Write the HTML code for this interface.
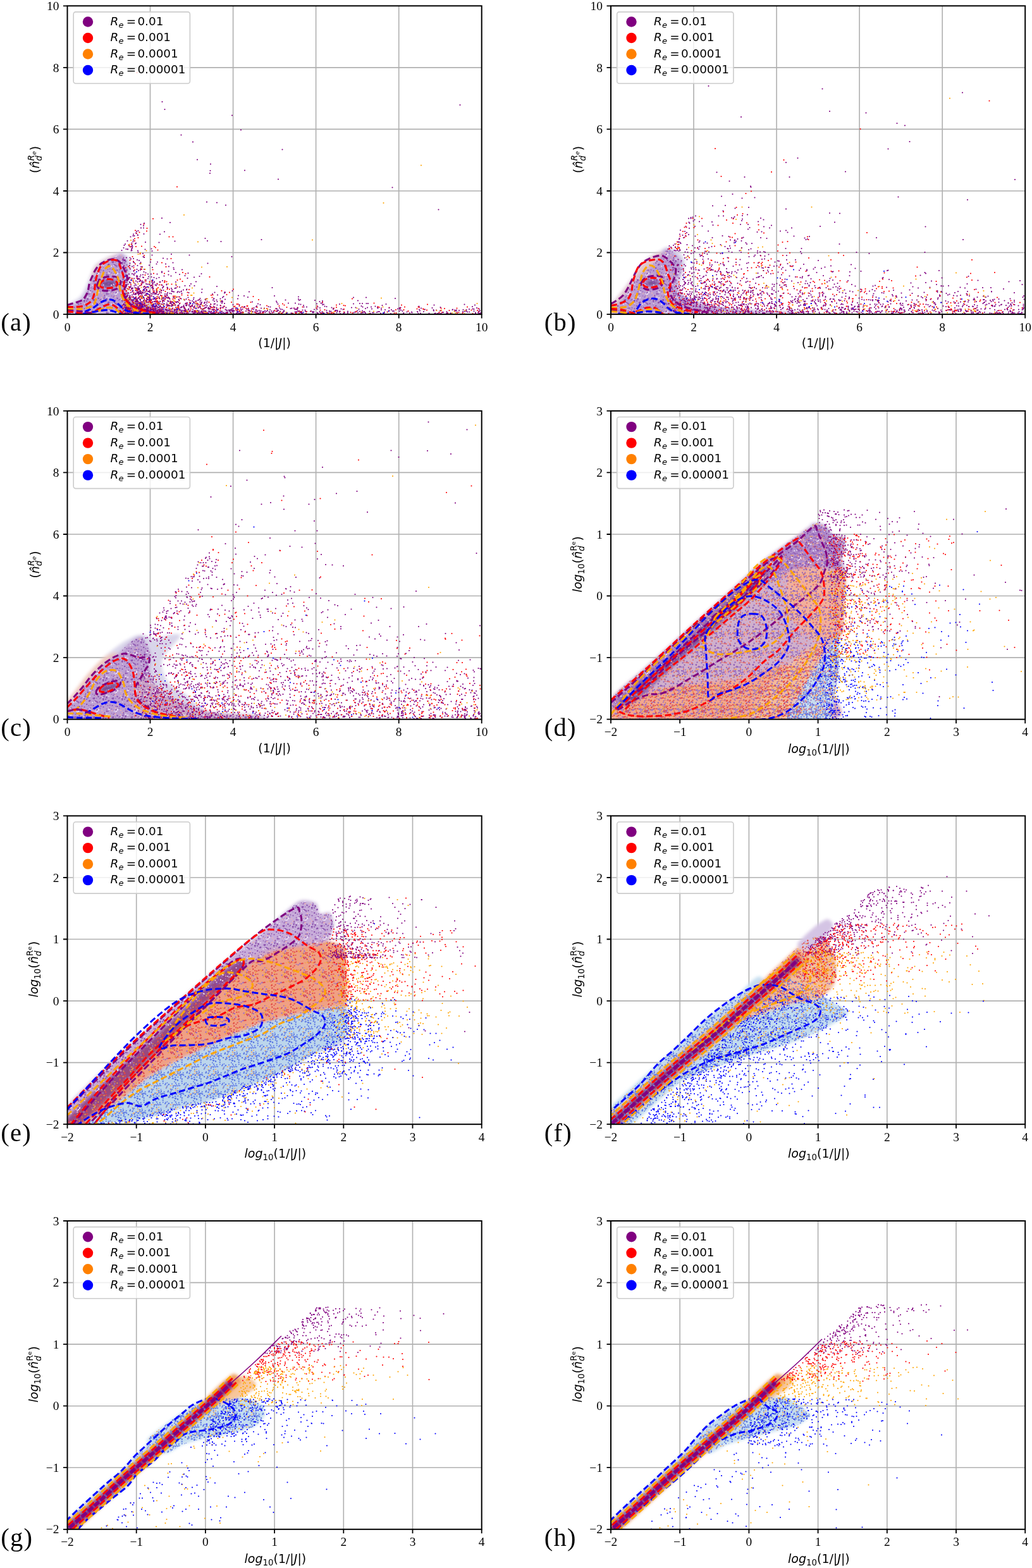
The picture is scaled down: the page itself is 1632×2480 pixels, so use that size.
<!DOCTYPE html><html><head><meta charset="utf-8"><style>html,body{margin:0;padding:0;background:#fff;}svg{display:block;}</style></head><body><svg width="1632" height="2480" viewBox="0 0 1632 2480"><defs><pattern id="tp" width="30" height="30" patternUnits="userSpaceOnUse"><circle cx="13.6" cy="16.8" r="1.1" fill="#eab4b4"/><circle cx="15.2" cy="17.6" r="1.1" fill="#8a50ac"/><circle cx="18.9" cy="23.8" r="1.0" fill="#8a50ac"/><circle cx="2.7" cy="24.3" r="0.9" fill="#9c6cbc"/><circle cx="-0.5" cy="-1.1" r="1.1" fill="#9c6cbc"/><circle cx="-0.5" cy="28.9" r="1.1" fill="#9c6cbc"/><circle cx="29.5" cy="-1.1" r="1.1" fill="#9c6cbc"/><circle cx="29.5" cy="28.9" r="1.1" fill="#9c6cbc"/><circle cx="4.7" cy="0.5" r="0.9" fill="#9c6cbc"/><circle cx="4.7" cy="30.5" r="0.9" fill="#9c6cbc"/><circle cx="5.7" cy="7.3" r="1.1" fill="#8a50ac"/><circle cx="13.2" cy="25.3" r="1.1" fill="#9c6cbc"/><circle cx="15" cy="19.9" r="1.0" fill="#9c6cbc"/><circle cx="-0.1" cy="-0.1" r="1.1" fill="#e6d8f0"/><circle cx="-0.1" cy="29.9" r="1.1" fill="#e6d8f0"/><circle cx="29.9" cy="-0.1" r="1.1" fill="#e6d8f0"/><circle cx="29.9" cy="29.9" r="1.1" fill="#e6d8f0"/><circle cx="9.5" cy="6.9" r="0.9" fill="#8a50ac"/><circle cx="23" cy="12" r="1.0" fill="#e6d8f0"/><circle cx="-1.3" cy="25.4" r="1.0" fill="#8a50ac"/><circle cx="28.7" cy="25.4" r="1.0" fill="#8a50ac"/><circle cx="27.3" cy="14.1" r="1.0" fill="#eab4b4"/><circle cx="2.2" cy="18.9" r="1.0" fill="#e6d8f0"/><circle cx="2.6" cy="10" r="1.2" fill="#eab4b4"/><circle cx="3.5" cy="7.4" r="0.9" fill="#8a50ac"/><circle cx="23.9" cy="5.3" r="1.1" fill="#9c6cbc"/><circle cx="5.7" cy="22" r="1.1" fill="#8a50ac"/><circle cx="3.5" cy="12.6" r="1.0" fill="#8a50ac"/><circle cx="-0.9" cy="24.1" r="1.2" fill="#8a50ac"/><circle cx="29.1" cy="24.1" r="1.2" fill="#8a50ac"/><circle cx="6.3" cy="11.8" r="1.1" fill="#e6d8f0"/><circle cx="3" cy="-0.3" r="1.0" fill="#8a50ac"/><circle cx="3" cy="29.7" r="1.0" fill="#8a50ac"/><circle cx="23.2" cy="9.9" r="0.9" fill="#8a50ac"/><circle cx="2.7" cy="17.5" r="1.1" fill="#8a50ac"/><circle cx="11.2" cy="13.6" r="1.1" fill="#eab4b4"/><circle cx="17.2" cy="26" r="1.0" fill="#8a50ac"/><circle cx="27.3" cy="24.5" r="1.0" fill="#8a50ac"/><circle cx="22.2" cy="-1.8" r="1.2" fill="#8a50ac"/><circle cx="22.2" cy="28.2" r="1.2" fill="#8a50ac"/><circle cx="26.5" cy="18.1" r="0.9" fill="#9c6cbc"/><circle cx="1.2" cy="-1.1" r="1.1" fill="#8a50ac"/><circle cx="1.2" cy="28.9" r="1.1" fill="#8a50ac"/><circle cx="31.2" cy="-1.1" r="1.1" fill="#8a50ac"/><circle cx="31.2" cy="28.9" r="1.1" fill="#8a50ac"/><circle cx="7.7" cy="24.7" r="1.0" fill="#9c6cbc"/><circle cx="5.3" cy="21.6" r="1.0" fill="#8a50ac"/><circle cx="16.8" cy="25.6" r="1.0" fill="#9c6cbc"/><circle cx="27.5" cy="6.1" r="1.0" fill="#8a50ac"/><circle cx="13.4" cy="1.8" r="1.0" fill="#8a50ac"/><circle cx="13.4" cy="31.8" r="1.0" fill="#8a50ac"/><circle cx="17.2" cy="3.9" r="1.2" fill="#8a50ac"/><circle cx="-0.6" cy="19.7" r="1.1" fill="#9c6cbc"/><circle cx="29.4" cy="19.7" r="1.1" fill="#9c6cbc"/><circle cx="4.2" cy="1.1" r="1.2" fill="#8a50ac"/><circle cx="4.2" cy="31.1" r="1.2" fill="#8a50ac"/><circle cx="21" cy="-1.1" r="1.1" fill="#8a50ac"/><circle cx="21" cy="28.9" r="1.1" fill="#8a50ac"/><circle cx="14.5" cy="21.9" r="1.2" fill="#8a50ac"/><circle cx="2.3" cy="16.4" r="1.2" fill="#e6d8f0"/><circle cx="22.1" cy="21.1" r="1.2" fill="#e6d8f0"/><circle cx="10.6" cy="20.6" r="1.2" fill="#eab4b4"/><circle cx="12.5" cy="23.7" r="1.1" fill="#e6d8f0"/><circle cx="18.7" cy="11.5" r="1.1" fill="#9c6cbc"/><circle cx="2.4" cy="19.2" r="1.2" fill="#eab4b4"/><circle cx="21.8" cy="11.7" r="1.1" fill="#e6d8f0"/><circle cx="13.2" cy="25.2" r="1.2" fill="#8a50ac"/><circle cx="0.9" cy="18" r="1.0" fill="#9c6cbc"/><circle cx="30.9" cy="18" r="1.0" fill="#9c6cbc"/><circle cx="21" cy="14.9" r="1.2" fill="#9c6cbc"/><circle cx="7.7" cy="0.3" r="1.1" fill="#8a50ac"/><circle cx="7.7" cy="30.3" r="1.1" fill="#8a50ac"/><circle cx="6.1" cy="5.1" r="1.1" fill="#eab4b4"/><circle cx="13.3" cy="26.8" r="1.1" fill="#8a50ac"/><circle cx="6" cy="12.9" r="1.2" fill="#e6d8f0"/><circle cx="26.4" cy="11.5" r="1.0" fill="#9c6cbc"/><circle cx="4.1" cy="14.9" r="1.2" fill="#e6d8f0"/><circle cx="21.3" cy="-1.5" r="1.0" fill="#8a50ac"/><circle cx="21.3" cy="28.5" r="1.0" fill="#8a50ac"/><circle cx="13.5" cy="8.3" r="1.0" fill="#8a50ac"/><circle cx="18.8" cy="14.8" r="1.2" fill="#8a50ac"/><circle cx="-0.5" cy="13.6" r="0.9" fill="#8a50ac"/><circle cx="29.5" cy="13.6" r="0.9" fill="#8a50ac"/><circle cx="26.2" cy="1.2" r="1.1" fill="#e6d8f0"/><circle cx="26.2" cy="31.2" r="1.1" fill="#e6d8f0"/><circle cx="9.3" cy="23.7" r="0.9" fill="#8a50ac"/><circle cx="13.6" cy="0.7" r="1.0" fill="#e6d8f0"/><circle cx="13.6" cy="30.7" r="1.0" fill="#e6d8f0"/><circle cx="4.2" cy="1.4" r="1.1" fill="#9c6cbc"/><circle cx="4.2" cy="31.4" r="1.1" fill="#9c6cbc"/><circle cx="18.9" cy="19.7" r="1.2" fill="#e6d8f0"/><circle cx="20.5" cy="6" r="1.0" fill="#9c6cbc"/><circle cx="0.3" cy="14.2" r="1.0" fill="#e6d8f0"/><circle cx="30.3" cy="14.2" r="1.0" fill="#e6d8f0"/><circle cx="8.2" cy="10.4" r="1.1" fill="#9c6cbc"/><circle cx="18.4" cy="22.7" r="1.2" fill="#8a50ac"/></pattern><pattern id="tm" width="30" height="30" patternUnits="userSpaceOnUse"><circle cx="14.2" cy="19.7" r="0.9" fill="#a078c8"/><circle cx="0.3" cy="11.2" r="1.2" fill="#9466b8"/><circle cx="30.3" cy="11.2" r="1.2" fill="#9466b8"/><circle cx="20.7" cy="18" r="1.1" fill="#e07070"/><circle cx="4.4" cy="13.2" r="1.2" fill="#9466b8"/><circle cx="1.8" cy="24.6" r="1.1" fill="#9466b8"/><circle cx="31.8" cy="24.6" r="1.1" fill="#9466b8"/><circle cx="10.1" cy="12.1" r="0.9" fill="#f0a0a0"/><circle cx="1.8" cy="27.5" r="0.9" fill="#e07070"/><circle cx="31.8" cy="27.5" r="0.9" fill="#e07070"/><circle cx="-0.4" cy="-1.6" r="1.0" fill="#9466b8"/><circle cx="-0.4" cy="28.4" r="1.0" fill="#9466b8"/><circle cx="29.6" cy="-1.6" r="1.0" fill="#9466b8"/><circle cx="29.6" cy="28.4" r="1.0" fill="#9466b8"/><circle cx="4.1" cy="9.4" r="1.0" fill="#a078c8"/><circle cx="20.9" cy="1.5" r="1.2" fill="#9466b8"/><circle cx="20.9" cy="31.5" r="1.2" fill="#9466b8"/><circle cx="12" cy="12.6" r="1.1" fill="#a078c8"/><circle cx="11.5" cy="0.9" r="1.2" fill="#a078c8"/><circle cx="11.5" cy="30.9" r="1.2" fill="#a078c8"/><circle cx="-0.7" cy="19.9" r="1.0" fill="#e07070"/><circle cx="29.3" cy="19.9" r="1.0" fill="#e07070"/><circle cx="20.7" cy="20.2" r="1.0" fill="#9466b8"/><circle cx="10.9" cy="15.3" r="1.1" fill="#f0a0a0"/><circle cx="0.8" cy="24.7" r="1.1" fill="#e07070"/><circle cx="30.8" cy="24.7" r="1.1" fill="#e07070"/><circle cx="6.7" cy="12.8" r="1.2" fill="#e07070"/><circle cx="3.1" cy="16.5" r="1.1" fill="#9466b8"/><circle cx="1.1" cy="8.3" r="1.1" fill="#e07070"/><circle cx="31.1" cy="8.3" r="1.1" fill="#e07070"/><circle cx="1.6" cy="13.8" r="1.0" fill="#9466b8"/><circle cx="31.6" cy="13.8" r="1.0" fill="#9466b8"/><circle cx="14.3" cy="-1.2" r="1.2" fill="#e07070"/><circle cx="14.3" cy="28.8" r="1.2" fill="#e07070"/><circle cx="5" cy="27.7" r="1.0" fill="#e07070"/><circle cx="22.5" cy="27.4" r="1.0" fill="#9466b8"/><circle cx="23.1" cy="10.3" r="0.9" fill="#9466b8"/><circle cx="1.2" cy="18.6" r="1.2" fill="#f0a860"/><circle cx="31.2" cy="18.6" r="1.2" fill="#f0a860"/><circle cx="15.1" cy="0.7" r="1.2" fill="#9466b8"/><circle cx="15.1" cy="30.7" r="1.2" fill="#9466b8"/><circle cx="25" cy="19.2" r="1.1" fill="#9466b8"/><circle cx="14.3" cy="18.8" r="1.2" fill="#9466b8"/><circle cx="26.8" cy="4.9" r="1.2" fill="#9466b8"/><circle cx="8.3" cy="-1.7" r="1.1" fill="#e07070"/><circle cx="8.3" cy="28.3" r="1.1" fill="#e07070"/><circle cx="21.1" cy="6.4" r="1.0" fill="#9466b8"/><circle cx="20.5" cy="20.8" r="1.2" fill="#9466b8"/><circle cx="12.6" cy="7.2" r="1.2" fill="#e07070"/><circle cx="16.8" cy="18.7" r="1.2" fill="#f0a860"/><circle cx="22.8" cy="12.5" r="1.2" fill="#a078c8"/><circle cx="23.7" cy="17.4" r="1.0" fill="#e07070"/><circle cx="22.1" cy="16.9" r="1.1" fill="#9466b8"/><circle cx="27.1" cy="23.9" r="1.2" fill="#f0a0a0"/><circle cx="16" cy="23.7" r="0.9" fill="#e07070"/><circle cx="10.6" cy="9.4" r="1.1" fill="#f0a860"/><circle cx="16.2" cy="18.7" r="1.1" fill="#9466b8"/><circle cx="21" cy="11.8" r="1.0" fill="#9466b8"/><circle cx="9.7" cy="20.6" r="0.9" fill="#9466b8"/><circle cx="9.4" cy="20.9" r="1.1" fill="#f0a0a0"/><circle cx="-2" cy="11" r="1.1" fill="#9466b8"/><circle cx="28" cy="11" r="1.1" fill="#9466b8"/><circle cx="13.3" cy="5.4" r="1.0" fill="#a078c8"/><circle cx="7.2" cy="9.8" r="0.9" fill="#f0a860"/><circle cx="10.8" cy="8.4" r="1.1" fill="#9466b8"/><circle cx="6.6" cy="27.6" r="1.1" fill="#e07070"/><circle cx="4.9" cy="13.9" r="1.2" fill="#a078c8"/><circle cx="7.5" cy="13.8" r="1.2" fill="#f0a0a0"/><circle cx="6.8" cy="16.1" r="1.0" fill="#f0a0a0"/><circle cx="20.2" cy="19.9" r="1.1" fill="#f0a860"/><circle cx="20.4" cy="10.5" r="1.0" fill="#a078c8"/><circle cx="15" cy="10.8" r="0.9" fill="#9466b8"/><circle cx="6.8" cy="16.3" r="0.9" fill="#9466b8"/><circle cx="24.1" cy="8.6" r="1.1" fill="#f0a860"/><circle cx="11.7" cy="26.2" r="1.0" fill="#f0a0a0"/><circle cx="3.8" cy="19.2" r="1.1" fill="#f0a0a0"/><circle cx="23.5" cy="12.4" r="1.0" fill="#a078c8"/><circle cx="12.2" cy="11.4" r="1.0" fill="#e07070"/><circle cx="24.2" cy="5.1" r="1.0" fill="#9466b8"/><circle cx="-0.9" cy="15.7" r="1.2" fill="#9466b8"/><circle cx="29.1" cy="15.7" r="1.2" fill="#9466b8"/><circle cx="26.2" cy="24.6" r="1.2" fill="#e07070"/><circle cx="9.2" cy="4.1" r="1.2" fill="#f0a0a0"/><circle cx="6.3" cy="26.4" r="1.0" fill="#9466b8"/><circle cx="0.4" cy="5.1" r="1.2" fill="#9466b8"/><circle cx="30.4" cy="5.1" r="1.2" fill="#9466b8"/><circle cx="8.9" cy="5.7" r="1.0" fill="#9466b8"/><circle cx="25.9" cy="18.2" r="1.1" fill="#9466b8"/><circle cx="16.1" cy="13.5" r="1.1" fill="#e07070"/><circle cx="24" cy="15.2" r="1.1" fill="#a078c8"/><circle cx="19" cy="11.7" r="1.1" fill="#e07070"/><circle cx="21.5" cy="8.4" r="1.1" fill="#f0a860"/><circle cx="25.7" cy="20.7" r="1.1" fill="#f0a860"/><circle cx="12.8" cy="12.2" r="1.2" fill="#a078c8"/><circle cx="25.2" cy="3.9" r="0.9" fill="#9466b8"/><circle cx="2.5" cy="1.7" r="1.0" fill="#9466b8"/><circle cx="2.5" cy="31.7" r="1.0" fill="#9466b8"/><circle cx="3.4" cy="20.6" r="1.2" fill="#a078c8"/></pattern><pattern id="tr" width="30" height="30" patternUnits="userSpaceOnUse"><circle cx="7.8" cy="20.6" r="1.2" fill="#f0a040"/><circle cx="5.6" cy="6.9" r="1.0" fill="#e04848"/><circle cx="22" cy="3.9" r="1.0" fill="#f0a040"/><circle cx="8.8" cy="12.9" r="1.1" fill="#a070c0"/><circle cx="0.4" cy="8.3" r="1.2" fill="#e04848"/><circle cx="30.4" cy="8.3" r="1.2" fill="#e04848"/><circle cx="24.3" cy="24.2" r="1.2" fill="#a070c0"/><circle cx="-1.5" cy="23.8" r="1.2" fill="#e04848"/><circle cx="28.5" cy="23.8" r="1.2" fill="#e04848"/><circle cx="14.6" cy="22.7" r="1.1" fill="#f0a040"/><circle cx="10.9" cy="12.9" r="0.9" fill="#e04848"/><circle cx="24.6" cy="23.9" r="1.1" fill="#a070c0"/><circle cx="16.6" cy="22.5" r="1.1" fill="#e04848"/><circle cx="13.3" cy="5.3" r="1.1" fill="#e04848"/><circle cx="7.6" cy="13.8" r="1.0" fill="#f0a040"/><circle cx="3.9" cy="14.7" r="1.0" fill="#e04848"/><circle cx="5.8" cy="11" r="1.1" fill="#e04848"/><circle cx="-1.4" cy="11.7" r="1.2" fill="#f0a040"/><circle cx="28.6" cy="11.7" r="1.2" fill="#f0a040"/><circle cx="1.3" cy="4.3" r="1.2" fill="#a070c0"/><circle cx="31.3" cy="4.3" r="1.2" fill="#a070c0"/><circle cx="19.2" cy="4.8" r="1.2" fill="#e04848"/><circle cx="26.6" cy="24.1" r="1.2" fill="#e04848"/><circle cx="11.2" cy="21.5" r="1.2" fill="#e04848"/><circle cx="18.1" cy="21.7" r="1.1" fill="#e04848"/><circle cx="17.4" cy="17.7" r="1.2" fill="#e04848"/><circle cx="10.2" cy="8.9" r="1.1" fill="#e04848"/><circle cx="3.4" cy="6.8" r="1.1" fill="#e04848"/><circle cx="16.7" cy="16.3" r="1.1" fill="#e04848"/><circle cx="10.3" cy="2.8" r="1.2" fill="#e04848"/><circle cx="3.6" cy="9" r="1.1" fill="#e04848"/><circle cx="2.3" cy="14.1" r="1.2" fill="#e04848"/><circle cx="0.2" cy="10" r="1.2" fill="#f0a040"/><circle cx="30.2" cy="10" r="1.2" fill="#f0a040"/><circle cx="15.5" cy="14.2" r="1.0" fill="#f0a040"/><circle cx="1" cy="15" r="1.2" fill="#a070c0"/><circle cx="31" cy="15" r="1.2" fill="#a070c0"/><circle cx="7.7" cy="20.5" r="1.0" fill="#a070c0"/><circle cx="17.6" cy="10.7" r="1.0" fill="#e04848"/><circle cx="6.1" cy="10.5" r="1.0" fill="#e04848"/><circle cx="2.6" cy="22.7" r="0.9" fill="#f0a040"/><circle cx="23.2" cy="5.7" r="1.1" fill="#f0a040"/><circle cx="10" cy="8.7" r="0.9" fill="#e04848"/><circle cx="25.9" cy="3.4" r="1.0" fill="#a070c0"/><circle cx="9.1" cy="11.7" r="0.9" fill="#e04848"/><circle cx="10.8" cy="13.3" r="1.2" fill="#a070c0"/><circle cx="1.3" cy="16.1" r="1.2" fill="#e04848"/><circle cx="31.3" cy="16.1" r="1.2" fill="#e04848"/><circle cx="9.7" cy="26.8" r="0.9" fill="#f0a040"/><circle cx="0.1" cy="7.4" r="1.0" fill="#a070c0"/><circle cx="30.1" cy="7.4" r="1.0" fill="#a070c0"/><circle cx="14.4" cy="11.1" r="1.2" fill="#e04848"/><circle cx="6.4" cy="21.6" r="1.2" fill="#f0a040"/><circle cx="15.6" cy="27.6" r="1.1" fill="#e04848"/><circle cx="18.6" cy="25.2" r="0.9" fill="#a070c0"/><circle cx="4.1" cy="16" r="1.1" fill="#a070c0"/><circle cx="9" cy="-1.1" r="0.9" fill="#e04848"/><circle cx="9" cy="28.9" r="0.9" fill="#e04848"/><circle cx="1.6" cy="0.9" r="0.9" fill="#f0a040"/><circle cx="1.6" cy="30.9" r="0.9" fill="#f0a040"/><circle cx="31.6" cy="0.9" r="0.9" fill="#f0a040"/><circle cx="31.6" cy="30.9" r="0.9" fill="#f0a040"/><circle cx="21.5" cy="26" r="1.2" fill="#a070c0"/><circle cx="12.7" cy="18.7" r="1.2" fill="#a070c0"/><circle cx="8.7" cy="22.9" r="1.0" fill="#e04848"/><circle cx="-0.1" cy="14.1" r="1.2" fill="#e04848"/><circle cx="29.9" cy="14.1" r="1.2" fill="#e04848"/><circle cx="13.5" cy="0.1" r="1.0" fill="#e04848"/><circle cx="13.5" cy="30.1" r="1.0" fill="#e04848"/><circle cx="10" cy="-1.9" r="1.2" fill="#e04848"/><circle cx="10" cy="28.1" r="1.2" fill="#e04848"/><circle cx="25.6" cy="12.5" r="1.2" fill="#a070c0"/><circle cx="14.5" cy="7.8" r="1.2" fill="#f0a040"/><circle cx="16.1" cy="5.8" r="1.1" fill="#e04848"/><circle cx="5.7" cy="17.2" r="1.2" fill="#e04848"/><circle cx="5.4" cy="3.1" r="1.0" fill="#f0a040"/><circle cx="26.6" cy="14.9" r="1.2" fill="#f0a040"/><circle cx="6.4" cy="22.4" r="1.0" fill="#f0a040"/><circle cx="-1.2" cy="0.7" r="1.0" fill="#a070c0"/><circle cx="-1.2" cy="30.7" r="1.0" fill="#a070c0"/><circle cx="28.8" cy="0.7" r="1.0" fill="#a070c0"/><circle cx="28.8" cy="30.7" r="1.0" fill="#a070c0"/><circle cx="25.2" cy="4.6" r="1.1" fill="#e04848"/><circle cx="27.8" cy="7.7" r="1.1" fill="#f0a040"/></pattern><pattern id="tb" width="30" height="30" patternUnits="userSpaceOnUse"><circle cx="3.2" cy="21.1" r="1.2" fill="#6f88e8"/><circle cx="8.1" cy="7.7" r="1.1" fill="#6f88e8"/><circle cx="9.1" cy="20.5" r="1.2" fill="#5c78e2"/><circle cx="3.6" cy="6.7" r="1.0" fill="#f0b070"/><circle cx="7.8" cy="24.1" r="1.0" fill="#6f88e8"/><circle cx="16.5" cy="19.9" r="1.1" fill="#5c78e2"/><circle cx="3.7" cy="10.1" r="1.0" fill="#5c78e2"/><circle cx="-0.7" cy="12.1" r="1.1" fill="#f0b070"/><circle cx="29.3" cy="12.1" r="1.1" fill="#f0b070"/><circle cx="18.2" cy="26.2" r="0.9" fill="#6f88e8"/><circle cx="17.7" cy="19" r="0.9" fill="#5c78e2"/><circle cx="26.2" cy="15.4" r="1.1" fill="#5c78e2"/><circle cx="6.5" cy="23.9" r="0.9" fill="#5c78e2"/><circle cx="24.5" cy="2.7" r="0.9" fill="#5c78e2"/><circle cx="22.2" cy="3.4" r="0.9" fill="#5c78e2"/><circle cx="14.4" cy="20.6" r="1.1" fill="#5c78e2"/><circle cx="14.5" cy="13.1" r="0.9" fill="#6f88e8"/><circle cx="14.2" cy="7.1" r="1.2" fill="#6f88e8"/><circle cx="2" cy="4.3" r="1.1" fill="#6f88e8"/><circle cx="32" cy="4.3" r="1.1" fill="#6f88e8"/><circle cx="0.6" cy="21.1" r="1.0" fill="#f0b070"/><circle cx="30.6" cy="21.1" r="1.0" fill="#f0b070"/><circle cx="10.4" cy="17.1" r="1.0" fill="#f0b070"/><circle cx="9.1" cy="5.7" r="1.1" fill="#6f88e8"/><circle cx="7.7" cy="11.6" r="1.0" fill="#5c78e2"/><circle cx="-0.5" cy="17.6" r="1.2" fill="#5c78e2"/><circle cx="29.5" cy="17.6" r="1.2" fill="#5c78e2"/><circle cx="10.7" cy="7.5" r="1.0" fill="#5c78e2"/><circle cx="6" cy="6.9" r="1.0" fill="#6f88e8"/><circle cx="7.5" cy="18.1" r="1.0" fill="#f0b070"/><circle cx="22.8" cy="11.1" r="1.1" fill="#6f88e8"/><circle cx="-1.7" cy="22.7" r="1.2" fill="#5c78e2"/><circle cx="28.3" cy="22.7" r="1.2" fill="#5c78e2"/><circle cx="11" cy="11.5" r="1.1" fill="#f0b070"/><circle cx="23.2" cy="9.4" r="1.1" fill="#f0b070"/><circle cx="7.4" cy="-2" r="1.0" fill="#5c78e2"/><circle cx="7.4" cy="28" r="1.0" fill="#5c78e2"/><circle cx="7.9" cy="3.1" r="1.1" fill="#5c78e2"/><circle cx="4.2" cy="7.8" r="1.1" fill="#5c78e2"/><circle cx="11.4" cy="23.6" r="1.0" fill="#5c78e2"/><circle cx="12.8" cy="3.9" r="1.0" fill="#5c78e2"/><circle cx="21.8" cy="4.4" r="1.0" fill="#6f88e8"/><circle cx="19.4" cy="19.7" r="1.2" fill="#5c78e2"/><circle cx="19.7" cy="16.7" r="1.0" fill="#5c78e2"/><circle cx="8" cy="14.1" r="1.2" fill="#f0b070"/><circle cx="1.9" cy="20.4" r="1.1" fill="#f0b070"/><circle cx="31.9" cy="20.4" r="1.1" fill="#f0b070"/><circle cx="2.9" cy="26" r="1.2" fill="#5c78e2"/><circle cx="26.2" cy="24.9" r="0.9" fill="#f0b070"/><circle cx="23.8" cy="9.2" r="1.0" fill="#5c78e2"/><circle cx="17.7" cy="0.1" r="1.2" fill="#5c78e2"/><circle cx="17.7" cy="30.1" r="1.2" fill="#5c78e2"/><circle cx="14.9" cy="15.8" r="1.2" fill="#5c78e2"/><circle cx="7.4" cy="20.4" r="0.9" fill="#6f88e8"/><circle cx="-0.1" cy="7.1" r="1.2" fill="#f0b070"/><circle cx="29.9" cy="7.1" r="1.2" fill="#f0b070"/><circle cx="27" cy="25.7" r="1.1" fill="#5c78e2"/><circle cx="10.4" cy="-1.9" r="0.9" fill="#5c78e2"/><circle cx="10.4" cy="28.1" r="0.9" fill="#5c78e2"/><circle cx="-1.3" cy="24.2" r="1.2" fill="#6f88e8"/><circle cx="28.7" cy="24.2" r="1.2" fill="#6f88e8"/><circle cx="15.7" cy="25.1" r="1.2" fill="#5c78e2"/><circle cx="2.1" cy="13.1" r="1.2" fill="#6f88e8"/><circle cx="12.7" cy="20.4" r="1.0" fill="#f0b070"/><circle cx="6" cy="0.9" r="1.1" fill="#6f88e8"/><circle cx="6" cy="30.9" r="1.1" fill="#6f88e8"/><circle cx="11.6" cy="15.6" r="1.0" fill="#5c78e2"/><circle cx="7.1" cy="7.7" r="1.0" fill="#6f88e8"/><circle cx="2.7" cy="26" r="0.9" fill="#6f88e8"/><circle cx="20.3" cy="20.6" r="1.2" fill="#6f88e8"/><circle cx="12.7" cy="6.7" r="1.1" fill="#6f88e8"/><circle cx="21.1" cy="5.5" r="1.1" fill="#5c78e2"/><circle cx="11.5" cy="18.1" r="1.2" fill="#5c78e2"/><circle cx="10.5" cy="14.9" r="1.0" fill="#6f88e8"/><circle cx="5.3" cy="19.1" r="1.2" fill="#5c78e2"/><circle cx="8.2" cy="27.1" r="1.0" fill="#5c78e2"/><circle cx="15.6" cy="20.5" r="1.1" fill="#5c78e2"/><circle cx="11.1" cy="-1.2" r="1.2" fill="#5c78e2"/><circle cx="11.1" cy="28.8" r="1.2" fill="#5c78e2"/><circle cx="0.7" cy="15.2" r="0.9" fill="#5c78e2"/><circle cx="30.7" cy="15.2" r="0.9" fill="#5c78e2"/><circle cx="17.7" cy="27.1" r="1.0" fill="#5c78e2"/><circle cx="14.3" cy="18.2" r="1.0" fill="#5c78e2"/><circle cx="25.6" cy="16.7" r="1.2" fill="#5c78e2"/><circle cx="0" cy="13" r="1.0" fill="#5c78e2"/><circle cx="30" cy="13" r="1.0" fill="#5c78e2"/><circle cx="26.9" cy="5.2" r="1.2" fill="#5c78e2"/><circle cx="3.4" cy="25.5" r="1.0" fill="#5c78e2"/><circle cx="17.8" cy="3.4" r="1.1" fill="#6f88e8"/><circle cx="23.1" cy="22.9" r="1.2" fill="#5c78e2"/><circle cx="24.6" cy="7.3" r="1.0" fill="#6f88e8"/><circle cx="16.2" cy="22.6" r="1.1" fill="#5c78e2"/><circle cx="3.9" cy="25.9" r="1.2" fill="#6f88e8"/><circle cx="2.4" cy="22.4" r="1.1" fill="#5c78e2"/><circle cx="6.9" cy="27" r="1.1" fill="#5c78e2"/></pattern><filter id="soft" x="-5%" y="-5%" width="110%" height="110%"><feGaussianBlur stdDeviation="2.5"/></filter></defs><path d="M237.5 9.3V497.1M368.6 9.3V497.1M499.6 9.3V497.1M630.7 9.3V497.1M106.5 399.5H761.7M106.5 302H761.7M106.5 204.4H761.7M106.5 106.9H761.7" stroke="#b0b0b0" stroke-width="1.6" fill="none"/><clipPath id="clip-a"><rect x="106.5" y="9.3" width="655.2" height="487.8"/></clipPath><g clip-path="url(#clip-a)"><g filter="url(#soft)"><path d="M106 481.8C106.4 480 106.7 482.1 109.1 480.7C111.5 479.3 123.3 473 126.5 469.6C129.7 466.1 133.9 456.9 136.7 451.2C139.4 445.5 146.3 425.5 149.9 420.5C153.4 415.5 163.5 410.4 167.3 408.3C171.1 406.1 179.7 403 182.6 402.1C185.5 401.3 190 400.2 192.2 400.6C194.4 401.1 200.2 404.2 201.8 406C203.3 407.7 204.9 413.1 205.6 415.6C206.3 418 207.5 424.1 207.5 427C207.5 430 206.2 437.8 205.6 440.5C205.1 443.1 203.2 447.8 202.7 450C202.3 452.3 201.2 457.2 201.8 459.6C202.3 462.1 205.3 468.7 207.5 471.1C209.8 473.6 217.1 478.8 220.9 480.7C224.7 482.6 234.5 486.1 240.1 487.4C245.7 488.7 262.1 491.3 268.8 492.2C275.5 493.1 294.2 494.6 297.6 495.1C300.9 495.5 319.9 496.2 297.6 496.4C275.2 496.6 128.3 498.1 106 496.4C83.7 494.7 105.6 483.7 106 481.8Z" fill="#d9d5ea"/><path d="M143.4 440.5C144 437.6 147.1 425.3 149.9 421.7C152.7 418.1 163.5 411.6 167.3 409.4C171.1 407.3 180.3 403.8 182.6 403.1C185 402.4 188.7 402.5 187.4 403.7C186.1 404.8 174.6 411 171.3 413.1C168 415.2 161.7 419.1 159.1 421.7C156.5 424.3 150.6 432.2 148.9 435.1C147.2 438 145 445.6 144.3 446.2C143.7 446.8 142.7 443.3 143.4 440.5Z" fill="#e2c6cc"/><path d="M106 485.5C107.6 483.6 116.5 481.9 119.4 480.3C122.3 478.7 128.3 475.4 130.9 472.1C133.5 468.8 139.7 456.3 141.8 452C143.9 447.6 146.9 438.3 148.9 434.7C150.9 431.1 156.5 423.9 159.1 421.3C161.7 418.7 168.2 414.8 171.3 412.7C174.4 410.6 183.3 404.9 185.7 403.5C188.1 402.1 191 400.5 192.2 400.6C193.4 400.7 195.1 402.8 196 404.1C196.9 405.4 199.2 409.5 199.9 411.7C200.5 414 201.7 420.3 201.8 423.2C201.9 426.1 201.3 433.7 200.8 436.6C200.4 439.5 198.3 445.4 198 448.1C197.6 450.8 197.1 457 198 459.6C198.8 462.2 202.9 468 205.6 470.2C208.3 472.3 216.9 476.3 220.9 477.8C225 479.4 234.5 482.3 240.1 483.6C245.7 484.8 262.1 487.8 268.8 488.7C275.5 489.7 285.9 491.2 297.6 491.8C309.2 492.4 360.2 493.6 368.5 494.1C376.7 494.6 399.1 496.1 368.5 496.4C337.8 496.7 136.6 497.7 106 496.4C75.4 495.1 104.4 487.4 106 485.5Z" fill="#bb9dd3"/><path d="M158.7 449.7C159 448.6 162.8 445.1 164.4 444.3C166.1 443.5 170.9 442.7 173 442.8C175.2 442.8 181.2 443.9 182.6 444.7C184 445.4 185.3 448.1 184.9 449.1C184.6 450.1 181.6 452.8 179.8 453.5C177.9 454.1 171.3 454.7 169.2 454.6C167.1 454.6 162.8 453.7 161.6 453.1C160.3 452.5 158.3 450.7 158.7 449.7Z" fill="#6a3c84" fill-opacity="0.85"/></g><path d="M106 485.5C107.6 483.6 116.5 481.9 119.4 480.3C122.3 478.7 128.3 475.4 130.9 472.1C133.5 468.8 139.7 456.3 141.8 452C143.9 447.6 146.9 438.3 148.9 434.7C150.9 431.1 156.5 423.9 159.1 421.3C161.7 418.7 168.2 414.8 171.3 412.7C174.4 410.6 183.3 404.9 185.7 403.5C188.1 402.1 191 400.5 192.2 400.6C193.4 400.7 195.1 402.8 196 404.1C196.9 405.4 199.2 409.5 199.9 411.7C200.5 414 201.7 420.3 201.8 423.2C201.9 426.1 201.3 433.7 200.8 436.6C200.4 439.5 198.3 445.4 198 448.1C197.6 450.8 197.1 457 198 459.6C198.8 462.2 202.9 468 205.6 470.2C208.3 472.3 216.9 476.3 220.9 477.8C225 479.4 234.5 482.3 240.1 483.6C245.7 484.8 262.1 487.8 268.8 488.7C275.5 489.7 285.9 491.2 297.6 491.8C309.2 492.4 360.2 493.6 368.5 494.1C376.7 494.6 399.1 496.1 368.5 496.4C337.8 496.7 136.6 497.7 106 496.4C75.4 495.1 104.4 487.4 106 485.5Z" fill="url(#tp)"/><path d="M216.5 115h0m63.5 180.5h0m-52.5 59h0m14.5-8.5h0m-38.5 41.5h0m2.5 3h0m2-4h0m5-9h0m0 3.5h0m1-16.5h0m1 25.5h0m1-21h0m2.5 7h0m2-8.5h0m3.5 22h0m8-24h0m0.5-4.5h0m11.5 29h0m2 1.5h0m3.5 4h0m18-21h0m6 0h0m-78.5 65h0m1-2.5h0m3-13.5h0m0.5 6.5h0m3.5-8.5h0m2-1.5h0m0 3.5h0m0.5-12h0m0 28h0m4-33.5h0m1.5 7.5h0m0.5 10h0m1.5 3.5h0m1-9.5h0m7.5-16h0m2.5 24.5h0m4-19h0m0-3h0m1.5 31h0m9-24.5h0m3 16h0m1.5 6h0m13-17h0m4 17h0m2.5-10.5h0m8-13h0m18.5 22h0m4.5 2h0m38 5h0m-135 37h0m0.5-19.5h0m0-11.5h0m1 14.5h0m1.5 19h0m0.5-17.5h0m0 0.5h0m0.5 15.5h0m0-2h0m0.5-5h0m0-29h0m0.5 16.5h0m1-14.5h0m0.5 21.5h0m0 12h0m1-22h0m0.5 2h0m0 22.5h0m1.5-6h0m0.5-13h0m0.5-9h0m1.5 19.5h0m0-29h0m0.5 0h0m0.5 37h0m1-33h0m0.5 34.5h0m0.5-0.5h0m0-16h0m3 15h0m0-21.5h0m0.5 9h0m0 6h0m0-12h0m1.5-19h0m0 18.5h0m0.5 15.5h0m0.5-14.5h0m0.5 4.5h0m1.5 0h0m0.5 14.5h0m0.5-22h0m0 12.5h0m1-26.5h0m0.5 25.5h0m1-17h0m0 13h0m0.5 5.5h0m0-21h0m0.5 15h0m0.5 8.5h0m0 7.5h0m0.5-2h0m0-30.5h0m1 12.5h0m2 12h0m0.5-18.5h0m0.5 0h0m0.5-10h0m0.5 33.5h0m0.5-31h0m1 15h0m0 7h0m0.5 4.5h0m1 1h0m1 5h0m0.5-23h0m0.5 16.5h0m0.5 5.5h0m0.5-2h0m0.5-29.5h0m1 31.5h0m0 2h0m0.5-3h0m0.5 2.5h0m1 0.5h0m0-3.5h0m0-7.5h0m0 11.5h0m0-28.5h0m0 22.5h0m0.5-29h0m0.5-1h0m1 9h0m0 6h0m1 3h0m0 8h0m1.5 7.5h0m0-15.5h0m0.5 15.5h0m2-3h0m1-15h0m0 18.5h0m0-20.5h0m0 5.5h0m0.5 10h0m0.5 6.5h0m0-3h0m0-7h0m0-20.5h0m0 24h0m0.5 3.5h0m0.5 2h0m0.5-23h0m1.5 24.5h0m0-0.5h0m0.5-6.5h0m0-22h0m0.5 13h0m2 4h0m0.5-7.5h0m0-9.5h0m1 17.5h0m1 8h0m3-29.5h0m0.5 27.5h0m0-30h0m0 2h0m0 22.5h0m1-7.5h0m0.5 7.5h0m1.5-23h0m1 12h0m0.5-1.5h0m1 15.5h0m0.5-1h0m1.5-13h0m0.5 22h0m1.5-3h0m1.5-27h0m0 28h0m2-4.5h0m0.5-4.5h0m2 0h0m0.5 4h0m0.5 5h0m3.5-34.5h0m0 10.5h0m1 16h0m2 6h0m1 4h0m0.5-7.5h0m0-30.5h0m2.5 25h0m1-21.5h0m6.5 13h0m1.5 4.5h0m0.5 4.5h0m1.5 7h0m0.5-16h0m1 20.5h0m9.5-1h0m2 2h0m3.5-5.5h0m15.5 4h0m3.5-11h0m1.5 3.5h0m1-4h0m14-6.5h0m8 6h0m4.5-3.5h0m3 15.5h0m3-20.5h0m27.5 20.5h0m4-9h0m8.5 5h0m101 4h0m47-5.5h0m34.5 7h0m-398 16.5h0m0-12.5h0m1 4h0m0.5 4h0m1.5-5.5h0m0 6h0m0 3.5h0m3.5-10.5h0m0.5 5.5h0m0.5 4h0m0-9h0m0.5-4h0m0.5 5.5h0m0 2h0m0.5-5h0m0 4.5h0m1-3h0m0 4h0m1.5 1.5h0m0-2.5h0m0.5 4.5h0m0-8.5h0m0.5 9.5h0m0-4.5h0m0 4h0m0-6h0m0.5-7h0m2 12.5h0m1-5.5h0m0 4h0m0.5 3h0m0.5-0.5h0m0.5 1h0m0.5-4h0m1 1h0m0.5-8h0m0 10.5h0m0.5-3h0m0.5-4h0m0 2.5h0m0.5 0h0m0-5h0m1 3.5h0m0.5-7h0m0 5h0m0.5-4h0m0 13.5h0m0-14.5h0m0.5 11h0m0-10.5h0m0.5 3.5h0m0-3.5h0m1 11.5h0m0 1h0m0 0h0m0-1.5h0m0.5-3h0m1.5-6.5h0m0-1.5h0m0 2.5h0m0.5-3h0m0 7h0m0-4.5h0m1 11h0m0.5-8h0m0-6h0m0.5 4h0m0 7h0m1 4h0m0-1.5h0m0.5-6h0m0 1h0m0-3h0m0.5-0.5h0m1 4.5h0m0-9h0m0 13.5h0m0-6h0m1-8h0m2 3h0m0-2h0m0.5 10.5h0m1-3.5h0m0.5 1.5h0m0-0.5h0m0.5 1.5h0m0-9h0m0 10.5h0m0.5-7h0m0.5 2h0m1.5 4h0m1 0h0m0.5 2.5h0m1.5-5h0m1-2h0m0 8h0m2 0.5h0m1.5-13.5h0m0.5 6.5h0m0-1.5h0m0-6.5h0m0.5 8h0m3 2.5h0m0 3.5h0m0-14.5h0m1 7h0m2.5 3h0m0.5 1.5h0m0.5-11h0m0.5-0.5h0m0.5 13.5h0m0 0h0m1.5-5.5h0m1-4.5h0m0.5 8h0m0.5-1h0m0 2h0m1-12h0m0.5 6.5h0m0 7.5h0m0.5 0.5h0m0.5-5.5h0m0 3.5h0m1 1h0m1-8h0m0 6h0m1 3h0m3-9h0m0.5-1h0m2-3.5h0m2.5 5.5h0m0.5-4h0m1 6h0m1.5 5h0m0.5-2.5h0m0.5-9.5h0m0 13h0m0.5-13.5h0m0.5 5.5h0m1 8h0m1-15.5h0m1 0h0m1.5 2.5h0m0 7h0m3-3.5h0m0 9.5h0m2-7.5h0m0-1.5h0m0-2h0m2 10h0m0 0.5h0m3.5 0.5h0m4-9h0m2 3.5h0m0.5 2.5h0m1 0h0m0-10h0m0 13h0m0-15h0m0.5 13h0m1 0h0m3.5-2.5h0m0.5-6h0m1 0.5h0m0 3h0m0-3.5h0m2-2.5h0m3 4.5h0m0.5 6h0m0-1h0m0-0.5h0m2 0h0m0.5-4h0m2.5-7h0m1 5.5h0m1-4.5h0m2 14.5h0m1-8h0m3.5-4h0m0.5 9.5h0m2-6h0m4.5 7.5h0m1 0.5h0m1.5-7.5h0m2.5 0.5h0m0.5-7h0m1 4.5h0m1 9.5h0m1-9h0m0.5 4h0m0.5 5.5h0m1.5-6.5h0m0 3.5h0m0.5-7h0m1 9h0m0.5-4h0m1.5 3h0m0.5-0.5h0m2-4.5h0m0.5 5.5h0m2.5-3h0m0.5-3h0m0.5-5h0m3.5 3.5h0m2.5-2.5h0m3 10h0m1 1h0m11-10.5h0m1.5-0.5h0m1.5 5.5h0m0-3h0m1.5-6h0m0.5 9.5h0m1.5-9.5h0m0 8h0m2-5h0m0 8.5h0m0-1h0m4-6h0m0 9h0m0.5-1h0m0.5-8h0m1.5 8.5h0m1-7.5h0m3 1h0m1.5-3.5h0m1 0h0m1 7.5h0m0-4h0m5 4h0m1.5-4h0m4 6.5h0m0.5 0h0m1.5-4h0m0 5h0m1.5-9h0m1 9.5h0m5 0.5h0m3-1h0m1-0.5h0m5.5-6.5h0m0-4.5h0m5 12h0m4-1h0m3-3.5h0m2.5 1h0m0-4h0m4 7h0m1-11h0m3.5 11.5h0m1 0h0m1-15h0m2.5 2h0m3 13.5h0m1-10h0m9.5 9.5h0m2-8h0m2.5 7.5h0m1 1h0m2-9.5h0m2 6h0m2.5 1.5h0m0.5-1h0m1.5 0h0m1.5-7.5h0m5.5 10.5h0m1-3h0m6-0.5h0m9.5-5.5h0m1-3h0m5 6.5h0m1.5 5h0m3.5-1h0m2-4.5h0m5 5h0m5.5 0h0m1.5-0.5h0m2 1h0m0.5-8h0m2 5h0m2-10h0m0 3.5h0m5.5 6.5h0m6-9.5h0m0.5 6h0m0 4.5h0m2-10h0m8.5 10.5h0m3 1h0m5.5-1.5h0m0.5-1h0m9 1.5h0m3.5-1h0m21.5-8h0m2 1h0m13 7.5h0m3-2h0m0-5h0m8 8.5h0m2.5-5h0m0.5 5h0m6.5-7.5h0m2-5h0m3.5 7.5h0m1.5-4.5h0m5.5 6.5h0m14-3.5h0m2-3h0m1.5 0.5h0m6 2.5h0m1.5 1h0m4.5 1h0m1-9h0m18.5 12.5h0m3-6.5h0m0 3.5h0m1.5 3h0m4-6h0m4.5 7h0m1 0.5h0m2-4.5h0m12-3.5h0m0.5 7.5h0m2.5-1h0m6 1h0m7.5-9.5h0m6.5 5h0m2 5.5h0m7.5-5h0m1.5-3h0m0.5 5h0" stroke="#ff0000" stroke-width="2.1" stroke-linecap="round" fill="none"/><path d="M256.5 161h0m4 12h0m106.5 9.5h0m360.5-16.5h0m-441 47.5h0m18.5 11h0m76-19h0m65.5 31h0m-134.5 16h0m20 21.5h0m0.5-4h0m0.5-10.5h0m54 10h0m-60 50h0m113-36h0m180.5 13h0m-398 58.5h0m4.5 2h0m1-4h0m28-8h0m13 7h0m74-31.5h0m14 4h0m336.5 7h0m-501 64.5h0m3-4h0m1-4h0m1.5-2h0m1.5 8h0m2-13h0m0.5 13.5h0m0 0h0m0-0.5h0m2.5-5h0m2-14.5h0m1 15.5h0m0 6.5h0m0.5-2.5h0m0.5-9.5h0m0 11.5h0m0.5-8h0m0 4.5h0m0-0.5h0m0.5-2h0m1-17h0m0 9h0m0.5-2.5h0m0-9h0m1.5 2.5h0m1.5 12.5h0m1-1h0m0-16h0m1-2.5h0m1.5 5.5h0m0.5 0.5h0m0 24.5h0m0.5-31.5h0m0 34h0m4.5-38.5h0m4 0h0m0.5 9.5h0m2 24.5h0m0.5-11.5h0m9.5 10.5h0m1 3.5h0m11-13.5h0m1.5-13h0m7-4h0m16.5 15h0m48-4.5h0m3.5 4h0m21.5 1h0m64-3h0m-220.5 50.5h0m1.5-19.5h0m1.5 10.5h0m0.5-8.5h0m0.5 16.5h0m0.5-17.5h0m2.5-3.5h0m0.5 20h0m3 12h0m0.5-6h0m0.5 5.5h0m0.5-19h0m0.5-3.5h0m0-9h0m0.5 18h0m1-16h0m2 23.5h0m0-11.5h0m2-7h0m0-5.5h0m0.5 24.5h0m0-13h0m0 7.5h0m0 1h0m0.5 6h0m0.5-19.5h0m1 16.5h0m2.5 5.5h0m0.5-11.5h0m0 10h0m0.5-25h0m0.5 26.5h0m0-17.5h0m1.5 8h0m1-16h0m1.5 25.5h0m0-20.5h0m0.5 10h0m0.5-12h0m0 20h0m0-10h0m0.5-3h0m2 0h0m1 12.5h0m0 4h0m0-37.5h0m0.5 5h0m0.5 33h0m0.5-9h0m0.5-23h0m0 19h0m2.5 5.5h0m3.5 2h0m1 4h0m1-18h0m2-5h0m1 19h0m0.5 4.5h0m1-34.5h0m0.5 19.5h0m2.5 16h0m4-21.5h0m1 16h0m0.5-19h0m2.5 24.5h0m4.5-8h0m0-1.5h0m2-21h0m1.5 28h0m2.5-19h0m2.5-8h0m2 25h0m0-5.5h0m0.5-7.5h0m3.5 15h0m0.5-34.5h0m2.5 13.5h0m1 8h0m0.5 2.5h0m3 5h0m6 3h0m4-7.5h0m4.5 9.5h0m5-4h0m2-28.5h0m7.5 35h0m8.5-1.5h0m3-4h0m10-16.5h0m38-10.5h0m-174.5 60h0m1.5-14.5h0m0 16.5h0m1.5 3.5h0m0-4h0m0 5h0m1.5-3h0m1-25.5h0m0 35h0m0.5-9h0m0-23.5h0m0.5 33h0m0-5h0m0 0h0m0.5-9.5h0m0 4.5h0m0.5 0.5h0m0.5-19.5h0m0 1.5h0m0 16h0m0.5 1h0m0-22.5h0m0 23h0m0 4h0m0.5-10h0m0.5 15.5h0m0-3.5h0m0.5-9h0m0 0.5h0m0 10.5h0m0-37.5h0m0.5 9.5h0m1-9h0m0 23h0m0-22h0m0.5 16h0m0 13.5h0m0.5 3h0m0-0.5h0m0.5 0h0m0-26.5h0m0-1h0m0 32.5h0m0-9h0m0.5-15.5h0m0 13.5h0m0 2h0m0.5 4h0m0-2.5h0m0-16.5h0m0.5-7h0m0.5 15h0m0-10h0m0-9.5h0m0.5 0h0m0.5 14h0m0 17.5h0m0-19h0m0.5 1h0m0.5 0h0m0 10h0m0.5-10h0m0 5h0m0-2h0m0.5-4h0m0 20.5h0m0.5-6h0m0 9h0m0-19.5h0m0.5 5h0m0 5h0m0 5h0m0-0.5h0m0.5-27.5h0m0.5-6h0m0 31.5h0m0-6.5h0m0.5 6h0m0-19.5h0m1 19h0m0-22h0m0 6h0m0.5 9h0m0 8.5h0m0-7.5h0m0 7h0m0 2.5h0m0 2.5h0m0.5-11h0m0-6.5h0m0.5-8.5h0m0 18.5h0m0-25h0m0 11.5h0m0 18h0m0.5 2h0m0-2h0m0-10h0m0.5 13h0m0.5-4.5h0m0-16.5h0m0 5.5h0m0 13h0m0-1.5h0m0 4.5h0m1-2h0m0-13.5h0m0-16h0m0 17h0m0-22.5h0m0 39h0m0-3h0m0.5-14h0m0-20.5h0m0 15.5h0m0.5-4h0m0 11h0m0 12.5h0m0-5.5h0m0-13h0m0-3h0m0.5-15h0m0 31.5h0m0-5.5h0m0 13h0m0-18h0m0-5.5h0m0 6h0m0.5-6h0m0 1.5h0m0 4h0m0 9.5h0m0.5-6.5h0m0.5-23.5h0m0 29.5h0m0-25.5h0m0 13h0m0 5.5h0m0.5 10h0m0-13h0m0-8.5h0m0 12.5h0m0.5 14.5h0m0-14.5h0m0 9h0m0-29h0m0.5 30.5h0m0-1.5h0m0-11h0m0-2.5h0m0.5-16h0m0 33.5h0m1-6h0m0-10h0m0 3h0m0.5-0.5h0m0 6h0m0-20h0m0.5 16.5h0m0-20.5h0m0 22h0m0 9.5h0m0.5-33h0m0.5 18.5h0m0.5 8.5h0m0-2.5h0m0-7h0m0-14.5h0m0.5 16h0m0.5-9.5h0m0 3.5h0m0 18h0m0.5-16h0m0 15.5h0m0 0h0m0 1h0m0 2h0m0-32h0m1 27.5h0m0 0h0m0.5-17h0m0 6.5h0m0-6h0m0 10h0m0-13.5h0m0 26h0m0.5-19h0m0.5 6h0m0 9h0m0.5-20.5h0m0.5-6h0m0 17.5h0m0-23.5h0m0.5 14.5h0m0 21h0m0-13.5h0m0-1h0m0.5 8.5h0m0-13.5h0m0-5h0m0 23h0m0-2h0m0 2.5h0m0-19.5h0m0 16.5h0m0.5-10h0m0.5-15h0m0.5 20.5h0m0.5-9h0m0-20.5h0m0 33.5h0m0-8.5h0m0.5 4h0m0 9h0m0.5-8.5h0m0.5-20.5h0m0 11.5h0m0.5 14.5h0m0-25.5h0m0 24h0m0-8h0m0.5-6.5h0m0 12.5h0m0.5-10h0m0 10h0m0-0.5h0m0-4h0m0 3h0m0-1.5h0m1-17h0m1 22.5h0m0.5-10h0m0 0.5h0m0.5-10h0m0 13h0m0-16h0m0.5-5h0m0 31h0m0.5-33h0m0.5 5h0m0 4h0m0-11h0m0 34.5h0m0-29h0m0 7.5h0m0.5 6.5h0m0 10.5h0m0-8h0m0.5-9h0m0 0.5h0m1-9.5h0m0 16h0m0-3.5h0m0 13h0m0.5-27h0m0 31h0m1-12.5h0m0 1.5h0m0 5.5h0m0.5 0.5h0m0-0.5h0m0-20.5h0m0 22.5h0m0.5 4.5h0m0.5-13.5h0m0 12h0m0.5-24.5h0m0.5-11h0m0 24.5h0m0-4.5h0m0 4.5h0m0.5 6.5h0m0.5-9.5h0m0-12.5h0m0.5 30h0m1-13.5h0m0.5 11.5h0m0-12h0m1 4h0m0.5 2h0m0.5-10.5h0m0-15h0m0 15.5h0m0.5 15h0m0.5-19h0m0-11.5h0m0 31h0m0.5-10h0m1-7.5h0m0 3.5h0m0.5-4h0m0 14.5h0m0.5-2.5h0m0.5-20h0m0.5 4.5h0m0 22.5h0m0-34h0m0.5 27.5h0m0 3.5h0m0.5-2.5h0m0-18.5h0m0.5 21h0m0-4.5h0m0-11.5h0m0-6h0m1 23.5h0m1-5h0m0.5-6.5h0m0 2.5h0m0.5 5h0m1-2.5h0m1-20.5h0m0 1h0m0.5 15h0m0 14h0m0-14.5h0m0 2.5h0m0 3.5h0m0.5-3.5h0m0-13h0m0.5 21.5h0m0-20.5h0m0 7.5h0m1 13.5h0m0-6.5h0m0.5 1h0m0.5 5.5h0m1-5h0m0.5 1.5h0m0-9h0m1 14.5h0m0-2h0m1 2.5h0m0.5-14.5h0m0-8.5h0m0.5 4.5h0m0.5 0h0m0-2.5h0m0.5 3h0m0.5 17h0m0-0.5h0m1-7h0m0 8h0m0.5 1h0m0-18h0m0.5 18h0m0-18h0m0.5 9h0m1-14.5h0m1.5-10h0m0 9.5h0m0.5 0h0m0 22h0m0-26.5h0m0.5 19h0m0 8.5h0m1.5-16h0m0 14.5h0m1-16h0m0.5 17h0m0.5-4.5h0m0.5 1h0m1-20.5h0m0 15.5h0m0-7.5h0m2.5 10.5h0m0-11.5h0m0.5-0.5h0m0.5 3.5h0m2.5-5.5h0m1 15h0m1 1h0m0.5-22.5h0m1.5 27.5h0m0.5-6.5h0m0.5-14.5h0m0.5-1h0m0.5 21.5h0m0.5-39h0m1 30.5h0m0 0h0m1-7.5h0m1.5-11h0m0.5 23.5h0m1 3.5h0m0.5-30h0m2 27h0m2 2h0m0-4.5h0m0.5 4h0m0-6.5h0m0.5 7.5h0m0.5-26.5h0m2.5 24h0m0-30.5h0m3 29.5h0m2-1h0m1.5-2h0m0 5.5h0m1-2.5h0m1 4.5h0m0.5-1.5h0m0-15.5h0m0.5-5h0m3.5 22h0m0.5 0h0m0.5-1.5h0m0.5-4.5h0m0.5 1h0m1-2h0m1 6.5h0m0.5-2.5h0m0 0h0m8.5-11.5h0m1 9.5h0m1-2.5h0m0.5 0.5h0m0.5 4h0m0.5-14h0m3 12h0m0.5-21.5h0m0.5 24h0m0.5-10.5h0m4.5 6h0m1 5h0m1-1.5h0m0.5 3.5h0m0.5-3.5h0m0.5-5.5h0m0 7h0m1.5-8.5h0m1.5-5.5h0m0.5-1.5h0m0.5 11.5h0m0-11h0m11.5-2.5h0m8.5 12.5h0m1-5h0m9 0.5h0m6 2h0m2-8.5h0m5 16h0m31.5-22.5h0m3.5 13h0m3 8.5h0m1 2h0m13.5-4h0m4.5 5h0m11 0h0m5-10h0m0 3.5h0m1 2h0m2-1h0m23 1h0m7.5 2h0m2 2.5h0m2 0h0m0.5-3.5h0m49-5.5h0m7 5h0m13-5h0m46 1.5h0m-432.5 23.5h0m2-2h0m0-5h0m0 7.5h0m0.5-14.5h0m0 7h0m0.5-7.5h0m0 1h0m2 0h0m0 13.5h0m0.5-3h0m0-5h0m0.5 7.5h0m0-8.5h0m0 3h0m0 6h0m0-4.5h0m0.5-5h0m0-3h0m0 12.5h0m0-10h0m0.5 5.5h0m0.5-3h0m0-3h0m0-5h0m0 7h0m0.5-6.5h0m0-0.5h0m0 12h0m0.5-3h0m0-2h0m0.5 3.5h0m0 4h0m0.5-1.5h0m0.5 3h0m0.5-16h0m0 2h0m0.5 6h0m0.5-4.5h0m0 3.5h0m0 7.5h0m0.5-13h0m0 9.5h0m0 5h0m0.5-15.5h0m0 0h0m0 12.5h0m0.5-9h0m0 0.5h0m0 7h0m0.5-10.5h0m0 0.5h0m0.5 13h0m0-7h0m0.5-3.5h0m0 3.5h0m0-4h0m0 8.5h0m0 0.5h0m0 0.5h0m0 1h0m0.5 1h0m0-14h0m0.5 11.5h0m0-9.5h0m0 7.5h0m0-8.5h0m0.5 11h0m0-11h0m0.5 12h0m0.5-5.5h0m0 5.5h0m0.5-13h0m0.5 11h0m0.5 1.5h0m0-5.5h0m0-2h0m0 5h0m0.5-4h0m0-4h0m0 9h0m0-3h0m0.5-9h0m0 9h0m0.5 4.5h0m0-7.5h0m0.5 1h0m0.5 1.5h0m0.5-4h0m0.5 9h0m0 2.5h0m0-6h0m0 6h0m0-6h0m0.5 3h0m0 0.5h0m0-13.5h0m0 7h0m0.5-1.5h0m0 0.5h0m0 8.5h0m0.5-12h0m0.5 11h0m0-10.5h0m0 0.5h0m0.5 4h0m0-5h0m1 1h0m0 8.5h0m0.5 1.5h0m0.5 1h0m0 0h0m0.5-1.5h0m0-9.5h0m0 1h0m0 10h0m0-9.5h0m0.5 0h0m0.5 6.5h0m0-5h0m0 2h0m0.5 5h0m0.5-6h0m0-4.5h0m0.5 4h0m0 6h0m0.5-13h0m0 9h0m0 3h0m0-8h0m0 1h0m0-1.5h0m0.5 12.5h0m0-1.5h0m0-7h0m0.5 7h0m0-2h0m0-6h0m0.5-5h0m0 4h0m0-1.5h0m0 11.5h0m0.5-12.5h0m0 12.5h0m0.5-3h0m0-7.5h0m0 10.5h0m0.5-14h0m0 3.5h0m0-4h0m0.5 2h0m0 6.5h0m0.5 6h0m0-6h0m0 1h0m0 3h0m0.5 2.5h0m0.5-6h0m0-3h0m0 5h0m0.5-2.5h0m0-9h0m0.5 10.5h0m0-2h0m0 5.5h0m0.5-5h0m0-6h0m0 1h0m0-1.5h0m0 0h0m0.5 0.5h0m0 12h0m0-3.5h0m0.5 3.5h0m0.5-2h0m0.5-3h0m0.5-5h0m0-1h0m0.5-1h0m0 6.5h0m0-2.5h0m0.5 5.5h0m0 1h0m0-4h0m0 2h0m0-7.5h0m0.5 8h0m0-5h0m0.5 7h0m0-6h0m0.5-2h0m0 2h0m0.5 1h0m0-0.5h0m0-7.5h0m0.5 5h0m0-0.5h0m0 5.5h0m0.5-4.5h0m2 5.5h0m0 2.5h0m0-8.5h0m0.5 5h0m0-2.5h0m0 5h0m0.5-0.5h0m0-3h0m1-0.5h0m0 3.5h0m0-11.5h0m0 6.5h0m0 4h0m0.5-9.5h0m0.5 10h0m0-7.5h0m0 0.5h0m0.5-2h0m0 5.5h0m0-0.5h0m1-7h0m0 2h0m0 7h0m0.5-6h0m0-2h0m0 10h0m0-10.5h0m0 12h0m1-5h0m0 1.5h0m0-10.5h0m0 11.5h0m1-7.5h0m0 4h0m0-3h0m0.5 0h0m0 9h0m0 1.5h0m1-6h0m0 4.5h0m0-9.5h0m0-1.5h0m0 8h0m0-1.5h0m0.5-2h0m1-5.5h0m0.5 2h0m0 7.5h0m0.5-11.5h0m0 12h0m0-1.5h0m0-6.5h0m0.5-4h0m0.5 6h0m0.5 7h0m0.5-3.5h0m0.5 5h0m0-9h0m1 4h0m0 2.5h0m0 2h0m0-2.5h0m0-6.5h0m0.5 8.5h0m0-8.5h0m0 7.5h0m0-12.5h0m0.5 0h0m0 11h0m0.5-8h0m0 1.5h0m0 7.5h0m1-2.5h0m0 5.5h0m0.5-6h0m0.5 3h0m0-1h0m0-5.5h0m0.5-5h0m1 5.5h0m0 9.5h0m0-2.5h0m0.5-1h0m0.5 0h0m0.5 0.5h0m0-10h0m0-2.5h0m0.5 12h0m0 1.5h0m0.5 1.5h0m0-11h0m0.5-4h0m0.5 15.5h0m0.5-0.5h0m0.5-6.5h0m0.5 1.5h0m0 3.5h0m0.5-4h0m0.5-7.5h0m0.5 12.5h0m0 1h0m0.5-6.5h0m0 2h0m0 4h0m0-13.5h0m0.5 10h0m0.5 3h0m0-11h0m0.5-0.5h0m0 11.5h0m1-12.5h0m0 8.5h0m0.5-7.5h0m0 4h0m0 8.5h0m0.5-6h0m0.5 5.5h0m0.5-12h0m0 12.5h0m0.5-4h0m0 2h0m0.5-14h0m0 14.5h0m1.5 0.5h0m0 1h0m0-12h0m0 10.5h0m0.5-13.5h0m0.5 3h0m0 5h0m0.5 5h0m0-12h0m1 1h0m1-0.5h0m0 11.5h0m0-14h0m1 15.5h0m0-6h0m0.5 2h0m0-2h0m0 2.5h0m0.5 2.5h0m0-12h0m0 0h0m0 8.5h0m0.5-8.5h0m1 11.5h0m0-8h0m1 3h0m0.5 5h0m0 1h0m0-2.5h0m0-0.5h0m0.5-0.5h0m0-2h0m0 6h0m1-12h0m0 5h0m0.5 0.5h0m1-6.5h0m0 0.5h0m1.5 7.5h0m0-1.5h0m0-8.5h0m1.5 6h0m0 4h0m0.5 4h0m0-8h0m1 6h0m0.5-6.5h0m0-1h0m0.5 6h0m0 3.5h0m2-9.5h0m0.5-2h0m0.5 8h0m0-4h0m0-2h0m0 7h0m0.5-1h0m0 4.5h0m0.5-7h0m0.5 7.5h0m0-3.5h0m0.5-1.5h0m0 2h0m0-12.5h0m0 8h0m1-5.5h0m0 8h0m1 4.5h0m0-12h0m0.5-1.5h0m0.5 11h0m0.5-1h0m1-2h0m0 5.5h0m0.5-6.5h0m0.5-0.5h0m0.5-6.5h0m0 1.5h0m1 9h0m0.5-7h0m0.5-5h0m1 3.5h0m2 9.5h0m0-10h0m0 9h0m0.5-8h0m0.5 8.5h0m0-3.5h0m0.5 6h0m1-9.5h0m0.5 8.5h0m0-9h0m0.5 6h0m0 3.5h0m0 1h0m0.5-12h0m0.5 9h0m0-12.5h0m1 14h0m0-0.5h0m0 0h0m1-6.5h0m0 6h0m0.5-12.5h0m1 0h0m0 15h0m0.5-5h0m0-7.5h0m0 11.5h0m0.5 0h0m0.5-8h0m0.5 7h0m0.5-2h0m0 2.5h0m0 0h0m1-10.5h0m0.5 10.5h0m0-8.5h0m0.5-1h0m0.5 0.5h0m0-3.5h0m0.5-1.5h0m0.5 13h0m0-12.5h0m0 12h0m1-1h0m0.5 2h0m0-5.5h0m0.5 1h0m0 0.5h0m0-1h0m0 4.5h0m0.5 2h0m1.5-7.5h0m0 1h0m0 2.5h0m0.5 4h0m1-12h0m0.5 8.5h0m0.5-5.5h0m0 0.5h0m0 8.5h0m0.5-9h0m0 5.5h0m0.5 1h0m0-11h0m0.5 12h0m0.5 1.5h0m0-9.5h0m1-2.5h0m1.5 4h0m1 1h0m0-2h0m0.5 5.5h0m0-3h0m0.5 4h0m0-4.5h0m0-0.5h0m0.5 5.5h0m0.5-9.5h0m1 2h0m0 0h0m0-1h0m0-4h0m0.5 14h0m0-1h0m0.5 1.5h0m0-3h0m0 0.5h0m1.5-3.5h0m0.5 6h0m0.5-1h0m0.5-5h0m0.5 5.5h0m0.5-10.5h0m0 10h0m0-5h0m0.5 5.5h0m0-5h0m0-9h0m0 5.5h0m1 9.5h0m0.5-15.5h0m0 0h0m2 12.5h0m0 0.5h0m0.5-7h0m0 2h0m1-6h0m1 7.5h0m1 5.5h0m3-8.5h0m0-4h0m1 3.5h0m0.5 6h0m0.5 3h0m0 0h0m0.5-3h0m1.5-6.5h0m0.5 8.5h0m1-10h0m0.5 11h0m0.5-15.5h0m1.5 9.5h0m0 6h0m1-9h0m0.5 7.5h0m0-3.5h0m1 0.5h0m0 0h0m1 3.5h0m0-1h0m1.5-3h0m1.5 1.5h0m0-1.5h0m0.5 0.5h0m0.5 3h0m0.5-3.5h0m0-0.5h0m0.5 5h0m0-4.5h0m0 4.5h0m0-1.5h0m1 2h0m0.5-7h0m0 2h0m1 1.5h0m1-4h0m0 3h0m0 1h0m0-10h0m0 11.5h0m0.5-2.5h0m0.5 5h0m1-4.5h0m2-4h0m1 8.5h0m1 0h0m0-8.5h0m0.5 6.5h0m0-2h0m0.5 2.5h0m0.5-5h0m1.5 6h0m1-13.5h0m1 14h0m0.5-2.5h0m0.5-6.5h0m0.5 2.5h0m0 5h0m0.5-3.5h0m2-2h0m0 5h0m0.5 1h0m0.5-0.5h0m1.5-9h0m1-0.5h0m2 7h0m1.5-2.5h0m0-0.5h0m2 5.5h0m0.5 0h0m0-5.5h0m0.5 2h0m1 4h0m0-3.5h0m1 1h0m3-3.5h0m1 4h0m0.5 0.5h0m1-4h0m0.5-2.5h0m2 6h0m0 0h0m1-2.5h0m0.5-0.5h0m0-5h0m0.5 10h0m0.5-11h0m0 8.5h0m1.5-0.5h0m0.5-11.5h0m0.5 15h0m1.5-4.5h0m0 4.5h0m1-2h0m0.5-11.5h0m0.5 12h0m0.5-2.5h0m0.5-4h0m2 6h0m1.5-0.5h0m0.5 0h0m1-5.5h0m1 4h0m0.5 2.5h0m2-1.5h0m1.5-1.5h0m1.5-6h0m1 8.5h0m1 0h0m0.5-3.5h0m0.5-4.5h0m0 10.5h0m2-4h0m0.5 2.5h0m3-0.5h0m0-2h0m3.5-3.5h0m1.5 4h0m0-4h0m0.5 3.5h0m1-1.5h0m0-9.5h0m0.5 10h0m1 4.5h0m1-8.5h0m0.5 6.5h0m0 1h0m0.5-2h0m1-3.5h0m2.5 0.5h0m0.5 4.5h0m1.5-0.5h0m0.5-1h0m0-1.5h0m5 3.5h0m5.5-6.5h0m1 7h0m1 1h0m0-8.5h0m3.5 0h0m1.5 2h0m0 4h0m0.5-4.5h0m1.5 4h0m0.5-4h0m0.5 5h0m0-4.5h0m0.5 0h0m0.5-2.5h0m0 0.5h0m0.5 4.5h0m0-5h0m1.5-6h0m0.5 15h0m0.5-4h0m1 2h0m1-12.5h0m0.5 12h0m0.5 1.5h0m0.5-0.5h0m1.5 1.5h0m0-5.5h0m1.5-7.5h0m0.5 2.5h0m2 5h0m0.5 2h0m0.5 0h0m1.5-7h0m7 6.5h0m2 1.5h0m1 1h0m0-1.5h0m1.5 0.5h0m0.5-4h0m4-9h0m0.5 8.5h0m0 5.5h0m1 0.5h0m0 0.5h0m0-10h0m0.5 10.5h0m2.5-3h0m0.5-6h0m0.5 7.5h0m3-1.5h0m0 1.5h0m0.5-12.5h0m0.5 13.5h0m1.5-14h0m0.5 14h0m1-11h0m3 6.5h0m0-6h0m0 9h0m0.5 0.5h0m0.5 0h0m3.5-2.5h0m0.5 3h0m0-2.5h0m2 0h0m1-6h0m2.5 2.5h0m0-1h0m1.5 8h0m1.5-5h0m1.5 0h0m1 3.5h0m1-2h0m0-1.5h0m3.5-10h0m0 12.5h0m0.5-1h0m0.5 3.5h0m1.5-7.5h0m3 1h0m1 6.5h0m0-0.5h0m1.5-1h0m5 0.5h0m0-2.5h0m0 2h0m6-8h0m3-6h0m0.5 14h0m2-1h0m1-7h0m3 5h0m0.5 3h0m1.5-5.5h0m1.5-9h0m0 12.5h0m2 2.5h0m0.5-11h0m1.5-4h0m0 14h0m0 0.5h0m0-3h0m0.5-6h0m0.5 9h0m1.5-1.5h0m1.5 1h0m1 1h0m0-7h0m1.5-8h0m1.5 6.5h0m1-6.5h0m2.5 12.5h0m0.5 3.5h0m0.5-0.5h0m1.5-10h0m1 3h0m1 6h0m2 0h0m2.5-10h0m2.5 9.5h0m1-7.5h0m0.5 1h0m0.5 5.5h0m2 0h0m2 2.5h0m1-8h0m0 2.5h0m1.5-7h0m3 12h0m0.5-1.5h0m1-3.5h0m1.5-9h0m5 6h0m2.5 9h0m1-6h0m2 2h0m2 0h0m6-3.5h0m2.5-1.5h0m0 5h0m0.5-3h0m1.5-2.5h0m0.5 4h0m2.5 1.5h0m1.5 3.5h0m0.5-0.5h0m5-1.5h0m4.5 1.5h0m3-1.5h0m0.5 1h0m8.5-1.5h0m0.5 0.5h0m1 2.5h0m1-11.5h0m0.5 5h0m1 2h0m1 4h0m1-8h0m4 5.5h0m2-3.5h0m6.5 6h0m5-8.5h0m2 3h0m0.5 1.5h0m0.5-9h0m1 13.5h0m0.5-0.5h0m0.5 0h0m1.5-5h0m1.5 5.5h0m2-0.5h0m2.5 0.5h0m0-4.5h0m0.5-5.5h0m1.5 10h0m2.5-2h0m0.5 0h0m5 2h0m0.5-3h0m0.5 2h0m1 1h0m4-0.5h0m0.5 0h0m0.5 0h0m0 0.5h0m2.5-6h0m0.5-0.5h0m3 1h0m0.5 2h0m1.5-1.5h0m1-0.5h0m0.5 3h0m3.5-2.5h0m6 2h0m0.5 0.5h0m0-3.5h0m2-8.5h0m0.5 11h0m2.5-2.5h0m0 2h0m1.5 1.5h0m3 0h0m0-4.5h0m5-4h0m0.5 3.5h0m2 0.5h0m0 3h0m1.5-9.5h0m1 12h0m0 1h0m2-8.5h0m2 7.5h0m0.5 0h0m1-2.5h0m0 4h0m0.5-7h0m1 2.5h0m0 4h0m1-0.5h0" stroke="#800080" stroke-width="2.1" stroke-linecap="round" fill="none"/><path d="M666 261.5h0m-375 78.5h0m315.5-19h0m-401.5 65.5h0m2-6.5h0m24.5 16.5h0m81.5-14h0m181-3h0m-275.5 22.5h0m3.5-2h0m1 17h0m1.5 6.5h0m5 2.5h0m89.5-3.5h0m40-0.5h0m-161.5 52.5h0m2-10h0m3 8.5h0m0-1h0m0.5-14h0m2.5 16.5h0m5-31.5h0m1 4.5h0m1 32h0m1.5-5h0m1-17.5h0m3.5-8h0m4.5 21.5h0m0.5-16h0m1.5 17h0m0-3h0m4 7h0m1.5 3.5h0m3.5-10.5h0m2.5-21h0m12.5 12h0m0-3h0m0.5 23h0m0.5-8.5h0m3.5-13h0m1.5 14.5h0m1-2.5h0m10-21h0m2 30.5h0m6-4h0m2 0.5h0m1-5h0m1-2.5h0m0-19.5h0m13 25h0m11-7h0m1.5 0h0m0.5-11.5h0m2.5 8h0m19 10h0m2.5-1h0m20.5 3h0m18.5-5h0m236 1h0m-406 21.5h0m3-9h0m2 0.5h0m1.5 9h0m2 2h0m4-3.5h0m2 0h0m0.5-3h0m0.5 2.5h0m0-2h0m1-1.5h0m0.5-5.5h0m1 12.5h0m3.5-1h0m0.5 1h0m0-11.5h0m8 4h0m5-3h0m2.5-3h0m2 4h0m3.5-4.5h0m0.5 13.5h0m3.5 1h0m8.5-14.5h0m5.5 1h0m3.5 12.5h0m4.5 1h0m1.5-8h0m1.5 0.5h0m1 6.5h0m1.5 0.5h0m2.5 0h0m1-12.5h0m4 4.5h0m3.5 4h0m8 2h0m5.5-1h0m1 0.5h0m12.5-5.5h0m1-7h0m0.5 11.5h0m0-7.5h0m0.5 9.5h0m1-0.5h0m7-10.5h0m1.5 7h0m2.5 4.5h0m2.5 0h0m39.5 1.5h0m13-5.5h0m6 5h0m13 0.5h0m0.5-2h0m19.5-5h0m6 0.5h0m19.5 5h0m9.5 0h0m20.5 1h0m38.5-0.5h0m8 1h0m8.5-2h0m12.5-13.5h0m24 7.5h0m7 6h0m12 2.5h0m7.5-3.5h0m14.5-7h0m85 5.5h0m7.5-0.5h0m17 4.5h0m3.5-2.5h0m2 2.5h0m14 1h0m1-5h0m19-11h0" stroke="#ffa500" stroke-width="2.1" stroke-linecap="round" fill="none"/><path d="M198 437h0m18-7h0m-18 35h0m10-22h0m5 29.5h0m14-2.5h0m0.5-11.5h0m6 6h0m0.5-11h0m3.5 20h0m4-30.5h0m1.5 26.5h0m0.5 3h0m-22.5 7.5h0m2 0.5h0m3 5h0m12 6.5h0m5-9.5h0m1.5 2.5h0m1.5-4.5h0m5 2h0m7 6.5h0m1.5-4h0m20.5 3.5h0m20.5-8.5h0m4.5 0.5h0m4.5 7h0m20 8h0m9-3h0m4.5-2h0m5 3.5h0m27-6.5h0m1.5 5.5h0m77 2.5h0m26-1.5h0m32 1.5h0m94.5-0.5h0m8.5-3h0" stroke="#0000ff" stroke-width="2.1" stroke-linecap="round" fill="none"/><path d="M106 482.6C107.9 482 113.3 480.6 117.5 479.2C121.6 477.7 127.4 476.9 130.9 474C134.4 471 136.8 465.8 138.6 461.5C140.3 457.2 140.2 452.3 141.4 448.1C142.7 444 144.5 440.5 146.2 436.6C148 432.8 149.4 428.6 152 425.1C154.5 421.7 158 418.3 161.6 415.9C165.1 413.5 169.5 411.7 173 410.8C176.6 409.8 179.8 409.4 182.6 410.2C185.5 411 188.1 413.1 190.3 415.6C192.5 418 194.3 421.6 196 425.1C197.8 428.6 200.2 432.5 200.8 436.6C201.5 440.8 200.7 446.2 199.9 450C199.1 453.9 196.4 456.1 196 459.6C195.7 463.1 196.4 467.6 198 471.1C199.6 474.6 201.8 477.9 205.6 480.7C209.4 483.5 215.2 485.9 220.9 488C226.7 490 233.7 491.8 240.1 493.1C246.5 494.5 256.1 495.5 259.3 496" stroke="#800080" stroke-width="3.1" stroke-dasharray="10 4.7" fill="none"/><path d="M153.9 450C154.5 447.8 155.8 443.5 158.7 441.4C161.6 439.3 166.8 438.1 171.1 437.6C175.4 437 181.4 437 184.5 438.2C187.7 439.3 189.7 441.7 190.3 444.3C190.9 446.9 190.3 451.5 188.4 453.9C186.5 456.3 182.9 457.7 178.8 458.7C174.6 459.6 167.5 460.3 163.5 459.6C159.5 459 156.4 456.4 154.9 454.8C153.3 453.2 153.3 452.3 153.9 450Z" stroke="#800080" stroke-width="3.1" stroke-dasharray="10 4.7" fill="none"/><path d="M106 485.5C109.8 485.3 122.8 485.9 129 484.5C135.2 483.1 140 480.6 143.4 477.2C146.7 473.9 147.9 468.9 149.1 464.4C150.3 459.9 149.6 455.1 150.4 450C151.2 444.9 152 439 153.9 433.8C155.7 428.5 157.7 422.2 161.6 418.4C165.4 414.7 172.7 412.1 176.9 411.3C181 410.5 184.1 411.3 186.5 413.6C188.9 415.9 189.8 421.3 191.2 425.1C192.7 429 194.3 432.5 195.1 436.6C195.9 440.8 196.2 446 196 450C195.9 454 193.8 456.7 194.1 460.6C194.4 464.4 195.4 469 198 473C200.5 477 204 481.3 209.4 484.5C214.9 487.7 223.5 490.3 230.5 492.2C237.5 494 248.1 495.1 251.6 495.6" stroke="#ff0000" stroke-width="3.1" stroke-dasharray="10 4.7" fill="none"/><path d="M157.7 450C158.4 448.3 160.9 444.8 163.5 443.3C166 441.9 169.9 441.3 173 441.4C176.2 441.6 180.6 442.9 182.6 444.3C184.7 445.7 186.1 448.3 185.5 450C184.9 451.8 181.8 453.9 178.8 454.8C175.8 455.8 170.5 455.9 167.3 455.8C164.1 455.6 161.2 454.8 159.6 453.9C158 452.9 157.1 451.8 157.7 450Z" stroke="#ff0000" stroke-width="3.1" stroke-dasharray="10 4.7" fill="none"/><path d="M106 488.7C110.2 488.7 124 489.4 130.9 488.4C137.8 487.3 143.5 486 147.2 482.6C150.9 479.3 151.4 473.3 152.9 468.2C154.4 463.1 154.8 457.2 156.2 452C157.6 446.7 159.7 441.3 161.6 436.6C163.4 432 165.1 426.7 167.3 424.2C169.5 421.6 172.4 420.2 175 421.3C177.5 422.4 180.5 427 182.6 430.9C184.8 434.7 186.7 439.5 188 444.3C189.3 449.1 189 454.5 190.3 459.6C191.6 464.7 193.2 470.5 196 474.9C198.9 479.4 202.7 483.2 207.5 486.4C212.3 489.6 219.3 492.4 224.8 494.1C230.2 495.8 237.5 496 240.1 496.4" stroke="#ffa500" stroke-width="3.1" stroke-dasharray="10 4.7" fill="none"/><path d="M119.4 496C122 495.4 129.9 494.2 134.7 492.6C139.5 491 144.3 488.7 148.1 486.4C152 484.2 154.2 481.2 157.7 479.2C161.2 477.1 165.7 474.9 169.2 474.2C172.7 473.5 175.6 473.6 178.8 474.9C182 476.3 185.2 479.7 188.4 482.2C191.6 484.8 193.8 488.2 198 490.3C202.1 492.3 206.3 493.5 213.3 494.5C220.3 495.5 235.6 496.1 240.1 496.4" stroke="#0000ff" stroke-width="3.1" stroke-dasharray="10 4.7" fill="none"/><path d="M136.7 496.4C138.9 495.7 145.9 494 150.1 492.2C154.2 490.4 158 487.2 161.6 485.5C165.1 483.7 167.9 482 171.1 481.6C174.3 481.3 177.8 482.1 180.7 483.6C183.6 485 186.1 488.1 188.4 490.3C190.6 492.4 193.2 495.4 194.1 496.4" stroke="#ff0000" stroke-width="3.1" stroke-dasharray="10 4.7" fill="none"/><path d="M140.5 496.4C142.7 495.7 150.1 493.6 153.9 492.2C157.7 490.8 160.6 488.9 163.5 488C166.3 487 168.3 486.4 171.1 486.4C174 486.4 178.2 487 180.7 488C183.3 488.9 184.9 490.8 186.5 492.2C188.1 493.6 189.7 495.7 190.3 496.4" stroke="#ffa500" stroke-width="3.1" stroke-dasharray="10 4.7" fill="none"/><path d="M130.9 496.4C133.1 496 139.5 495 144.3 494.1C149.1 493.2 155.5 491.9 159.6 491.2C163.8 490.6 166 490.1 169.2 490.3C172.4 490.4 175.9 491.4 178.8 492.2C181.7 493 184.2 494.4 186.5 495.1C188.7 495.8 191.2 496.2 192.2 496.4" stroke="#0000ff" stroke-width="3.1" stroke-dasharray="10 4.7" fill="none"/><path d="M106 490.7C108.6 490.8 116.2 491.3 121.3 491.8C126.4 492.3 131.9 493 136.7 493.7C141.4 494.5 147.8 496 150.1 496.4" stroke="#800080" stroke-width="3.1" stroke-dasharray="10 4.7" fill="none"/><path d="M106 492.6C108.2 492.8 114.9 493.5 119.4 494.1C123.9 494.7 130.6 496 132.8 496.4" stroke="#ff0000" stroke-width="3.1" stroke-dasharray="10 4.7" fill="none"/></g><rect x="116.2" y="18.9" width="184.2" height="113.1" rx="3.5" fill="#fff" fill-opacity="0.8" stroke="#cccccc" stroke-width="1.6"/><circle cx="139" cy="34.5" r="8.2" fill="#800080"/><circle cx="139" cy="60" r="8.2" fill="#ff0000"/><circle cx="139" cy="85.5" r="8.2" fill="#ff8000"/><circle cx="139" cy="111" r="8.2" fill="#0000ff"/><g font-family="'DejaVu Sans', 'Liberation Sans', sans-serif" font-size="18.4" fill="#000"><text x="174.5" y="39.8" font-style="italic">R</text><text x="187.5" y="43.8" font-style="italic" font-size="13">e</text><text x="199.8" y="39.8">=</text><text x="217.4" y="39.8">0.01</text><text x="174.5" y="65.3" font-style="italic">R</text><text x="187.5" y="69.3" font-style="italic" font-size="13">e</text><text x="199.8" y="65.3">=</text><text x="217.4" y="65.3">0.001</text><text x="174.5" y="90.8" font-style="italic">R</text><text x="187.5" y="94.8" font-style="italic" font-size="13">e</text><text x="199.8" y="90.8">=</text><text x="217.4" y="90.8">0.0001</text><text x="174.5" y="116.3" font-style="italic">R</text><text x="187.5" y="120.3" font-style="italic" font-size="13">e</text><text x="199.8" y="116.3">=</text><text x="217.4" y="116.3">0.00001</text></g><rect x="106.5" y="9.3" width="655.2" height="487.8" fill="none" stroke="#000" stroke-width="2"/><path d="M106.5 497.1v6.5M237.5 497.1v6.5M368.6 497.1v6.5M499.6 497.1v6.5M630.7 497.1v6.5M761.7 497.1v6.5M100 497.1h6.5M100 399.5h6.5M100 302h6.5M100 204.4h6.5M100 106.9h6.5M100 9.3h6.5" stroke="#000" stroke-width="1.8"/><g font-family="'Liberation Serif', 'Times New Roman', serif" font-size="19.4" fill="#000"><text x="106.5" y="523.6" text-anchor="middle">0</text><text x="237.5" y="523.6" text-anchor="middle">2</text><text x="368.6" y="523.6" text-anchor="middle">4</text><text x="499.6" y="523.6" text-anchor="middle">6</text><text x="630.7" y="523.6" text-anchor="middle">8</text><text x="761.7" y="523.6" text-anchor="middle">10</text><text x="93.5" y="503.7" text-anchor="end">0</text><text x="93.5" y="406.1" text-anchor="end">2</text><text x="93.5" y="308.6" text-anchor="end">4</text><text x="93.5" y="211" text-anchor="end">6</text><text x="93.5" y="113.5" text-anchor="end">8</text><text x="93.5" y="15.9" text-anchor="end">10</text></g><text x="1.2" y="523.4" font-family="'Liberation Serif', 'Times New Roman', serif" font-size="40.5" letter-spacing="1.3" fill="#000">(a)</text><text x="434.1" y="549.1" font-family="'DejaVu Sans', 'Liberation Sans', sans-serif" font-size="19" text-anchor="middle">(1/|<tspan font-style="italic">J</tspan>|)</text><text transform="translate(61.7,253.2) rotate(-90)" font-family="'DejaVu Sans', 'Liberation Sans', sans-serif" font-size="19"><tspan x="-20.8" y="0">(</tspan><tspan font-style="italic">n&#770;</tspan><tspan font-style="italic" font-size="13.3" dy="4.5">d</tspan><tspan font-style="italic" font-size="13.3" dx="-8.2" dy="-12.5">R</tspan><tspan font-size="9.5" dy="3" font-style="italic">e</tspan><tspan dy="5" dx="1">)</tspan></text><path d="M1097 9.3V497.1M1228.1 9.3V497.1M1359.1 9.3V497.1M1490.2 9.3V497.1M966 399.5H1621.2M966 302H1621.2M966 204.4H1621.2M966 106.9H1621.2" stroke="#b0b0b0" stroke-width="1.6" fill="none"/><clipPath id="clip-b"><rect x="966" y="9.3" width="655.2" height="487.8"/></clipPath><g clip-path="url(#clip-b)"><g filter="url(#soft)"><path d="M966 479.7C966.4 477.6 966.7 480.7 969.1 478C971.5 475.3 982.7 461.6 986.5 456.7C990.3 451.9 998.9 440.9 1001.8 436.6C1004.8 432.4 1009 423.9 1012 420.3C1014.9 416.8 1023.7 408.6 1027.3 406C1030.9 403.4 1039.7 399.6 1042.6 397.9C1045.6 396.3 1050.5 392.4 1052.8 391.8C1055 391.2 1059.4 391.8 1061.8 392.6C1064.2 393.3 1071 396.5 1073.3 398.3C1075.5 400.1 1079.8 405.7 1080.9 407.9C1082.1 410.1 1083.1 414.6 1082.9 417.5C1082.6 420.4 1079.9 429.7 1079 432.8C1078.1 435.9 1075.9 441.6 1075.2 444.3C1074.5 447 1072.6 453.1 1073.3 455.8C1074 458.5 1077.8 464.8 1080.9 467.3C1084.1 469.7 1094.5 474.8 1100.1 476.9C1105.7 478.9 1122.1 483 1128.8 484.5C1135.5 486.1 1154.2 488.9 1157.6 490.3C1160.9 491.7 1179.9 495.7 1157.6 496.4C1135.2 497.1 988.3 498.3 966 496.4C943.7 494.5 965.6 481.9 966 479.7Z" fill="#d9d5ea"/><path d="M969.8 480.3C971 477.4 982.8 463.1 986.5 458.1C990.2 453.1 998.9 441.8 1001.8 437.6C1004.8 433.3 1009 425.2 1012 421.7C1014.9 418.1 1023.7 409.8 1027.3 407.1C1030.9 404.4 1040.2 399.7 1042.6 398.7C1045.1 397.7 1048 397.8 1048.4 398.3C1048.7 398.8 1047 401.1 1045.7 402.9C1044.4 404.7 1039.6 411.7 1037.5 414C1035.3 416.4 1029.7 421.2 1027.3 423.2C1024.9 425.3 1019.5 429.3 1017.1 431.5C1014.8 433.6 1009.8 438 1006.8 441.6C1003.8 445.2 995.1 457.3 991.5 462.1C987.9 466.9 978.7 480.5 976.2 482.6C973.6 484.7 968.6 483.2 969.8 480.3Z" fill="#e2c6cc"/><path d="M966 485.5C967.2 483.8 973.2 485 976.2 482.2C979.1 479.5 987.9 466.5 991.5 461.7C995.1 456.9 1003.8 444.8 1006.8 441.2C1009.8 437.7 1014.8 433.2 1017.1 431.1C1019.5 428.9 1024.9 424.9 1027.3 422.8C1029.7 420.8 1035.3 416 1037.5 413.6C1039.6 411.3 1044 404.8 1045.7 402.5C1047.4 400.2 1050.3 394.8 1052.2 394.1C1054.1 393.4 1059.8 395.2 1061.8 396.4C1063.8 397.6 1067.7 402 1069.4 404.1C1071.2 406.1 1076.1 411 1077.1 413.6C1078.1 416.3 1078.5 423.9 1078.1 427C1077.6 430.2 1074.2 437.3 1073.3 440.5C1072.4 443.6 1070.1 451.1 1070.4 453.9C1070.7 456.7 1073.8 462.2 1076.2 464.4C1078.5 466.6 1086.6 471.2 1090.5 473C1094.4 474.8 1104.5 478.3 1109.7 479.7C1114.8 481.2 1129 484.4 1134.6 485.5C1140.2 486.5 1148.2 488 1157.6 488.7C1167 489.5 1202.4 491.6 1215 492.2C1227.7 492.8 1260.1 493.6 1266 494.1C1271.9 494.6 1301 496.1 1266 496.4C1231 496.7 1001 497.7 966 496.4C931 495.1 964.8 487.1 966 485.5Z" fill="#bb9dd3"/><path d="M1021.6 447.2C1021.9 446.3 1025 443.9 1026.3 443.3C1027.7 442.8 1031.4 442.3 1033 442.4C1034.7 442.5 1039.7 443.6 1040.7 444.3C1041.7 445 1042.1 447.3 1041.7 448.1C1041.2 449 1038.3 451.1 1036.9 451.6C1035.4 452.1 1030.8 452.4 1029.2 452.3C1027.6 452.2 1024 451.2 1023.1 450.6C1022.2 450 1021.2 448 1021.6 447.2Z" fill="#6a3c84" fill-opacity="0.85"/></g><path d="M966 485.5C967.2 483.8 973.2 485 976.2 482.2C979.1 479.5 987.9 466.5 991.5 461.7C995.1 456.9 1003.8 444.8 1006.8 441.2C1009.8 437.7 1014.8 433.2 1017.1 431.1C1019.5 428.9 1024.9 424.9 1027.3 422.8C1029.7 420.8 1035.3 416 1037.5 413.6C1039.6 411.3 1044 404.8 1045.7 402.5C1047.4 400.2 1050.3 394.8 1052.2 394.1C1054.1 393.4 1059.8 395.2 1061.8 396.4C1063.8 397.6 1067.7 402 1069.4 404.1C1071.2 406.1 1076.1 411 1077.1 413.6C1078.1 416.3 1078.5 423.9 1078.1 427C1077.6 430.2 1074.2 437.3 1073.3 440.5C1072.4 443.6 1070.1 451.1 1070.4 453.9C1070.7 456.7 1073.8 462.2 1076.2 464.4C1078.5 466.6 1086.6 471.2 1090.5 473C1094.4 474.8 1104.5 478.3 1109.7 479.7C1114.8 481.2 1129 484.4 1134.6 485.5C1140.2 486.5 1148.2 488 1157.6 488.7C1167 489.5 1202.4 491.6 1215 492.2C1227.7 492.8 1260.1 493.6 1266 494.1C1271.9 494.6 1301 496.1 1266 496.4C1231 496.7 1001 497.7 966 496.4C931 495.1 964.8 487.1 966 485.5Z" fill="url(#tp)"/><path d="M1564.5 159.5h0m-433.5 75.5h0m229.5-31h0m-220 75h0m79.5-7h0m19.5-19h0m-60 53h0m8.5-3.5h0m-105.5 57h0m3-6.5h0m0 6.5h0m10-14h0m14.5 0h0m25.5 11h0m8.5-21.5h0m5 13h0m10 5h0m0.5-7h0m5-18h0m1.5 12h0m8.5-2h0m6.5 14.5h0m18.5 3h0m-141 38.5h0m0-1.5h0m3.5 0h0m6-2h0m2 2.5h0m1-10.5h0m0.5 11.5h0m0.5-7h0m1.5-0.5h0m0.5 6h0m0-1h0m1.5-18h0m4.5-7.5h0m2.5 9.5h0m1.5-6h0m1 4h0m8.5 23h0m4-36.5h0m5.5 32.5h0m0.5-13h0m11.5 13.5h0m2 4.5h0m13-8h0m18.5-7h0m6-7.5h0m3.5 0.5h0m4.5 13h0m0-19h0m10.5 7h0m27-13h0m8 5h0m22 28.5h0m0.5-9.5h0m7-4.5h0m8-1h0m31.5-7.5h0m1.5 4.5h0m92.5-11h0m-310 59h0m1-8h0m5-14h0m4.5 14.5h0m6.5 0.5h0m2.5 6h0m3.5 5h0m0.5 7h0m5.5-30.5h0m10 16h0m2-7h0m0.5 22.5h0m1-6.5h0m7-29h0m0.5-3h0m1 16.5h0m0.5-4h0m4.5 16h0m1-5.5h0m1.5 3.5h0m2-2h0m1-9h0m0.5 8h0m0 3.5h0m1.5-16h0m0.5 15.5h0m0.5-15h0m5.5 16.5h0m2.5-28h0m3.5 25.5h0m0.5-2h0m2.5 10h0m0-1.5h0m3.5-17.5h0m0.5-6h0m2.5 30h0m0-3h0m5.5-28h0m1 31h0m11-20.5h0m0-8.5h0m12 23.5h0m1-0.5h0m5.5-5h0m1-27.5h0m5 23h0m4-8h0m3.5 7.5h0m2.5-3h0m2-5h0m2.5-10.5h0m1 12.5h0m1 2.5h0m0.5-4.5h0m5 7.5h0m1.5 9.5h0m3-20h0m2.5 7.5h0m2-10h0m1.5 18.5h0m1.5 4.5h0m9.5-10h0m2.5-4.5h0m3.5-14h0m0 27.5h0m11-31.5h0m1.5 21h0m2 0.5h0m6-7h0m2 23.5h0m14-9h0m4.5-21h0m35 3h0m0.5 18h0m7 9h0m4.5-38h0m0.5 28.5h0m7.5-24.5h0m64.5 27.5h0m49.5 5h0m2.5-14h0m78.5 16h0m6-6h0m2-21.5h0m36 20h0m-510 30h0m3.5-1h0m0 10.5h0m2.5-18.5h0m0.5 25.5h0m2-21.5h0m0 22.5h0m1-14h0m1-18.5h0m0.5 25h0m0-21.5h0m1 9.5h0m0.5 18.5h0m0.5-15h0m1 1.5h0m0-5h0m1.5 5.5h0m1.5 8.5h0m2.5-8h0m1.5-8.5h0m1 11.5h0m2.5 11h0m0.5-21h0m1.5 16.5h0m2-6h0m0.5 10h0m2.5-21.5h0m1 18h0m1 0.5h0m1 1.5h0m7.5-14h0m1 3h0m0-21.5h0m0.5 25.5h0m2.5-14.5h0m0 9.5h0m0.5-17h0m0.5 0.5h0m4-3h0m0 32.5h0m0.5-13.5h0m1.5 7.5h0m0.5-19h0m0.5-9.5h0m0.5 32h0m0.5-2h0m0-6h0m1 10.5h0m0-36.5h0m0.5 11.5h0m0.5-10.5h0m0.5 17h0m1-2h0m1 6h0m1-12.5h0m0.5 2h0m1 25.5h0m1.5-29h0m0.5-6h0m1 18.5h0m1.5-11.5h0m0.5 0.5h0m1.5 14h0m2.5-7.5h0m0.5 19.5h0m2-31h0m3 23.5h0m0 6.5h0m0.5-16.5h0m2 2h0m1-21.5h0m0.5 9h0m0.5 2h0m1 25h0m0-34.5h0m2.5 32.5h0m0-28h0m2 24h0m1-25.5h0m2 34.5h0m1-18.5h0m1.5 5.5h0m0 1.5h0m0.5-20.5h0m1 24.5h0m1.5-17h0m4.5 20.5h0m0.5-1.5h0m4-10.5h0m0-7.5h0m3-6h0m0.5 24h0m2-22h0m1-11h0m0.5 37.5h0m2-7.5h0m0.5 2.5h0m1-13h0m1.5 13h0m1-9.5h0m1-1.5h0m2.5-0.5h0m1 11h0m1 2.5h0m0.5-29.5h0m0 24h0m4-14.5h0m1 13.5h0m2-14h0m2 18.5h0m1 3.5h0m4-26.5h0m0.5 21h0m1.5-12h0m3 16.5h0m3-12h0m2-8h0m0 17h0m7-4h0m8.5 2.5h0m8.5-2h0m0.5-14.5h0m1-9h0m1.5-3h0m0 14h0m0.5 14.5h0m1-7h0m0-16.5h0m3 3h0m4 8h0m1 5.5h0m0.5 14h0m2 1h0m6-26h0m5.5 5.5h0m1 17.5h0m3.5-8h0m1.5-9h0m0-13h0m5 18.5h0m1-9h0m1-0.5h0m2.5 0h0m2.5 8.5h0m6-7h0m0.5 4h0m0.5 14h0m0.5-29.5h0m2 1.5h0m5.5 9.5h0m0.5 14.5h0m1-15.5h0m1-12.5h0m0.5 21h0m3.5-14.5h0m0 14h0m3 12h0m1-31.5h0m0 35h0m0.5-30h0m4.5 4h0m8 13h0m3 10.5h0m3-10h0m5.5-22h0m1 12h0m7 16.5h0m2.5 4h0m0.5-30.5h0m0.5 33h0m8-6.5h0m0.5 3.5h0m0.5-3.5h0m4.5-5.5h0m7.5-5.5h0m1.5-3.5h0m0.5 12h0m4-7.5h0m1.5-5.5h0m0 3.5h0m2 13.5h0m9.5-4h0m6-13.5h0m3-3h0m0 23.5h0m1 2h0m1-34h0m4 8.5h0m0 2.5h0m1-14.5h0m2 19.5h0m8-0.5h0m3 13h0m1-29.5h0m2.5 11.5h0m0.5 21h0m3.5-8h0m23-1.5h0m2 11h0m23.5-4h0m1.5-7.5h0m6 6h0m4.5 7h0m3.5-34.5h0m0.5 15.5h0m6 7.5h0m16.5 11h0m3.5-7.5h0m2.5 8h0m3.5-3.5h0m6-3h0m6 4.5h0m4.5-12h0m7.5-22.5h0m4 15h0m0.5 19.5h0m5.5-15h0m2.5 14h0m1-2h0m23 4h0m3.5-8h0m21.5 5h0m14.5 3h0m-555.5 17.5h0m0.5-9h0m0.5 0h0m7-0.5h0m2 7h0m0-12.5h0m1 9.5h0m1 3h0m2-12.5h0m0.5 9.5h0m0-10h0m0 0.5h0m1 6.5h0m0.5-1h0m1 6.5h0m0.5-13h0m4 13h0m1-11.5h0m2 10.5h0m2-5.5h0m2 2h0m0.5-7h0m2 6.5h0m1.5-6.5h0m0.5 7h0m0.5-1h0m1 3h0m1-7.5h0m0.5 6h0m8-5h0m1-3h0m1 8.5h0m2.5 2.5h0m2.5-1h0m2.5 2h0m0.5 0.5h0m2 0.5h0m1-13.5h0m3.5 12h0m2.5-2h0m0.5-8.5h0m2 3h0m3-1.5h0m1 9.5h0m1 2h0m1.5-14h0m1.5 14.5h0m1.5-14.5h0m0.5 11h0m2-9.5h0m2.5 7h0m2-9h0m1 13.5h0m8.5-8h0m0.5 9.5h0m0.5-4.5h0m1-5h0m3.5-5.5h0m1 12h0m1.5-10.5h0m0.5 3.5h0m1.5 8.5h0m6 1.5h0m1-9h0m5 7.5h0m1-10.5h0m1 4h0m0 3h0m0.5-0.5h0m0.5-5.5h0m2 7.5h0m1 3h0m0.5-6h0m1.5 2.5h0m3.5 0h0m0.5 0h0m1-3h0m0 3.5h0m3 4h0m1-0.5h0m0.5-0.5h0m5-13.5h0m1.5-0.5h0m6.5 10h0m4-6.5h0m3.5 5.5h0m5-6.5h0m2.5 4.5h0m0.5 3h0m2-4h0m0.5 5.5h0m3 1h0m2.5-5.5h0m2 4.5h0m6 3.5h0m0.5-13h0m1.5 12h0m0-1.5h0m1-12h0m0.5-1h0m1.5-0.5h0m4 15.5h0m2.5-6h0m3-8h0m1 3.5h0m0.5 2h0m4 7.5h0m0.5-12h0m12.5 11h0m1 0h0m1.5 0h0m3.5-7h0m0.5 2.5h0m3.5-8.5h0m1 11.5h0m5-3.5h0m4 3.5h0m13-4h0m0.5-1.5h0m4 8h0m2.5-12.5h0m1 12h0m10.5-4h0m3 5.5h0m2.5 0h0m0.5-11h0m3.5 2h0m9.5 2.5h0m2-4.5h0m1 0h0m9 2.5h0m3 2.5h0m6-5h0m0.5 4.5h0m0.5 6.5h0m3-14.5h0m4 8h0m4.5 2.5h0m1 4.5h0m0-12h0m4.5 3h0m9.5 6h0m3.5-8h0m12.5-1h0m1 7h0m2.5-9h0m5 10.5h0m4 0h0m0-4.5h0m1 4.5h0m3.5-12.5h0m2.5 14h0m2-4h0m2 5h0m2.5-0.5h0m10-13h0m4 4.5h0m2.5 4.5h0m0.5 4h0m1.5-11.5h0m3 9.5h0m0.5-11h0m0.5 11.5h0m1-2.5h0m1-7h0m2 1h0m1 6.5h0m0.5-10h0m2.5 14.5h0m2.5-14.5h0m2 4.5h0m0 5.5h0m6 4.5h0m3-2h0m3.5-8.5h0m4 5h0m2.5-4.5h0m15 5.5h0m1.5-11h0m1.5 10h0m0.5-5.5h0m1.5 1.5h0m0 0h0m3 2.5h0m1 1.5h0m1.5 2.5h0m0 2.5h0m3.5-4.5h0m0 3h0m1.5-2.5h0m1-0.5h0m0 1h0m13-10h0m5.5 10.5h0m0.5-3h0m1-4h0m7.5 3.5h0m3 4.5h0m0-5h0m11 7h0m14-12h0m4 13h0m3 0h0m2.5-1h0m2.5-4h0m3 0h0m2 3h0m8-6.5h0m6 0h0m3 3h0m0 4h0m1-13h0m7 14h0m6.5-8.5h0" stroke="#ff0000" stroke-width="2.1" stroke-linecap="round" fill="none"/><path d="M1502 155.5h0m-404.5 200h0m8.5-13h0m58 4.5h0m9.5-19.5h0m110 0h0m-214 58h0m2.5 7h0m17-1h0m14-20.5h0m16 25.5h0m5.5-17h0m2 5.5h0m14.5 3.5h0m30.5 7.5h0m1-3.5h0m26.5-1h0m7-1h0m-140 43h0m19.5-26.5h0m3-1.5h0m2.5 30.5h0m10.5-25h0m4.5 7h0m3.5 1.5h0m18 18.5h0m9.5-19h0m14 15h0m9.5 1.5h0m3 2.5h0m32.5-6h0m8-11h0m3 7h0m41.5-13h0m62-10.5h0m4 34h0m197.5-7h0m-426 41.5h0m11 4.5h0m6-28.5h0m0.5 26h0m5.5-20.5h0m20.5 0.5h0m8.5 23h0m1.5-1h0m1-25.5h0m0 21h0m28-8.5h0m11 14h0m0.5-3.5h0m1-7.5h0m7.5-11h0m2.5 4h0m17-12h0m3 5h0m2-0.5h0m2.5 1.5h0m22 4h0m18-9.5h0m9 27.5h0m0.5-26h0m2 25.5h0m5.5-12.5h0m15 6h0m16.5-21h0m3 28h0m4-18h0m21 18.5h0m1-16.5h0m24-0.5h0m30 15.5h0m3.5-22h0m11 16.5h0m13.5 6h0m1-4h0m13-19h0m19.5-11h0m3 27h0m2 9h0m9-8.5h0m8-13h0m4 22h0m13-16h0m36.5 15h0m6.5-3h0m2.5-8.5h0m9 9.5h0m13.5-15h0m0.5 7.5h0m1 2h0m-499 10.5h0m17.5 5.5h0m3.5 5.5h0m22-1h0m2.5 1.5h0m9.5-10.5h0m2.5 12h0m2.5 3h0m25-4h0m3.5 1h0m0.5-6.5h0m10.5 3h0m17.5 4.5h0m8-3.5h0m3.5-9.5h0m15 10h0m1.5-8.5h0m1.5 6.5h0m15-1.5h0m13 5.5h0m18.5-6h0m2.5-5h0m4.5 12.5h0m3-0.5h0m7-3h0m4-11h0m1 8h0m10.5-5h0m3 4.5h0m1 7.5h0m12-5.5h0m13.5-7.5h0m2 2h0m0.5 8h0m6.5-2h0m18.5-0.5h0m2 5.5h0m24-11h0m1 4.5h0m1-5.5h0m32 7.5h0m0.5-4h0m1.5 9.5h0m2-2.5h0m26.5-0.5h0m16-2h0m3.5 0h0m2.5-7h0m11.5 5h0m8.5 5.5h0m6-5.5h0m4-1.5h0m2.5 6.5h0m12.5 0.5h0m6.5-11h0m19.5 10.5h0m2.5-5h0m7 0.5h0m3 1.5h0m3-1h0m1.5 2.5h0m1-1.5h0m16.5-5.5h0m14.5 8h0" stroke="#ffa500" stroke-width="2.1" stroke-linecap="round" fill="none"/><path d="M1120.5 136h0m180 4.5h0m221.5 6h0m-350 38.5h0m140-9h0m57.5 2.5h0m49 16.5h0m12.5 3.5h0m-26.5 37h0m34-11.5h0m-305 48.5h0m109.5-15.5h0m18.5-7h0m75.5 21.5h0m-196 39h0m12.5-24h0m5 20.5h0m15 6.5h0m4-33.5h0m9.5 14.5h0m0.5 1.5h0m6 16.5h0m55-32.5h0m172 31.5h0m109.5 4.5h0m75-32h0m-520.5 74h0m4.5-12.5h0m0.5 6h0m1 1.5h0m2-9h0m0 1.5h0m3-2h0m1 6h0m2-2h0m0.5 10.5h0m1-16.5h0m6 9h0m4.5 7h0m15.5-6.5h0m1-25.5h0m0.5 30.5h0m9-14.5h0m7-8h0m0.5 8h0m3-16.5h0m10 19.5h0m3 0.5h0m1.5-2h0m1-13.5h0m8.5 25.5h0m2-6h0m1-2.5h0m0-5.5h0m8-1.5h0m1 15.5h0m1-27h0m15 22.5h0m4-5.5h0m4.5 2.5h0m0.5 11h0m12-2h0m23-26h0m54 27.5h0m15-21h0m8 14.5h0m8-14h0m135.5 21h0m-407 35.5h0m2-5h0m2.5 2h0m4-3h0m0 0h0m1.5 8h0m1-10h0m0.5 5.5h0m0.5 5h0m2.5-0.5h0m1-5.5h0m0.5-7.5h0m1-0.5h0m0 14.5h0m0.5-18.5h0m0.5-1.5h0m0.5-6.5h0m0 24h0m0.5-11h0m0 12.5h0m0.5-32h0m0.5 21h0m3-13h0m1.5 4h0m2-10h0m0.5 32.5h0m0.5-25.5h0m2-5h0m0 26.5h0m0.5-7.5h0m1 12h0m1.5-28h0m1-10h0m5 27.5h0m3.5 9.5h0m0.5-6h0m0.5-18.5h0m4 18h0m1.5 2.5h0m0.5-11h0m1 7h0m0-9h0m6.5 3.5h0m2 13h0m3.5-13h0m1.5-19h0m1 26h0m0 7h0m4.5-8.5h0m1-14h0m13 11h0m3-14h0m4 17h0m4 3h0m1 0.5h0m1 4h0m0-23.5h0m1.5 15h0m1-9.5h0m0 13h0m2.5 6.5h0m3.5-15h0m0.5-3h0m0.5-1.5h0m2 2h0m2.5-3.5h0m3 18.5h0m2.5 2.5h0m0.5-18h0m0.5 11h0m0.5-15.5h0m2-1h0m4 8.5h0m1.5 2h0m2-23.5h0m1 32.5h0m1.5-35h0m2 33.5h0m1.5-8.5h0m8.5-18h0m0.5 30h0m4 1.5h0m1-22.5h0m1.5-9.5h0m3.5 31.5h0m2 1h0m2.5-22h0m4.5-16.5h0m17 5h0m8.5 27.5h0m0.5-28.5h0m2.5 3h0m6.5-7h0m3.5 13h0m10.5 24.5h0m1.5-5h0m5-16.5h0m2 2.5h0m2.5-1h0m3-4h0m47.5 12h0m27 13h0m31.5-23h0m76.5 23h0m60.5-20h0m-465.5 58.5h0m7-14h0m0 3h0m2.5 12.5h0m4-19h0m1-0.5h0m0.5-9h0m0.5 19h0m0-10.5h0m4.5-6.5h0m2.5 23h0m0.5-10.5h0m0.5 3.5h0m0.5 10h0m0-5h0m0-30.5h0m0.5 15.5h0m1 21h0m0-31.5h0m1 12.5h0m2.5-10h0m1 24.5h0m0 0.5h0m0-30.5h0m1.5 29.5h0m1.5-4.5h0m2.5-6.5h0m0-22.5h0m0.5 24.5h0m0.5-10.5h0m0 17.5h0m0.5-0.5h0m0-16.5h0m0.5 22h0m1-15h0m0.5-22.5h0m0.5 25.5h0m0.5 5.5h0m0-15h0m1.5-6h0m0.5 27.5h0m1-11h0m1.5-12.5h0m2.5 13h0m1.5 0.5h0m0.5 8.5h0m0-33.5h0m1 2.5h0m1.5-1h0m2.5 6h0m0 28.5h0m0-23h0m0.5-9.5h0m0.5 9.5h0m0.5 21.5h0m0.5-11.5h0m0.5-25h0m2.5 35h0m1.5-4.5h0m0.5-29h0m1 21.5h0m0.5-14h0m2.5 9.5h0m1.5 8h0m1-5.5h0m0 4.5h0m0.5 0.5h0m0.5-7.5h0m1.5 8h0m3.5-12.5h0m0 15h0m2 5h0m1-4.5h0m0.5-15h0m1.5 13h0m3 1.5h0m0.5-12.5h0m0-16h0m0.5 29.5h0m1.5 5h0m1-34.5h0m1 16.5h0m0 17h0m1.5-14.5h0m0-1h0m0.5 17h0m3.5-11h0m0 4.5h0m1 1.5h0m0.5-23.5h0m0.5 24h0m0 6h0m1-24h0m1 17.5h0m0.5 5h0m2.5 1.5h0m1-5h0m0.5-2.5h0m2-9h0m3 8.5h0m1.5-14.5h0m1 16.5h0m0 7.5h0m2-12h0m2.5-8h0m1-8.5h0m2 15h0m3.5 13h0m5-22h0m1 7h0m1.5-8h0m1-9.5h0m8-0.5h0m1.5-2h0m2.5 35.5h0m1.5-39h0m0.5 32h0m0.5 6.5h0m0-22.5h0m0.5 22h0m1-16h0m0.5 15.5h0m1.5-33.5h0m1.5 32h0m1-12.5h0m0-13.5h0m2 29h0m0-15h0m0.5 4h0m1.5-18.5h0m0.5-4.5h0m4.5 22.5h0m0.5-4.5h0m0.5 7h0m0.5-27.5h0m0.5 20.5h0m3 10h0m5-12h0m1.5-6.5h0m3 6h0m1.5-8h0m0.5 18h0m1.5-17.5h0m2 6.5h0m2 6h0m0 9h0m2-11.5h0m4.5 4.5h0m1.5-16.5h0m0-7h0m1.5 13h0m3 19.5h0m1-16h0m4.5 0h0m4 17.5h0m0-27h0m6 16.5h0m1.5 11.5h0m0.5-14.5h0m1.5-23.5h0m1 38.5h0m0.5-2h0m2-19.5h0m5 8.5h0m0 1.5h0m2 8h0m1.5-0.5h0m7-10h0m2.5-2.5h0m2.5 8h0m2.5-19h0m5 12.5h0m3 11.5h0m2.5-13.5h0m9.5-2h0m2 9.5h0m1.5-0.5h0m26 6.5h0m0.5-6h0m2-11.5h0m6.5 6h0m9 4.5h0m13-28h0m22 38h0m6.5-11h0m1.5-0.5h0m51 8h0m7-4.5h0m1.5 1.5h0m21-4.5h0m4.5 11.5h0m42-2.5h0m-473.5 14h0m2 22h0m2.5-5h0m0-12.5h0m3 9h0m0.5-3.5h0m1.5 14h0m0-7h0m1 11h0m0-1h0m0.5-0.5h0m0.5-24.5h0m2 3.5h0m1 10.5h0m0.5-1h0m0.5-3h0m0-10.5h0m0.5-12.5h0m0.5 15h0m0.5 19h0m0-6h0m1-9.5h0m0-6.5h0m1 23.5h0m0-12h0m1.5-4.5h0m0.5 4.5h0m0.5-11h0m0 4.5h0m0.5-15h0m0.5 0h0m1 33.5h0m0-25h0m0.5 4.5h0m0 17.5h0m0-27.5h0m0.5 4.5h0m0.5 26.5h0m0-29h0m0.5 32.5h0m0.5-31.5h0m0-1h0m0.5 30h0m0-7.5h0m1-8.5h0m0 12.5h0m1-0.5h0m0.5-8h0m0.5 11h0m0.5-26.5h0m0-6h0m0.5 23h0m0.5-19.5h0m1 18h0m0.5 10.5h0m0.5-14h0m0.5-18h0m0.5 27.5h0m0-3.5h0m0-26.5h0m0.5 32.5h0m0-17h0m0.5-8h0m0-1h0m0 17h0m0.5 0.5h0m0 14h0m0.5-1h0m0.5-16h0m0-11.5h0m0-4.5h0m0.5 33h0m0-6.5h0m0.5 1h0m0.5-21.5h0m0.5 26.5h0m0-3.5h0m0.5 4.5h0m0.5-6.5h0m0.5-2h0m0.5-3h0m0 10h0m0.5-9h0m0 3h0m1-10.5h0m0 8.5h0m0-10.5h0m0-6.5h0m0.5 4h0m0.5 22h0m1-12.5h0m0 11h0m0-7.5h0m0.5-8.5h0m1-20.5h0m0 0h0m0 11h0m0.5 21h0m1-3h0m0.5 3.5h0m0.5-3.5h0m0.5-4.5h0m1 6.5h0m1-28h0m0-3.5h0m0 37.5h0m0.5-2.5h0m1-7h0m0 0h0m0.5-6h0m0.5 0h0m0.5 10.5h0m0 5.5h0m0-3.5h0m0.5-8.5h0m0-19h0m0.5 9h0m0 9.5h0m1.5 6h0m0-1h0m0 0.5h0m0-24.5h0m0.5 17h0m0.5-6.5h0m0 8.5h0m0-10.5h0m0.5-3h0m0 9.5h0m0-16h0m0.5 20h0m1-13h0m0 10h0m0-13.5h0m2.5-7h0m0.5 25.5h0m0-3h0m0.5-8.5h0m0.5 15.5h0m0.5 0h0m0-17.5h0m0.5-9.5h0m0 10.5h0m1 10.5h0m0 4h0m0.5 7.5h0m1-2h0m1-22.5h0m0.5 22.5h0m0.5-21h0m0.5 21h0m0.5-2.5h0m0 0.5h0m0-32.5h0m0.5 24h0m1 2h0m0.5-21h0m0 17h0m0.5-1.5h0m0 16h0m0-22h0m0.5-6.5h0m0 6h0m0.5 1h0m0 21h0m1-6.5h0m0 2.5h0m0-16h0m0.5-3.5h0m0.5 2.5h0m0.5-14.5h0m0 26.5h0m0 4.5h0m0.5-10h0m0-22h0m1 12.5h0m0.5 22.5h0m0 2.5h0m0.5-6h0m0 1.5h0m0.5-14.5h0m1 20h0m0.5-23.5h0m0 0.5h0m0-10h0m0.5 18.5h0m0.5-4.5h0m0-13h0m1 7.5h0m0.5-5.5h0m0-8h0m0.5 4.5h0m0 23.5h0m1.5 9h0m0.5-18h0m0 10h0m1 9h0m0.5-20.5h0m0 1.5h0m0-8.5h0m0.5 20.5h0m0.5-30h0m0.5 8h0m0.5 16h0m0.5-5h0m0.5 2h0m0.5 15.5h0m0-2h0m1-21.5h0m0.5 15h0m0-24.5h0m0.5 13h0m0.5 18.5h0m0.5-21.5h0m0.5 15h0m0-7.5h0m0.5-1.5h0m0 12h0m2-28.5h0m0 19.5h0m0.5-5h0m0-8h0m2-3h0m0 11.5h0m1.5 12.5h0m0-18h0m0.5 22h0m0.5 3h0m0.5-4.5h0m0-16h0m0 0.5h0m0 8.5h0m0-7h0m0.5 8h0m0-3.5h0m1 6.5h0m0 1.5h0m1.5-14.5h0m0-3.5h0m0.5 16h0m1 7h0m2-12.5h0m0.5-18h0m0 8h0m1 22h0m0.5-9h0m0.5 1.5h0m0-10h0m2.5 10h0m0-26.5h0m0 25h0m1.5-2.5h0m2-7.5h0m0.5 5h0m0.5 12.5h0m0.5-4h0m0.5-10.5h0m1 9h0m1-11.5h0m1-13h0m0 30h0m0.5-30.5h0m0 19h0m0.5 8h0m0.5-1h0m0-31.5h0m1.5 4.5h0m1 17h0m0-2.5h0m1.5-5h0m0.5-3.5h0m0.5 28.5h0m0.5-7h0m0-2h0m0.5-8h0m0-7.5h0m0 12h0m0.5-7h0m0-4h0m0 6h0m1 8.5h0m1.5-10.5h0m0.5 3h0m0 0.5h0m0 11.5h0m0.5-16h0m0-17.5h0m1 24.5h0m1-11.5h0m2-6.5h0m1 31.5h0m0-23h0m2 8.5h0m0.5 2h0m1-1h0m2.5-1.5h0m1.5 6h0m0-7h0m0 15h0m0.5-4.5h0m0.5-7.5h0m0.5-5.5h0m1-6h0m1 6.5h0m5-10h0m1 12h0m0-8h0m1 10h0m2.5 2h0m0.5 11h0m0 1h0m2-8.5h0m0.5 2h0m0.5-8.5h0m0 15h0m0-15h0m0.5 0.5h0m0 12h0m0.5-19h0m0 15.5h0m0-18h0m0.5-6h0m0.5 15.5h0m2-5.5h0m0-6.5h0m0.5-3h0m2.5 12h0m1 17h0m0.5-30.5h0m2.5 12h0m0.5 16h0m1-1h0m0.5-24.5h0m0 26.5h0m0-3.5h0m1-6.5h0m0-27.5h0m2 28h0m0.5-14h0m1.5-7h0m1.5 16.5h0m0.5-12.5h0m1-5h0m0.5-4.5h0m1.5 9h0m0.5 2.5h0m6 12.5h0m1 10.5h0m1.5-31.5h0m0 33h0m0.5-8h0m1 6h0m0 3h0m2.5-22h0m0.5 17.5h0m1-1.5h0m0.5 4.5h0m0.5-8h0m2 10.5h0m0.5-4h0m1 0.5h0m0-3.5h0m0-25.5h0m0.5 31h0m0-13.5h0m0 9h0m1-3.5h0m1 8.5h0m0.5-18h0m0.5 2h0m1 7h0m2.5-4h0m0-2h0m0-9.5h0m1 20h0m1.5 2.5h0m0.5 0.5h0m1.5-0.5h0m0-28h0m1-4h0m1.5 27.5h0m1-23.5h0m2 19.5h0m0.5-15.5h0m0-1.5h0m1 13h0m1-17h0m0.5 13.5h0m0.5-19.5h0m0 25.5h0m0.5 9.5h0m1-6h0m0.5-0.5h0m0.5 6.5h0m3 1h0m0.5-25h0m0.5 27h0m0.5-24h0m0 19.5h0m4-1h0m0.5 2.5h0m0.5 0.5h0m1-13h0m0.5 3h0m0 2.5h0m0.5-14.5h0m0.5 1.5h0m0 18.5h0m0.5 3h0m3.5-11.5h0m0 2h0m0-6h0m1.5 2h0m2.5 9.5h0m0.5 6h0m0-10.5h0m0 1h0m1-15h0m1.5-9h0m2.5 11h0m1-13h0m1-3.5h0m0 33h0m1-1h0m0-15h0m1.5 19.5h0m1 0.5h0m1-34.5h0m0.5 11.5h0m0 18.5h0m1.5 0.5h0m0.5-24h0m0 18.5h0m2.5-14.5h0m1 26h0m1.5-20.5h0m0-11h0m0.5 7.5h0m1.5 18.5h0m1 1.5h0m0-13.5h0m0-9h0m0 4h0m2 18h0m2-5h0m0 0h0m1-7h0m3-4.5h0m0 17h0m2-7h0m0-4.5h0m3.5-20h0m1.5 28.5h0m0.5-1h0m0-1.5h0m1-9.5h0m3-10.5h0m1 28h0m0.5-16.5h0m4-9h0m3.5 26.5h0m2.5-7.5h0m2.5-14h0m1.5 3h0m0.5 13h0m3.5 1h0m4-10h0m3.5 9.5h0m1-13.5h0m2 14h0m2.5-16.5h0m0.5 16h0m0 1.5h0m0.5-23h0m0 15h0m1-3h0m2-4.5h0m0.5-8.5h0m1 22.5h0m0.5-4h0m3 4.5h0m1.5 1h0m0 3.5h0m4.5-16h0m1-23h0m2 23.5h0m0.5 9.5h0m4-18.5h0m2.5 23h0m1.5-35.5h0m1.5 33h0m1.5 1h0m2-10h0m1 2h0m1-9h0m4.5 9h0m0.5 2h0m3.5 5h0m2.5 4.5h0m1.5-16h0m0.5 7h0m7 5.5h0m5.5-17.5h0m2-11h0m2 27h0m0-10.5h0m1-10.5h0m6.5 21h0m2-19h0m0 12.5h0m0 9.5h0m5-8h0m2 1.5h0m2.5-8.5h0m2.5 10.5h0m0-26h0m0.5 28.5h0m0.5-5.5h0m5.5-15.5h0m1 19h0m1.5-29h0m3 32.5h0m1.5 2h0m1 0.5h0m2.5-29.5h0m1.5 10h0m0 2h0m0.5 11h0m0.5-2h0m2.5-4.5h0m0 2h0m2.5-16h0m0-0.5h0m0 9h0m0.5 17.5h0m0.5-16.5h0m2-9.5h0m4 23.5h0m1-12h0m2.5 2.5h0m0.5 11h0m0.5-25.5h0m1.5 13.5h0m6.5 2h0m0.5 10h0m1.5-14.5h0m1 16h0m2.5-11h0m1.5-7h0m0.5 18.5h0m3-25h0m0.5 12.5h0m0 10.5h0m7-1h0m0-21h0m0.5 21h0m2-12h0m1 2.5h0m0-18h0m0.5 12h0m1 16.5h0m1-2.5h0m1-7h0m6.5 6h0m1-2h0m0.5 2h0m2.5-16.5h0m0.5 19.5h0m1.5-7h0m1-26.5h0m7.5 11.5h0m1 19h0m0-5.5h0m1 10h0m0.5-4.5h0m0.5 4h0m2-8h0m0 6h0m3.5-7.5h0m3.5 6.5h0m1-20h0m0.5 22h0m0.5-15.5h0m0-0.5h0m2 13h0m0.5 2h0m2-2.5h0m7 4.5h0m0-5h0m7.5-16h0m1.5 18.5h0m6 4h0m0-0.5h0m1-33.5h0m2 27h0m3 6.5h0m3.5-4h0m0 2.5h0m0-14.5h0m9-19h0m3.5 6h0m1 20h0m1.5-2h0m0.5 5.5h0m-562 7h0m2 8h0m5 3h0m1.5 1.5h0m0.5-2.5h0m0-3h0m1.5 6.5h0m1-7h0m0.5 0.5h0m0-5h0m1 13h0m0-1.5h0m0.5-9h0m2.5-3h0m0 11.5h0m0.5 1.5h0m0.5-3h0m0-8.5h0m0.5-2h0m0.5 13h0m0-2h0m1-12.5h0m0.5 13h0m0-0.5h0m0.5 3.5h0m0-5h0m0.5 4.5h0m0-10h0m0 0.5h0m0.5 7.5h0m3.5 1h0m0.5-12h0m0.5 8.5h0m0 5h0m0.5-14h0m0 14h0m0.5-10h0m2 6.5h0m0-11.5h0m0.5 11.5h0m0.5-3h0m0.5-2.5h0m0 5.5h0m1-12.5h0m1.5 15.5h0m0-8.5h0m1.5-5h0m0-1h0m0.5 14.5h0m0.5-13.5h0m0.5-1.5h0m0.5 15.5h0m0 0h0m1-6h0m0.5 4h0m0-3.5h0m1.5-6h0m2 10.5h0m1 1h0m0.5-1h0m1-5.5h0m0 1h0m0 4h0m0-10.5h0m0.5-2.5h0m4 11h0m0.5 2.5h0m1-9.5h0m0-1.5h0m0 1.5h0m0 4h0m0.5-8h0m1 10h0m1.5 3h0m0.5 1h0m1-1.5h0m0-1.5h0m0.5-12.5h0m1 0.5h0m1 10h0m0-10.5h0m0.5 6h0m0 6.5h0m1-9.5h0m0 10h0m1-6h0m0.5 8.5h0m0.5-9h0m0.5 7h0m0.5-6.5h0m0-4h0m0.5 11h0m0-12.5h0m0 6.5h0m0-7.5h0m0 10h0m1 4h0m0-13.5h0m0 9h0m0.5 2h0m1.5-4h0m0 2.5h0m0.5-8.5h0m0 5h0m2-2h0m0 6.5h0m1 2.5h0m0-12.5h0m0.5 12.5h0m0.5-1.5h0m1-6.5h0m2-2.5h0m0.5 0h0m0 2.5h0m0 3h0m1 4h0m0.5-7h0m0-0.5h0m0-5.5h0m1 15.5h0m0.5-4.5h0m1 3h0m1 2h0m0.5-4.5h0m1.5-7.5h0m0-0.5h0m0.5-3h0m2.5 9.5h0m0.5-3h0m0 4.5h0m0-4h0m0.5 6.5h0m0.5-13h0m1 0.5h0m1.5 1.5h0m0 7.5h0m1 5h0m2-11h0m0.5 3h0m0-3h0m1.5 10.5h0m1-3.5h0m2 3h0m0.5-7.5h0m1-4.5h0m0 13.5h0m3.5-9.5h0m2.5-0.5h0m0 7h0m1-4.5h0m0.5 1h0m1-6.5h0m0.5 10.5h0m0.5 1h0m1-3h0m0.5 1.5h0m0.5-8h0m0.5 1.5h0m0.5 2h0m2-6h0m1 4.5h0m0.5 9h0m0.5-13h0m0.5 10h0m1-11h0m0 7h0m0.5-0.5h0m1-5.5h0m0.5-2.5h0m1.5 10.5h0m0 5h0m0.5-1h0m0-14h0m1 1h0m0-1.5h0m0.5 15.5h0m1-2h0m0 1h0m1-9.5h0m0 8h0m0.5-1.5h0m0.5-10h0m0.5 7.5h0m1-1.5h0m0-2.5h0m1 6.5h0m0 1.5h0m0-9.5h0m0 3h0m0.5-1.5h0m0 5h0m0.5-4h0m0-5.5h0m0.5 12.5h0m0.5 1h0m0-1.5h0m3.5-6.5h0m0 6.5h0m0.5-12.5h0m5 3h0m1.5 4h0m0 5h0m0.5-10h0m0 12.5h0m0.5 0.5h0m1.5-6.5h0m0.5-5h0m0.5-4h0m0.5 8.5h0m0-1.5h0m0-2.5h0m0.5-3.5h0m1.5 13h0m0.5-3h0m3-1.5h0m0.5-1h0m1 6.5h0m0-3.5h0m0.5-11.5h0m0.5 15h0m1-13.5h0m0.5 13.5h0m0.5-11h0m0.5 11.5h0m2.5-8h0m0.5 6h0m0.5-10h0m0 8.5h0m1.5-11h0m1-1h0m0.5 13h0m2-1h0m0.5 3h0m0.5-7h0m0-1.5h0m0-2h0m1.5 2.5h0m1-7h0m0.5 11.5h0m1.5 1.5h0m0.5-6h0m0.5-5.5h0m0.5-0.5h0m0.5 3.5h0m0.5-2h0m1.5 1.5h0m2 9h0m3-9.5h0m0 10.5h0m1.5-8h0m1 3.5h0m1 5h0m1.5-6.5h0m0-5.5h0m0 12.5h0m1-8.5h0m7 2h0m1 4.5h0m0-8.5h0m1 5.5h0m0.5-3.5h0m1 2h0m0.5 2.5h0m2 1h0m0.5-3.5h0m0 7.5h0m0.5 0h0m0-3h0m0 2.5h0m0-4.5h0m1 0h0m0 4h0m0.5-0.5h0m2 1.5h0m1-6h0m2 5.5h0m2.5-6.5h0m0.5 5h0m1.5-9.5h0m0 10h0m0-11h0m1 7h0m1.5 2h0m0-10h0m1.5 11.5h0m1.5 0h0m0.5-2h0m0-2h0m1.5 5.5h0m0-12.5h0m0-1.5h0m0 12h0m2-13.5h0m0.5 3h0m0-1.5h0m1.5 11.5h0m0-5.5h0m1-1h0m0.5 2h0m1.5 6.5h0m0-2h0m0.5-6.5h0m0 6.5h0m0-6.5h0m0.5-1h0m1 1.5h0m2.5-7h0m2 11.5h0m0.5-4.5h0m0.5 7h0m1-4h0m1.5-2.5h0m0.5 2.5h0m0.5 3h0m1-13h0m0.5 1h0m1.5 2.5h0m1 5h0m1 1.5h0m1.5 4h0m0.5 2h0m2.5-9.5h0m2.5 2.5h0m1-5h0m1-1.5h0m1.5 7h0m0.5-6h0m1-2.5h0m0.5 11.5h0m1.5-2h0m0.5 2h0m0.5 1h0m1.5-5.5h0m0.5 6.5h0m1.5 0.5h0m0.5-12.5h0m4 9.5h0m1.5 2h0m2 1h0m0.5-5h0m5.5-2.5h0m1-1h0m1 3.5h0m0 5h0m1.5-6h0m0-7.5h0m0.5 9h0m0 1h0m0.5-11h0m0 13.5h0m0-8h0m0.5 0.5h0m1.5 0h0m0 6h0m0-11h0m0.5 12h0m1 1.5h0m0-2h0m1-4h0m1.5-1h0m2 5.5h0m0 2h0m0.5 0h0m2-9.5h0m0 2.5h0m0-4h0m1 6h0m1 1h0m0 1h0m3-5h0m0 2h0m0-8h0m0.5 1h0m0.5 12h0m1-5.5h0m1.5 0.5h0m0.5 3h0m0.5-7h0m0.5 4.5h0m0.5-5.5h0m1.5 4.5h0m0.5 4h0m2 0.5h0m0 0h0m0.5-8h0m0 8h0m0.5-4.5h0m0-4.5h0m0.5 1h0m0.5-3.5h0m0.5 3h0m0.5 5.5h0m3 3.5h0m2-3h0m0.5 4.5h0m0.5-10h0m0.5-3h0m0.5 7.5h0m6 2h0m0 0.5h0m2-1.5h0m0.5-2.5h0m0 6.5h0m0.5-2h0m0.5-2.5h0m0.5-9h0m0 9.5h0m1.5-4h0m0 6h0m0 1h0m2.5 2h0m0-0.5h0m3-9.5h0m0.5 8.5h0m0-13.5h0m1 2.5h0m0.5 5h0m1 6h0m0.5-13h0m0.5 11h0m1.5 0h0m1-5.5h0m1 5.5h0m1.5 2h0m0.5-13h0m0.5 12.5h0m1.5-2h0m0-7h0m0.5 6.5h0m0.5-7.5h0m1-3h0m3 5.5h0m0.5-1.5h0m1 8.5h0m2-4h0m3-4.5h0m0 1h0m0 7h0m2.5-12.5h0m1.5 15h0m0.5-0.5h0m1.5 1h0m0-3h0m1 1h0m2.5-4h0m1 4h0m1.5-1h0m0 0h0m0.5 0h0m0-2h0m3.5 3.5h0m0.5-3.5h0m0.5-2.5h0m0 6.5h0m0.5-14.5h0m0.5 8h0m0-1.5h0m1-4.5h0m0.5 12h0m0.5-4.5h0m0-2h0m1.5-8h0m0 3h0m1.5 3h0m0.5 4.5h0m0 3.5h0m1-3.5h0m0.5 2h0m4.5-10.5h0m1.5 8.5h0m1 5.5h0m0.5-8h0m1 0h0m1-5h0m0-0.5h0m0.5 2h0m0.5 9h0m0-1h0m2 2h0m2-14.5h0m0 6h0m0.5 1.5h0m1-6h0m0.5 2.5h0m4 8.5h0m1-3h0m0 6h0m1-12h0m0 7.5h0m1.5 4h0m3-5h0m0.5 2.5h0m0.5 2h0m1 1h0m2.5-1.5h0m2-12.5h0m1.5 11.5h0m0-2h0m1.5-9h0m2 3h0m2-1.5h0m0.5 12.5h0m2.5-5.5h0m2.5 1h0m0-4.5h0m2-5h0m0.5-0.5h0m0.5 11.5h0m3-5h0m1.5 5.5h0m0.5 2h0m1.5-1h0m1.5-4h0m1 2.5h0m2.5-9h0m4.5 1h0m1 6h0m3-5h0m1 4h0m1 0h0m1.5 0.5h0m3.5 5.5h0m1.5-3h0m0.5-1h0m1-5h0m1.5 9h0m1.5-12.5h0m2 6h0m0 2h0m1 1h0m0-8.5h0m2 5h0m1 3h0m1-1h0m0-2h0m2-4h0m0.5 11h0m0.5-13h0m1-2.5h0m1.5 14.5h0m0.5 1h0m1-5h0m1 1.5h0m1 0.5h0m0-10h0m0 9h0m3-7h0m3.5 6h0m0.5 2.5h0m0.5 2h0m1.5-11h0m0.5 9h0m0.5-8.5h0m0 10h0m2-13h0m1 6h0m3-1.5h0m0 9h0m0-5h0m0.5-7h0m1 12h0m0-5h0m0.5 4.5h0m0.5-0.5h0m1.5-1.5h0m1.5 1h0m1-5.5h0m3-8.5h0m2.5 14h0m0.5-5h0m1-1.5h0m0-5h0m2-1h0m3.5-1.5h0m1.5 8h0m0 7h0m3 0.5h0m0.5-12.5h0m0.5 0h0m0 1.5h0m3 0h0m0.5 5.5h0m0.5-6h0m1-2.5h0m0 13.5h0m1.5-1.5h0m2-2h0m0 4h0m0.5 0h0m2-12h0m0 11h0m0.5 0.5h0m1.5 0.5h0m0.5-13.5h0m1-0.5h0m2 11.5h0m0.5 2.5h0m2.5-6h0m2-6.5h0m1.5 5.5h0m0.5 1h0m0.5 0.5h0m1 6h0m0-10h0m0.5 7.5h0m1.5-9.5h0m1 7h0m0 1.5h0m0.5-11.5h0m0.5 12h0m0.5-11h0m0.5 2h0m0 11.5h0m1.5-2h0m0.5 1h0m0.5 1h0m1.5-5.5h0m1-8h0m0 13h0m5.5 0h0m0.5-11.5h0m0.5 6h0m0.5 3.5h0m2.5 3h0m2-1h0m0-1h0m0.5-4h0m1.5-1h0m0-0.5h0m0-1.5h0m0.5-5.5h0m0 2.5h0m0.5 3h0" stroke="#800080" stroke-width="2.1" stroke-linecap="round" fill="none"/><path d="M1115.5 382.5h0m47.5 1h0m-81.5 55.5h0m11.5-24.5h0m34 21.5h0m15.5-36h0m87 39.5h0m25.5-13h0m143 2.5h0m-311.5 42.5h0m13 2.5h0m6.5-16h0m2.5-10.5h0m2 24h0m3.5-7.5h0m12-10.5h0m10.5 15.5h0m19-10.5h0m50.5 20h0m20.5-1h0m5.5-4h0m3.5 5.5h0m9-37h0m143.5 34h0m2-4.5h0m13 5h0m29.5-6.5h0m55.5 8.5h0m33-5.5h0m-455.5 18.5h0m8.5-1.5h0m3.5-6.5h0m40 9.5h0m155.5-10.5h0m7 2.5h0m3-5h0m37 5.5h0m29 2h0m15.5 5h0m2.5-12.5h0m110 5.5h0m135.5 10.5h0" stroke="#0000ff" stroke-width="2.1" stroke-linecap="round" fill="none"/><path d="M966 480.7C967.6 479.7 972.4 477.2 975.6 474.9C978.8 472.7 982.3 470.5 985.2 467.3C988 464.1 990.3 460.3 992.8 455.8C995.4 451.3 998.2 444.9 1000.5 440.5C1002.7 436 1004 432.8 1006.2 429C1008.5 425.1 1011 420.5 1013.9 417.5C1016.8 414.4 1020 412.7 1023.5 410.8C1027 408.9 1031.1 407 1035 406C1038.8 404.9 1042.9 403.8 1046.5 404.4C1050 405.1 1053.2 407.6 1056 409.8C1058.9 412 1061.6 414.9 1063.7 417.5C1065.8 420 1067.9 421.9 1068.5 425.1C1069.1 428.3 1068.3 433.1 1067.5 436.6C1066.7 440.1 1065 443 1063.7 446.2C1062.4 449.4 1060.3 452.3 1059.9 455.8C1059.4 459.3 1059.6 463.8 1060.8 467.3C1062.1 470.8 1064.2 474 1067.5 476.9C1070.9 479.7 1075.5 482.3 1080.9 484.5C1086.4 486.8 1093.7 488.7 1100.1 490.3C1106.5 491.9 1116.1 493.5 1119.3 494.1" stroke="#800080" stroke-width="3.1" stroke-dasharray="10 4.7" fill="none"/><path d="M1013.9 448.1C1014.5 445.9 1016.8 442.4 1019.6 440.5C1022.5 438.5 1027 437.2 1031.1 436.6C1035.3 436.1 1041.5 436.1 1044.5 437C1047.6 438 1049 440 1049.3 442.4C1049.7 444.7 1048.5 448.6 1046.5 451C1044.4 453.4 1040.7 455.6 1036.9 456.7C1033 457.9 1027 458.6 1023.5 458.1C1020 457.6 1017.4 455.5 1015.8 453.9C1014.2 452.2 1013.3 450.4 1013.9 448.1Z" stroke="#800080" stroke-width="3.1" stroke-dasharray="10 4.7" fill="none"/><path d="M966 483.6C968.6 482.9 976.9 481.5 981.3 479.7C985.8 478 989.9 476.1 992.8 473C995.7 470 997.3 465.7 998.6 461.5C999.8 457.4 999.5 452.6 1000.5 448.1C1001.4 443.7 1002.7 439.2 1004.3 434.7C1005.9 430.2 1007.2 424.8 1010.1 421.3C1012.9 417.8 1016.8 415.5 1021.6 413.6C1026.3 411.8 1034.6 410.4 1038.8 410.2C1042.9 410 1044.2 410.8 1046.5 412.7C1048.7 414.5 1050.6 418 1052.2 421.3C1053.8 424.7 1054.8 429.3 1056 432.8C1057.3 436.3 1059.2 439.2 1059.9 442.4C1060.5 445.6 1060.5 449.1 1059.9 452C1059.2 454.8 1056.4 456.4 1056 459.6C1055.7 462.8 1056.4 467.3 1058 471.1C1059.6 474.9 1061.1 479.4 1065.6 482.6C1070.1 485.8 1078.4 488.4 1084.8 490.3C1091.2 492.2 1100.7 493.5 1103.9 494.1" stroke="#ff0000" stroke-width="3.1" stroke-dasharray="10 4.7" fill="none"/><path d="M1016.8 447.2C1017.1 445.2 1018.8 442.7 1021.6 441.4C1024.3 440.1 1029.5 439.5 1033 439.5C1036.6 439.5 1040.6 440.3 1042.6 441.4C1044.7 442.5 1045.8 444.5 1045.5 446.2C1045.2 448 1043.4 450.5 1040.7 452C1038 453.4 1032.7 454.7 1029.2 454.8C1025.7 455 1021.7 454.2 1019.6 452.9C1017.6 451.6 1016.4 449.1 1016.8 447.2Z" stroke="#ff0000" stroke-width="3.1" stroke-dasharray="10 4.7" fill="none"/><path d="M966 486.4C969.8 486.3 982.9 487.1 989 485.5C995.1 483.9 999.2 480.5 1002.4 476.9C1005.6 473.2 1006.5 468.2 1008.1 463.4C1009.7 458.7 1010.7 453.2 1012 448.1C1013.3 443 1013.9 437.3 1015.8 432.8C1017.7 428.3 1020.9 423.4 1023.5 421.3C1026 419.2 1028.9 419.7 1031.1 420.3C1033.4 421 1035 422.7 1036.9 425.1C1038.8 427.5 1040.7 430.9 1042.6 434.7C1044.5 438.5 1047.1 444 1048.4 448.1C1049.7 452.3 1049.3 455.8 1050.3 459.6C1051.2 463.4 1052.2 467.3 1054.1 471.1C1056 474.9 1058 479.1 1061.8 482.6C1065.6 486.1 1072 489.9 1077.1 492.2C1082.2 494.5 1089.9 495.7 1092.4 496.4" stroke="#ffa500" stroke-width="3.1" stroke-dasharray="10 4.7" fill="none"/><path d="M994.7 496.4C996.3 495.7 1001.1 495 1004.3 492.2C1007.5 489.4 1010.7 482.8 1013.9 479.7C1017.1 476.7 1020.3 475.3 1023.5 474C1026.7 472.7 1029.9 471.9 1033 472.1C1036.2 472.2 1039.8 473.5 1042.6 474.9C1045.5 476.4 1047.7 478.5 1050.3 480.7C1052.8 482.9 1054.8 486.1 1058 488.4C1061.1 490.6 1064 492.8 1069.4 494.1C1074.9 495.4 1087 496 1090.5 496.4" stroke="#0000ff" stroke-width="3.1" stroke-dasharray="10 4.7" fill="none"/><path d="M990.9 496.4C993.8 495.7 1003.4 493.7 1008.1 492.2C1012.9 490.7 1016.4 488.4 1019.6 487.4C1022.8 486.4 1024.4 486.4 1027.3 486.4C1030.2 486.4 1034.3 486.4 1036.9 487.4C1039.4 488.4 1040.7 490.7 1042.6 492.2C1044.5 493.7 1047.4 495.7 1048.4 496.4" stroke="#ff0000" stroke-width="3.1" stroke-dasharray="10 4.7" fill="none"/><path d="M992.8 496.4C994.7 496 999.8 495.1 1004.3 494.1C1008.8 493.1 1015.5 491.2 1019.6 490.3C1023.8 489.4 1026 488.7 1029.2 488.7C1032.4 488.7 1035.9 489.4 1038.8 490.3C1041.7 491.2 1044.5 493.1 1046.5 494.1C1048.4 495.1 1049.7 496 1050.3 496.4" stroke="#ffa500" stroke-width="3.1" stroke-dasharray="10 4.7" fill="none"/><path d="M977.5 496.4C982 496.2 996.7 495.7 1004.3 495.1C1012 494.4 1017.1 492.7 1023.5 492.6C1029.9 492.4 1038.2 493.5 1042.6 494.1C1047.1 494.7 1049 496 1050.3 496.4" stroke="#0000ff" stroke-width="3.1" stroke-dasharray="10 4.7" fill="none"/><path d="M966 490.3C968.6 490.6 976.5 491.2 981.3 492.2C986.1 493.2 992.5 495.7 994.7 496.4" stroke="#800080" stroke-width="3.1" stroke-dasharray="10 4.7" fill="none"/><path d="M966 488.4C969.2 488.7 978.8 488.9 985.2 490.3C991.5 491.6 1001.1 495.4 1004.3 496.4" stroke="#ff0000" stroke-width="3.1" stroke-dasharray="10 4.7" fill="none"/><path d="M966 492.6C969.2 492.8 980 493.5 985.2 494.1C990.3 494.7 994.7 496 996.7 496.4" stroke="#ffa500" stroke-width="3.1" stroke-dasharray="10 4.7" fill="none"/></g><rect x="975.7" y="18.9" width="184.2" height="113.1" rx="3.5" fill="#fff" fill-opacity="0.8" stroke="#cccccc" stroke-width="1.6"/><circle cx="998.5" cy="34.5" r="8.2" fill="#800080"/><circle cx="998.5" cy="60" r="8.2" fill="#ff0000"/><circle cx="998.5" cy="85.5" r="8.2" fill="#ff8000"/><circle cx="998.5" cy="111" r="8.2" fill="#0000ff"/><g font-family="'DejaVu Sans', 'Liberation Sans', sans-serif" font-size="18.4" fill="#000"><text x="1034" y="39.8" font-style="italic">R</text><text x="1047" y="43.8" font-style="italic" font-size="13">e</text><text x="1059.3" y="39.8">=</text><text x="1076.9" y="39.8">0.01</text><text x="1034" y="65.3" font-style="italic">R</text><text x="1047" y="69.3" font-style="italic" font-size="13">e</text><text x="1059.3" y="65.3">=</text><text x="1076.9" y="65.3">0.001</text><text x="1034" y="90.8" font-style="italic">R</text><text x="1047" y="94.8" font-style="italic" font-size="13">e</text><text x="1059.3" y="90.8">=</text><text x="1076.9" y="90.8">0.0001</text><text x="1034" y="116.3" font-style="italic">R</text><text x="1047" y="120.3" font-style="italic" font-size="13">e</text><text x="1059.3" y="116.3">=</text><text x="1076.9" y="116.3">0.00001</text></g><rect x="966" y="9.3" width="655.2" height="487.8" fill="none" stroke="#000" stroke-width="2"/><path d="M966 497.1v6.5M1097 497.1v6.5M1228.1 497.1v6.5M1359.1 497.1v6.5M1490.2 497.1v6.5M1621.2 497.1v6.5M959.5 497.1h6.5M959.5 399.5h6.5M959.5 302h6.5M959.5 204.4h6.5M959.5 106.9h6.5M959.5 9.3h6.5" stroke="#000" stroke-width="1.8"/><g font-family="'Liberation Serif', 'Times New Roman', serif" font-size="19.4" fill="#000"><text x="966" y="523.6" text-anchor="middle">0</text><text x="1097" y="523.6" text-anchor="middle">2</text><text x="1228.1" y="523.6" text-anchor="middle">4</text><text x="1359.1" y="523.6" text-anchor="middle">6</text><text x="1490.2" y="523.6" text-anchor="middle">8</text><text x="1621.2" y="523.6" text-anchor="middle">10</text><text x="953" y="503.7" text-anchor="end">0</text><text x="953" y="406.1" text-anchor="end">2</text><text x="953" y="308.6" text-anchor="end">4</text><text x="953" y="211" text-anchor="end">6</text><text x="953" y="113.5" text-anchor="end">8</text><text x="953" y="15.9" text-anchor="end">10</text></g><text x="860.7" y="523.4" font-family="'Liberation Serif', 'Times New Roman', serif" font-size="40.5" letter-spacing="1.3" fill="#000">(b)</text><text x="1293.6" y="549.1" font-family="'DejaVu Sans', 'Liberation Sans', sans-serif" font-size="19" text-anchor="middle">(1/|<tspan font-style="italic">J</tspan>|)</text><text transform="translate(921.2,253.2) rotate(-90)" font-family="'DejaVu Sans', 'Liberation Sans', sans-serif" font-size="19"><tspan x="-20.8" y="0">(</tspan><tspan font-style="italic">n&#770;</tspan><tspan font-style="italic" font-size="13.3" dy="4.5">d</tspan><tspan font-style="italic" font-size="13.3" dx="-8.2" dy="-12.5">R</tspan><tspan font-size="9.5" dy="3" font-style="italic">e</tspan><tspan dy="5" dx="1">)</tspan></text><path d="M237.5 649.9V1137.7M368.6 649.9V1137.7M499.6 649.9V1137.7M630.7 649.9V1137.7M106.5 1040.1H761.7M106.5 942.5H761.7M106.5 845H761.7M106.5 747.4H761.7" stroke="#b0b0b0" stroke-width="1.6" fill="none"/><clipPath id="clip-c"><rect x="106.5" y="649.9" width="655.2" height="487.8"/></clipPath><g clip-path="url(#clip-c)"><g filter="url(#soft)"><path d="M106 1113.3C107.3 1108.5 114.8 1101.5 117.5 1097.9C120.2 1094.4 126.3 1086.2 129 1082.6C131.7 1079 137.8 1070.6 140.5 1067.3C143.2 1063.9 149.3 1057 152 1053.9C154.7 1050.7 160.6 1043.4 163.5 1040.5C166.4 1037.6 173.5 1031.6 176.9 1029C180.2 1026.3 188.9 1019.7 192.2 1017.5C195.6 1015.2 203.2 1011.1 205.6 1009.8C208.1 1008.5 211 1006.6 213.3 1006C215.5 1005.3 222.1 1003.8 224.8 1004.1C227.5 1004.3 234 1007.1 236.3 1007.9C238.5 1008.7 241.7 1010.8 243.9 1010.8C246.2 1010.8 252.5 1008.7 255.4 1007.9C258.3 1007.1 265.7 1004.6 268.8 1004.1C272 1003.5 280.5 1002.7 282.2 1003.1C284 1003.6 285.3 1005.8 284.2 1007.9C283 1010 275.6 1018 272.7 1021.3C269.8 1024.7 261.3 1033.3 259.3 1036.6C257.2 1040 255.4 1046.5 255.4 1050C255.4 1053.6 257.7 1063.5 259.3 1067.3C260.8 1071.1 265.5 1079.5 268.8 1082.6C272.2 1085.7 284.2 1091.4 288 1094.1C291.8 1096.8 298 1102.7 301.4 1105.6C304.8 1108.5 312.7 1116.5 316.7 1119C320.8 1121.5 325.5 1125.3 335.9 1126.7C346.3 1128 397.8 1129.1 406 1130.5C414.2 1131.9 441 1137.9 406 1138.9C371 1139.9 141 1141.9 106 1138.9C71 1135.9 104.7 1118 106 1113.3Z" fill="#d9d5ea"/><path d="M106 1117.1C107.1 1116.6 112.9 1108.7 115.6 1105.6C118.3 1102.5 125.6 1094.3 129 1090.3C132.3 1086.2 141 1075.1 144.3 1071.1C147.7 1067.1 154.6 1058.9 157.7 1055.8C160.9 1052.7 167.8 1046.7 171.1 1044.3C174.5 1041.8 185.6 1036.1 186.5 1034.7C187.4 1033.4 181.5 1032.1 178.8 1032.8C176.1 1033.5 167 1037.8 163.5 1040.5C159.9 1043.1 151.5 1052.2 148.1 1055.8C144.8 1059.4 138.3 1066.6 134.7 1071.1C131.2 1075.6 120.8 1089.6 117.5 1094.1C114.1 1098.6 107.3 1106.7 106 1109.4C104.7 1112.1 104.9 1117.5 106 1117.1Z" fill="#efc9bd"/><path d="M106 1119C107.3 1115.3 115 1110.4 117.5 1107.5C120 1104.6 124.6 1097.5 127.1 1094.1C129.5 1090.7 135.7 1082.3 138.6 1078.8C141.5 1075.2 149.1 1066.6 152 1063.4C154.9 1060.3 160.6 1054.6 163.5 1052C166.4 1049.3 174 1042.7 176.9 1040.5C179.8 1038.2 185.9 1034.8 188.4 1032.8C190.8 1030.8 195.5 1025.5 198 1023.2C200.4 1021 207.2 1015.4 209.4 1013.6C211.7 1011.9 215.3 1008.6 217.1 1007.9C218.9 1007.2 223.2 1006.8 224.8 1007.9C226.3 1009 229.2 1015 230.5 1017.5C231.9 1019.9 235.4 1026.1 236.3 1029C237.2 1031.9 238.2 1038.8 238.2 1042.4C238.2 1046 236 1055.8 236.3 1059.6C236.5 1063.4 238.3 1071.4 240.1 1074.9C241.9 1078.5 248.2 1087.1 251.6 1090.3C254.9 1093.4 264.6 1099.3 268.8 1101.8C273.1 1104.2 283.5 1109.3 288 1111.3C292.5 1113.4 301.6 1117.2 307.1 1119C312.7 1120.8 328.1 1125.3 335.9 1126.7C343.7 1128 366 1129.8 374.2 1130.5C382.4 1131.2 402.3 1131.4 406 1132.4C409.7 1133.4 441 1138.2 406 1138.9C371 1139.7 141 1141.3 106 1138.9C71 1136.6 104.7 1122.7 106 1119Z" fill="#bd9fd2"/><path d="M213.3 1084.5C214.2 1076.2 225.5 1068.4 228.6 1067.3C231.7 1066.2 237.4 1072.3 240.1 1074.9C242.8 1077.6 248.2 1087.1 251.6 1090.3C254.9 1093.4 264.6 1099.3 268.8 1101.8C273.1 1104.2 283.5 1109.3 288 1111.3C292.5 1113.4 301.6 1117.2 307.1 1119C312.7 1120.8 328.1 1125.3 335.9 1126.7C343.7 1128 366 1129.8 374.2 1130.5C382.4 1131.2 402.3 1131.4 406 1132.4C409.7 1133.4 427.6 1138.2 406 1138.9C384.4 1139.7 243.4 1145.3 220.9 1138.9C198.5 1132.6 212.4 1092.9 213.3 1084.5Z" fill="#d7a8b8" fill-opacity="0.55"/><path d="M156.8 1092.2C157.2 1091.1 161.3 1086.7 163.5 1085.5C165.6 1084.2 172.5 1082.2 175 1081.6C177.4 1081.1 183.2 1080.4 184.5 1080.7C185.9 1081 187 1083.4 186.5 1084.5C185.9 1085.6 181.8 1089.2 179.8 1090.3C177.7 1091.4 171.6 1093.5 169.2 1094.1C166.9 1094.7 161.1 1095.3 159.6 1095.1C158.2 1094.8 156.3 1093.3 156.8 1092.2Z" fill="#6a3c84" fill-opacity="0.85"/></g><path d="M106 1119C107.3 1115.3 115 1110.4 117.5 1107.5C120 1104.6 124.6 1097.5 127.1 1094.1C129.5 1090.7 135.7 1082.3 138.6 1078.8C141.5 1075.2 149.1 1066.6 152 1063.4C154.9 1060.3 160.6 1054.6 163.5 1052C166.4 1049.3 174 1042.7 176.9 1040.5C179.8 1038.2 185.9 1034.8 188.4 1032.8C190.8 1030.8 195.5 1025.5 198 1023.2C200.4 1021 207.2 1015.4 209.4 1013.6C211.7 1011.9 215.3 1008.6 217.1 1007.9C218.9 1007.2 223.2 1006.8 224.8 1007.9C226.3 1009 229.2 1015 230.5 1017.5C231.9 1019.9 235.4 1026.1 236.3 1029C237.2 1031.9 238.2 1038.8 238.2 1042.4C238.2 1046 236 1055.8 236.3 1059.6C236.5 1063.4 238.3 1071.4 240.1 1074.9C241.9 1078.5 248.2 1087.1 251.6 1090.3C254.9 1093.4 264.6 1099.3 268.8 1101.8C273.1 1104.2 283.5 1109.3 288 1111.3C292.5 1113.4 301.6 1117.2 307.1 1119C312.7 1120.8 328.1 1125.3 335.9 1126.7C343.7 1128 366 1129.8 374.2 1130.5C382.4 1131.2 402.3 1131.4 406 1132.4C409.7 1133.4 441 1138.2 406 1138.9C371 1139.7 141 1141.3 106 1138.9C71 1136.6 104.7 1122.7 106 1119Z" fill="url(#tp)"/><path d="M677.5 667.5h0m61 12h0m-359.5 33h0m239.5 0h0m57.5 0.5h0m37 5h0m-322.5 41.5h0m59-6h0m1 2h0m59.5-16.5h0m120.5-16h0m-297 63h0m31.5-17h0m48.5 28.5h0m14.5-2.5h0m20.5-10.5h0m40 13h0m9-7.5h0m34.5-9.5h0m32.5-3.5h0m155.5 18.5h0m-406.5 42.5h0m59.5-8.5h0m4.5 3h0m5-10.5h0m66.5-16.5h0m17.5 34h0m30.5-15.5h0m4.5 15.5h0m79.5-29.5h0m-250 64.5h0m25.5-14.5h0m15.5 7h0m1 9.5h0m46.5 1h0m7.5-26.5h0m15.5 19.5h0m16-6.5h0m19 1.5h0m21-6h0m9.5 17.5h0m245.5-2h0m-459.5 39.5h0m3.5 0.5h0m0 0h0m5-3h0m1.5 7h0m1-6.5h0m2-0.5h0m3.5-13h0m2-5.5h0m0.5 23.5h0m0.5-28.5h0m2 23h0m2-21.5h0m2.5 5.5h0m1 7h0m0.5-7h0m0-5.5h0m0.5 25h0m1.5-12h0m1.5-20h0m0.5 7h0m0.5-8.5h0m0.5 33h0m2-28.5h0m0.5 11h0m1 18h0m0-18h0m0 15.5h0m1-32h0m0.5 3h0m2 19.5h0m1.5-15h0m0.5 17h0m0 4.5h0m1-10.5h0m3.5-4h0m0.5 5.5h0m0.5-11h0m1-4.5h0m0.5 28h0m0.5-18.5h0m9 22h0m13.5-17h0m5 8h0m11.5 3h0m0.5-6.5h0m2 7h0m6-6h0m5.5-16h0m6 10h0m0.5-19h0m4.5 3.5h0m19.5 22.5h0m1-4h0m7 10.5h0m33.5 0.5h0m34-29h0m3.5 30h0m9.5-21h0m10.5 0.5h0m17.5 1.5h0m-274 59.5h0m0-3.5h0m7.5-7.5h0m1-7.5h0m0.5 9.5h0m0.5-9h0m0 5.5h0m3 8.5h0m0.5-18.5h0m3 22.5h0m2-4h0m0.5-15h0m2 20h0m3-3h0m2-12.5h0m0.5-11.5h0m0 27h0m0.5-11.5h0m0.5 1h0m0-9h0m2 2.5h0m2.5 13.5h0m0-8.5h0m0.5 4h0m2-18h0m0 19.5h0m1 8h0m0-5.5h0m1.5 7.5h0m1-8h0m1-0.5h0m2 8h0m1-2.5h0m5.5-35.5h0m1 16.5h0m1.5-4.5h0m1-2.5h0m0.5 13h0m8.5-18.5h0m5 6h0m1.5 0.5h0m9 1h0m6.5-1.5h0m0.5 27h0m2.5-33h0m1-0.5h0m0.5-0.5h0m1.5 17h0m9.5 9.5h0m2.5-9.5h0m0.5 7h0m0.5-4.5h0m0.5-18h0m0.5 20h0m3.5-8h0m1.5-11.5h0m17 33.5h0m9-5h0m12-7h0m1.5-1h0m3.5-3h0m0.5-9.5h0m5 11h0m7-7.5h0m6 4.5h0m1-18.5h0m7.5 17h0m6.5-9h0m0.5 0.5h0m2.5 17.5h0m0.5 6h0m3.5-20.5h0m0.5-6.5h0m1.5 18.5h0m2 7.5h0m2.5-17.5h0m15 21.5h0m8.5-13h0m11-6h0m7 7h0m13 4h0m9.5 6.5h0m4.5 1.5h0m27.5-18h0m28 5h0m68.5-10h0m-420 54h0m0 8.5h0m0.5-5h0m4.5 7h0m2.5-12h0m0 6h0m2.5-15h0m1.5 9.5h0m3 8h0m0-26.5h0m1.5 20h0m1.5-8h0m2-13.5h0m0 0h0m1 25h0m0.5-31.5h0m0.5 3.5h0m0.5 14h0m1 0.5h0m0-2.5h0m0.5-1.5h0m1-1.5h0m0.5 2h0m0.5 2h0m0-8h0m0-3h0m2-1h0m2 10h0m1 11.5h0m1.5-11h0m0.5-14h0m1 15.5h0m0 7.5h0m0.5 4h0m0 1h0m2.5-20h0m0.5-0.5h0m1-1h0m1.5-8h0m2-0.5h0m0.5 6h0m1.5 25h0m0-20h0m0 24h0m4.5-29.5h0m5 14.5h0m0 9h0m1-15h0m0.5 21h0m5-33.5h0m1 7.5h0m0.5 21h0m0.5 8h0m0.5-32h0m0 32.5h0m1-14h0m8 2.5h0m16 10h0m4-25.5h0m2 3.5h0m1.5-10.5h0m0.5-1.5h0m8.5 18h0m0.5 1h0m2-11.5h0m1-7.5h0m6 35.5h0m3.5-5h0m0 4h0m1.5-33h0m2 18h0m3-6.5h0m1.5-10h0m0.5 11.5h0m1 11.5h0m0.5-12h0m1 4.5h0m1-8h0m1 1.5h0m2-13.5h0m11.5 34h0m2.5-10h0m2 4.5h0m0.5-26h0m2 34h0m9.5-33.5h0m2 13h0m9.5-16.5h0m0.5 6.5h0m2 5h0m0.5 3.5h0m10.5-13h0m1.5 0h0m0 3.5h0m7 30.5h0m0-28h0m0.5 22h0m4.5-29h0m4 17.5h0m5-5.5h0m2.5-4.5h0m1 19.5h0m4 1.5h0m7.5-3h0m3 4h0m3.5-11.5h0m0.5 12h0m10.5-13h0m1 3h0m6.5-21h0m2.5 2.5h0m16.5 32h0m4.5-27h0m2-1.5h0m7.5 9h0m0.5-12h0m10 22h0m10.5 8h0m0-3.5h0m7-19h0m9.5-8.5h0m31.5 22h0m8.5-25h0m3 20.5h0m18 10h0m2-28.5h0m20-2.5h0m23.5 31h0m12.5-4h0m84.5 2.5h0m-541.5 46h0m5 0h0m4-33h0m2 33.5h0m2-27h0m2 10.5h0m0.5-11h0m0.5 21h0m3.5-25h0m0 9h0m0.5 22.5h0m1-21.5h0m0-11h0m3 36h0m0.5-29.5h0m0.5-0.5h0m0.5-7.5h0m0 36.5h0m0.5-35.5h0m1 9h0m0.5-9.5h0m0.5 30.5h0m0.5-29h0m0.5 35h0m1-36.5h0m0.5 8.5h0m0.5 2.5h0m0.5 7.5h0m0.5-19h0m3 4.5h0m0.5 11.5h0m0.5-17h0m0.5 13h0m0-4.5h0m1 15.5h0m0-16.5h0m0.5 4h0m0.5-4.5h0m0.5 10h0m0-18h0m1 34.5h0m5-26.5h0m0 10.5h0m2.5-17.5h0m2 24h0m0-12.5h0m1-11.5h0m1 25.5h0m0.5-10h0m10 17.5h0m2-9h0m1 9.5h0m2-15.5h0m2-9.5h0m1 10h0m0.5-17h0m0 33.5h0m1-25.5h0m1 26.5h0m3.5-0.5h0m0.5-13.5h0m2 15.5h0m4.5 1h0m1.5-21.5h0m1.5 20.5h0m2-15.5h0m0 16.5h0m3.5-36.5h0m4.5-2.5h0m1.5 28h0m0-4.5h0m2 5.5h0m2 7h0m0.5-7.5h0m5.5-25.5h0m1.5 3.5h0m0.5 28.5h0m2.5-5h0m3.5-21.5h0m7 15.5h0m2-22.5h0m1 0h0m0.5 7h0m3 21h0m1.5-5.5h0m1-1.5h0m0.5-16h0m0.5 32h0m2-24.5h0m2.5 8.5h0m0.5 7h0m0.5-24h0m4.5-0.5h0m4.5 0h0m1 20h0m0.5 14h0m0.5-4h0m0-10h0m3-7h0m4-10.5h0m0.5 30.5h0m1-5.5h0m3 5h0m0.5 1.5h0m0.5-11.5h0m0.5-13.5h0m1 17.5h0m5-3h0m2.5 10.5h0m2-23.5h0m2.5 23h0m0.5-35.5h0m1.5 0h0m0 33h0m4.5-4h0m2 4h0m0.5-16.5h0m2-19h0m0 7h0m0.5 17h0m1.5 5h0m3 6.5h0m0-36h0m11.5 18.5h0m2 11h0m1 8.5h0m0-7h0m1 6h0m0.5-2h0m0 2h0m4-19h0m3 8.5h0m1-19h0m1 5h0m0.5 7h0m3.5-8h0m2-9.5h0m10.5 32.5h0m2.5-14.5h0m0.5-2.5h0m12-14h0m2.5 29.5h0m6.5-19h0m0.5 18.5h0m2.5-3.5h0m0.5 2h0m2 3h0m0.5-7h0m4.5-3h0m0-24h0m0.5 22h0m1.5 3.5h0m1.5-24h0m0.5 11.5h0m0.5 23h0m0-11h0m2.5 12h0m0-24.5h0m1.5-3h0m1.5 16.5h0m8.5-13.5h0m1.5 9.5h0m9.5 8.5h0m0.5-16h0m1.5 23.5h0m0.5-18.5h0m1-6.5h0m14.5 19h0m15.5-11h0m3.5 4.5h0m8.5 10h0m4.5-15h0m0.5 7h0m5-7.5h0m14.5-13h0m1 27.5h0m6 1.5h0m2-26h0m3 27.5h0m4-35h0m2 3h0m3 28h0m6.5 3.5h0m0.5-25h0m16 25.5h0m0.5-14h0m0-16.5h0m1.5 26.5h0m2-19.5h0m6-10.5h0m4 29.5h0m5-4.5h0m18-17.5h0m6.5 1h0m33-10.5h0m17 14.5h0m4.5 11.5h0m-503 13h0m2 21h0m1-19h0m0 26h0m1.5-18h0m0.5 19.5h0m2 7.5h0m0.5-31h0m0.5 20.5h0m2 10.5h0m1.5 1h0m0-14.5h0m1 6h0m1.5-4.5h0m2.5 3.5h0m2.5 6h0m0.5-2h0m0-3h0m1.5-25.5h0m0-1.5h0m0 14.5h0m0.5-13.5h0m0.5 18.5h0m0.5-12.5h0m0.5 10h0m1 18h0m0-17h0m0 0.5h0m1.5 5.5h0m3 2.5h0m0.5 4h0m2.5 3.5h0m0-24h0m4.5-2.5h0m2-9h0m2 26.5h0m2-16h0m2 13h0m0.5-1h0m0.5-13.5h0m1.5-8h0m0 0h0m1 22h0m0.5-1h0m2.5-10h0m1 11.5h0m0-25h0m1 10h0m0.5 22h0m1.5-16h0m0 14h0m0.5-18.5h0m0.5-6.5h0m0 24.5h0m0-2h0m0.5 2h0m1-2h0m0-16h0m1 25h0m0.5-0.5h0m0.5-12h0m0 14h0m2.5-29h0m0.5 11.5h0m0.5-9.5h0m0-9.5h0m2 2h0m0.5-2.5h0m3 22.5h0m0.5 10.5h0m0-1h0m0.5-18.5h0m1 4h0m0.5 10.5h0m1.5-6.5h0m0.5 15.5h0m0.5-31.5h0m0.5 32.5h0m0.5-2h0m2.5-4.5h0m0.5-23.5h0m0 22h0m0.5-7h0m1-2.5h0m0-14h0m0.5 18h0m1.5 12h0m0-26.5h0m0.5 18.5h0m0.5-16h0m0-2.5h0m4 14h0m1-8.5h0m0.5 13h0m3.5-24.5h0m2-4h0m2 28h0m1.5-27h0m0 25.5h0m0.5 0.5h0m0.5-25.5h0m1 13h0m0.5-8h0m2.5 25h0m1.5-4.5h0m0.5-19h0m1 22h0m0.5-16h0m0.5 10h0m0-6h0m0.5 16.5h0m3.5-6.5h0m1-14h0m0.5-13.5h0m0.5 22.5h0m2-15h0m1-3h0m0 1.5h0m2.5 10.5h0m0.5 14.5h0m0.5-21h0m0.5 19h0m1 7.5h0m0-19.5h0m0.5 0.5h0m1.5 12.5h0m0.5-13h0m3 19h0m2-17.5h0m0.5-8h0m0-5h0m2 21h0m0.5 11h0m0-29.5h0m1.5 7h0m0.5 21.5h0m0-10h0m0.5-18.5h0m0.5 5.5h0m1-12h0m0 33h0m1-28.5h0m2 1.5h0m0 17h0m1.5-12.5h0m0 0.5h0m1.5 14h0m0.5 2.5h0m0.5-26h0m0.5 19h0m3-11.5h0m1 26.5h0m2.5-38.5h0m1.5 36h0m2-1h0m4-13h0m1.5-8.5h0m0.5 0.5h0m0.5 4h0m2 8.5h0m1-14h0m2.5 19h0m0.5 4.5h0m1-15h0m8-6.5h0m3.5-3h0m2 3h0m0 18h0m2.5-17.5h0m0-11h0m0.5 12h0m0.5 15.5h0m2-22.5h0m0 23.5h0m2-26h0m1 23h0m0.5-9h0m2.5-5h0m1.5-11.5h0m0.5 7h0m6.5 11.5h0m5.5-6.5h0m0 16h0m1-11h0m1 14h0m2-31h0m1 30.5h0m0.5-8h0m0.5 6.5h0m0.5 4.5h0m1.5-35.5h0m1 15h0m0.5 16.5h0m0.5-31h0m0 35h0m1.5-34h0m1 9.5h0m0-9.5h0m3.5 20h0m1-21h0m0.5 27h0m1.5-20.5h0m1.5 3.5h0m1 26.5h0m1-28h0m2 24.5h0m2-14h0m1-21h0m0.5 16.5h0m0 12.5h0m1.5 6h0m1.5-33.5h0m0 30h0m0.5 1.5h0m0.5 0h0m1.5-9h0m0.5-19.5h0m1 10h0m2.5-11.5h0m1 17h0m1 2.5h0m0 4h0m0.5-16h0m0.5 16h0m0.5-8.5h0m4 9.5h0m0.5 3.5h0m1.5-2.5h0m3.5-11.5h0m0 11.5h0m1.5-0.5h0m4-12h0m0.5 3h0m1.5 9h0m2.5-9h0m3.5 17h0m3-19h0m0.5 19h0m0.5-11.5h0m2-9.5h0m1.5-10h0m0.5-1h0m1.5 33.5h0m0-32h0m0 13.5h0m0-16h0m0.5 21.5h0m0 12.5h0m1-8h0m3.5-5h0m0.5-1.5h0m0.5-16.5h0m3 23.5h0m0.5-5h0m0-24h0m1.5 34h0m0-7.5h0m0 2h0m1-7h0m2-23h0m1.5 17h0m0.5 14h0m1.5 1h0m1-24.5h0m4 29h0m2-8.5h0m0 8h0m1-25h0m7.5 5.5h0m2 15h0m1.5-22.5h0m0 25.5h0m2.5-32h0m0.5 3.5h0m4 28.5h0m3-13.5h0m3 18.5h0m0-34.5h0m0.5 11.5h0m2 15.5h0m0.5-25.5h0m1-2.5h0m2 2h0m1 18h0m0.5 13.5h0m0-8.5h0m2.5-12h0m2.5-12h0m3 15h0m1 13.5h0m0 1.5h0m2-21h0m0.5 8.5h0m1.5-4h0m2-2h0m6.5 22h0m0.5-1h0m5-1.5h0m2-5.5h0m2.5-16h0m0.5 20.5h0m0.5-10.5h0m0.5 8h0m1.5-11h0m1.5-3h0m10.5-7h0m2 1h0m0.5 5.5h0m6 12h0m0-12.5h0m0.5 19.5h0m5.5-10h0m1 10.5h0m4.5-4.5h0m1-16.5h0m3.5-2h0m0.5-0.5h0m4.5-12.5h0m0.5 20h0m1-19.5h0m4 13h0m1 10.5h0m7.5-4.5h0m0 14.5h0m4-2.5h0m1.5-26h0m2.5-7h0m1.5 13h0m0.5 21.5h0m4.5-15.5h0m3 15.5h0m1.5-8.5h0m2 6.5h0m1.5-1h0m1.5-30h0m2.5 21h0m1.5-9.5h0m6.5 7.5h0m3-13h0m5 7.5h0m14.5 5.5h0m3.5-5h0m0 22.5h0m14.5-13h0m0.5 12.5h0m0-1h0m1.5 1h0m1-33h0m3 22.5h0m6.5-1.5h0m5.5 7h0m3.5-29h0m5 16.5h0m0.5 17h0m0.5-5.5h0m0.5-9h0m6.5-5.5h0m3 0.5h0m0.5 0.5h0m-547.5 48h0m0 12h0m4-9h0m1 6h0m1-15h0m0.5-18.5h0m0.5 2h0m2 23.5h0m1-5h0m2.5-6.5h0m1-5h0m0.5 18.5h0m1.5-23h0m1 17h0m1-1h0m1 15h0m0.5 2.5h0m0-25h0m1 9h0m1-5h0m0 1h0m0.5 16.5h0m0 1h0m0-18h0m1 18h0m0-19.5h0m0.5-7.5h0m1.5 1h0m0 13.5h0m0.5 9.5h0m0-4h0m0.5 5h0m0.5-9.5h0m0.5 7h0m0-9h0m1.5 13.5h0m0.5-20.5h0m2-6h0m0 6.5h0m0.5 19h0m0.5 1.5h0m1-18h0m0.5 2.5h0m0 10.5h0m0-4.5h0m0-12.5h0m0.5 1.5h0m0 21.5h0m0.5-0.5h0m0-11.5h0m0.5-2h0m0.5-10h0m0.5-2h0m0.5-7h0m0.5 3.5h0m0.5 7h0m0.5-2.5h0m1 22h0m0-24.5h0m1 4.5h0m0 13h0m0.5 9.5h0m0.5-2h0m0.5-33.5h0m1 12.5h0m0-6h0m1 19.5h0m0-10.5h0m1-9h0m1-7h0m0 25h0m0.5-19.5h0m0.5 8h0m0.5-12.5h0m0 0.5h0m0.5 18h0m0-8h0m0.5 9h0m1-3h0m0.5-5.5h0m0 21.5h0m1-32.5h0m0.5 32h0m0.5-31h0m0 2.5h0m0-3h0m0.5 13h0m0.5 15h0m2-14.5h0m0 5h0m2-7.5h0m0.5 19h0m0-15.5h0m1 4h0m0-9h0m0.5 4h0m1-6.5h0m0-7h0m0.5 23h0m1.5-1h0m0.5 7h0m1.5-5h0m2 3h0m0 7.5h0m1.5 0h0m0-29.5h0m0.5 6h0m0-8.5h0m0.5 7h0m1 13.5h0m0 1.5h0m0.5 11.5h0m0.5-39h0m0 12.5h0m0 18.5h0m0.5-11.5h0m0 7h0m0.5-20h0m0.5 28.5h0m0-32h0m1.5 14h0m0.5 20.5h0m0.5-36h0m0.5 35.5h0m1-6h0m0-14.5h0m0.5 4h0m0 9h0m1-7.5h0m0 11h0m0.5-30.5h0m1 6.5h0m0.5 12.5h0m1-18.5h0m1 6h0m0 30h0m0-16h0m0-23.5h0m0.5 9h0m0.5 29.5h0m1-30.5h0m0 18.5h0m1 11.5h0m0-4.5h0m1-6.5h0m1 4.5h0m0 3.5h0m1-28h0m0 14.5h0m0-12.5h0m1.5-5.5h0m1 33h0m0.5-10.5h0m0.5-20h0m0-4.5h0m0.5 27.5h0m2-3h0m1-11h0m0-10h0m1 16.5h0m0-14h0m0 30h0m0.5-25.5h0m1 10.5h0m1-3h0m0-16.5h0m0.5 19.5h0m0.5-14.5h0m0.5 3h0m0.5 12h0m1-21h0m0 22.5h0m0.5-18h0m0-4h0m1 25h0m0-7.5h0m1-9.5h0m0-10h0m0 19.5h0m0-16.5h0m0.5 32.5h0m0-15.5h0m0 10.5h0m1-11.5h0m1-11h0m0.5 14h0m0-15.5h0m0 9h0m1 0.5h0m0.5 16h0m0.5-25.5h0m0 29.5h0m1.5 1.5h0m0.5-13h0m0.5 11h0m0-7.5h0m0.5-1h0m0.5-2h0m0-5h0m0.5 11.5h0m1-31.5h0m2.5 1.5h0m0.5 21h0m0-9.5h0m0-8.5h0m0 29h0m0.5-21h0m0.5 7.5h0m2-4.5h0m0-15.5h0m0 20.5h0m1-20h0m0.5 5h0m0 16.5h0m0 5h0m0.5 8.5h0m0 2h0m1-11.5h0m0.5 6h0m0.5-5h0m0.5-4h0m0-0.5h0m0.5 11.5h0m0.5-2.5h0m0-24h0m1-1.5h0m0.5 32.5h0m0-31.5h0m0 19.5h0m1 1.5h0m0-28.5h0m1.5 1h0m0.5 32.5h0m0-32.5h0m0 37h0m0.5-0.5h0m0-10h0m0-7h0m1.5 9h0m1.5-18.5h0m0.5 3.5h0m1.5 11h0m0-5.5h0m0 14.5h0m2 1h0m3-10.5h0m0-23h0m0.5 32.5h0m0-8h0m1-19.5h0m0.5 17h0m0-23h0m0.5 17.5h0m0 8h0m0.5 7.5h0m0 2.5h0m0-14.5h0m1 14.5h0m0-8h0m1-7h0m1.5 8.5h0m1-3.5h0m0.5-26.5h0m0 33h0m0.5-17.5h0m0.5-3h0m0 14.5h0m0.5-2.5h0m1-3.5h0m0 14h0m0.5-1.5h0m2.5-2.5h0m1.5 4h0m0.5-2.5h0m0-26h0m3 27h0m0 2.5h0m0 0h0m0-9.5h0m0.5-16.5h0m1.5 9.5h0m0.5 17.5h0m0-18h0m2-11.5h0m0.5-2.5h0m1.5 22h0m0.5-17.5h0m0 24h0m0.5-12h0m0.5 8.5h0m0.5 6h0m0.5-7.5h0m0-24.5h0m0.5 26.5h0m0.5-28.5h0m1 2h0m2 30h0m1-29h0m0.5 1h0m0-1.5h0m1 30.5h0m1.5-33h0m0 36.5h0m0-4h0m0.5-3.5h0m0-19.5h0m3 23h0m1.5-11.5h0m0 1h0m0.5-23.5h0m0.5 37h0m2.5-22.5h0m0 7.5h0m0.5-13h0m0.5-2.5h0m0.5-4.5h0m0.5 34.5h0m0-28.5h0m0 30.5h0m0.5-6.5h0m0-7h0m0.5-15.5h0m0.5-9.5h0m1.5 39h0m0-0.5h0m0-14h0m1.5 1.5h0m1-3.5h0m2.5-10.5h0m0.5 23.5h0m0.5 3h0m1.5-11.5h0m1 5.5h0m1 1.5h0m1 3.5h0m1-1.5h0m0.5-28h0m0.5 24h0m1-3h0m0.5 6.5h0m3-22.5h0m0 21.5h0m2.5-19h0m1.5-13.5h0m0.5 26h0m1.5-19h0m0 14.5h0m1 1.5h0m0-22h0m1.5 3h0m1 26.5h0m0.5-3h0m0.5 7h0m0-29.5h0m1 15.5h0m0-14.5h0m0-8h0m1 18.5h0m0-2h0m2-5h0m0 13h0m0-12.5h0m0.5 3h0m0-2h0m1.5-4.5h0m0.5 15h0m0 9h0m0.5 0.5h0m0-23h0m2 7h0m1 16h0m0.5-27h0m1 7.5h0m0-4h0m0.5 10h0m1.5-6.5h0m0.5 4h0m1.5 2h0m1.5-19.5h0m1.5 6.5h0m0.5-3.5h0m0.5 15h0m2.5-7h0m1-6h0m2 22.5h0m1 6.5h0m0.5-1.5h0m1-4h0m2-23.5h0m0.5 3.5h0m0.5 9.5h0m0.5 5h0m0.5-11.5h0m0 24h0m3.5-7.5h0m0.5 7h0m1-34h0m1.5 11h0m0 16.5h0m1.5-16.5h0m2.5-0.5h0m3.5 27h0m2-38h0m0 2h0m0 18.5h0m1-7h0m0 11h0m0.5 7.5h0m2-1h0m1.5 2h0m0.5-6h0m0-1h0m0.5 7.5h0m0-6.5h0m1-5h0m0.5-8h0m0 13.5h0m1.5-6h0m0-1h0m0.5-19.5h0m0 8.5h0m3 0.5h0m1 19.5h0m0-3h0m1 4.5h0m1.5-16.5h0m1.5 0h0m0 23h0m2-10h0m1-24.5h0m0.5 25.5h0m0.5-8.5h0m0 11h0m1-17.5h0m2-10.5h0m0.5 30h0m2.5-16.5h0m1 4h0m3.5-2.5h0m0-11.5h0m0 22.5h0m0-9.5h0m0 4h0m1.5 8.5h0m0.5-10.5h0m0-20.5h0m1 37.5h0m1-38.5h0m1.5 38.5h0m1-29.5h0m0-8.5h0m0.5 38h0m1-4h0m0-9h0m0.5-13h0m0 7.5h0m1.5-1h0m1.5 20h0m1-3h0m2-3.5h0m0-13h0m0.5-15h0m1 14.5h0m0.5-8h0m0 6.5h0m1 16.5h0m2.5-1.5h0m0-15.5h0m1.5 18.5h0m1-10h0m0.5-24.5h0m1.5 30.5h0m3-1h0m2-17.5h0m0.5 22.5h0m0.5 2h0m0-26h0m0.5 27h0m1.5-7.5h0m0.5-27h0m0.5 33h0m0.5-18h0m0.5-3h0m1-13h0m0.5 13h0m1 21.5h0m1.5-19.5h0m3 9h0m2-19.5h0m0.5 2h0m0 2.5h0m1.5 25h0m0 1h0m1-22.5h0m0-9h0m0 1.5h0m0.5 30h0m0.5-26h0m2 25h0m0-24h0m0.5 1h0m1.5 6h0m0.5-9.5h0m0.5 1h0m1.5 13.5h0m0.5 6h0m0.5 4.5h0m0.5-10.5h0m0.5-9h0m3 16.5h0m0.5-15.5h0m1.5 12.5h0m0.5-2.5h0m0-8h0m4 4h0m0-8.5h0m0.5 4h0m0.5 7h0m0 4.5h0m0.5-19h0m1.5 25h0m1-22h0m0 5h0m1-2h0m2-13h0m0.5 15.5h0m1 2h0m1-9h0m0 15.5h0m0.5-3.5h0m1.5 8h0m1 4.5h0m1.5-10.5h0m1-10h0m1 18h0m0-21h0m1 23h0m1.5 1h0m0-9h0m1-18h0m2-11h0m1 0.5h0m1.5 26h0m0.5 0.5h0m1-27h0m1 7h0m0 2.5h0m1-1.5h0m0 23h0m4.5 1.5h0m0-29.5h0m0.5 31h0m0-21.5h0m2 11.5h0m0.5 14.5h0m0-32.5h0m1.5 11.5h0m1.5-14h0m0.5 22.5h0m0.5-3.5h0m1.5 2h0m1.5 13h0m1.5-10h0m2-11.5h0m0 14.5h0m0.5-9.5h0m0 11.5h0m1-21h0m1-11.5h0m2 29h0m2 7h0m0.5-11h0m1-12.5h0m1.5 26h0m2.5-23.5h0m0.5 9.5h0m0-15h0m0.5 18h0m3 1.5h0m0.5 5h0m3 2.5h0m0-7h0m0.5-18h0m0.5 16.5h0m0.5 11.5h0m0.5-15h0m0.5 5.5h0m1-27.5h0m1 12h0m2-5.5h0m1 15h0m2-8.5h0m1.5 14h0m0.5-5h0m0 12h0m2.5-26.5h0m2 17.5h0m0.5 6.5h0m1-4h0m1-15h0m1 13.5h0m0.5 0.5h0m0-16h0m0 15h0m0.5-9h0m0 17.5h0m0.5-22h0m1.5 10h0m2-13h0m1 27h0m0.5-10h0m0.5-26h0m1 22h0m1-3.5h0m2 17h0m0-12.5h0m1.5 9h0m0-29.5h0m0-1h0m3 5h0m1.5 15h0m0.5-10h0m1 5.5h0m0.5 9.5h0m1-26h0m1 21.5h0m1 11.5h0m0-29h0m0-0.5h0m0 28h0m0.5-0.5h0m1-22h0m0-7.5h0m1.5 22h0m3-11h0m0.5-6h0m0.5 30h0m1-32.5h0m0 3h0m0.5 29h0m0-22.5h0m3 2.5h0m0.5-11h0m2-4h0m0 27h0m0.5-4h0m0.5-16h0m0.5 9h0m0 19h0m0.5-11h0m1-7h0m0.5 1.5h0m1 9h0m2 0h0m0-3.5h0m1 4.5h0m1-7.5h0m1.5-10.5h0m2 4h0m2.5 16h0m2-29h0m1.5 4.5h0m0.5 8h0m1.5 11.5h0m2-24h0m1.5-3h0m4 31h0m0.5-3.5h0m2 8h0m2-25h0m0.5 22h0m1-15h0m1.5 10.5h0m0-25h0m1.5 12.5h0m0 8h0m1.5 0h0m0.5-24h0m0 5.5h0m2.5 2h0m1 10.5h0m0.5-11h0m0 30h0m0-1h0m6.5-27h0m2 4.5h0m0.5 21.5h0m1-24.5h0m0 24h0m0.5-25h0m1.5-7.5h0m0.5 18h0m0.5 4.5h0m0.5-5.5h0m0.5-5h0m0.5-15h0m1 15.5h0m0.5 10h0m1-13.5h0m1 6.5h0m0 18h0m1 2h0m1.5-15h0m-537.5 20h0m6.5 2.5h0m3.5 6.5h0m0-5.5h0m0.5-6.5h0m0 0h0m1.5 13.5h0m0-6h0m0.5 2h0m0.5-1h0m0-9.5h0m1 4.5h0m1 9.5h0m1-1h0m0 2h0m0.5 0.5h0m0.5-0.5h0m1-7.5h0m0.5 8.5h0m1.5-12h0m2.5 3h0m0.5 6.5h0m1-9.5h0m0-1h0m1 11.5h0m1-8.5h0m0.5-4h0m1 3h0m1.5-2.5h0m1-1.5h0m2 9h0m1-9h0m2.5 12h0m1.5-11h0m0.5 6h0m0.5 1.5h0m2.5 0.5h0m0 3.5h0m0 0.5h0m1-13h0m0 9.5h0m0.5 0h0m0.5 2.5h0m0-1h0m1.5-7.5h0m0.5 2.5h0m1.5 3.5h0m0-7h0m0.5 12.5h0m1.5-16.5h0m1 13h0m2.5-13h0m0.5 9h0m1 0.5h0m0.5 3h0m0-4h0m2-2.5h0m0.5-1h0m0 0.5h0m2 2h0m1.5 3h0m0.5-3h0m0.5-0.5h0m0-5h0m1.5 4h0m0.5 4h0m0 1.5h0m0.5-1h0m0-0.5h0m0.5 3.5h0m0-8.5h0m0 4.5h0m4-2h0m1-7.5h0m0.5 10h0m2-5.5h0m1 0.5h0m2.5-4h0m1.5 15h0m1-6.5h0m1.5-2.5h0m1.5 9.5h0m1-0.5h0m0.5-3.5h0m0.5-3h0m1-9h0m0 14.5h0m1 0.5h0m0.5-9.5h0m0.5 4.5h0m1-3h0m0-2h0m0 7.5h0m1-13h0m0 1.5h0m1 0.5h0m1.5 12.5h0m0.5-4.5h0m0 0.5h0m0.5 5.5h0m0.5-11h0m1-4.5h0m0 15.5h0m0.5-10h0m2 9h0m0.5-13h0m0 1h0m0.5-3h0m2.5 10h0m2.5-1.5h0m0.5-1h0m1-0.5h0m0.5 7.5h0m2.5-1h0m0 2h0m1-5h0m0.5-6.5h0m0.5 9.5h0m1.5 0h0m0.5 0h0m0 2.5h0m3-1h0m0.5-2h0m1-9h0m0 11h0m0.5-9h0m1 7h0m0-1h0m0.5-1.5h0m2.5-3h0m2.5 0h0m0.5 7.5h0m0.5-5h0m1 1h0m0.5-1.5h0m2-3h0m2.5-1.5h0m0.5 10h0m1.5-2h0m1.5 2.5h0m0.5-1h0m1.5-3h0m0.5-10h0m2 11.5h0m1 0.5h0m3-7.5h0m0.5 6h0m2-7.5h0m1.5-2.5h0m1.5 10.5h0m4.5-2.5h0m1-9.5h0m1 1h0m0.5 5.5h0m0-5h0m2 1h0m3 3.5h0m1 2.5h0m1 4h0m1-2h0m6 1h0m1.5-8.5h0m1.5-0.5h0m1.5 3h0m3 7h0m3-11.5h0m0 13h0m1.5-1.5h0m0.5 2.5h0m2.5-10h0m0-0.5h0m1 0h0m2.5 10.5h0m0-6.5h0m1 4h0m0.5-6.5h0m1.5 4.5h0m2 5h0m0.5-12h0m1 6h0m1.5 1h0m3-11h0m3 16.5h0m0.5-5h0m1.5-3.5h0m1-7h0m2 13.5h0m1-9h0m0 9h0m1-2h0m2-4.5h0m0.5 1h0m2.5 3h0m0.5-5h0m0 6h0m0.5-9.5h0m0.5 9.5h0m3-7.5h0m2 4.5h0m0-1h0m2.5-0.5h0m0.5 0.5h0m1 4h0m3.5-0.5h0m7-10h0m4 2h0m2-4.5h0m0 14h0m0.5-2h0m2-6h0m2 8.5h0m0.5-1h0m3-4h0m0.5-3h0m3.5-3h0m0.5-2.5h0m1.5 14h0m1.5-8.5h0m0 3.5h0m0.5-6h0m3-1h0m0 10.5h0m0-13.5h0m2 9h0m6.5-4h0m1.5 9.5h0m1 1h0m0.5-15h0m0.5 1h0m1 3h0m2 11h0m1-3h0m0-8h0m2.5-4.5h0m1 8.5h0m2.5-2.5h0m0.5-2h0m2 8h0m2.5-1.5h0m1-5.5h0m0.5 5h0m0.5-3.5h0m1-6h0m1.5 9.5h0m0.5 4h0m1-4h0m2.5 4h0m0.5-11h0m0.5 10.5h0m0.5 1.5h0m1.5 0h0m1-6.5h0m1-2h0m1 5h0m3-2.5h0m0 3h0m0.5-1h0m1 4.5h0m2.5-7h0m2.5 6h0m0.5-9h0m1.5 8h0m0.5-2h0m0.5 2.5h0m2-5h0m0.5 4h0m1-6h0m2 4h0m0 5h0m0.5-5h0m0.5 5h0m2-12h0m1.5 6.5h0m3 3.5h0m1-1.5h0m1-10h0m0 11.5h0m0.5-9h0m0.5 8h0m2.5-8.5h0m0 4.5h0m1-7.5h0m1.5 8h0m1 2h0m0.5-6h0m0.5-5.5h0m0.5 14.5h0m0 0.5h0m1-9.5h0m2 7.5h0m3-4h0m4.5 0h0m0 0.5h0m4 5h0m2 0h0m1-4.5h0m0.5 1.5h0m2-7h0m4-2.5h0m2 2h0m1 1h0m0.5 2h0m1-3.5h0m1 10.5h0m0.5-4h0m1.5-1h0m1 2.5h0m1-11h0m1.5 6.5h0m0.5-2.5h0m2 4.5h0m5.5 6h0m0.5-10h0m2-3h0m1 13.5h0m1-10h0m0.5 9.5h0m0 0.5h0m0-9h0m3 5.5h0m0.5 1.5h0m0-13.5h0m0 13h0m0.5-2.5h0m3-5h0m0 7h0m1.5 0.5h0m1.5-9.5h0m2 4.5h0m0.5 7h0m0.5-4.5h0m0.5 4h0m5 0h0m6.5-14.5h0m2 15h0m0.5-2h0m0-13h0m0 3h0m1 4.5h0m0 5.5h0m0.5 1h0m0-5h0m0 1h0m1.5 6.5h0m1-16.5h0m0.5 1h0m1.5 11h0m0.5-3.5h0m0-3h0m0.5 2h0m0.5 4.5h0m0.5-6.5h0m0.5 9.5h0m0-11h0m0.5 6.5h0m0-2.5h0m0 3.5h0m3-8.5h0m0.5 4.5h0m2 7.5h0m5.5 0.5h0m0.5-13h0m0.5 4.5h0m2.5-2.5h0m1.5 4h0m1 8h0m1-4.5h0m0-5.5h0m1.5 7h0m2 2.5h0m1.5 0.5h0m3-6.5h0m0.5 5.5h0m1-15h0m1 16h0m1.5-11h0m0.5 7.5h0m1.5-0.5h0m9-9.5h0m0 12h0m0.5-4h0m1 4h0m1.5-6.5h0m0-7h0m3 14.5h0m1-5h0m0.5 5.5h0m0.5-6h0m0 0.5h0m1.5 2h0m0.5 1.5h0m0-3.5h0m2.5-9h0m4 0.5h0m1 10.5h0m1.5-12.5h0m1.5 14h0m1-8h0m3.5 6h0m0.5-5.5h0m1 2h0m0.5-7.5h0m1.5 8.5h0m0.5 3h0m7 1h0m1-2.5h0m1 3h0m3.5-4h0m0.5-5.5h0m2 10h0m0.5 0h0m0.5-2h0m0-6h0m0.5 2.5h0m0 3.5h0m0-8h0m0-0.5h0m1-3.5h0m0.5 9.5h0m3-5h0m1 7h0m1.5-12h0m0.5 2.5h0m0.5 8.5h0m2.5 1.5h0m0 2h0m0-13h0m0.5 9.5h0m0-2.5h0m0.5 4.5h0m0-9.5h0m0.5 12h0m0-13.5h0m0-0.5h0m1.5 9.5h0m0.5-0.5h0m0.5-1.5h0m0-9h0m0.5 5.5h0m5 9.5h0m1 0.5h0m3.5-3.5h0m0-1h0m0.5-1.5h0m1-10h0m0 4h0m1 12h0m0-9.5h0m0.5 7h0m1 0h0m4-5h0m0-1h0m0.5 0h0m0.5 2.5h0m0-4h0m1.5 2.5h0m1.5 4h0" stroke="#800080" stroke-width="2.1" stroke-linecap="round" fill="none"/><path d="M417 680.5h0m12.5 36.5h0m1-3h0m-103.5 20.5h0m240-7h0m-121.5 64h0m61-3h0m199.5-9.5h0m39.5-10.5h0m-410.5 80.5h0m2 21h0m0-1h0m8.5 5h0m27.5-32.5h0m20 16.5h0m50 13h0m59 1h0m86.5 5.5h0m-284.5 37.5h0m3-5.5h0m3.5-5h0m4.5 1h0m4-19.5h0m3.5 7.5h0m3.5 2h0m19-9.5h0m22 4h0m2-5.5h0m12.5 29h0m16-18.5h0m3 7.5h0m13.5-12.5h0m93 22.5h0m-240.5 37h0m11.5 7.5h0m0.5-19h0m4-3h0m15 22.5h0m1-32h0m4 19h0m12-4.5h0m1.5 4.5h0m0.5-1h0m20.5 0.5h0m14-4.5h0m9.5-6h0m18-2h0m13 11h0m13.5-16.5h0m44 12h0m4 20.5h0m12 1h0m8.5-26h0m7 19h0m13-19.5h0m83.5 13.5h0m6 5.5h0m20-5h0m-355.5 30h0m1 17.5h0m2-16h0m0.5 3h0m6-4.5h0m5 3.5h0m5 14h0m1.5-9.5h0m3-8.5h0m5 15.5h0m3.5-22h0m3.5-2.5h0m0.5 14h0m8 7.5h0m8-20.5h0m11.5 4.5h0m13 22.5h0m10.5-31.5h0m12 9.5h0m8.5-2h0m14.5 8h0m2-10h0m1.5-1h0m0.5 6.5h0m5 10.5h0m8-15h0m0.5 29h0m4-12h0m34.5 10h0m9-27.5h0m20 4h0m6.5 11.5h0m2.5 13.5h0m18-32.5h0m3.5 7h0m37.5 14.5h0m6.5 7h0m44.5 2.5h0m1.5-23h0m-357 64.5h0m28.5-33.5h0m3-3h0m0.5-1.5h0m2.5 5.5h0m8 4.5h0m0 13h0m0 5.5h0m1.5 7.5h0m1-29.5h0m5 30.5h0m2.5-36.5h0m2 34.5h0m7-15h0m21.5-4h0m8 20h0m1.5-13h0m0.5 7.5h0m0.5 7.5h0m4.5-16h0m0.5 0h0m4.5 1.5h0m3-24h0m0 21h0m6 2.5h0m2 1.5h0m3.5 3h0m5-26h0m11 10h0m0 22h0m2-34.5h0m11 6.5h0m10 17h0m3-18.5h0m15.5 33h0m10-31.5h0m4.5 33h0m11.5-5.5h0m9.5-1h0m1.5-9.5h0m0.5-2h0m3.5 2.5h0m1.5 3h0m9-8h0m0.5-8.5h0m6 4.5h0m1.5 13h0m1-14h0m19 16h0m1 6.5h0m12 1.5h0m19.5-20.5h0m2.5-16h0m17.5 37.5h0m55-15h0m46.5-11h0m1 12.5h0m12.5 9h0m7.5-9.5h0m44.5 9h0m11.5-24.5h0m0.5 1.5h0m10-9h0m16 10.5h0m28-7h0m-542.5 61h0m8.5-1.5h0m8.5-23h0m1 35.5h0m2-8.5h0m9-17h0m0 17.5h0m2 5.5h0m7 3h0m13.5-34.5h0m2 35.5h0m3.5-12.5h0m3.5 12h0m2-9.5h0m0.5-23.5h0m0.5 21.5h0m7.5-8.5h0m0.5 9h0m1.5-8.5h0m1-18h0m1.5 9h0m2 12.5h0m1.5-15h0m0 20.5h0m1.5 0h0m2-3.5h0m8.5 10h0m1.5-18.5h0m1.5 0.5h0m19.5 8h0m4-14.5h0m5 22.5h0m1.5-28h0m3 35h0m1.5-17.5h0m1 1h0m1.5-5.5h0m13.5 15.5h0m1-5.5h0m4.5-1.5h0m4.5-20h0m1 8h0m0.5 16h0m0-29.5h0m2.5 22.5h0m0-6h0m4.5-8h0m0.5 26.5h0m1.5-30.5h0m2 19.5h0m2-23.5h0m8.5 31.5h0m5 1.5h0m7.5-29h0m8.5 29h0m4.5-10.5h0m4 8.5h0m4 7.5h0m2-27h0m4 21h0m4.5 1h0m2.5-18.5h0m0 11h0m3.5-26.5h0m11.5 31h0m3.5-10.5h0m7.5 4h0m2.5 5h0m1-10.5h0m2 11h0m1-13.5h0m8 22h0m2.5-2.5h0m11-27h0m8.5 4h0m11.5 11h0m5 6.5h0m15-25.5h0m1 14.5h0m9-2.5h0m15 4.5h0m9.5-4h0m4 14.5h0m1 4.5h0m6-34.5h0m0.5 35.5h0m1-19h0m8-2.5h0m3 12h0m2.5 8.5h0m2.5-8h0m6-3.5h0m2-18.5h0m1 18h0m3.5-16h0m20 12.5h0m13.5 6.5h0m25.5-5h0m1 7.5h0m4-6.5h0m2-3.5h0m0-13h0m35.5 26h0m5.5-14.5h0m3 12h0m3-23h0m7.5 14.5h0m1-14.5h0m6 10.5h0m0.5 8h0m0 1h0m1 2h0m-517.5 25h0m1.5-10h0m1.5 27h0m1 4h0m3.5-6h0m1-7.5h0m6-6.5h0m1.5-8h0m6 13.5h0m3.5 11.5h0m1-10.5h0m0 8h0m1 9.5h0m1-3h0m0-3.5h0m1.5-5.5h0m1-19.5h0m1.5 13h0m0.5 13h0m0.5-28.5h0m0.5 4h0m0 9h0m0.5 12.5h0m0.5-19.5h0m0.5 10.5h0m1.5 1.5h0m2.5 11.5h0m0.5-1h0m0.5 0h0m0-20.5h0m0.5 14.5h0m2 7h0m0.5-2h0m0-20.5h0m3 5.5h0m1 16.5h0m0.5-17.5h0m2.5-1.5h0m1 12h0m0.5-5.5h0m1 8.5h0m0.5-25h0m2 33h0m0-30h0m1.5 17.5h0m1-19h0m4.5 26h0m2.5 0.5h0m3-18.5h0m0.5 13.5h0m7-24h0m1-2h0m0 29.5h0m2-1.5h0m1.5 1h0m1.5 6h0m1-11h0m2-11h0m1.5 13h0m1.5-13.5h0m0.5 0h0m2.5 20.5h0m2.5-1.5h0m3.5-26.5h0m0.5-5.5h0m5.5 21h0m0-15h0m1.5 15h0m1.5 12.5h0m0.5-21.5h0m6.5-6.5h0m1.5 19h0m4 13h0m4-33h0m0.5 26.5h0m0.5-7.5h0m1.5 6h0m0-12.5h0m2.5 18.5h0m0.5-33.5h0m0.5 32.5h0m0-0.5h0m2.5-22.5h0m0.5 25h0m1.5-15.5h0m2-18h0m0.5 27.5h0m0 7h0m3.5-32h0m4 17h0m5.5 3.5h0m0-5h0m3-19.5h0m2 16h0m7 1.5h0m2 16.5h0m3-27h0m2 22h0m1.5-21.5h0m3.5 1.5h0m0.5 22h0m2.5-13h0m6-4.5h0m8.5 18h0m3.5-20.5h0m2.5-5h0m4 16h0m0-9.5h0m3.5 5h0m4-11.5h0m0.5-9h0m0.5 33h0m3-17.5h0m0 16.5h0m1.5-24.5h0m4.5 9.5h0m1.5 8.5h0m3.5 5.5h0m3-4h0m2.5-18h0m14.5 0.5h0m2.5 10h0m2-12.5h0m0.5 28h0m1.5-34h0m3.5 13h0m1.5 15.5h0m0.5-2.5h0m2.5-22.5h0m11-1h0m0.5 33.5h0m0.5-12.5h0m4.5 6.5h0m2.5 1h0m0-5h0m1.5 0h0m0.5-15h0m7 20.5h0m0-26h0m7.5 20.5h0m4.5-13h0m2.5 14h0m0 8.5h0m2-36h0m2 25h0m0-1h0m8.5-14h0m0.5 11.5h0m1-3.5h0m3.5-9.5h0m1.5-4h0m8.5 22h0m10.5-18h0m1.5 18.5h0m1.5 3h0m6 4h0m5-2.5h0m2-26h0m1.5 9h0m1.5 19.5h0m2-0.5h0m2-18h0m1 2h0m3 16h0m5-13.5h0m1.5 14.5h0m2-19.5h0m0-7.5h0m2.5 14h0m3 14.5h0m1.5-1.5h0m4-2h0m0-18.5h0m0.5-14h0m0 25.5h0m2.5 12h0m1 0h0m1.5-29h0m1-3.5h0m1.5 33h0m1-30.5h0m2.5 16h0m0.5 14h0m0.5-5h0m2 1.5h0m5-8.5h0m10.5-13.5h0m1 2.5h0m1 24h0m4.5-18.5h0m2.5 14.5h0m1-1.5h0m1 1h0m0.5-18h0m1.5 8h0m4 2.5h0m3-16h0m0 0.5h0m5.5 23h0m0-10h0m0.5 6.5h0m2 6h0m4.5-19h0m6-16.5h0m1.5 16.5h0m2 10.5h0m4-5.5h0m0-12.5h0m1-9.5h0m0.5 18h0m1 13.5h0m0-0.5h0m3.5 4h0m0-10.5h0m2.5 1h0m2 8h0m6.5-9h0m1 4.5h0m1-19.5h0m4 23.5h0m0.5-21.5h0m2-3.5h0m11-4h0m3 34h0m2-11.5h0m1.5-10h0m1.5-5h0m2 22h0m1-4h0m9-15h0m6-15h0m6.5 24h0m0.5 5h0m2 4.5h0m7-30.5h0m0.5 5.5h0m-545.5 42.5h0m12.5-7h0m6 6h0m8.5 5.5h0m1-12.5h0m13 11h0m3.5-5h0m4.5 5h0m0.5-12.5h0m3 13.5h0m0.5-6.5h0m3 0.5h0m0.5 1h0m0.5-5.5h0m1 4.5h0m1 4h0m11-7h0m14-2.5h0m3.5 8h0m3 1h0m1.5 1.5h0m1-11h0m0-2h0m8 5h0m0 2.5h0m0.5-3h0m7-1.5h0m1.5 8.5h0m0.5-13h0m1 3h0m6.5-0.5h0m2.5 5h0m9-5.5h0m1.5 12.5h0m5-1.5h0m2 2h0m4-10.5h0m5.5 11.5h0m4.5-9.5h0m12.5-0.5h0m1.5 9h0m3-14h0m1.5 9.5h0m5-0.5h0m4 5h0m1-0.5h0m0.5-3.5h0m13.5 2h0m2.5-5.5h0m7-7.5h0m5.5 9.5h0m6 2.5h0m2.5-5h0m5 2.5h0m2.5-2.5h0m1 5.5h0m17-13h0m0 13.5h0m5.5 3h0m4.5-10.5h0m3.5 3.5h0m1 2h0m0 0.5h0m2 0h0m11.5-2.5h0m4.5 6h0m3.5-11h0m2-3.5h0m5.5 13.5h0m3.5-4.5h0m2.5-8.5h0m3 3h0m0.5 11h0m8-7h0m1.5-5.5h0m1.5-3h0m5.5 13.5h0m6-5h0m1-8h0m6.5 10h0m3-7.5h0m5.5-1.5h0m2 5h0m2 1h0m1-6.5h0m2.5 12h0m3.5-8.5h0m1-3.5h0m1.5 4h0m16.5 6.5h0m8.5-3h0m0-8h0m1.5 0.5h0m1.5 12h0m7-10h0m2 8.5h0m5-0.5h0m2-7h0m2 2h0m0.5-1h0m8 3.5h0m5-4h0m0.5 11.5h0m9.5 0.5h0m9-6.5h0m1-0.5h0m1 6h0m5-7h0m4.5-8h0m2 9.5h0m8-6.5h0m1.5 11.5h0m2.5-2h0m0-0.5h0m0.5-4h0m0.5-1.5h0m2-1.5h0m10.5 10h0m0.5-3h0m2 0h0m3-6h0m2 6.5h0m9-1h0m2 3h0m1.5-6h0m9 3h0m6.5-8h0m2-4h0m2.5 1.5h0m4.5 10h0m5 2.5h0m0.5-3h0m1.5-10h0m2 2h0m4 0.5h0m13.5-3.5h0m2 16.5h0m2-0.5h0" stroke="#ff0000" stroke-width="2.1" stroke-linecap="round" fill="none"/><path d="M401.5 833.5h0m-103 85h0m12.5-12h0m265.5 44h0m-327.5 45.5h0m168.5 3h0m66.5-26h0m-246.5 27h0m154.5 26h0m-137 41h0m6 10h0m34.5-33h0m51.5-1h0m1.5 12.5h0m83.5-14.5h0m27 38.5h0m69-36h0m10.5 9h0m32.5 26.5h0m18-38h0m-347.5 68h0m21 3h0m41-22.5h0m4 19.5h0m1.5-15h0m0 0.5h0m9.5 23h0m6.5-5h0m22-12h0m4 11.5h0m77.5-19.5h0m68 2.5h0m38 11.5h0m61.5-1h0m30-9.5h0m5 23h0m1-30.5h0m10 11h0m-398 25h0m1 3.5h0m1.5-5h0m37.5 8h0m65.5-2h0m2.5-3.5h0m4-2.5h0m44 4.5h0m54.5-7.5h0m15.5 12.5h0m19.5 2h0m23.5-12.5h0m43 8.5h0m32.5-7h0m64 11h0m40.5-14.5h0" stroke="#0000ff" stroke-width="2.1" stroke-linecap="round" fill="none"/><path d="M752 672.5h0m-131 80.5h0m-263 15h0m-52 140h0m9-18h0m151 19.5h0m-174 46h0m13.5-8h0m7.5-18h0m113-7h0m252 6.5h0m-429.5 46h0m63 22h0m24.5-5.5h0m22.5 3.5h0m70-28h0m17 21.5h0m11-21.5h0m16 28.5h0m7 4h0m30-15.5h0m20-3.5h0m-281 41.5h0m41-21.5h0m33 18.5h0m48.5 9h0m7.5 9h0m1.5-13h0m6.5-7.5h0m13.5-4h0m68 17.5h0m228.5 2h0m-450.5 18h0m6 17h0m30 12.5h0m23-5.5h0m12-8.5h0m1-15h0m10 29h0m5-21h0m41.5 2.5h0m14 2h0m7-13h0m0 20h0m22.5-17.5h0m2 7h0m7-10.5h0m9 9.5h0m38 12.5h0m63-6.5h0m23.5-10h0m11 7h0m13-19h0m16.5 6h0m35 28.5h0m31 1.5h0m-454.5 11.5h0m20.5 26.5h0m6-13h0m11 13.5h0m14.5-9h0m5 1h0m6.5-1.5h0m0.5-16.5h0m7.5 11.5h0m15.5 15.5h0m1-17h0m10 11h0m9.5-23.5h0m15.5 16h0m1.5 13h0m1.5-37.5h0m5 29h0m1.5 5.5h0m4-33h0m4 6h0m13.5 22h0m4-12.5h0m3 12h0m12.5-18h0m15.5-4.5h0m0.5 26h0m3.5-22.5h0m6.5 25.5h0m3-26h0m13.5 3.5h0m6 26h0m48.5-13.5h0m0.5 10h0m6-27h0m7 22h0m8-6.5h0m2.5-3.5h0m0 7.5h0m1.5 8.5h0m6.5-27.5h0m6.5 24h0m4-18.5h0m4 18.5h0m1.5-14.5h0m5 12.5h0m4-11h0m14.5 16.5h0m28-9h0m3.5 0.5h0m5-19h0m0.5 25.5h0m12-9h0m35.5 10.5h0m35-16h0m2 0h0m2 12h0m2.5-11.5h0m44-12.5h0m2.5 2h0m3 23.5h0m8.5-2h0m8.5-18.5h0m2.5 21.5h0m-521.5 13.5h0m3.5 5.5h0m9.5-13h0m19.5 10h0m11-0.5h0m23.5 2.5h0m10.5-3h0m43 0.5h0m4-3h0m13.5-5h0m7 1.5h0m5.5 7h0m13.5 1.5h0m17-8h0m11-4h0m32 11h0m5-8h0m15.5 8.5h0m3.5-5h0m11.5-2.5h0m0.5 12h0m34-3.5h0m13.5 2h0m26.5-6.5h0m5.5-1h0m2.5 1h0m7 5h0m6 0h0m29.5-7.5h0m26-0.5h0m3-5h0m21.5 15h0m17.5-14.5h0m26 0h0m21 14h0m14.5-2h0m8.5-3.5h0m1.5-4.5h0m2.5-2h0" stroke="#ffa500" stroke-width="2.1" stroke-linecap="round" fill="none"/><path d="M106 1113.3C107.9 1111.3 113.3 1106.2 117.5 1101.8C121.6 1097.3 126.4 1091.9 130.9 1086.4C135.4 1081 139.5 1074.6 144.3 1069.2C149.1 1063.8 154.5 1058.3 159.6 1053.9C164.7 1049.4 170.5 1045.2 175 1042.4C179.4 1039.5 182.6 1038.1 186.5 1036.6C190.3 1035.2 194.1 1033.8 198 1033.8C201.8 1033.8 205.9 1035.5 209.4 1036.6C213 1037.7 215.8 1040 219 1040.5C222.2 1040.9 225.7 1039.3 228.6 1039.5C231.5 1039.7 235.3 1039.3 236.3 1041.4C237.2 1043.5 235.6 1048.6 234.4 1052C233.1 1055.3 230.8 1057.7 228.6 1061.5C226.4 1065.4 223.2 1071.1 220.9 1074.9C218.7 1078.8 216.5 1081.3 215.2 1084.5C213.9 1087.7 213 1090.6 213.3 1094.1C213.6 1097.6 214.6 1102.1 217.1 1105.6C219.7 1109.1 224.1 1112 228.6 1115.2C233.1 1118.4 238.8 1122.2 243.9 1124.8C249 1127.3 253.5 1128.9 259.3 1130.5C265 1132.1 275.2 1133.7 278.4 1134.3" stroke="#800080" stroke-width="3.1" stroke-dasharray="10 4.7" fill="none"/><path d="M152 1094.1C152.3 1092 154.9 1088.7 157.7 1086.4C160.6 1084.2 165.1 1082.3 169.2 1080.7C173.4 1079.1 179.1 1077.2 182.6 1076.9C186.1 1076.5 189.3 1077.5 190.3 1078.8C191.2 1080.1 190.3 1082.3 188.4 1084.5C186.5 1086.8 182.3 1090.3 178.8 1092.2C175.3 1094.1 171.1 1094.9 167.3 1096C163.5 1097.1 158.4 1099.2 155.8 1098.9C153.3 1098.6 151.7 1096.2 152 1094.1Z" stroke="#800080" stroke-width="3.1" stroke-dasharray="10 4.7" fill="none"/><path d="M106 1119C108.2 1116.8 114.6 1110.7 119.4 1105.6C124.2 1100.5 129.6 1094.1 134.7 1088.4C139.8 1082.6 145.3 1076.2 150.1 1071.1C154.9 1066 158.7 1061.9 163.5 1057.7C168.3 1053.6 174 1048.9 178.8 1046.2C183.6 1043.5 188.7 1041.7 192.2 1041.4C195.7 1041.1 197.6 1042.5 199.9 1044.3C202.1 1046 203.9 1048.8 205.6 1052C207.4 1055.1 209.3 1059.6 210.4 1063.4C211.5 1067.3 211.8 1071.1 212.3 1074.9C212.8 1078.8 213 1082.6 213.3 1086.4C213.6 1090.3 213.3 1094.1 214.2 1097.9C215.2 1101.8 216.3 1105.9 219 1109.4C221.7 1112.9 225.7 1116.1 230.5 1119C235.3 1121.9 241.4 1124.6 247.8 1126.7C254.1 1128.7 262.1 1130.1 268.8 1131.5C275.5 1132.8 284.8 1134.2 288 1134.7" stroke="#ff0000" stroke-width="3.1" stroke-dasharray="10 4.7" fill="none"/><path d="M157.7 1090.3C158.4 1088.7 160.6 1086.1 163.5 1084.5C166.3 1082.9 171.5 1081.3 175 1080.7C178.5 1080.1 182.6 1080.1 184.5 1080.7C186.5 1081.3 187.4 1082.9 186.5 1084.5C185.5 1086.1 181.7 1088.7 178.8 1090.3C175.9 1091.9 172.4 1093.5 169.2 1094.1C166 1094.7 161.6 1094.7 159.6 1094.1C157.7 1093.5 157.1 1091.9 157.7 1090.3Z" stroke="#ff0000" stroke-width="3.1" stroke-dasharray="10 4.7" fill="none"/><path d="M117.5 1124.8C119.4 1122.8 125.2 1117.7 129 1113.3C132.8 1108.8 137 1103.7 140.5 1097.9C144 1092.2 146.9 1083.9 150.1 1078.8C153.3 1073.7 156.8 1070.2 159.6 1067.3C162.5 1064.4 164.1 1062.8 167.3 1061.5C170.5 1060.3 175.6 1059.3 178.8 1059.6C182 1059.9 184.2 1061.2 186.5 1063.4C188.7 1065.7 190.6 1069.8 192.2 1073C193.8 1076.2 195.1 1079.1 196 1082.6C197 1086.1 196.7 1090.3 198 1094.1C199.2 1097.9 200.8 1101.8 203.7 1105.6C206.6 1109.4 210.7 1113.9 215.2 1117.1C219.7 1120.3 224.8 1122.5 230.5 1124.8C236.3 1127 243.3 1129.1 249.7 1130.5C256.1 1131.9 260.9 1132.6 268.8 1133.4C276.8 1134.2 292.8 1135 297.6 1135.3" stroke="#ffa500" stroke-width="3.1" stroke-dasharray="10 4.7" fill="none"/><path d="M134.7 1128.6C137 1127.3 143.7 1123.5 148.1 1120.9C152.6 1118.4 157.4 1115 161.6 1113.3C165.7 1111.5 169.5 1110.7 173 1110.4C176.6 1110.1 179.4 1110.5 182.6 1111.3C185.8 1112.1 189 1113.6 192.2 1115.2C195.4 1116.8 198.3 1119 201.8 1120.9C205.3 1122.8 208.8 1124.9 213.3 1126.7C217.7 1128.4 222.5 1130.2 228.6 1131.5C234.7 1132.7 241.4 1133.5 249.7 1134.3C258 1135.1 267.2 1135.8 278.4 1136.2C289.6 1136.7 310.3 1137 316.7 1137.2" stroke="#0000ff" stroke-width="3.1" stroke-dasharray="10 4.7" fill="none"/><path d="M113.7 1122.8C115.6 1122.7 121 1121.6 125.2 1121.9C129.3 1122.2 134.4 1123.6 138.6 1124.8C142.7 1125.9 145.9 1127.3 150.1 1128.6C154.2 1129.9 159.6 1131.3 163.5 1132.4C167.3 1133.5 171.5 1134.8 173 1135.3" stroke="#ff0000" stroke-width="3.1" stroke-dasharray="10 4.7" fill="none"/><path d="M106 1128.6C109.2 1128.6 118.8 1128.3 125.2 1128.6C131.5 1128.9 137.9 1129.9 144.3 1130.5C150.7 1131.1 157.7 1131.9 163.5 1132.4C169.2 1132.9 176.2 1133.2 178.8 1133.4" stroke="#ffa500" stroke-width="3.1" stroke-dasharray="10 4.7" fill="none"/><path d="M106 1134.3C109.2 1134.5 118.8 1135.1 125.2 1135.3C131.5 1135.4 137.9 1135.2 144.3 1135.3C150.7 1135.4 160.3 1135.8 163.5 1135.9" stroke="#0000ff" stroke-width="3.1" stroke-dasharray="10 4.7" fill="none"/><path d="M106 1125.1C108.6 1124.6 116.5 1121.9 121.3 1121.9C126.1 1121.9 130.9 1124 134.7 1125.1C138.6 1126.3 142.7 1128 144.3 1128.6" stroke="#800080" stroke-width="3.1" stroke-dasharray="10 4.7" fill="none"/></g><rect x="116.2" y="659.5" width="184.2" height="113.1" rx="3.5" fill="#fff" fill-opacity="0.8" stroke="#cccccc" stroke-width="1.6"/><circle cx="139" cy="675.1" r="8.2" fill="#800080"/><circle cx="139" cy="700.6" r="8.2" fill="#ff0000"/><circle cx="139" cy="726.1" r="8.2" fill="#ff8000"/><circle cx="139" cy="751.6" r="8.2" fill="#0000ff"/><g font-family="'DejaVu Sans', 'Liberation Sans', sans-serif" font-size="18.4" fill="#000"><text x="174.5" y="680.4" font-style="italic">R</text><text x="187.5" y="684.4" font-style="italic" font-size="13">e</text><text x="199.8" y="680.4">=</text><text x="217.4" y="680.4">0.01</text><text x="174.5" y="705.9" font-style="italic">R</text><text x="187.5" y="709.9" font-style="italic" font-size="13">e</text><text x="199.8" y="705.9">=</text><text x="217.4" y="705.9">0.001</text><text x="174.5" y="731.4" font-style="italic">R</text><text x="187.5" y="735.4" font-style="italic" font-size="13">e</text><text x="199.8" y="731.4">=</text><text x="217.4" y="731.4">0.0001</text><text x="174.5" y="756.9" font-style="italic">R</text><text x="187.5" y="760.9" font-style="italic" font-size="13">e</text><text x="199.8" y="756.9">=</text><text x="217.4" y="756.9">0.00001</text></g><rect x="106.5" y="649.9" width="655.2" height="487.8" fill="none" stroke="#000" stroke-width="2"/><path d="M106.5 1137.7v6.5M237.5 1137.7v6.5M368.6 1137.7v6.5M499.6 1137.7v6.5M630.7 1137.7v6.5M761.7 1137.7v6.5M100 1137.7h6.5M100 1040.1h6.5M100 942.5h6.5M100 845h6.5M100 747.4h6.5M100 649.9h6.5" stroke="#000" stroke-width="1.8"/><g font-family="'Liberation Serif', 'Times New Roman', serif" font-size="19.4" fill="#000"><text x="106.5" y="1164.2" text-anchor="middle">0</text><text x="237.5" y="1164.2" text-anchor="middle">2</text><text x="368.6" y="1164.2" text-anchor="middle">4</text><text x="499.6" y="1164.2" text-anchor="middle">6</text><text x="630.7" y="1164.2" text-anchor="middle">8</text><text x="761.7" y="1164.2" text-anchor="middle">10</text><text x="93.5" y="1144.2" text-anchor="end">0</text><text x="93.5" y="1046.7" text-anchor="end">2</text><text x="93.5" y="949.1" text-anchor="end">4</text><text x="93.5" y="851.6" text-anchor="end">6</text><text x="93.5" y="754" text-anchor="end">8</text><text x="93.5" y="656.5" text-anchor="end">10</text></g><text x="1.2" y="1164" font-family="'Liberation Serif', 'Times New Roman', serif" font-size="40.5" letter-spacing="1.3" fill="#000">(c)</text><text x="434.1" y="1189.7" font-family="'DejaVu Sans', 'Liberation Sans', sans-serif" font-size="19" text-anchor="middle">(1/|<tspan font-style="italic">J</tspan>|)</text><text transform="translate(61.7,893.8) rotate(-90)" font-family="'DejaVu Sans', 'Liberation Sans', sans-serif" font-size="19"><tspan x="-20.8" y="0">(</tspan><tspan font-style="italic">n&#770;</tspan><tspan font-style="italic" font-size="13.3" dy="4.5">d</tspan><tspan font-style="italic" font-size="13.3" dx="-8.2" dy="-12.5">R</tspan><tspan font-size="9.5" dy="3" font-style="italic">e</tspan><tspan dy="5" dx="1">)</tspan></text><path d="M1075.2 649.9V1137.7M1184.4 649.9V1137.7M1293.6 649.9V1137.7M1402.8 649.9V1137.7M1512 649.9V1137.7M966 1040.1H1621.2M966 942.5H1621.2M966 845H1621.2M966 747.4H1621.2" stroke="#b0b0b0" stroke-width="1.6" fill="none"/><clipPath id="clip-d"><rect x="966" y="649.9" width="655.2" height="487.8"/></clipPath><g clip-path="url(#clip-d)"><g filter="url(#soft)"><path d="M966 1105.1C971.7 1096 1003.2 1071.4 1014.5 1061.1C1025.9 1050.9 1051.7 1027.5 1063.1 1017.2C1074.4 1007 1100.3 983.5 1111.6 973.3C1122.9 963 1148.8 939.6 1160.1 929.3C1171.5 919.1 1197.3 894.7 1208.7 885.5C1220 876.2 1247.8 856.8 1257.2 850.1C1266.5 843.3 1283.1 829.8 1288.7 827.6C1294.4 825.4 1302.3 828.7 1305.7 830.9C1309.1 833.1 1314.5 844.6 1317.9 846.7C1321.3 848.8 1332.7 846.6 1334.8 849.1C1337 851.7 1336.5 864.6 1336.1 868.5C1335.6 872.5 1331.2 879.1 1331.2 883.1C1331.2 887.1 1335.5 895.7 1336.1 902.5C1336.6 909.3 1336.3 931.1 1336.1 941.3C1335.8 951.5 1334.3 982.5 1333.6 989.9C1332.9 997.2 1331 1001.6 1330 1004.4C1329 1007.3 1325.6 1007.3 1325.1 1014.1C1324.7 1020.9 1327.1 1052.8 1326.3 1062.7C1325.6 1072.6 1320.9 1090.1 1319.1 1099.1C1317.2 1108 1351.8 1134.4 1310.6 1139.1C1269.4 1143.8 1006.2 1143.1 966 1139.1C925.8 1135.1 960.3 1114.2 966 1105.1Z" fill="#d0b0cc"/><path d="M1281.5 829.7C1284.3 823 1301.5 828.9 1305.7 830.9C1310 832.9 1314.5 844.6 1317.9 846.7C1321.3 848.8 1332.7 846.6 1334.8 849.1C1337 851.7 1336.5 864.6 1336.1 868.5C1335.6 872.5 1331.2 879.1 1331.2 883.1C1331.2 887.1 1339 900.2 1336.1 902.5C1333.1 904.8 1312.1 904.1 1305.7 902.5C1299.4 900.9 1284.3 897.4 1281.5 888.9C1278.6 880.4 1278.6 836.5 1281.5 829.7Z" fill="#d6cfe6"/><path d="M1245.1 886.5C1252.1 884.5 1295.1 898.2 1305.7 900.1C1316.3 901.9 1332.5 897.7 1336.1 902.5C1339.6 907.3 1336.3 931.1 1336.1 941.3C1335.8 951.5 1334.3 982.5 1333.6 989.9C1332.9 997.2 1333.2 1001.9 1330 1004.4C1326.7 1007 1311.4 1011.7 1305.7 1011.7C1300.1 1011.7 1287.1 1008.2 1281.5 1004.8C1275.8 1001.3 1261.4 988.2 1257.2 982.5C1252.9 976.8 1246.5 963.3 1245.1 955.7C1243.6 948.1 1245.1 925.3 1245.1 917.2C1245.1 909.2 1238 888.5 1245.1 886.5Z" fill="#f2b09a"/><path d="M966 1125.4C974.5 1119.9 1021.8 1097.3 1038.8 1091.9C1055.8 1086.6 1094.6 1081.8 1111.6 1079.5C1128.6 1077.2 1170.2 1075.2 1184.4 1072C1198.5 1068.9 1224.4 1054.1 1232.9 1052.6C1241.4 1051.1 1254.9 1048.8 1257.2 1058.9C1259.5 1069 1286.3 1129.7 1252.3 1139.1C1218.4 1148.4 999.4 1140.7 966 1139.1C932.6 1137.5 957.5 1130.9 966 1125.4Z" fill="#f3a88e"/><path d="M1184.4 1139.1C1180.1 1134 1201.6 1105.8 1208.7 1095.8C1215.7 1085.8 1236.6 1061.6 1245.1 1053.2C1253.6 1044.9 1273.8 1029 1281.5 1024.5C1289.1 1019.9 1309.7 1010.3 1310.6 1014.1C1311.4 1018 1294.1 1047.5 1288.7 1057.3C1283.4 1067 1269.6 1088 1264.5 1097.6C1259.4 1107.1 1254.4 1134.3 1245.1 1139.1C1235.7 1143.9 1188.6 1144.1 1184.4 1139.1Z" fill="#f5bc9c"/><path d="M1245.1 1139.1C1239.7 1134.3 1259.4 1107.1 1264.5 1097.6C1269.6 1088 1283.4 1065.6 1288.7 1057.3C1294.1 1048.9 1306.3 1032.4 1310.6 1026.3C1314.8 1020.1 1323.3 1000.2 1325.1 1004.4C1327 1008.7 1327.1 1051.6 1326.3 1062.7C1325.6 1073.7 1320.9 1090.1 1319.1 1099.1C1317.2 1108 1319.2 1134.4 1310.6 1139.1C1301.9 1143.8 1250.4 1143.9 1245.1 1139.1Z" fill="#c8dcee"/><path d="M966 1108.2C971.7 1101.3 1003.2 1074.2 1014.5 1063.9C1025.9 1053.6 1051.7 1030.2 1063.1 1019.9C1074.4 1009.6 1100.3 986.2 1111.6 975.9C1122.9 965.7 1148.8 942.2 1160.1 932C1171.5 921.7 1197.3 897.3 1208.7 888.1C1220 878.8 1247.8 859.4 1257.2 852.6C1266.5 845.8 1283.1 832.3 1288.7 830.1C1294.4 827.8 1302.5 831.3 1305.7 833.3C1309 835.4 1313.5 845.8 1316.6 847.9C1319.8 850 1330.6 849.1 1332.4 851.5C1334.3 854 1332.8 864.9 1332.4 868.5C1332 872.2 1329.1 879.4 1328.8 883.1C1328.5 886.8 1335.5 898.5 1330 900.1C1324.5 901.6 1291.4 895.8 1281.5 896.3C1271.5 896.8 1256.4 899.3 1245.1 904.4C1233.7 909.6 1200 929.5 1184.4 940.3C1168.8 951.1 1128.6 983.3 1111.6 997.2C1094.6 1011.1 1055.8 1044.8 1038.8 1059.5C1021.8 1074.1 974.5 1117.2 966 1122.9C957.5 1128.6 960.3 1115.1 966 1108.2Z" fill="#b08ccb"/><path d="M980.6 1105.8C987.6 1097 1046.4 1049.8 1063.1 1034.7C1079.8 1019.5 1109.6 990 1123.7 976.2C1137.9 962.4 1174.2 925.8 1184.4 916.6C1194.6 907.5 1207.7 898.5 1211.1 897.7C1214.5 896.9 1215.8 905.6 1213.5 909.9C1211.2 914.3 1200.7 925.9 1191.7 935.2C1182.6 944.5 1149.5 976.9 1135.9 989.7C1122.3 1002.4 1090.8 1030.3 1075.2 1044.3C1059.6 1058.4 1013.4 1102.9 1002.4 1110.1C991.4 1117.2 973.5 1114.6 980.6 1105.8Z" fill="#6a3a8a" fill-opacity="0.85"/></g><path d="M966 1105.1C971.7 1096 1003.2 1071.4 1014.5 1061.1C1025.9 1050.9 1051.7 1027.5 1063.1 1017.2C1074.4 1007 1100.3 983.5 1111.6 973.3C1122.9 963 1148.8 939.6 1160.1 929.3C1171.5 919.1 1197.3 894.7 1208.7 885.5C1220 876.2 1247.8 856.8 1257.2 850.1C1266.5 843.3 1283.1 829.8 1288.7 827.6C1294.4 825.4 1302.3 828.7 1305.7 830.9C1309.1 833.1 1314.5 844.6 1317.9 846.7C1321.3 848.8 1332.7 846.6 1334.8 849.1C1337 851.7 1336.5 864.6 1336.1 868.5C1335.6 872.5 1331.2 879.1 1331.2 883.1C1331.2 887.1 1335.5 895.7 1336.1 902.5C1336.6 909.3 1336.3 931.1 1336.1 941.3C1335.8 951.5 1334.3 982.5 1333.6 989.9C1332.9 997.2 1331 1001.6 1330 1004.4C1329 1007.3 1325.6 1007.3 1325.1 1014.1C1324.7 1020.9 1327.1 1052.8 1326.3 1062.7C1325.6 1072.6 1320.9 1090.1 1319.1 1099.1C1317.2 1108 1351.8 1134.4 1310.6 1139.1C1269.4 1143.8 1006.2 1143.1 966 1139.1C925.8 1135.1 960.3 1114.2 966 1105.1Z" fill="url(#tm)"/><path d="M966 1108.2C971.7 1101.3 1003.2 1074.2 1014.5 1063.9C1025.9 1053.6 1051.7 1030.2 1063.1 1019.9C1074.4 1009.6 1100.3 986.2 1111.6 975.9C1122.9 965.7 1148.8 942.2 1160.1 932C1171.5 921.7 1197.3 897.3 1208.7 888.1C1220 878.8 1247.8 859.4 1257.2 852.6C1266.5 845.8 1283.1 832.3 1288.7 830.1C1294.4 827.8 1302.5 831.3 1305.7 833.3C1309 835.4 1313.5 845.8 1316.6 847.9C1319.8 850 1330.6 849.1 1332.4 851.5C1334.3 854 1332.8 864.9 1332.4 868.5C1332 872.2 1329.1 879.4 1328.8 883.1C1328.5 886.8 1335.5 898.5 1330 900.1C1324.5 901.6 1291.4 895.8 1281.5 896.3C1271.5 896.8 1256.4 899.3 1245.1 904.4C1233.7 909.6 1200 929.5 1184.4 940.3C1168.8 951.1 1128.6 983.3 1111.6 997.2C1094.6 1011.1 1055.8 1044.8 1038.8 1059.5C1021.8 1074.1 974.5 1117.2 966 1122.9C957.5 1128.6 960.3 1115.1 966 1108.2Z" fill="url(#tp)"/><path d="M966 1119.2C974.5 1110.5 1021.8 1068.9 1038.8 1054.1C1055.8 1039.2 1094.6 1005.8 1111.6 991.9C1128.6 978 1168.8 945.3 1184.4 935.1C1200 924.8 1233.7 908.9 1245.1 904.4C1256.4 899.9 1270.8 896.5 1281.5 896.3C1292.1 896.1 1329.7 897.2 1336.1 902.5C1342.4 907.8 1336.3 931.1 1336.1 941.3C1335.8 951.5 1334.3 982.5 1333.6 989.9C1332.9 997.2 1333.2 1001.9 1330 1004.4C1326.7 1007 1311.4 1011.7 1305.7 1011.7C1300.1 1011.7 1287.1 1005.2 1281.5 1004.8C1275.8 1004.3 1262.9 1003.3 1257.2 1008C1251.5 1012.7 1241.4 1037.4 1232.9 1044.8C1224.4 1052.3 1198.5 1067.7 1184.4 1072C1170.2 1076.4 1128.6 1079.5 1111.6 1082.1C1094.6 1084.8 1055.8 1089.2 1038.8 1094.6C1021.8 1100.1 974.5 1125.7 966 1128.6C957.5 1131.4 957.5 1127.9 966 1119.2Z" fill="url(#tm)"/><path d="M966 1125.4C974.5 1119.9 1021.8 1097.3 1038.8 1091.9C1055.8 1086.6 1094.6 1081.8 1111.6 1079.5C1128.6 1077.2 1170.2 1075.2 1184.4 1072C1198.5 1068.9 1224.4 1054.1 1232.9 1052.6C1241.4 1051.1 1254.9 1048.8 1257.2 1058.9C1259.5 1069 1286.3 1129.7 1252.3 1139.1C1218.4 1148.4 999.4 1140.7 966 1139.1C932.6 1137.5 957.5 1130.9 966 1125.4Z" fill="url(#tr)"/><path d="M1184.4 1139.1C1180.1 1134 1201.6 1105.8 1208.7 1095.8C1215.7 1085.8 1236.6 1061.6 1245.1 1053.2C1253.6 1044.9 1273.8 1029 1281.5 1024.5C1289.1 1019.9 1309.7 1010.3 1310.6 1014.1C1311.4 1018 1294.1 1047.5 1288.7 1057.3C1283.4 1067 1269.6 1088 1264.5 1097.6C1259.4 1107.1 1254.4 1134.3 1245.1 1139.1C1235.7 1143.9 1188.6 1144.1 1184.4 1139.1Z" fill="url(#tr)"/><path d="M1245.1 1139.1C1239.7 1134.3 1259.4 1107.1 1264.5 1097.6C1269.6 1088 1283.4 1065.6 1288.7 1057.3C1294.1 1048.9 1306.3 1032.4 1310.6 1026.3C1314.8 1020.1 1323.3 1000.2 1325.1 1004.4C1327 1008.7 1327.1 1051.6 1326.3 1062.7C1325.6 1073.7 1320.9 1090.1 1319.1 1099.1C1317.2 1108 1319.2 1134.4 1310.6 1139.1C1301.9 1143.8 1250.4 1143.9 1245.1 1139.1Z" fill="url(#tb)"/><path d="M1312 858.5h0m3 3h0m3 17.5h0m0.5-31h0m0 26.5h0m0-18.5h0m0-9.5h0m0 12h0m1 5h0m2 5.5h0m1-7h0m0 0.5h0m0 9.5h0m1-20.5h0m0 13h0m0.5 9.5h0m0.5-17.5h0m0.5 20.5h0m1-23.5h0m1.5 15h0m0.5 8.5h0m1.5-16.5h0m1.5 12h0m2.5-8.5h0m1 9.5h0m0-20.5h0m1 25h0m0.5-26h0m0.5 27.5h0m1-22.5h0m3-6h0m0.5 24.5h0m1-2.5h0m3-17h0m1 9h0m2-7.5h0m1 3h0m0.5 6h0m1.5-21.5h0m2.5 2h0m0 22h0m1-23h0m0 7.5h0m1-6h0m0.5 14h0m1-7h0m0.5 22h0m0.5-27.5h0m1.5 29.5h0m1.5-24.5h0m2.5 21.5h0m0.5 3.5h0m1-16h0m4-3h0m0-2h0m0 18.5h0m1-19h0m14 20h0m1-2.5h0m5 2.5h0m2.5-12.5h0m1 1.5h0m5.5 2.5h0m1.5-17h0m0.5 10h0m6.5 17.5h0m6.5-34h0m11 11h0m6-2.5h0m7 17h0m9.5 2.5h0m0.5-13.5h0m17.5-7.5h0m3 3h0m14 5h0m9.5 15h0m3 1.5h0m5.5-24h0m1.5-5h0m3 11h0m3-1h0m-200 24.5h0m6.5 29.5h0m0.5 0.5h0m0-29.5h0m0.5 13h0m0.5-10.5h0m1 6h0m0.5 0.5h0m0 1h0m0.5-9h0m0.5 3.5h0m0.5 24.5h0m1-8h0m1 1.5h0m0.5-4.5h0m1 2.5h0m2-5.5h0m1 3h0m1-20h0m1 5.5h0m0 13h0m0.5 3.5h0m1 4h0m1-4.5h0m0.5-4.5h0m1-10.5h0m0.5 17.5h0m0 4h0m0 5.5h0m0-5h0m0.5-0.5h0m0.5 5h0m2-0.5h0m1-6.5h0m1 10.5h0m1-12h0m1.5-6.5h0m0 3.5h0m0.5-5h0m1 15.5h0m0.5-19.5h0m2 19h0m0-17.5h0m0.5-12.5h0m1.5 13h0m1 24h0m2-39.5h0m1 30.5h0m0.5-2.5h0m0.5-28h0m0.5 29h0m1.5-0.5h0m1-25h0m0.5 18h0m2.5-20.5h0m1 32h0m1-32.5h0m2 8h0m1 9.5h0m8.5 4.5h0m1.5-9.5h0m1 25h0m0-23.5h0m3 15.5h0m4 0.5h0m1-18h0m0.5 12h0m5.5-7h0m0.5-4.5h0m1 16h0m1.5-1h0m8-26.5h0m3.5 9h0m3-8h0m1 24h0m2.5-10.5h0m2-14.5h0m5 3h0m1 14.5h0m8.5-2h0m0.5 4.5h0m3.5-11h0m2 29h0m2-38.5h0m9.5 36.5h0m2.5-0.5h0m6.5-17.5h0m1-7h0m16-9h0m37 17.5h0m79-7h0m-268 37h0m0.5-9.5h0m0 16.5h0m2.5 10.5h0m2.5-13.5h0m0.5 3.5h0m1-7.5h0m1.5 1.5h0m0.5 8.5h0m1-17.5h0m0.5 3.5h0m2-4h0m2 14h0m1 7h0m0.5-0.5h0m0.5-10h0m0.5 1.5h0m0.5 5h0m1 4h0m0-21h0m2 21h0m0.5-8h0m0 16.5h0m2.5-24h0m1.5-1h0m0.5 27.5h0m1-24h0m1 10h0m0-10h0m0.5-0.5h0m1 24h0m0.5-5h0m0-15.5h0m1 16h0m5.5-9.5h0m1 11h0m2 7.5h0m0-16.5h0m0.5-22.5h0m0.5 22.5h0m3 8.5h0m0.5-4h0m0.5 5.5h0m0.5-4h0m0.5-25.5h0m3 11h0m0.5 2.5h0m0 20.5h0m0.5-35.5h0m5 20.5h0m1.5 1h0m0.5 5.5h0m2-27h0m3 9h0m7.5 5h0m0 16.5h0m3-26.5h0m1 23h0m0.5-19.5h0m1 25.5h0m0.5-30.5h0m7 26.5h0m1.5-17.5h0m1-7.5h0m0.5 5h0m1 12.5h0m0.5-14.5h0m0-3h0m0.5-0.5h0m1-4.5h0m3 22.5h0m6-0.5h0m3.5 10.5h0m2-7h0m3.5 12.5h0m9.5-18h0m0 11h0m4-5h0m6.5-15.5h0m12-1h0m2 1h0m2.5-10.5h0m12.5 16h0m8.5-9.5h0m1.5 23.5h0m19.5-23.5h0m-192 34h0m5-1h0m1 7.5h0m0 19h0m3-26h0m1 9.5h0m0.5 17.5h0m0-23.5h0m0.5 9.5h0m2 23h0m0-34.5h0m0.5 25.5h0m0-26.5h0m0.5 0h0m0.5 7.5h0m0.5 5.5h0m1-9.5h0m1 25h0m0 0h0m0 5.5h0m0-35h0m0.5 16h0m0 7h0m1 1h0m1 8.5h0m0.5-8.5h0m1 8.5h0m0.5-13.5h0m0 11.5h0m1.5-11h0m0.5 17.5h0m0.5-7h0m0.5-11h0m0.5-8h0m3 16.5h0m0 9.5h0m0.5 2h0m1.5-26h0m0.5-2.5h0m0 20h0m0-15h0m1 17h0m4-16h0m0.5 7.5h0m2.5 11.5h0m0-5h0m1.5-6.5h0m0-6h0m3.5 21.5h0m0-21.5h0m0.5 7.5h0m1.5-23h0m2 31h0m0.5-33.5h0m1 11.5h0m3-8.5h0m0 19h0m2-16h0m2 19h0m3.5-23.5h0m1 24.5h0m2-7h0m0.5-17h0m3.5 35h0m4.5-18h0m0.5-6h0m3-10h0m1.5 23h0m1.5-17.5h0m0.5 14h0m1-18h0m0.5 19.5h0m5.5-24h0m0.5 29h0m5.5-23.5h0m1 32h0m0.5-1.5h0m1.5-18h0m2 13h0m1.5-28.5h0m1-1h0m2 26.5h0m1-1h0m0 8.5h0m2.5-17.5h0m10.5-15h0m0.5 24h0m5.5-8.5h0m2-12.5h0m12.5 16h0m12 11.5h0m9.5 6h0m6-30h0m8.5 8h0m2.5 4h0m19-15.5h0m49.5 0h0m31-0.5h0m14.5 15.5h0m-282 25h0m0.5 32.5h0m4-0.5h0m1-34.5h0m0 3h0m1 0.5h0m0.5 14h0m1 4h0m0-4h0m0.5-4h0m0.5 12h0m0-14.5h0m1-13h0m1.5 16h0m1-4h0m0.5-4h0m1 20.5h0m0 1.5h0m0.5-26.5h0m0 34h0m3-5.5h0m1-3h0m0-20.5h0m2.5-5h0m2 14.5h0m1.5 7.5h0m1 2h0m0-22h0m0.5 31.5h0m0.5-18h0m0 12h0m1-24h0m0.5 22.5h0m1-6.5h0m0-21.5h0m1 22h0m2-3.5h0m0 11h0m3.5 5.5h0m7.5-25h0m3 15.5h0m1 6h0m1.5-7.5h0m0-7h0m2 0.5h0m0 1.5h0m1.5 11h0m0-32h0m4 30h0m2-15.5h0m0-7.5h0m1 20.5h0m4.5-8.5h0m1 3.5h0m0.5 15.5h0m0.5-29h0m4 19h0m1.5-10h0m8.5-2h0m6-15h0m3 21h0m5-9.5h0m11-12h0m0.5 25.5h0m0.5-25.5h0m1.5-1h0m2.5 21.5h0m3.5 7.5h0m11.5 5.5h0m21.5-10h0m0.5-7.5h0m6 22h0m32-20.5h0m15 9.5h0m92-4.5h0m-217 16h0m30.5 0h0m52 19.5h0" stroke="#ff0000" stroke-width="2.1" stroke-linecap="round" fill="none"/><path d="M1545.5 841h0m-221.5 102.5h0m7.5 6h0m5-22.5h0m1 11h0m2.5-4h0m13.5 24h0m5-11.5h0m5-13h0m9.5 21h0m12 3h0m5-4h0m7.5-1h0m5-2h0m4.5-23h0m3 1.5h0m17 7h0m0-1h0m2-8h0m13 12.5h0m5 16.5h0m39-30.5h0m37.5 7h0m25.5 23h0m-228 33.5h0m10-14.5h0m0 20.5h0m5.5-25.5h0m5 25h0m2.5-17h0m3-17.5h0m2 30h0m2.5-6h0m5 6h0m4.5-7.5h0m2-21h0m7 17h0m5.5-11h0m16 8h0m77.5 18.5h0m9.5-1.5h0m10.5 6.5h0m13.5-13.5h0m9-1h0m6.5-12.5h0m1 19.5h0m11 6h0m-232.5 26h0m2 13h0m1-21h0m4-3h0m0.5 8.5h0m0.5 15h0m0-4h0m0.5-6.5h0m1-9.5h0m0 2.5h0m2-6.5h0m0 5.5h0m0 10.5h0m1 1h0m1 9h0m0.5-27h0m3 23.5h0m0.5 0.5h0m1-13h0m1.5-7.5h0m1 22h0m2-25.5h0m0.5 25h0m0.5-11h0m0-0.5h0m1 13.5h0m0.5 1h0m0-17h0m1-6h0m1 0.5h0m0.5-4h0m0.5 4.5h0m2-0.5h0m1 18h0m1-12.5h0m0.5-11h0m0.5 10h0m1 5.5h0m0.5 8h0m1.5-10.5h0m2 7.5h0m0.5-19.5h0m0.5 16.5h0m0.5-2.5h0m0.5-8.5h0m1.5 8h0m1-5h0m2-5.5h0m2.5 15h0m0.5 8.5h0m1-7h0m3.5 7h0m0-2h0m1 0.5h0m0-18h0m2 6.5h0m0.5-9.5h0m0 8.5h0m1 6h0m0-24h0m1-4h0m1 32h0m0-14h0m1 4h0m2-9.5h0m2.5 24h0m6.5-10.5h0m1-14.5h0m2-11.5h0m0.5 17h0m0.5-13h0m0.5 19.5h0m1.5 12.5h0m1.5-16.5h0m0.5 17h0m0.5-24.5h0m1.5 6h0m4.5 8h0m6-6.5h0m4.5 0h0m0.5-7h0m1.5 1.5h0m2.5 15.5h0m0-11.5h0m6.5 14.5h0m7-23.5h0m0.5 10h0m1.5-3h0m1-6h0m0-4.5h0m2 11h0m3 11.5h0m0-30h0m3.5 37h0m2.5-19.5h0m1-2.5h0m0 5.5h0m1.5 7h0m0-14.5h0m5-7.5h0m2.5 8h0m22 25.5h0m7.5-7.5h0m23-19.5h0m12-6.5h0m27.5 10h0m-238 39.5h0m7.5-11.5h0m0.5 25h0m0-1.5h0m0.5-8h0m1.5 10.5h0m1.5-29.5h0m1.5 12h0m2 16h0m1.5-19.5h0m0.5 7h0m1-7.5h0m1.5-7.5h0m0.5 33.5h0m0-22h0m0 0.5h0m1-5.5h0m1-6h0m0.5 19.5h0m0.5 0.5h0m0.5 8.5h0m0-19h0m0.5-6.5h0m0.5 24.5h0m0-15h0m0-2.5h0m0 4.5h0m0.5 23.5h0m0-34h0m0.5 29h0m0.5-12h0m0.5 6.5h0m0.5-21h0m0.5 6.5h0m1 10h0m1.5-21.5h0m1 25.5h0m1-16h0m0 4.5h0m0 17h0m0 4.5h0m0-24.5h0m0.5-14h0m0 8h0m0.5 5h0m0.5 1h0m0.5 1h0m0 14h0m0.5 0.5h0m0-18h0m0.5-3h0m2 24h0m0.5-18.5h0m0 15.5h0m0.5 5h0m0 4.5h0m2-33.5h0m1-2.5h0m1 35h0m0.5-28.5h0m0-6h0m1.5 28h0m0-26h0m0.5 29.5h0m0.5-0.5h0m0-18.5h0m0.5 0h0m0.5 9.5h0m0.5 2.5h0m0 10.5h0m0.5-3h0m1.5 2h0m1-15h0m2-6h0m0.5 1.5h0m1.5 10.5h0m0.5-0.5h0m0-8.5h0m3-14h0m0 30.5h0m1-18h0m0.5 9.5h0m1.5 8.5h0m0.5-17h0m2 19h0m0.5-3.5h0m0-12.5h0m1-15h0m4.5 23.5h0m0-14h0m0-16.5h0m0.5 12.5h0m0-6.5h0m1 1.5h0m0.5-4.5h0m3 26h0m1-5h0m3-23h0m2.5 0h0m2.5 7.5h0m3 22.5h0m0.5-15.5h0m3.5-1.5h0m2-14h0m0.5 11h0m1.5 1.5h0m0 23.5h0m7.5-20.5h0m1 4.5h0m0 3.5h0m11-23h0m0 7h0m4.5 13.5h0m1.5-16h0m8 14h0m4.5-7h0m3.5 2h0m4.5-2.5h0m3.5-8.5h0m3.5 5h0m16 16h0m9-24h0m11 32h0m25-13.5h0m14.5 9h0m57.5 11.5h0m-275.5 34h0m4-8.5h0m1-23.5h0m0 30h0m3.5-25.5h0m1.5 31.5h0m3-21.5h0m0.5-7.5h0m0.5 31h0m0-6.5h0m0 3h0m1-19.5h0m0-0.5h0m0.5-12.5h0m0.5 22.5h0m0.5 11.5h0m0.5-3h0m0.5-28.5h0m0.5 20h0m0.5-15.5h0m0 25.5h0m0-33.5h0m1.5-1.5h0m1 17.5h0m0.5-13.5h0m0 23h0m0.5-18.5h0m0 27h0m0-2h0m1-22h0m0 25h0m0.5-15h0m2 6.5h0m1 1.5h0m1-25h0m0 17h0m1 8h0m1-15.5h0m0 20h0m0.5-4.5h0m0 0h0m0-5h0m0.5 14.5h0m0-31.5h0m0.5 18.5h0m0.5-5h0m1.5 9.5h0m0.5-4h0m0 2h0m3 2.5h0m3.5-3h0m1 10h0m4-35.5h0m0 32h0m1.5-11.5h0m1.5 1h0m0.5-19h0m0.5 25.5h0m0 3h0m0-0.5h0m0.5-22.5h0m0.5 11.5h0m1.5-20h0m0.5 4.5h0m1.5-5h0m0 21.5h0m1 7.5h0m1-26h0m0 34h0m2-17.5h0m0.5-17.5h0m0.5 21.5h0m0.5-0.5h0m0-16.5h0m0.5 5h0m1.5-9.5h0m1 14h0m1-2.5h0m2.5-8h0m0.5 9.5h0m3 20h0m0-14.5h0m0 5.5h0m1.5-21h0m0.5 31.5h0m0.5-32h0m1 22.5h0m2-21h0m0.5 30h0m0-17.5h0m0.5 8h0m1-15h0m4 16h0m5-19h0m0 15.5h0m1-15h0m1 28.5h0m6-37.5h0m1 18h0m4-17h0m0.5 22.5h0m0.5-3h0m4-16.5h0m4.5 32.5h0m1-38.5h0m1 23h0m5-1h0m19.5 4.5h0m0-23.5h0m2 20h0m4 2.5h0m22.5-24.5h0m3 15.5h0m23.5 19.5h0m0.5-7.5h0m87-16.5h0m-266 45h0m2-1.5h0m0.5-13.5h0m1 10h0m0-10.5h0m3.5 4.5h0m0.5 0.5h0m0 10h0m0.5-11h0m1.5-1.5h0m0.5-3.5h0m0 10.5h0m1-8h0m1.5 13h0m0-9h0m0 2h0m0-5.5h0m0 11h0m1.5-8.5h0m0.5-2h0m1.5 3h0m0-3h0m0 9.5h0m0.5-4h0m2 7.5h0m0-0.5h0m2-13h0m1 13.5h0m0.5-7h0m0.5 0.5h0m0-7h0m1.5 3.5h0m2 10h0m2-6.5h0m1 3.5h0m2-7.5h0m2 5.5h0m0 0h0m2.5 0h0m0-0.5h0m2.5-6h0m9.5-5h0m15.5 12.5h0m1.5 1h0m1-7h0m1-5.5h0m5 11.5h0m2.5 1h0m11-2h0m3-11.5h0m9.5 10h0m9.5-6h0m3.5 8h0m0.5-4.5h0m0-5.5h0m56 13.5h0m53-16h0" stroke="#0000ff" stroke-width="2.1" stroke-linecap="round" fill="none"/><path d="M1497 821.5h0m61-12.5h0m-88 56h0m8 2.5h0m-168.5 38.5h0m3.5 2.5h0m1-3.5h0m1-1h0m4 4h0m3.5 8h0m1.5-12.5h0m4.5 9h0m0.5 1h0m1-6h0m1 5h0m0-2h0m2.5-2h0m2 7h0m1.5-11h0m8 3h0m15.5-2h0m7.5 0h0m1.5 10h0m14-4h0m2 4.5h0m14 2h0m12.5-2h0m6-4h0m25-5h0m14 7h0m109-27.5h0m-251 47h0m1.5 6.5h0m0 0.5h0m3-17.5h0m0.5 17h0m0-8h0m0.5 5.5h0m0.5 16h0m1.5-14.5h0m0.5 17.5h0m1.5-19h0m0.5-4h0m0.5 1h0m3-13h0m0 10.5h0m0-10h0m1 25.5h0m0-0.5h0m1.5 8.5h0m2-22h0m0.5-6h0m0.5 30.5h0m2-23h0m0.5-5h0m0.5 26h0m1-15.5h0m0.5-0.5h0m0.5-13.5h0m0 22h0m1 9.5h0m0.5-8.5h0m3-0.5h0m1.5-23h0m2.5 0.5h0m2.5 22.5h0m0-22h0m0 22.5h0m0.5 6h0m0.5-3h0m0.5-13h0m3-11h0m1 14h0m3.5 5.5h0m0 8h0m0.5-29.5h0m0.5 13.5h0m0.5 15.5h0m1.5-3.5h0m0.5-25.5h0m0.5 25h0m1.5-26.5h0m3.5 28.5h0m0-30h0m0.5 1.5h0m4 31h0m7-36h0m2 34h0m0.5-4h0m1-3.5h0m0 7h0m6.5-19.5h0m1-2h0m5 19h0m0.5 8.5h0m1-11.5h0m2.5 2h0m0.5-1h0m2.5-23h0m0.5 33h0m3-20h0m3.5 16.5h0m2.5-5.5h0m0.5-19h0m0 9h0m2-8.5h0m0.5 12.5h0m0.5 3.5h0m1-17h0m4.5-2.5h0m1-4h0m2 21.5h0m3.5 9.5h0m19-8.5h0m15.5-23h0m23.5 11h0m66 1h0m14 12h0m9.5-2.5h0m-264.5 29h0m3.5 19.5h0m2-31.5h0m1.5 2h0m1 8h0m0 9h0m0.5-17.5h0m2.5 9h0m1.5-0.5h0m1 0h0m0 10.5h0m1-22h0m1 22.5h0m0.5-1h0m0.5 7h0m0-3.5h0m4.5-15.5h0m1.5 29h0m0-36h0m0.5 21.5h0m0.5-16.5h0m0.5 3.5h0m0-11h0m2 5.5h0m0.5 21.5h0m0-26h0m0.5 20.5h0m1.5-13h0m0.5 16.5h0m2.5 6.5h0m0.5 6.5h0m1-19.5h0m0.5-4.5h0m1.5 21.5h0m0.5-26.5h0m0.5-2.5h0m2 13.5h0m2 18h0m0.5-4.5h0m5.5-4h0m2-13.5h0m0.5 14.5h0m2.5-27h0m0.5-4h0m0.5 4.5h0m0 11.5h0m1 9.5h0m1.5-10.5h0m0.5-2.5h0m6 6.5h0m2 2h0m5.5-14h0m1.5 31.5h0m2.5-21h0m4-10.5h0m1 18.5h0m2.5-14.5h0m3.5 25.5h0m0.5-29.5h0m2.5 17h0m2.5-6.5h0m1.5-17.5h0m24.5 29.5h0m1-20.5h0m4-8.5h0m4.5 37.5h0m1-21.5h0m13.5 8.5h0m23.5-1.5h0m11.5-22h0m25 2h0m25 20h0m4.5 14h0m1.5-1h0m-225 21h0m0.5 10h0m2 11h0m1-30.5h0m1 21h0m1-6h0m0.5 16h0m0-31.5h0m0.5-3h0m0.5 17.5h0m0.5-19h0m0.5 36h0m1-0.5h0m0-12.5h0m1 10.5h0m1-25.5h0m0 8.5h0m0.5 17h0m1.5-27h0m0-7h0m0.5 31.5h0m0.5-2h0m1.5-19h0m1 10.5h0m0 4h0m1 7.5h0m2.5-16h0m1.5 8.5h0m0-15h0m0.5 18.5h0m0.5 4h0m0-31h0m1.5-0.5h0m0 7.5h0m1-8.5h0m0 36h0m0-36.5h0m1 36.5h0m0.5-0.5h0m0-23.5h0m1 22h0m0.5-35.5h0m0.5 14.5h0m1 12.5h0m0-0.5h0m1-9h0m3-5.5h0m3.5 7.5h0m1.5-7h0m0.5-10h0m0.5 9.5h0m0 3h0m1 16h0m3.5-14.5h0m3-3h0m4 20h0m4.5 1.5h0m0.5-28.5h0m3.5 0.5h0m5.5 17.5h0m0-7h0m0.5-4h0m2.5 18.5h0m1-10.5h0m4.5 4h0m1-15.5h0m7 27h0m1.5-21h0m1 22h0m10.5-27h0m3 23.5h0m0-10.5h0m2-5h0m0.5-8h0m4 15h0m1 1.5h0m1-18.5h0m1.5-2h0m12 4h0m9-10.5h0m13.5 18h0m11.5-19h0m7.5 21.5h0m4 12.5h0m50-7.5h0m58-4.5h0m-284 35h0m7.5 2h0m2-16.5h0m2.5 27h0m0.5-25h0m0.5 1.5h0m0-4.5h0m0 11h0m3-3h0m2 22.5h0m0-7h0m1.5 2.5h0m0-16h0m5 24h0m0-3.5h0m1.5 5.5h0m1-22h0m0.5 23h0m0.5-20.5h0m1 12h0m2.5-16.5h0m0.5-7.5h0m0.5 26h0m2-30h0m0.5 35h0m3-9.5h0m1-25.5h0m0 1h0m1 16h0m1 3h0m1.5-22h0m1.5 27h0m3-23h0m0 26.5h0m0.5-26.5h0m2.5 12.5h0m0.5-10.5h0m2.5 15h0m0.5 16.5h0m0 1.5h0m1-22.5h0m2 20.5h0m1.5-32h0m4 33h0m6.5-11.5h0m1-11.5h0m3-11.5h0m5.5 21h0m0.5 9.5h0m0.5-15.5h0m1.5 2.5h0m0.5 6.5h0m4.5-10h0m1.5-17.5h0m5 39h0m1-9h0m1-20h0m1.5 9.5h0m5-6h0m3.5-12h0m1 0.5h0m15.5-2.5h0m5 19.5h0m3.5 10h0m10.5-5.5h0m0.5 8h0m19.5-14.5h0m2 20.5h0m13-6h0m9.5-10.5h0m41.5-6.5h0m85 7h0m-302 40h0m1-13h0m5.5 14h0m1.5-6.5h0m1.5 5h0m1 3.5h0m0.5-13h0m0.5 0.5h0m2-5.5h0m2.5 4.5h0m2.5 2.5h0m2.5-1h0m4.5 13.5h0m1-20.5h0m1.5 20h0m3.5-1.5h0m0-4h0m12-13h0m0 21h0m1.5-5h0m2.5-18h0m4.5 3h0m2.5-2h0m0 7h0m0.5-9h0m1 5h0m1 7h0m0.5 6.5h0m2 2.5h0m1-14.5h0m3-4h0m2-1.5h0m0.5 3h0m1-3h0m4.5 0h0m2 21.5h0m7.5-2h0m10.5-19.5h0m7.5 19h0m9.5-5.5h0m8-4h0m1.5 0h0m18.5 0h0m52.5 9.5h0m5-2.5h0m8.5 0.5h0" stroke="#ffa500" stroke-width="2.1" stroke-linecap="round" fill="none"/><path d="M1294.5 813.5h0m1 6.5h0m0.5 6.5h0m0-11h0m1-8h0m0.5 2h0m2 5h0m1 7.5h0m0.5-11h0m2-4.5h0m1.5 23.5h0m0.5 1h0m0-20h0m1 24.5h0m0.5-6h0m2-13.5h0m0 9h0m0-13.5h0m1.5 5h0m0-4.5h0m1 27.5h0m0-22.5h0m0.5 12h0m0.5-21h0m0.5 26h0m1 3.5h0m1 1h0m0.5-20h0m2 1h0m0.5 7h0m0-4h0m1.5-13.5h0m0.5 14.5h0m1.5-10.5h0m1 18h0m0-1.5h0m0-7.5h0m0.5-9h0m1.5 13h0m1-16h0m1.5 4h0m1.5 25.5h0m0-1.5h0m0.5-7h0m0 5.5h0m1.5-10h0m0.5-2.5h0m3.5-2h0m1-7.5h0m0-8h0m0 19.5h0m0 5h0m1.5-13.5h0m2 13h0m0.5-13.5h0m1.5-9h0m1.5 7.5h0m0.5-8h0m2.5 26.5h0m1-20.5h0m6.5 0h0m1.5 5h0m2.5 12h0m3 0h0m0-12h0m4-4h0m0.5 11h0m4.5 1.5h0m3-20h0m13.5 14.5h0m6-11h0m1 22h0m0.5 5.5h0m11.5-18h0m2.5 9h0m4.5-4h0m8 0.5h0m3.5-6.5h0m23.5-10h0m6 28h0m1-8h0m55-7.5h0m83-16.5h0m-292.5 45.5h0m8 9.5h0m0.5 6.5h0m2.5 0h0m1-17.5h0m0 27h0m1-26.5h0m1 21h0m0-10h0m0 2.5h0m1-14h0m0 7h0m1.5 16h0m0-18.5h0m0.5 9.5h0m0 4.5h0m1.5-4.5h0m0-17.5h0m0.5 6.5h0m0.5 20.5h0m1-22h0m0.5 23h0m0-6.5h0m0-21.5h0m0.5 22.5h0m0.5 10.5h0m0-8h0m0.5-10h0m0-8.5h0m0.5 1h0m0.5 21.5h0m0-24.5h0m0.5 3.5h0m0.5 8h0m0-15.5h0m0.5-0.5h0m3.5 0h0m0.5 17.5h0m1-8.5h0m0.5-3.5h0m0.5 10h0m1 13h0m0-1h0m0.5 0.5h0m0.5-27h0m0 10.5h0m0 19h0m1.5-13.5h0m0.5 4.5h0m0.5 9h0m1.5-21h0m0.5-4.5h0m0-3h0m0.5 22.5h0m0-7h0m0-0.5h0m0.5 11h0m0.5-5.5h0m2 2h0m1.5 7.5h0m0-15.5h0m2 15.5h0m1-6h0m0.5 7.5h0m0.5-16.5h0m0 10.5h0m1-12.5h0m0-6.5h0m0 22.5h0m1-10.5h0m0.5-1.5h0m2.5 13h0m0.5-23.5h0m3.5 23h0m0.5-23h0m0.5 12.5h0m5 1.5h0m0.5 7.5h0m0-4.5h0m0.5-26h0m1 25.5h0m4.5 8.5h0m2-22.5h0m1 22.5h0m1.5-30h0m2 12h0m2.5-1h0m6.5-8h0m12.5 17h0m0.5-5.5h0m3 9.5h0m5-15.5h0m1.5 21.5h0m1.5-33.5h0m2.5 23.5h0m3-27.5h0m3.5 17h0m1.5 20h0m5.5-38.5h0m6 23.5h0m6.5-17h0m6 28h0m7-7h0m6-2.5h0m0.5-3.5h0m5.5-18h0m12 5h0m50-4h0m-223.5 63h0m2-21.5h0m7-4h0m0-2h0m1 15h0m1.5-5h0m0 22h0m1.5-21.5h0m1.5 7h0m0.5-5h0m1 18h0m0-24h0m0.5 22h0m0 2h0m1.5-25.5h0m0-1h0m1.5 29h0m0.5-23h0m0 23h0m0.5-27h0m0.5-4.5h0m0.5 9h0m0 22.5h0m1-21.5h0m0.5 2.5h0m0-9.5h0m1 24.5h0m0-18.5h0m0 29h0m0.5-32h0m0 13.5h0m1.5-12h0m0 3h0m0-1h0m0 24h0m0.5-4.5h0m0-17h0m0 18.5h0m0 6h0m0.5-35.5h0m0 33.5h0m0.5-3h0m0-30h0m0.5 6h0m0.5 16h0m0.5 3.5h0m0-9h0m1.5-13.5h0m0.5 18.5h0m0 5.5h0m0 8h0m1.5-16h0m0 15h0m1-36.5h0m0 29h0m0.5-2.5h0m2-15.5h0m0-3.5h0m0.5 17h0m0-6h0m0 18.5h0m2.5-10h0m0-4.5h0m0.5 7h0m1-12.5h0m0.5 15h0m0-8.5h0m0.5-1.5h0m0-9.5h0m0.5 19h0m0-11.5h0m0.5 6.5h0m1.5-20.5h0m0.5 13h0m0.5 8.5h0m1.5-18.5h0m0 9.5h0m1.5 8h0m1 2h0m0-17h0m0.5 20h0m0.5-16.5h0m0 22.5h0m1-4h0m1.5-29.5h0m0-2h0m2 14h0m0 8.5h0m0-13.5h0m0 0h0m1-4h0m6 13.5h0m0 3h0m0-7.5h0m0.5-8h0m0.5 20.5h0m1 3.5h0m1.5-6h0m1-10.5h0m1 9h0m0.5 7.5h0m0.5-14.5h0m0.5 11.5h0m0-10.5h0m0.5-19h0m0 31h0m0.5-30h0m0.5 24h0m1.5-12.5h0m0.5 25h0m3-26h0m1.5-6h0m3.5 13.5h0m0.5 20.5h0m0.5-8h0m1-9h0m1.5-4.5h0m1 12.5h0m2-25h0m7 13.5h0m0 14h0m0.5-26.5h0m1 2h0m3.5 21h0m2.5 6h0m1-3h0m1.5 0h0m0-5.5h0m2-6h0m0.5-4.5h0m0.5-16h0m2 9.5h0m1 8h0m2.5 7h0m3.5 5h0m0.5 3h0m0.5-18h0m8 8.5h0m4 0h0m5.5-22h0m0.5 21h0m1-6.5h0m1-2h0m2.5 12h0m9-23.5h0m12.5-1.5h0m2 32h0m4.5-1h0m4-19.5h0m0.5 2h0m7-12.5h0m64 27.5h0m-227.5 43h0m2-27.5h0m0 10h0m1-4.5h0m1.5-10h0m1 31.5h0m1.5-10h0m1 9.5h0m1.5-2h0m2-12h0m0 17h0m2.5-32h0m0-1.5h0m5 32h0m0.5 4h0m0-11h0m4.5 1h0m3.5 12.5h0m0-30h0m1.5-3.5h0m0.5 5h0m2 9.5h0m1.5-2.5h0m1.5 10h0m2.5-7h0m4 13h0m6-29.5h0m1.5 6.5h0m4.5 8h0m5.5-4h0m2 1.5h0m0.5 9.5h0m0.5 10.5h0m3-4h0m0.5-14.5h0m4-11h0m0.5 11.5h0m0.5 2h0m9-4h0m7-10h0m1 6h0m4 20.5h0m12.5-21.5h0m1 22h0m1 3.5h0m16-7.5h0m9 0.5h0m22 3h0m10.5-22.5h0m3-8h0m16 27.5h0m32-2.5h0m63-26.5h0m23 12.5h0m2.5 0.5h0m-307 62.5h0m8.5-31h0m0.5 12.5h0m3.5-1.5h0m2.5 11.5h0m2 0.5h0m0.5-23.5h0m0 26h0m4-29h0m0 2.5h0m1 7.5h0m0.5 2h0m3 11.5h0m1-19.5h0m1-6h0m1.5 31h0m1 3.5h0m1-34h0m1 34h0m1.5-3.5h0m0.5-29h0m1.5 36.5h0m1.5-11.5h0m2 10h0m6.5-29.5h0m1-7h0m5 17.5h0m2-2h0m0 8h0m0.5-10.5h0m2 23h0m3-35.5h0m4 28h0m0-6.5h0m4-0.5h0m0 3h0m0-22.5h0m3.5 29h0m1-0.5h0m0.5 5h0m0.5-16h0m7 3h0m0.5 11.5h0m8 5h0m2.5-16.5h0m3.5 14.5h0m4 0.5h0m0.5-26.5h0m16 26.5h0m11.5-26h0m8 11h0m4.5 10.5h0m0-2.5h0m66.5-2.5h0m3.5-4.5h0m-29.5 40.5h0m105 2.5h0m-107.5 75h0" stroke="#800080" stroke-width="2.1" stroke-linecap="round" fill="none"/><path d="M966 1111.4C974.1 1104.1 998.4 1082.8 1014.5 1068C1030.7 1053.2 1046.9 1037.7 1063.1 1022.6C1079.2 1007.5 1095.4 991.9 1111.6 977.3C1127.8 962.6 1144 948.6 1160.1 934.6C1176.3 920.6 1192.5 906 1208.7 893.3C1224.8 880.7 1244.2 869.1 1257.2 859C1270.1 848.9 1280.4 836.1 1286.3 832.8C1292.2 829.5 1290.3 835.4 1292.4 839.3C1294.5 843.2 1296.7 850.7 1298.9 856.2C1301.2 861.7 1304.2 866.5 1305.7 872.2C1307.3 877.9 1308.6 884.9 1308.1 890.4C1307.7 895.8 1305.1 899.7 1303.3 904.9C1301.5 910.1 1300.9 916 1297.2 921.6C1293.6 927.1 1288.1 932.3 1281.5 938.2C1274.8 944.1 1265.3 950.5 1257.2 957C1249.1 963.6 1241 970.9 1232.9 977.6C1224.8 984.3 1216.7 990.9 1208.7 997.2C1200.6 1003.5 1192.5 1009.8 1184.4 1015.4C1176.3 1021 1168.2 1026 1160.1 1031C1152 1035.9 1144 1040.3 1135.9 1045.3C1127.8 1050.3 1119.7 1055.9 1111.6 1060.9C1103.5 1065.9 1095.4 1070.5 1087.3 1075.2C1079.2 1080 1070.3 1085.9 1063.1 1089.6C1055.8 1093.3 1049.7 1095.9 1043.7 1097.4C1037.6 1098.9 1033.5 1096.8 1026.7 1098.5C1019.8 1100.1 1009.3 1104.1 1002.4 1107.3C995.5 1110.5 989.9 1115.1 985.4 1117.8C981 1120.4 977.3 1122.2 975.7 1123.1" stroke="#800080" stroke-width="3.0" stroke-dasharray="10 4.7" fill="none"/><path d="M1007.3 1093.7C1009.3 1090.6 1025.5 1075.2 1038.8 1062.2C1052.1 1049.1 1071.2 1030.4 1087.3 1015.3C1103.5 1000.1 1119.7 985.4 1135.9 971.1C1152 956.9 1170.2 942.4 1184.4 929.8C1198.5 917.2 1212.3 903.8 1220.8 895.5C1229.3 887.2 1233.3 881 1235.4 879.8C1237.4 878.6 1235.4 884.1 1232.9 888.4C1230.5 892.8 1226.9 899 1220.8 905.9C1214.7 912.8 1206.6 920.8 1196.5 930C1186.4 939.2 1174.3 948.9 1160.1 961C1146 973.1 1127.8 988.6 1111.6 1002.5C1095.4 1016.3 1077.2 1031 1063.1 1044C1048.9 1057.1 1036 1072.5 1026.7 1080.8C1017.4 1089 1005.2 1096.8 1007.3 1093.7Z" stroke="#800080" stroke-width="3.0" stroke-dasharray="10 4.7" fill="none"/><path d="M1126.2 976.3C1130.2 971.9 1148.4 959.9 1160.1 949.1C1171.9 938.3 1189 918.7 1196.5 911.6C1204 904.4 1204.4 905.1 1205 906.4C1205.6 907.8 1205.6 912.8 1200.2 919.5C1194.7 926.2 1183 937.4 1172.3 946.7C1161.5 956 1143.5 970.2 1135.9 975.1C1128.2 980 1122.1 980.6 1126.2 976.3Z" stroke="#800080" stroke-width="3.0" stroke-dasharray="10 4.7" fill="none"/><path d="M966 1107.3C974.1 1100.2 998.4 1079.1 1014.5 1064.4C1030.7 1049.8 1046.9 1034.3 1063.1 1019.4C1079.2 1004.4 1095.4 989.3 1111.6 974.6C1127.8 959.9 1144 945.6 1160.1 931.4C1176.3 917.2 1192.5 902.3 1208.7 889.4C1224.8 876.5 1247.9 859.1 1257.2 853.9C1266.5 848.7 1260.4 853.4 1264.5 858C1268.5 862.6 1275.8 873.7 1281.5 881.5C1287.1 889.3 1294.8 896.8 1298.4 904.7C1302.1 912.7 1302.9 921.9 1303.3 929.2C1303.7 936.5 1304.5 941.4 1300.9 948.6C1297.2 955.9 1288.7 964.5 1281.5 972.7C1274.2 980.9 1265.3 988.8 1257.2 997.8C1249.1 1006.8 1241 1018.7 1232.9 1026.7C1224.8 1034.7 1216.7 1038.8 1208.7 1045.9C1200.6 1053 1192.5 1062.4 1184.4 1069.4C1176.3 1076.4 1168.2 1082.5 1160.1 1087.7C1152 1093 1144 1096.5 1135.9 1100.8C1127.8 1105.2 1119.7 1110.1 1111.6 1114C1103.5 1118 1095.4 1121.9 1087.3 1124.6C1079.2 1127.2 1071.2 1128.5 1063.1 1129.9C1055 1131.2 1048.9 1132.1 1038.8 1132.5C1028.7 1132.9 1012.1 1133.4 1002.4 1132.3C992.7 1131.3 985.4 1128.6 980.6 1126.2C975.7 1123.9 974.5 1119.7 973.3 1118.4" stroke="#ff0000" stroke-width="3.0" stroke-dasharray="10 4.7" fill="none"/><path d="M978.1 1120.3C984.2 1114.5 1000.4 1099 1014.5 1085.8C1028.7 1072.7 1046.9 1056.1 1063.1 1041.4C1079.2 1026.6 1095.4 1012.3 1111.6 997.2C1127.8 982 1144 966 1160.1 950.4C1176.3 934.9 1197.3 915.3 1208.7 903.9C1220 892.4 1223.6 885.2 1228.1 881.7C1232.5 878.2 1234.5 881 1235.4 882.9C1236.2 884.7 1237.4 885.8 1232.9 892.8C1228.5 899.8 1216.7 915.2 1208.7 924.9C1200.6 934.6 1192.5 943.1 1184.4 950.9C1176.3 958.6 1170.2 962.9 1160.1 971.6C1150 980.2 1135.9 992.3 1123.7 1002.7C1111.6 1013.1 1099.5 1023.9 1087.3 1033.9C1075.2 1043.9 1063.1 1052.5 1050.9 1062.5C1038.8 1072.6 1025 1084 1014.5 1094C1004 1104.1 992.3 1118.2 987.8 1123" stroke="#ff0000" stroke-width="3.0" stroke-dasharray="10 4.7" fill="none"/><path d="M1135.9 973.8C1139.5 968.6 1161.7 951.4 1172.3 940.1C1182.8 928.9 1194 910.2 1199 906.3C1203.9 902.5 1205.1 910.4 1201.9 916.9C1198.6 923.4 1188.1 936.4 1179.5 945.5C1171 954.6 1157.7 966.7 1150.4 971.4C1143.1 976.1 1132.2 979 1135.9 973.8Z" stroke="#ff0000" stroke-width="3.0" stroke-dasharray="10 4.7" fill="none"/><path d="M966 1130.1C974.1 1120.2 994.3 1091.9 1014.5 1070.7C1034.8 1049.6 1063.1 1025.7 1087.3 1003.3C1111.6 980.8 1141.9 954 1160.1 935.9C1178.3 917.8 1186.4 903.7 1196.5 894.5C1206.6 885.2 1213.9 881.4 1220.8 880.4C1227.7 879.4 1231.7 883.3 1237.8 888.4C1243.8 893.6 1249.9 902.1 1257.2 911.2C1264.5 920.3 1275 934.1 1281.5 943.1C1287.9 952.1 1293.6 955.4 1296 965.2C1298.4 975 1298.4 989.7 1296 1001.7C1293.6 1013.6 1287.9 1025.1 1281.5 1036.8C1275 1048.5 1265.3 1061.7 1257.2 1071.7C1249.1 1081.6 1241 1089 1232.9 1096.5C1224.8 1104.1 1216.7 1111.3 1208.7 1116.9C1200.6 1122.4 1192.5 1126.9 1184.4 1130C1176.3 1133.1 1168.2 1133.7 1160.1 1135.3C1152 1136.8 1139.9 1138.5 1135.9 1139.1" stroke="#ffa500" stroke-width="3.0" stroke-dasharray="10 4.7" fill="none"/><path d="M1111.6 1018.4C1115.6 1010.5 1125.8 989.5 1135.9 976.4C1146 963.4 1161.7 952.2 1172.3 940.1C1182.8 928 1191.3 910.8 1199 903.7C1206.6 896.6 1212.7 893.6 1218.4 897.7C1224 901.8 1228.5 916.7 1232.9 928.5C1237.4 940.3 1243.4 957.2 1245.1 968.6C1246.7 979.9 1246.7 988.3 1242.6 996.6C1238.6 1004.8 1230.5 1012.4 1220.8 1018C1211.1 1023.6 1198.5 1027.1 1184.4 1029.9C1170.2 1032.7 1148 1035.7 1135.9 1034.7C1123.7 1033.6 1115.6 1026.4 1111.6 1023.7C1107.6 1021 1107.6 1026.3 1111.6 1018.4Z" stroke="#ffa500" stroke-width="3.0" stroke-dasharray="10 4.7" fill="none"/><path d="M1131 976.4C1135.1 970.7 1149.6 958.2 1160.1 947.8C1170.6 937.4 1187 920 1194.1 914.1C1201.2 908.3 1202.2 910.3 1202.6 913C1203 915.6 1202.8 922.8 1196.5 930C1190.3 937.1 1175.1 947.2 1165 955.8C1154.9 964.4 1141.5 978.3 1135.9 981.7C1130.2 985.2 1127 982 1131 976.4Z" stroke="#ffa500" stroke-width="3.0" stroke-dasharray="10 4.7" fill="none"/><path d="M975.7 1120.1C982.2 1113.5 1000 1094.8 1014.5 1080.3C1029.1 1065.9 1046.9 1049.8 1063.1 1033.3C1079.2 1016.8 1095.4 997.5 1111.6 981.2C1127.8 965 1146 946.7 1160.1 935.9C1174.3 925.2 1186.4 917.5 1196.5 916.8C1206.6 916.2 1210.7 924.4 1220.8 932C1230.9 939.5 1247.1 952.9 1257.2 962.1C1267.3 971.4 1274.2 978.8 1281.5 987.5C1288.7 996.2 1297.2 1003.6 1300.9 1014.1C1304.5 1024.6 1305.3 1039.3 1303.3 1050.5C1301.3 1061.8 1294.4 1072.6 1288.7 1081.7C1283.1 1090.8 1276.6 1098.1 1269.3 1105.3C1262 1112.6 1253.1 1120.1 1245.1 1125.1C1237 1130.1 1228.9 1133 1220.8 1135.3C1212.7 1137.6 1200.6 1138.5 1196.5 1139.1" stroke="#0000ff" stroke-width="3.0" stroke-dasharray="10 4.7" fill="none"/><path d="M1116.4 1002.6C1119.7 993.8 1128.6 984.7 1135.9 976.4C1143.1 968.2 1152 958.7 1160.1 953.1C1168.2 947.5 1176.3 943.7 1184.4 943C1192.5 942.2 1200.6 944.5 1208.7 948.6C1216.7 952.6 1226.9 959.7 1232.9 967.3C1239 974.9 1242.6 985.4 1245.1 994.2C1247.5 1003 1249.5 1011.6 1247.5 1020C1245.5 1028.5 1239.4 1037.5 1232.9 1044.8C1226.5 1052.2 1216.7 1058.4 1208.7 1064.3C1200.6 1070.1 1192.5 1075.6 1184.4 1079.9C1176.3 1084.3 1168.2 1087.3 1160.1 1090.4C1152 1093.4 1142.3 1095.6 1135.9 1098.2C1129.4 1100.8 1124.1 1111 1121.3 1106.1C1118.5 1101.2 1119.7 1081.8 1118.9 1068.9C1118.1 1056.1 1116.9 1040.2 1116.4 1029.1C1116 1018.1 1113.2 1011.4 1116.4 1002.6Z" stroke="#0000ff" stroke-width="3.0" stroke-dasharray="10 4.7" fill="none"/><path d="M1189.2 970.7C1194.3 970.7 1201.2 971 1205 974.8C1208.9 978.7 1211.5 987.1 1212.3 993.7C1213.1 1000.3 1212.5 1009 1209.9 1014.4C1207.2 1019.8 1201.6 1024.4 1196.5 1026C1191.5 1027.7 1184.4 1027 1179.5 1024.6C1174.7 1022.1 1169.4 1017.4 1167.4 1011.3C1165.4 1005.1 1166.2 993.6 1167.4 987.5C1168.6 981.4 1171 977.2 1174.7 974.4C1178.3 971.6 1184.2 970.6 1189.2 970.7Z" stroke="#0000ff" stroke-width="3.0" stroke-dasharray="10 4.7" fill="none"/></g><rect x="975.7" y="659.5" width="184.2" height="113.1" rx="3.5" fill="#fff" fill-opacity="0.8" stroke="#cccccc" stroke-width="1.6"/><circle cx="998.5" cy="675.1" r="8.2" fill="#800080"/><circle cx="998.5" cy="700.6" r="8.2" fill="#ff0000"/><circle cx="998.5" cy="726.1" r="8.2" fill="#ff8000"/><circle cx="998.5" cy="751.6" r="8.2" fill="#0000ff"/><g font-family="'DejaVu Sans', 'Liberation Sans', sans-serif" font-size="18.4" fill="#000"><text x="1034" y="680.4" font-style="italic">R</text><text x="1047" y="684.4" font-style="italic" font-size="13">e</text><text x="1059.3" y="680.4">=</text><text x="1076.9" y="680.4">0.01</text><text x="1034" y="705.9" font-style="italic">R</text><text x="1047" y="709.9" font-style="italic" font-size="13">e</text><text x="1059.3" y="705.9">=</text><text x="1076.9" y="705.9">0.001</text><text x="1034" y="731.4" font-style="italic">R</text><text x="1047" y="735.4" font-style="italic" font-size="13">e</text><text x="1059.3" y="731.4">=</text><text x="1076.9" y="731.4">0.0001</text><text x="1034" y="756.9" font-style="italic">R</text><text x="1047" y="760.9" font-style="italic" font-size="13">e</text><text x="1059.3" y="756.9">=</text><text x="1076.9" y="756.9">0.00001</text></g><rect x="966" y="649.9" width="655.2" height="487.8" fill="none" stroke="#000" stroke-width="2"/><path d="M966 1137.7v6.5M1075.2 1137.7v6.5M1184.4 1137.7v6.5M1293.6 1137.7v6.5M1402.8 1137.7v6.5M1512 1137.7v6.5M1621.2 1137.7v6.5M959.5 1137.7h6.5M959.5 1040.1h6.5M959.5 942.5h6.5M959.5 845h6.5M959.5 747.4h6.5M959.5 649.9h6.5" stroke="#000" stroke-width="1.8"/><g font-family="'Liberation Serif', 'Times New Roman', serif" font-size="19.4" fill="#000"><text x="966" y="1164.2" text-anchor="middle">−2</text><text x="1075.2" y="1164.2" text-anchor="middle">−1</text><text x="1184.4" y="1164.2" text-anchor="middle">0</text><text x="1293.6" y="1164.2" text-anchor="middle">1</text><text x="1402.8" y="1164.2" text-anchor="middle">2</text><text x="1512" y="1164.2" text-anchor="middle">3</text><text x="1621.2" y="1164.2" text-anchor="middle">4</text><text x="953" y="1144.2" text-anchor="end">−2</text><text x="953" y="1046.7" text-anchor="end">−1</text><text x="953" y="949.1" text-anchor="end">0</text><text x="953" y="851.6" text-anchor="end">1</text><text x="953" y="754" text-anchor="end">2</text><text x="953" y="656.5" text-anchor="end">3</text></g><text x="860.7" y="1164" font-family="'Liberation Serif', 'Times New Roman', serif" font-size="40.5" letter-spacing="1.3" fill="#000">(d)</text><text x="1294.9" y="1190.5" font-family="'DejaVu Sans', 'Liberation Sans', sans-serif" font-size="19" text-anchor="middle"><tspan font-style="italic">log</tspan><tspan font-size="13.3" dy="4">10</tspan><tspan dy="-4">(1/|</tspan><tspan font-style="italic">J</tspan>|)</text><text transform="translate(919.8,893.8) rotate(-90)" font-family="'DejaVu Sans', 'Liberation Sans', sans-serif" font-size="19"><tspan x="-43.3" y="0" font-style="italic">log</tspan><tspan font-size="13.3" dy="4">10</tspan><tspan dy="-4">(</tspan><tspan font-style="italic">n&#770;</tspan><tspan font-style="italic" font-size="13.3" dy="4.5">d</tspan><tspan font-size="13.3" dx="-8.2" dy="-12.5">R</tspan><tspan font-size="9.5" dy="-2">e</tspan><tspan dy="10" dx="1">)</tspan></text><path d="M215.7 1290.4V1778.2M324.9 1290.4V1778.2M434.1 1290.4V1778.2M543.3 1290.4V1778.2M652.5 1290.4V1778.2M106.5 1680.6H761.7M106.5 1583.1H761.7M106.5 1485.5H761.7M106.5 1388H761.7" stroke="#b0b0b0" stroke-width="1.6" fill="none"/><clipPath id="clip-e"><rect x="106.5" y="1290.4" width="655.2" height="487.8"/></clipPath><g clip-path="url(#clip-e)"><g filter="url(#soft)"><path d="M106 1749C115.8 1735.7 170.6 1684.3 190.3 1665.7C210 1647.1 254.9 1607.2 274.6 1589.8C294.3 1572.5 342.5 1530.3 358.9 1516.8C375.3 1503.2 402 1484.3 415.1 1473.7C428.2 1463.1 461.4 1431.2 471.3 1425.9C481.1 1420.6 495.4 1425.8 499.4 1428.1C503.3 1430.4 502.4 1443.7 505 1445.5C507.6 1447.4 519.2 1441.8 521.8 1443.9C524.5 1446.1 528.1 1458.9 527.5 1464.1C526.8 1469.3 514.6 1485 516.2 1488.7C517.9 1492.4 538 1494 541.5 1495.9C545 1497.7 545.5 1487.2 546 1504.3C546.5 1521.3 551.5 1623.1 546 1642C540.6 1660.9 511.4 1659.9 499.4 1666.3C487.4 1672.6 456.3 1689.9 443.2 1696.4C430.1 1702.8 400.1 1716.4 387 1721.6C373.9 1726.9 343.9 1737.6 330.8 1741.6C317.7 1745.6 287.7 1752.6 274.6 1756C261.5 1759.4 233.1 1768 218.4 1770.7C203.6 1773.4 161.3 1778.1 148.1 1779.1C135 1780.1 110.9 1782.6 106 1779.1C101.1 1775.6 96.2 1762.2 106 1749Z" fill="#d8d2e8"/><path d="M106 1764.4C115.8 1752.6 170.6 1696.3 190.3 1678C210 1659.7 258.2 1621.1 274.6 1607.6C291 1594.2 317.7 1573 330.8 1562.6C343.9 1552.2 375.5 1526.1 387 1518.5C398.5 1510.9 419.3 1500.7 429.1 1497.5C439 1494.4 461.1 1492.5 471.3 1491.5C481.4 1490.5 508 1488.2 516.2 1488.7C524.4 1489.2 538 1494 541.5 1495.9C545 1497.7 545.5 1492.8 546 1504.3C546.5 1515.8 551.5 1583.3 546 1594.2C540.6 1605.2 514.6 1595.4 499.4 1598.2C484.1 1601 434.7 1611.6 415.1 1618.1C395.4 1624.5 350.5 1644.5 330.8 1653.6C311.1 1662.7 262.9 1685.9 246.5 1695.9C230.1 1706 203.4 1730 190.3 1739.7C177.2 1749.4 143.9 1774.5 134.1 1779.1C124.3 1783.7 109.3 1780.8 106 1779.1C102.7 1777.4 96.2 1776.2 106 1764.4Z" fill="#f0a084"/><path d="M134.1 1779.1C139 1774.5 177.2 1749.4 190.3 1739.7C203.4 1730 230.1 1706 246.5 1695.9C262.9 1685.9 311.1 1662.7 330.8 1653.6C350.5 1644.5 395.4 1624.5 415.1 1618.1C434.7 1611.6 484.1 1601 499.4 1598.2C514.6 1595.4 540.6 1589.1 546 1594.2C551.5 1599.3 551.5 1633.6 546 1642C540.6 1650.4 511.4 1659.9 499.4 1666.3C487.4 1672.6 456.3 1689.9 443.2 1696.4C430.1 1702.8 400.1 1716.4 387 1721.6C373.9 1726.9 343.9 1737.6 330.8 1741.6C317.7 1745.6 287.7 1752.6 274.6 1756C261.5 1759.4 233.1 1768 218.4 1770.7C203.6 1773.4 158 1778.1 148.1 1779.1C138.3 1780.1 129.2 1783.7 134.1 1779.1Z" fill="#bcd6ec"/><path d="M106 1752C115.8 1739.8 170.6 1687.4 190.3 1668.8C210 1650.2 254.9 1610.2 274.6 1592.8C294.3 1575.4 342.5 1533.4 358.9 1519.7C375.3 1506 402 1486 415.1 1475.2C428.2 1464.4 461.4 1432.7 471.3 1427.3C481.1 1422 495.4 1427.4 499.4 1429.5C503.3 1431.6 502.4 1443.8 505 1445.5C507.6 1447.2 519.2 1441.8 521.8 1443.9C524.5 1446.1 528.1 1458.9 527.5 1464.1C526.8 1469.3 522.8 1484.8 516.2 1488.7C509.7 1492.6 481.4 1495.2 471.3 1497.2C461.1 1499.3 439 1502.3 429.1 1506.2C419.3 1510 398.5 1522.8 387 1530.1C375.5 1537.3 343.9 1558.4 330.8 1568.5C317.7 1578.6 287.7 1604.6 274.6 1616.5C261.5 1628.5 231.5 1658.1 218.4 1670.7C205.3 1683.3 175.3 1712.3 162.2 1724.3C149.1 1736.3 112.6 1770.4 106 1773.6C99.4 1776.9 96.2 1764.3 106 1752Z" fill="#c4a6d6" fill-opacity="0.85"/><path d="M106 1769C113.9 1758.1 170.6 1707.1 190.3 1688.8C210 1670.5 256.6 1629.1 274.6 1612.1C292.6 1595 332.2 1553.7 344.8 1542.6C357.5 1531.5 378 1518.1 382.8 1516.8C387.5 1515.5 389 1526.4 385.6 1531.4C382.1 1536.5 364.6 1549.7 353.3 1560.4C342 1571.1 306 1606 288.6 1623C271.3 1640 223.7 1687.9 204.3 1706.5C185 1725.1 134.3 1775.2 122.9 1782.5C111.4 1789.8 98.1 1779.9 106 1769Z" fill="#8a3a7c" fill-opacity="0.85"/></g><path d="M106 1752C115.8 1739.8 170.6 1687.4 190.3 1668.8C210 1650.2 254.9 1610.2 274.6 1592.8C294.3 1575.4 342.5 1533.4 358.9 1519.7C375.3 1506 402 1486 415.1 1475.2C428.2 1464.4 461.4 1432.7 471.3 1427.3C481.1 1422 495.4 1427.4 499.4 1429.5C503.3 1431.6 502.4 1443.8 505 1445.5C507.6 1447.2 519.2 1441.8 521.8 1443.9C524.5 1446.1 528.1 1458.9 527.5 1464.1C526.8 1469.3 522.8 1484.8 516.2 1488.7C509.7 1492.6 481.4 1495.2 471.3 1497.2C461.1 1499.3 439 1502.3 429.1 1506.2C419.3 1510 398.5 1522.8 387 1530.1C375.5 1537.3 343.9 1558.4 330.8 1568.5C317.7 1578.6 287.7 1604.6 274.6 1616.5C261.5 1628.5 231.5 1658.1 218.4 1670.7C205.3 1683.3 175.3 1712.3 162.2 1724.3C149.1 1736.3 112.6 1770.4 106 1773.6C99.4 1776.9 96.2 1764.3 106 1752Z" fill="url(#tp)"/><path d="M106 1773.6C112.6 1767.2 149.1 1736.3 162.2 1724.3C175.3 1712.3 205.3 1683.3 218.4 1670.7C231.5 1658.1 261.5 1628.5 274.6 1616.5C287.7 1604.6 317.7 1578.6 330.8 1568.5C343.9 1558.4 375.5 1537.3 387 1530.1C398.5 1522.8 419.3 1510 429.1 1506.2C439 1502.3 461.1 1499.3 471.3 1497.2C481.4 1495.2 508 1488.9 516.2 1488.7C524.4 1488.6 538 1494 541.5 1495.9C545 1497.7 545.5 1492.8 546 1504.3C546.5 1515.8 551.5 1583.3 546 1594.2C540.6 1605.2 514.6 1595.4 499.4 1598.2C484.1 1601 434.7 1611.6 415.1 1618.1C395.4 1624.5 350.5 1644.5 330.8 1653.6C311.1 1662.7 262.9 1685.9 246.5 1695.9C230.1 1706 203.4 1730 190.3 1739.7C177.2 1749.4 143.9 1774.5 134.1 1779.1C124.3 1783.7 109.3 1779.7 106 1779.1C102.7 1778.5 99.4 1780 106 1773.6Z" fill="url(#tr)"/><path d="M134.1 1779.1C139 1774.5 177.2 1749.4 190.3 1739.7C203.4 1730 230.1 1706 246.5 1695.9C262.9 1685.9 311.1 1662.7 330.8 1653.6C350.5 1644.5 395.4 1624.5 415.1 1618.1C434.7 1611.6 484.1 1601 499.4 1598.2C514.6 1595.4 540.6 1589.1 546 1594.2C551.5 1599.3 551.5 1633.6 546 1642C540.6 1650.4 511.4 1659.9 499.4 1666.3C487.4 1672.6 456.3 1689.9 443.2 1696.4C430.1 1702.8 400.1 1716.4 387 1721.6C373.9 1726.9 343.9 1737.6 330.8 1741.6C317.7 1745.6 287.7 1752.6 274.6 1756C261.5 1759.4 233.1 1768 218.4 1770.7C203.6 1773.4 158 1778.1 148.1 1779.1C138.3 1780.1 129.2 1783.7 134.1 1779.1Z" fill="url(#tb)"/><path d="M576.5 1421h0m52 2h0m17 9h0m-117.5 73.5h0m9 4h0m0.5 5h0m2.5 1.5h0m5.5-4h0m1.5 2.5h0m2.5-9.5h0m7 0h0m1 9.5h0m0-6.5h0m1 7.5h0m0 1h0m7 2h0m3-9.5h0m3.5 8h0m0-4h0m0-1.5h0m1.5 2h0m8.5-7.5h0m3 3.5h0m8 5h0m0.5 4h0m3.5-7.5h0m5.5-5h0m2.5 8.5h0m36.5-5h0m4 7.5h0m2-6h0m9-2.5h0m21 8h0m0.5-3.5h0m-156.5 18h0m8.5 12.5h0m3 14.5h0m2-34.5h0m0.5 31.5h0m0-6h0m0.5-14h0m2 7.5h0m0-14.5h0m1.5 29.5h0m0.5-32.5h0m1 6h0m1 4.5h0m0.5-15.5h0m0 5.5h0m2.5 33h0m1-33.5h0m0.5 6.5h0m0.5 20h0m0.5 7h0m1.5-23.5h0m0 13h0m1-13h0m0.5 18h0m0 1.5h0m1.5-22.5h0m0.5 20h0m1-26.5h0m2-4.5h0m1.5 3h0m1.5-0.5h0m1 11.5h0m0 21.5h0m0-9.5h0m1.5-5.5h0m1.5 17.5h0m0-30h0m1.5 19.5h0m0-25.5h0m0.5 5h0m0.5 31h0m0.5-7.5h0m0-12.5h0m0.5-18.5h0m0.5 1.5h0m0.5 7.5h0m0-9h0m0 27h0m3.5-2h0m0.5 10h0m1-12h0m1 2h0m0.5-21.5h0m1 21h0m0 7h0m5.5-26.5h0m3 21h0m4-11.5h0m0 18.5h0m3-26h0m3 22h0m1.5-15h0m0.5 14.5h0m2.5 2.5h0m0-29h0m2.5 6.5h0m2.5-4h0m1.5 4.5h0m4.5 9.5h0m0-13.5h0m0.5 4h0m2 28h0m0.5-29h0m0.5 1.5h0m1 1.5h0m0.5 4h0m3-9.5h0m0.5 17.5h0m0-18.5h0m2.5-0.5h0m1.5 27h0m0-18h0m1.5-10.5h0m5 24h0m0.5-12h0m0 22.5h0m0.5-29.5h0m4.5 10.5h0m4 3h0m2.5-7.5h0m1-8.5h0m4-1.5h0m2.5 18h0m1-21h0m1.5 14h0m0-6h0m0.5 1.5h0m3 7h0m2.5-8.5h0m8 5.5h0m6 19h0m9.5-26h0m2-0.5h0m12 31.5h0m5.5-30h0m22.5 12.5h0m-194.5 53h0m0.5 5h0m0 0h0m1-5.5h0m1-13.5h0m1 15h0m2.5-4h0m3-17.5h0m0.5 10h0m1 10.5h0m0-7.5h0m2.5-12.5h0m0 19.5h0m0-27h0m0.5 2h0m0.5-4h0m0 7h0m0 3.5h0m0-2.5h0m0 14.5h0m0.5-5.5h0m1-21.5h0m1 3.5h0m0.5 19.5h0m1-22h0m0 29.5h0m2-7h0m0.5-8.5h0m0.5 16h0m0.5-15h0m0 4h0m2-19.5h0m0 30.5h0m1.5-19h0m0 23h0m2-8h0m0.5-7.5h0m1-9.5h0m0.5 21h0m1.5 0h0m0-6.5h0m2 12h0m0.5 2h0m0-22.5h0m1 20.5h0m2.5-9h0m0-8h0m0.5 12h0m0-7.5h0m0.5 11.5h0m0-9h0m0 8h0m0-9h0m0.5-8h0m0 15h0m0-0.5h0m1-9h0m0-20.5h0m2.5 21h0m1.5-21h0m0 19.5h0m0.5 15h0m0.5-26h0m2.5 16.5h0m1.5 8.5h0m1.5-25.5h0m0 28.5h0m0-16.5h0m0.5-14.5h0m1 0h0m1 13h0m1.5-15.5h0m2.5 28h0m1.5-1.5h0m1.5 1h0m0.5-25h0m1 15.5h0m1-4.5h0m1 14.5h0m1-17h0m11-1.5h0m2.5 17.5h0m1-6.5h0m3 4h0m1 4.5h0m0-34h0m0.5 39h0m2-17h0m1.5-14.5h0m1.5-1h0m2.5-5h0m1 33.5h0m0.5-14.5h0m5.5 5.5h0m0.5 2.5h0m1-21.5h0m1.5 27.5h0m2.5-27.5h0m5.5 6.5h0m7 1h0m2 24.5h0m3.5-4h0m0-21h0m3-2.5h0m6.5 1.5h0m6 24h0m4.5-27.5h0m2 9.5h0m3-11.5h0m16.5-2h0m9 32h0m2-11h0m13.5-11.5h0m19.5 8h0m6.5 9.5h0m-209.5 28h0m1-6.5h0m1.5 19.5h0m0.5-8h0m1.5-1.5h0m1-4h0m1-2.5h0m0.5 0.5h0m1.5-6h0m0 4.5h0m1-12h0m1.5 15.5h0m0-20h0m2.5 31.5h0m0-16.5h0m0-13.5h0m0.5 3.5h0m0.5 14h0m0-15.5h0m1-1h0m0.5 29h0m1-18h0m2.5-12.5h0m2 33h0m0-19h0m0.5-11h0m1 2h0m1 33h0m0-12h0m0 10.5h0m0.5-15h0m1-16.5h0m0.5 18.5h0m0 5.5h0m0-5h0m0.5 3h0m0-23h0m0.5 10h0m1 21h0m1-29h0m0.5 29h0m0.5-9.5h0m0-16.5h0m0.5 2.5h0m0.5 9h0m1 13h0m1.5-24.5h0m1.5 15.5h0m0.5 0h0m1.5-7.5h0m0.5-11h0m0.5 9.5h0m1 13.5h0m0-2.5h0m4.5 10h0m4-8h0m0 9h0m1-24h0m0.5-0.5h0m1-3.5h0m0-5.5h0m2.5 27h0m0.5-10.5h0m0.5 9h0m2-16h0m1 17h0m0.5-6h0m0.5 13h0m0.5-2.5h0m0-31.5h0m0.5 3.5h0m0.5 0.5h0m0.5 30h0m0-34.5h0m1.5 5.5h0m0.5 21.5h0m0 2.5h0m0.5-16.5h0m1.5-1h0m0.5-1.5h0m1 16.5h0m0-16.5h0m1-12h0m1 15h0m0.5 14h0m2-2h0m5-16.5h0m4-4h0m1 14.5h0m0.5-19.5h0m1 24h0m2.5-21.5h0m1 17h0m9 4.5h0m3.5-21h0m2.5 11h0m3-1.5h0m1.5 6.5h0m2 13h0m1-15.5h0m7.5-8h0m9.5-7h0m1 28.5h0m1-33h0m0 11.5h0m6 6h0m1 3.5h0m2.5-4.5h0m0.5-7.5h0m0.5-8.5h0m1.5 34h0m1.5-17h0m6.5-15.5h0m0.5 3h0m2.5 0h0m11 2h0m3.5 12h0m5.5 14h0m7.5-8.5h0m3-24h0m1 4.5h0m1.5-6h0m14.5 6.5h0m-246.5 69.5h0m20-1h0m1-11h0m0 1h0m6 11h0m2.5 0h0m3.5-12.5h0m2.5 11.5h0m2.5-2h0m4.5-13.5h0m7.5 0h0m4-1h0m0-19h0m4 29h0m0.5-29h0m5.5 0.5h0m2 11.5h0m1.5 1.5h0m0.5 5h0m0.5 7h0m1.5-25h0m3.5 23.5h0m3-4h0m2-20h0m6.5 9.5h0m0.5 9h0m5-15.5h0m0.5 1.5h0m1.5 20h0m2.5-7.5h0m28-16h0m1.5 26h0m18-26h0m6.5 0.5h0m6 6.5h0m7.5-8h0m51 15h0m-286 57.5h0m0.5 5h0m5-1.5h0m1.5-4.5h0m10-4h0m1 8.5h0m3.5-1.5h0m7-6.5h0m1 5h0m11.5-17h0m0.5 5.5h0m1.5-4h0m4.5 18.5h0m1-16h0m0.5-10.5h0m2 16h0m1-10h0m4.5 1h0m3-6.5h0m2-5.5h0m3.5 34.5h0m5.5-28h0m3.5-7h0m0.5 10h0m3.5 7.5h0m2-7.5h0m0.5 12h0m12.5-3.5h0m7-2.5h0m3.5 13h0m24.5-16h0m3-2h0m4-14.5h0m2.5 15h0m29 18h0m30.5-21h0m121-10.5h0m-446.5 77.5h0m7-3h0m7.5-6h0m10-1h0m8.5 8.5h0m0.5-7.5h0m9 0h0m2-6h0m5 8h0m13-3h0m12-2.5h0m1.5 5h0m1-10.5h0m1.5-7.5h0m3.5 2.5h0m5.5-6h0m0.5 7.5h0m0-6h0m3-6h0m6 1.5h0m3-1h0m2.5 23.5h0m1.5-6.5h0m0-16.5h0m3.5-5.5h0m0 14h0m3 0.5h0m1.5 18.5h0m1.5-14.5h0m3.5-12.5h0m1-5.5h0m2.5 35.5h0m2.5-30.5h0m3 24h0m3-29.5h0m8 13h0m1.5 11.5h0m5.5-7h0m1.5 3.5h0m6.5-9h0m1 1.5h0m2.5 17h0m7-15h0m3.5-17h0m5.5 9h0m35.5-6.5h0m22-2h0m11.5-0.5h0m22 15h0m-363.5 40.5h0m2 1.5h0m12.5-4.5h0m1.5-0.5h0m4 3.5h0m4.5 0h0m1-1h0m5-5.5h0m27.5 2h0m5.5 5h0m1.5 0h0m5.5-9h0m14 8h0m0-12.5h0m12 13h0m4-4h0m1.5 3h0m23-13.5h0m3.5 0h0m14.5 7.5h0m8.5-6.5h0m8.5 9h0m18.5 1h0m15.5-9.5h0m95.5-2h0m0.5 16h0" stroke="#ffa500" stroke-width="2.1" stroke-linecap="round" fill="none"/><path d="M592 1461h0m-45.5 126.5h0m3.5-5.5h0m0.5 8.5h0m0.5 7.5h0m1.5 0.5h0m1-13h0m1.5 11.5h0m0.5-4h0m0.5-13h0m5 1.5h0m0.5 14.5h0m0.5-2h0m2.5 4h0m21.5-4h0m19-6.5h0m13.5-5.5h0m5.5-1h0m2 18h0m-112.5 27.5h0m3 11.5h0m5.5-34.5h0m1 13h0m1.5 5h0m1-3.5h0m1.5 11h0m1-11.5h0m0.5-11.5h0m0.5 16.5h0m0-6.5h0m1 17h0m0-0.5h0m1.5-8h0m2 14h0m0.5-22h0m0.5 21.5h0m2-10h0m1.5-23h0m3 21h0m1-17h0m1-6h0m0.5 19.5h0m0.5 0.5h0m1.5-15.5h0m0.5 9h0m0-1.5h0m0.5 13.5h0m0.5-22h0m0 25.5h0m0-18h0m1.5-4h0m0 8.5h0m0-12h0m0-1.5h0m0.5 31h0m0-2h0m0-27.5h0m1.5-5.5h0m0 15h0m0.5-4.5h0m0-2.5h0m0 18h0m0.5-18h0m0 5h0m0 22.5h0m0-13h0m0 7h0m1.5-27h0m0-3.5h0m0 30.5h0m0.5 6.5h0m0.5-8.5h0m0.5-4.5h0m0.5-23h0m0 31.5h0m0-21.5h0m0.5 9.5h0m0-16.5h0m0.5-1.5h0m0 14h0m0 2h0m0.5-9h0m0 5.5h0m0.5 9h0m0.5-5h0m0 7h0m0.5-19.5h0m0.5 9h0m1-7h0m0 15h0m0.5 12h0m0-2.5h0m0.5-33h0m0.5 29.5h0m0-14.5h0m0.5-8.5h0m0.5 17.5h0m0.5-13.5h0m0-9.5h0m0 7h0m0.5-6.5h0m1 8.5h0m0 23h0m0.5 4h0m0-32.5h0m0.5 33h0m1-23h0m0-3h0m0.5 22h0m1-9.5h0m0.5-24h0m1 34.5h0m1-14.5h0m0 0.5h0m0.5-14.5h0m1 14.5h0m0.5-15h0m0.5 5.5h0m0.5-9h0m3.5 0h0m1 6h0m0.5 26.5h0m1-14h0m0.5 14h0m0-32h0m2 4h0m0.5 22h0m0.5-27h0m0 21.5h0m0.5 5h0m0.5 9h0m0-23h0m1 25h0m0-18h0m1.5 6h0m0-9h0m0 4h0m0.5-14h0m0.5 28.5h0m1-7h0m3-7.5h0m1 16.5h0m0.5-33.5h0m2-2h0m1.5 36h0m0.5-22.5h0m2-5.5h0m0.5 16.5h0m0-7.5h0m0.5 5.5h0m0.5 12.5h0m1 1h0m2-31.5h0m0.5-4h0m1.5-2.5h0m2 2h0m6.5 33h0m4.5-6h0m3-23h0m5 10h0m1 14h0m1.5-14.5h0m0.5 16h0m4 1h0m1-25h0m3.5 2.5h0m1.5 22h0m0.5 6h0m3-33.5h0m2 15h0m3.5-8.5h0m1.5 14.5h0m4-26h0m1 31h0m5.5-3.5h0m2.5-6h0m8 6.5h0m3-18.5h0m7 24.5h0m9 0h0m-216.5 44.5h0m10.5-5.5h0m4 5.5h0m5-10.5h0m0 4.5h0m0 6h0m0.5-10h0m1.5 8.5h0m1-11.5h0m1.5 12.5h0m1-14h0m0.5 5.5h0m3.5 7h0m2-4h0m0.5-3h0m0.5-3.5h0m1.5 4h0m2 5h0m0-9.5h0m0.5 9h0m1.5-17h0m0.5 14.5h0m0.5 3.5h0m2-17h0m1 1.5h0m0 1h0m0.5-2h0m0 6.5h0m0-11h0m0.5 16h0m0.5-0.5h0m1 8h0m0 1h0m0.5-29h0m0.5 21.5h0m0-4h0m0 9h0m0.5-6.5h0m0-23.5h0m0.5 29.5h0m0.5-20.5h0m0 19.5h0m0-12h0m1.5-7h0m0.5 21h0m0-15h0m0-2.5h0m2-4h0m0 0.5h0m0 11.5h0m0-8.5h0m0-1h0m0.5-7h0m0.5 8h0m1 9.5h0m0.5-20.5h0m0.5 23.5h0m0.5-11.5h0m0 10.5h0m1-23h0m0 17h0m0 11h0m1-9h0m0 2.5h0m0-10h0m1.5-6h0m0.5 14.5h0m0.5-4.5h0m0.5-16h0m0.5 18.5h0m0-13h0m2 4h0m0 2.5h0m0.5 1h0m0.5 1h0m0.5 18h0m0.5-39h0m2 3.5h0m0 8.5h0m1-5.5h0m0 10h0m0 20.5h0m0.5-15h0m0.5-0.5h0m0 8h0m1 7.5h0m0.5-22h0m0.5 17h0m0.5-14h0m0 0.5h0m1 7.5h0m0.5-26h0m0.5 10h0m1-7.5h0m1 26.5h0m0-3h0m1-24h0m0.5 0h0m0 24.5h0m0-3h0m0 1h0m0.5-13h0m1-10h0m0.5 10.5h0m0.5-6.5h0m0 11.5h0m0-6h0m1-9h0m0 23h0m0.5 0.5h0m0.5 9h0m0.5 4h0m0.5-14h0m0-5h0m0-12.5h0m0.5 20.5h0m1 8.5h0m0 0.5h0m0.5-18h0m0.5-3.5h0m0.5-14.5h0m0 21.5h0m0 9.5h0m1.5-29h0m0 35.5h0m0.5-10h0m0.5 7.5h0m1.5-36h0m0.5 1.5h0m0 6.5h0m0-4.5h0m1.5 9h0m1 20h0m0-22h0m0.5 0h0m0.5-1.5h0m0.5 13.5h0m0.5-22h0m0 8.5h0m0 17h0m0.5-12h0m1 12.5h0m1-22h0m0-1.5h0m0.5 11h0m1 3h0m0 18.5h0m0.5-29h0m0 19h0m0.5-17.5h0m1 11.5h0m1-17.5h0m0 32.5h0m1.5-30.5h0m0 34.5h0m1.5 0h0m1-28h0m0.5-3h0m1.5-4.5h0m0 3.5h0m0.5 0.5h0m0.5 15h0m1-19h0m0 12h0m0 17.5h0m1.5-13h0m0.5 17h0m0.5-30.5h0m0.5-3.5h0m2 12h0m0 9h0m2-17.5h0m0 16h0m1.5-13.5h0m1-5.5h0m1-1h0m1 7h0m1.5 7h0m2.5-7h0m1 5.5h0m0 4.5h0m3.5 13h0m4.5-24h0m0.5 9h0m0.5-10h0m0 15.5h0m2-16.5h0m0.5 22h0m5 2.5h0m3-22h0m2 6.5h0m2-14h0m5 22.5h0m1-11h0m1.5 7h0m3.5-9h0m4 28h0m2.5-1.5h0m2.5-7.5h0m2.5-6h0m4-23.5h0m0 27h0m0.5 8.5h0m1-2h0m0.5-13.5h0m28.5 14h0m1.5-21.5h0m5.5 24h0m2-27.5h0m8.5-3.5h0m11.5 14h0m6.5 17h0m3-20h0m-331.5 62h0m1.5-0.5h0m5.5 1h0m3-0.5h0m1-1h0m6.5 2h0m1-4.5h0m2 3.5h0m0-1.5h0m4.5-1.5h0m4 0h0m0 3h0m1-2h0m1-6.5h0m2 3h0m2 2.5h0m0.5-1h0m0-3h0m1-3.5h0m3 2.5h0m1.5-1h0m1.5-6.5h0m0.5 6.5h0m0.5 1.5h0m0-4h0m2.5 8h0m0.5-4h0m0.5 7h0m0-14h0m0.5 12.5h0m0.5-13h0m0.5 1h0m1 4h0m2-9.5h0m1 1.5h0m0.5 3h0m1-5.5h0m3 0.5h0m3 5.5h0m0.5-7h0m0.5 3.5h0m0-4.5h0m1-2.5h0m1 24.5h0m3-12h0m0-14.5h0m2 21h0m1.5-7h0m2-16h0m0 3.5h0m1-3.5h0m0 5h0m0.5 17h0m0.5-16.5h0m1-3.5h0m0.5 2.5h0m1-6h0m0.5 28h0m0.5-30.5h0m0 5h0m0.5 2.5h0m4 24.5h0m0.5-26.5h0m0.5-8.5h0m0 6h0m1 27.5h0m0-23.5h0m1-7.5h0m2 8h0m0.5-8.5h0m2 17.5h0m0-14h0m0.5 7h0m1.5 13h0m0-2h0m0-24h0m1.5 10.5h0m1.5 4.5h0m1 6.5h0m1 11.5h0m1-18.5h0m0 1h0m3-3h0m1 6.5h0m0-12h0m0.5 3h0m0.5-3h0m1 6.5h0m0.5 5.5h0m0-15.5h0m1 2.5h0m0.5 11h0m0.5 12h0m1-22.5h0m1.5-6h0m1 5.5h0m0 20h0m3.5-25.5h0m0 1h0m1 11h0m3-2.5h0m1-6h0m1 2h0m0 5.5h0m1.5-12.5h0m2 19.5h0m3 9.5h0m1-26.5h0m0 3h0m1 10h0m1.5 2.5h0m1.5 6.5h0m2.5 12.5h0m1.5-29h0m0.5-9h0m1 31.5h0m1-29h0m0.5-0.5h0m0 37.5h0m1.5-30.5h0m4 1.5h0m0.5 12.5h0m1-4h0m1.5-13h0m0.5 19h0m1.5-16h0m0 6.5h0m0.5-3h0m0.5 0h0m0.5 6h0m1-13h0m1.5 17.5h0m1-4.5h0m1.5 3.5h0m2-4h0m0.5-13h0m0 11h0m0.5-15.5h0m1 14h0m1-0.5h0m0.5-9h0m1.5 13.5h0m0.5-17h0m1.5 18.5h0m3 6.5h0m0.5 0.5h0m0.5-15h0m2 12.5h0m0.5-16h0m1 8.5h0m4.5-2h0m0.5-2h0m1.5-6h0m0 1.5h0m1 25h0m3-16.5h0m2-15h0m0.5 4h0m0.5 17.5h0m1-10.5h0m2 16h0m4.5-29h0m1.5 1.5h0m2 18h0m1-19h0m1 19.5h0m0.5-7.5h0m2-9.5h0m0 2h0m7 13.5h0m7 3h0m1-2h0m0-7h0m1.5 7h0m3.5-10.5h0m41.5 4h0m7.5 8.5h0m-390 57h0m4.5 0.5h0m1.5-0.5h0m1.5-3.5h0m1 0.5h0m3.5-1h0m6.5 5h0m7-9h0m0 0.5h0m0.5 1.5h0m1.5 6.5h0m3-2.5h0m1-3h0m0-2.5h0m2.5-0.5h0m1.5 6h0m2-4.5h0m1 1.5h0m1.5-5.5h0m1.5-1h0m0.5 4.5h0m2.5-1h0m2-2.5h0m1.5 8.5h0m2.5-10.5h0m3 0h0m1 4.5h0m1.5-0.5h0m0 5.5h0m3.5-6.5h0m0.5 1.5h0m2.5 4.5h0m1-11.5h0m2.5 4h0m1 0.5h0m1-4h0m1.5 4h0m2 1.5h0m1-6h0m4.5 13h0m1-14h0m1 4h0m0.5 5h0m1-0.5h0m0.5-4h0m0.5 10h0m1-4h0m0-5.5h0m4.5 2h0m1 0h0m0 6.5h0m0.5-16h0m0.5 1.5h0m0-6.5h0m0.5-3.5h0m0.5 6h0m0.5 11h0m0.5-13h0m0 21.5h0m0.5-14h0m0.5 1h0m0 2.5h0m0.5-15.5h0m0.5 20.5h0m3.5-15.5h0m0.5 14.5h0m0.5-15.5h0m0 3.5h0m0-4.5h0m1 9.5h0m0.5 2.5h0m0.5-7h0m0-6h0m1 1h0m0.5 6h0m0 3.5h0m1-7.5h0m0-3h0m1.5-7.5h0m1.5 5h0m0 28.5h0m0.5-27.5h0m0.5 14h0m0.5-1h0m0.5-16h0m0-1.5h0m0.5 18.5h0m0.5 4.5h0m1-24.5h0m0 3h0m0.5 0h0m0 0h0m1 8h0m1-3.5h0m1.5 22.5h0m1.5-14.5h0m1-9.5h0m0.5 0h0m1-8h0m2-2.5h0m1 12.5h0m1.5 9h0m0-13h0m0.5 4h0m0.5-8.5h0m1.5 17h0m0-4.5h0m0-5h0m0 7.5h0m1 4.5h0m0-24.5h0m1 33h0m0-33h0m0 0h0m1 39.5h0m0.5-29.5h0m1-7h0m0 33h0m0.5-35h0m0 18.5h0m0.5-16.5h0m1.5-1h0m1-2h0m1 26h0m3.5-16.5h0m0.5 13h0m1.5 3h0m1.5-5.5h0m1-10.5h0m2.5-5.5h0m0.5-3h0m0 0.5h0m1 35.5h0m0-34.5h0m1 33.5h0m1.5-10.5h0m2.5-21h0m0-1h0m2 29h0m0.5-32.5h0m0.5 7.5h0m0.5 0.5h0m1 5h0m0.5 9h0m1.5-8.5h0m0.5-1h0m0 9.5h0m2-16.5h0m0.5 6.5h0m0.5 20h0m0.5-6.5h0m1-20.5h0m3-5h0m1 19h0m2.5-2.5h0m0.5-14h0m1 21h0m1-18.5h0m1-3.5h0m4.5 36.5h0m1.5-13h0m2 14h0m2-30h0m1.5 8.5h0m4-1h0m4-3.5h0m4 25h0m0.5-34.5h0m0.5 1.5h0m3 7.5h0m0.5-6h0m1.5 18.5h0m4-20h0m0.5 32h0m0.5-10.5h0m3-0.5h0m2.5 1h0m0-18.5h0m1.5-3h0m0.5 16.5h0m0 14.5h0m2-5h0m2.5 6h0m0-22h0m3.5 15h0m3.5-20.5h0m2 14h0m3.5-18h0m2.5 14h0m2.5-9h0m0 25.5h0m0.5-28h0m2.5 0.5h0m2 7h0m6 3h0m8-7.5h0m8-6.5h0m9.5 1h0m16 13.5h0m0-10.5h0m3.5 25.5h0m10-15.5h0m5.5-16.5h0m1 11h0m10.5 3h0m0.5-13h0m-422.5 53h0m1 0h0m3.5 0h0m19-0.5h0m0 0.5h0m2 1h0m3-5.5h0m0.5 5.5h0m0.5-2.5h0m1-2h0m0.5 5h0m1-6h0m7-1.5h0m0.5 4h0m0 1h0m5-3h0m1-1.5h0m3 2h0m1-2h0m3 4.5h0m1 0.5h0m0-0.5h0m3.5-3h0m1.5-0.5h0m1.5-3.5h0m6 1h0m1 0.5h0m0.5 3.5h0m1-5h0m0.5 8h0m3.5-11h0m0.5 8.5h0m3.5 3.5h0m1-14h0m2 4.5h0m1.5-3.5h0m6.5 5h0m1 5h0m1-5h0m1-5.5h0m1.5-4h0m2.5 2h0m2 2h0m1 0.5h0m1.5-2.5h0m1.5 9h0m0.5-5.5h0m1 11.5h0m1-14h0m0.5 7h0m0-6h0m1.5 7h0m0-7h0m0.5-3.5h0m0.5 8h0m3-2h0m0-2h0m1 2h0m0 11h0m1.5-14h0m0 1h0m1 10h0m0.5-4.5h0m4.5-1h0m0 4h0m1-11.5h0m0.5 3.5h0m0 12.5h0m1.5-6h0m0.5-7.5h0m1.5-3h0m2.5 7h0m0.5-5h0m6 1.5h0m0-4h0m1 11.5h0m1 0.5h0m0.5-2.5h0m0.5 2.5h0m3.5 4.5h0m0.5-13.5h0m1.5 10h0m1.5-5h0m4 9h0m2.5-12.5h0m3.5-5h0m2 4.5h0m0.5 4.5h0m0.5 8.5h0m0.5-2.5h0m1 1h0m2.5-14.5h0m0.5 8h0m6-9h0m3.5 10.5h0m4-8h0m6.5 6.5h0m9.5-1.5h0m6.5-6h0m4.5 7h0m1 2.5h0m6.5-2h0m7-7.5h0m6.5 1.5h0m0.5 7.5h0m1-7h0m2.5-0.5h0m2.5 9h0m5 2.5h0m6.5-9.5h0m7.5-2h0m1 9h0m9-1.5h0m7.5-1.5h0m0-4.5h0m7.5 13h0m2.5-12.5h0m7 1h0m14.5-5.5h0m37-1h0m2.5 3h0m20.5 1.5h0m1.5 2h0m1 5h0m3.5-6.5h0m142.5 2.5h0" stroke="#0000ff" stroke-width="2.1" stroke-linecap="round" fill="none"/><path d="M642 1420.5h0m-116 58.5h0m1.5-5h0m0.5-4.5h0m4 9.5h0m4-3.5h0m1.5-6.5h0m6.5 6h0m0.5-4h0m1 1h0m0-0.5h0m1.5 1h0m1 2h0m2 3.5h0m5.5-1h0m1-5.5h0m1.5 6.5h0m2.5-2h0m0.5 1.5h0m0.5-2.5h0m1 3h0m7-11h0m3 11h0m0-5.5h0m2.5 1h0m6.5-4.5h0m2 2.5h0m4.5 7.5h0m7.5-11h0m3.5-2h0m5 10.5h0m4.5-4.5h0m6.5 4.5h0m4.5-5.5h0m2 4.5h0m63.5 2.5h0m10.5 0.5h0m4-6.5h0m13 0h0m2 3.5h0m-193.5 24h0m4-15.5h0m4.5 13h0m1.5 6.5h0m0-5h0m0.5 12h0m0.5-23h0m1 29h0m1.5-20.5h0m0 1h0m2.5-4.5h0m0.5 21h0m1-15.5h0m0-4h0m0.5 18h0m0-6.5h0m0.5 9.5h0m0.5-28.5h0m0 25.5h0m1 5h0m1 1h0m1-30.5h0m2 10h0m1 3h0m0 19h0m0.5-38.5h0m0.5 27h0m0.5-15h0m0 8.5h0m0.5 9.5h0m0 1h0m0.5 1.5h0m1 6h0m0-28.5h0m1-11h0m0.5 1h0m2.5 18.5h0m1 1.5h0m0.5 7h0m1-13.5h0m0.5 19.5h0m0.5-32h0m0 11h0m0 8.5h0m1.5 10.5h0m1-3.5h0m0 6.5h0m0.5-28h0m0.5-1.5h0m1-5.5h0m0 36h0m1-5.5h0m1-4h0m1.5-8.5h0m0.5-17h0m0.5 33h0m0.5 1.5h0m0.5-12.5h0m1 11.5h0m0-28h0m1 18h0m1 5.5h0m0.5-18h0m2-11h0m0 18h0m0 12h0m0-20h0m0 26.5h0m2.5-6.5h0m0 3.5h0m0-33h0m0.5 30h0m1-3h0m0.5 9h0m0-32h0m0.5 9h0m0 2h0m2 19.5h0m0-15.5h0m4 10.5h0m4.5-17h0m1.5 15.5h0m0.5-6h0m0.5 8h0m0-2.5h0m1.5 6.5h0m0.5-6h0m1.5 0.5h0m1-6.5h0m0 7h0m1.5-18h0m0.5 15.5h0m1-12h0m0.5 8h0m3-19h0m6-4.5h0m0 25h0m1.5 6.5h0m0.5-8h0m0.5-5.5h0m0.5 4.5h0m1.5 13h0m0-26.5h0m2 15h0m3.5 7.5h0m2.5 1.5h0m0.5-25.5h0m1 12h0m2-15.5h0m8.5 1.5h0m1-3h0m4 20.5h0m1-3h0m1-17.5h0m4.5 27.5h0m2.5-17h0m7-2h0m3.5 15.5h0m2.5-16.5h0m1-2h0m1.5 6.5h0m3.5-14h0m4.5 9h0m1.5 9.5h0m2.5 8h0m9.5-19.5h0m12.5 0.5h0m1.5 14.5h0m2-20.5h0m0 3.5h0m5 8h0m1 3h0m16.5-7.5h0m11 8h0m-208 56h0m0-16h0m4.5-15h0m2.5 12.5h0m0.5-10.5h0m1.5 34h0m0-2.5h0m0.5-18.5h0m0.5 22h0m1-26.5h0m0-5h0m1 3.5h0m1 1.5h0m0.5-4h0m1 12.5h0m0-4.5h0m0.5 4.5h0m0 16h0m2-21.5h0m0.5 2h0m0-3h0m0.5-9.5h0m0.5 24.5h0m0-3h0m1.5 9h0m0.5-31h0m0 33.5h0m0-32h0m1.5 19h0m0-23.5h0m0.5 14.5h0m0 3.5h0m0 3h0m0.5 13h0m0-18h0m0 18h0m0.5-31h0m0.5 29h0m0.5-20h0m0.5-11.5h0m0.5 3h0m0 24h0m0.5-6.5h0m0 5.5h0m0-27h0m0.5 7h0m0-1.5h0m1 32.5h0m0-25h0m1.5 21.5h0m1-15h0m1-0.5h0m0.5 18.5h0m0.5-16.5h0m1.5 8h0m0-3.5h0m0.5-5h0m0.5 3.5h0m1.5-11h0m1 1h0m0.5-13.5h0m0.5-0.5h0m1.5 0.5h0m2 31.5h0m1-32h0m1.5-1.5h0m1 32.5h0m0-29h0m2.5 15h0m1 0h0m0 4h0m0.5 14.5h0m1.5-19h0m2-6h0m0.5 16h0m1 4h0m1 6.5h0m0.5-22.5h0m0.5-15.5h0m0 26.5h0m0-20h0m1 25h0m0-11.5h0m0 7h0m2.5-1.5h0m1 0h0m0 10h0m0.5 1h0m0-34.5h0m2 27h0m0-5h0m0.5-23h0m0.5 9.5h0m0 2h0m1.5 9.5h0m1 12.5h0m0-15h0m7.5 17.5h0m0.5-33.5h0m1 4h0m3.5 30.5h0m0.5-13.5h0m1-18.5h0m1 25.5h0m0-22.5h0m10.5 24.5h0m3-17h0m2 4.5h0m4.5 17.5h0m0.5-6.5h0m1.5-2.5h0m0.5-1.5h0m3.5 3h0m0-16h0m0.5-3.5h0m2-10h0m1 31.5h0m1-13h0m4 12h0m4 6.5h0m0.5-30.5h0m11.5 28h0m1-7.5h0m13-2.5h0m3-9h0m4.5 13h0m2-8h0m19.5 2h0m11.5 3.5h0m5-11h0m14-12.5h0m21.5 3.5h0m-231 40h0m11-7.5h0m2 5h0m6 1.5h0m1.5 10h0m1-6.5h0m1.5 0.5h0m0.5-3.5h0m3 21.5h0m1 0.5h0m0-8.5h0m0-15h0m0 9h0m1.5 0h0m0.5 1.5h0m0.5-7h0m1-7h0m0.5-2h0m0.5 7h0m0.5 13h0m0-19.5h0m1 18.5h0m0.5-0.5h0m0.5-18h0m0 6.5h0m0 5.5h0m0.5 3.5h0m1.5-15.5h0m0 12h0m1.5-8h0m2.5-3.5h0m1 6.5h0m3-1.5h0m1.5 14h0m2.5-13h0m4-3.5h0m1.5 17.5h0m1-13h0m1-4h0m2 7h0m1 0.5h0m2 10h0m0.5-19h0m0-3h0m1.5 12h0m3 8h0m4.5 2.5h0m1-17.5h0m2.5 13h0m0.5-13.5h0m2.5 7.5h0m3.5 7.5h0m1.5-8h0m8 8h0m1.5-12h0m7-3.5h0m2-3h0m0.5 17h0m2.5-8.5h0m1.5 19h0m0.5-6h0m2.5-12.5h0m0.5-10h0m6.5 7.5h0m11.5 3h0m4.5-9.5h0m0-1h0m4 9h0m0 6h0m8.5-11h0m3 2.5h0m1 16h0m8-18h0m13-3.5h0m6.5 11h0m4.5 4.5h0m3-8h0m16-0.5h0m3.5 3h0m10-4.5h0m-182 51.5h0m1 1.5h0m18.5 4h0m18-6.5h0m13.5 22h0m-83 19.5h0m6.5 0.5h0m8.5 19h0m2.5-2.5h0m18.5-34.5h0m21 28h0m28.5-22h0m8-4.5h0m1.5 22.5h0m-192 40h0m25-11h0m3.5 5h0m8 3.5h0m27.5-12.5h0m22.5 20h0m8.5-29h0m19.5 34.5h0m10-35.5h0m78.5 11h0m43.5 13h0m-341.5 43.5h0m3.5-0.5h0m3 0.5h0m4.5 1.5h0m9.5-3h0m13.5-5h0m2 5.5h0m16-21.5h0m13.5 29h0m19.5-6h0m71 10.5h0m5-20h0m3 9h0m70 3.5h0m34 3.5h0m-422.5 22h0m33-2h0m53.5-11.5h0m1 10h0m29.5-2.5h0m6.5-2.5h0m2 7.5h0m68-12h0" stroke="#ff0000" stroke-width="2.1" stroke-linecap="round" fill="none"/><path d="M526 1439h0m3.5-8h0m5 4.5h0m0.5-13.5h0m0.5 1.5h0m0.5 2h0m2-5h0m4 7h0m0-2h0m0 7h0m3-11.5h0m2.5 13.5h0m0-4.5h0m4-7.5h0m0.5 14h0m0.5-18h0m1 11h0m0 3h0m0.5-15h0m0.5 6.5h0m6.5 4.5h0m1.5-4.5h0m1 3h0m1-4.5h0m0.5 2.5h0m4.5-6.5h0m0 13h0m0.5-2.5h0m1.5 10.5h0m1.5-10.5h0m1-9h0m0.5 9h0m2.5 1h0m5.5-6h0m0.5 6.5h0m2.5-8h0m1-1h0m0.5 16h0m28.5-18h0m5.5 9.5h0m3.5 6h0m12.5-5.5h0m3.5 7.5h0m8-6.5h0m18-7.5h0m0.5 0h0m22.5 12h0m-168 42.5h0m2.5-22h0m0 13.5h0m3-25h0m3-2h0m1 13.5h0m0.5 19h0m0.5-24.5h0m0 27h0m1-10.5h0m1 10h0m1.5-11.5h0m0 8h0m0-8h0m0.5-16h0m0 11h0m1.5 5h0m0.5-6.5h0m0 17.5h0m0.5-28.5h0m0.5 10.5h0m0 5.5h0m1.5 10.5h0m0.5-31h0m1 11h0m1 16.5h0m0.5-26.5h0m0 19h0m0.5 9h0m0.5-6h0m1 3h0m0.5-10.5h0m1.5-16.5h0m0.5 29h0m0.5-7h0m0 13h0m1.5-7h0m0.5-6h0m3.5-3.5h0m1.5 5.5h0m2.5 7.5h0m1-21h0m1-10h0m0.5 29h0m0-19h0m1 14.5h0m0.5-7h0m0.5-10.5h0m1.5 7h0m1.5 10h0m1-20.5h0m0.5 16.5h0m2-22.5h0m0.5 9h0m1 22.5h0m2-5.5h0m0 8.5h0m0.5-13h0m3 2h0m1.5-14h0m0.5 25.5h0m2-19h0m3 7h0m3.5-4h0m0.5 7h0m3-9.5h0m0.5 3.5h0m3.5 10h0m3.5-1.5h0m3.5-12h0m0.5 6.5h0m0.5-13h0m5 10.5h0m3.5 14h0m2-4.5h0m1.5 7h0m0-14h0m0.5 12h0m4.5-1.5h0m8.5 2.5h0m1-8h0m0.5-15.5h0m1.5-11h0m3 4.5h0m2 14h0m1.5 16.5h0m3-20h0m18 10h0m23.5 10h0m14-1.5h0m22.5-3h0m1-15.5h0m1.5 12.5h0m-209.5 34h0m6-8h0m1.5 16.5h0m3.5-25.5h0m0.5 22.5h0m0.5-4.5h0m0.5 10.5h0m1 0h0m1.5-20.5h0m0 13h0m0 5.5h0m1-2h0m0.5-25h0m1 20.5h0m0 3.5h0m1-2.5h0m0.5 5h0m0-1h0m0 1h0m0.5-16.5h0m0.5 18h0m1-9.5h0m0-20h0m0 22h0m0 1.5h0m0.5-26.5h0m0 33.5h0m0-13h0m0.5 12h0m0-33h0m0 28.5h0m1 2.5h0m0.5 1h0m0.5 0h0m0 2.5h0m0-5.5h0m1.5 5h0m0.5-0.5h0m0.5-3.5h0m0.5-4.5h0m0.5-21.5h0m0.5-3h0m0 21.5h0m0.5 5.5h0m0 4h0m0.5-2h0m0-14.5h0m1-14h0m0.5 4.5h0m0 15.5h0m1-14.5h0m0.5 21.5h0m0 2h0m0-1.5h0m0-17h0m0.5 18.5h0m0-12.5h0m0 16h0m1 0h0m0-33h0m0 33h0m0-18.5h0m0.5-16h0m0.5 34h0m0-0.5h0m0.5-2.5h0m1-26.5h0m0 22.5h0m1.5 4h0m1-10h0m0 13h0m0-19h0m1 2.5h0m0.5 10.5h0m0.5-3h0m0-17h0m0.5 8.5h0m0.5-10h0m0.5 21h0m1 6h0m0.5-8.5h0m1 3.5h0m0 6h0m0-8h0m0-12h0m1-3h0m0.5 23h0m0-15h0m1-8.5h0m0.5 9.5h0m0.5 9h0m0.5-1h0m2 4h0m0 2h0m0-1h0m0.5-26h0m1 13.5h0m0 5.5h0m0.5-4h0m0 12h0m1-16.5h0m1 1h0m0 11h0m0.5 2.5h0m0-26h0m0.5 25h0m0.5 2.5h0m0-3h0m0.5-1h0m0-7h0m0.5 8h0m1.5-26.5h0m0 22.5h0m0 7.5h0m0-17h0m2 4h0m0-12.5h0m1 19h0m1.5-22h0m0 29h0m0-23h0m1 12h0m0.5 10.5h0m0-1h0m2-3h0m0.5-1.5h0m0.5-27.5h0m0.5 28.5h0m0 2h0m0.5-16h0m0.5 0.5h0m0.5 18h0m1-12.5h0m0.5-10h0m0 16h0m0-5h0m2.5 6h0m0.5 5h0m0-2.5h0m1-14h0m0-12h0m0.5 28.5h0m0.5 0.5h0m0.5 0.5h0m0-0.5h0m0.5 0h0m0-15.5h0m0.5-8.5h0m1 24h0m2-23.5h0m1 19.5h0m0.5 4h0m1-4h0m2.5 4.5h0m2-25.5h0m0.5 4.5h0m1 9.5h0m1.5 11h0m0.5-2h0m1-21.5h0m2.5 19h0m0-14h0m0.5-3h0m2.5 7.5h0m1 10.5h0m7.5-21.5h0m0 13h0m5.5 4h0m0-3h0m3-8h0m3 9h0m2.5-14.5h0m1.5 2h0m2.5 18h0m1 4.5h0m1.5-4h0m1 4h0m7.5-16.5h0m2.5 6.5h0m1.5-7h0m0 8.5h0m3-14h0m3 22h0m3 0.5h0m5.5-24.5h0m13 20.5h0m6.5-3.5h0m4-17.5h0m35.5 8.5h0m3.5 5.5h0m1.5 9h0m3.5-5h0m-174 68.5h0m88.5 49.5h0m26 5h0m62.5 1h0m7.5-30.5h0" stroke="#800080" stroke-width="2.1" stroke-linecap="round" fill="none"/><path d="M106 1755.1C120 1741 162.2 1697.4 190.3 1670.3C218.4 1643.3 246.5 1618.1 274.6 1592.8C302.7 1567.4 335.5 1538.6 358.9 1518.2C382.3 1497.9 397.3 1484.4 415.1 1470.8C432.9 1457.3 455.8 1441.4 465.7 1436.8C475.5 1432.2 472.2 1439.7 474.1 1443.2C476 1446.7 476.9 1452 476.9 1457.7C476.9 1463.4 476 1472.3 474.1 1477.4C472.2 1482.5 470.8 1483.8 465.7 1488.2C460.5 1492.7 451.6 1498.6 443.2 1503.9C434.7 1509.2 422.1 1517.4 415.1 1519.9C408.1 1522.5 405.7 1517.5 401 1519.2C396.3 1520.9 394 1523.7 387 1530.1C380 1536.5 368.2 1548.3 358.9 1557.7C349.5 1567 340.1 1576.6 330.8 1586.1C321.4 1595.6 312.1 1605.1 302.7 1614.6C293.3 1624.1 284 1633.7 274.6 1643.2C265.2 1652.8 255.9 1662.4 246.5 1672C237.1 1681.6 227.8 1691.3 218.4 1701C209 1710.7 199.7 1720.4 190.3 1730.5C180.9 1740.5 169.2 1753.2 162.2 1761.3C155.2 1769.4 150.5 1776.1 148.1 1779.1" stroke="#800080" stroke-width="3.0" stroke-dasharray="10 4.7" fill="none"/><path d="M114.4 1779.1C120 1772.5 135.5 1754 148.1 1739.7C160.8 1725.4 173.9 1710.7 190.3 1693.4C206.7 1676.2 227.8 1655.1 246.5 1636.1C265.2 1617 286.3 1595.3 302.7 1579.2C319.1 1563.2 333.1 1549.9 344.8 1539.7C356.5 1529.4 366.4 1520.7 372.9 1517.6C379.5 1514.6 382.8 1518.7 384.2 1521.2C385.6 1523.7 385.6 1526.6 381.4 1532.7C377.1 1538.7 367.3 1548.8 358.9 1557.7C350.5 1566.6 342.5 1574.7 330.8 1586.1C319.1 1597.5 302.7 1612.6 288.6 1626C274.6 1639.3 260.5 1652.1 246.5 1666C232.4 1679.9 218.4 1694.7 204.3 1709.5C190.3 1724.4 173 1743.5 162.2 1755.1C151.4 1766.7 143.5 1775.1 139.7 1779.1" stroke="#800080" stroke-width="3.0" stroke-dasharray="10 4.7" fill="none"/><path d="M106 1752C120 1737.9 162.2 1694 190.3 1667.2C218.4 1640.4 246.5 1616.4 274.6 1591.3C302.7 1566.2 336.4 1535.9 358.9 1516.8C381.4 1497.6 397.7 1484.1 409.5 1476.3C421.2 1468.5 421.2 1470.2 429.1 1470.2C437.1 1470.1 447.9 1471.9 457.2 1476.1C466.6 1480.3 477.4 1490 485.3 1495.2C493.3 1500.5 501.7 1502.9 505 1507.8C508.3 1512.7 508.3 1518.4 505 1524.8C501.7 1531.2 493.3 1540.2 485.3 1546.4C477.4 1552.7 466.6 1557.2 457.2 1562C447.9 1566.8 438.5 1570.8 429.1 1575.3C419.8 1579.7 410.4 1585.7 401 1588.7C391.7 1591.7 382.3 1590.3 372.9 1593.3C363.6 1596.4 354.2 1603.4 344.8 1607C335.5 1610.6 326.1 1611.9 316.7 1615C307.4 1618.2 298 1620.8 288.6 1626C279.3 1631.1 269.9 1638.1 260.5 1645.7C251.2 1653.2 241.8 1661.8 232.4 1671.4C223.1 1681 213.7 1693.1 204.3 1703.4C195 1713.8 185.6 1723.4 176.2 1733.5C166.9 1743.7 155.2 1756.8 148.1 1764.4C141.1 1772 136.4 1776.6 134.1 1779.1" stroke="#ff0000" stroke-width="3.0" stroke-dasharray="10 4.7" fill="none"/><path d="M111.6 1779.1C120 1768.9 144.4 1738.2 162.2 1718.1C180 1698 199.7 1678 218.4 1658.6C237.1 1639.2 255.9 1619.6 274.6 1601.7C293.3 1583.7 314.4 1564.4 330.8 1550.9C347.2 1537.4 364 1526 372.9 1520.5C381.8 1515.1 382.5 1516.8 384.2 1518.3C385.8 1519.9 387 1523.8 382.8 1529.8C378.5 1535.9 369.9 1544 358.9 1554.7C347.9 1565.5 330.8 1580.7 316.7 1594.5C302.7 1608.2 288.6 1623 274.6 1637.3C260.5 1651.6 246.5 1665.9 232.4 1680.4C218.4 1694.9 202 1710.8 190.3 1724.3C178.6 1737.8 169.2 1752.2 162.2 1761.3C155.2 1770.4 150.5 1776.1 148.1 1779.1" stroke="#ff0000" stroke-width="3.0" stroke-dasharray="10 4.7" fill="none"/><path d="M106 1764.4C120 1750.8 162.2 1709.3 190.3 1682.6C218.4 1656 251.2 1626.6 274.6 1604.7C298 1582.7 316.7 1563.6 330.8 1550.9C344.8 1538.2 349.5 1534.1 358.9 1528.5C368.2 1522.8 377.6 1518.7 387 1517C396.3 1515.3 405.7 1516.8 415.1 1518.5C424.4 1520.1 433.8 1523.8 443.2 1526.9C452.5 1530 461.9 1533.3 471.3 1537.2C480.6 1541 492.3 1545.4 499.4 1550C506.4 1554.6 511.5 1560 513.4 1564.8C515.3 1569.7 513.9 1574.3 510.6 1578.9C507.3 1583.4 500.3 1587.4 493.7 1592.3C487.2 1597.2 479.7 1604.1 471.3 1608.5C462.8 1612.9 452.5 1614.3 443.2 1618.8C433.8 1623.3 424.4 1630.8 415.1 1635.4C405.7 1639.9 396.3 1642.6 387 1646.2C377.6 1649.8 368.2 1653.3 358.9 1657C349.5 1660.7 340.1 1664 330.8 1668.2C321.4 1672.5 312.1 1677.7 302.7 1682.4C293.3 1687.2 284 1691.9 274.6 1696.6C265.2 1701.4 255.9 1706.1 246.5 1710.9C237.1 1715.7 227.8 1719.4 218.4 1725.2C209 1731.1 199.7 1738.3 190.3 1745.9C180.9 1753.4 169.2 1765 162.2 1770.5C155.2 1776.1 150.5 1777.7 148.1 1779.1" stroke="#ffa500" stroke-width="3.0" stroke-dasharray="10 4.7" fill="none"/><path d="M260.5 1642.7C265.2 1634 288.6 1601.8 302.7 1585.1C316.7 1568.4 333.1 1550.2 344.8 1542.6C356.5 1535 364.5 1538.1 372.9 1539.5C381.4 1540.8 391.2 1547 395.4 1550.8C399.6 1554.6 400.6 1558.3 398.2 1562.5C395.9 1566.8 390.3 1572.3 381.4 1576.3C372.5 1580.3 357.9 1580.1 344.8 1586.5C331.7 1592.9 314.4 1606.1 302.7 1614.6C291 1623.1 281.6 1632.6 274.6 1637.3C267.6 1642 255.9 1651.4 260.5 1642.7Z" stroke="#ffa500" stroke-width="3.0" stroke-dasharray="10 4.7" fill="none"/><path d="M106 1755.1C115.4 1744.8 143.5 1713.5 162.2 1693.4C180.9 1673.4 199.7 1652.5 218.4 1634.8C237.1 1617 258.2 1598.1 274.6 1587C291 1575.9 302.7 1571.9 316.7 1568C330.8 1564.1 347.2 1563.5 358.9 1563.5C370.6 1563.5 377.6 1566.4 387 1567.8C396.3 1569.2 405.7 1570.6 415.1 1571.9C424.4 1573.2 434.7 1574 443.2 1575.7C451.6 1577.5 457.2 1578.8 465.7 1582.5C474.1 1586.2 486.3 1593.9 493.7 1598C501.2 1602.1 507.3 1603.2 510.6 1607.1C513.9 1611 515.3 1616.2 513.4 1621.4C511.5 1626.5 505 1632.9 499.4 1637.9C493.7 1642.9 486.7 1647 479.7 1651.5C472.7 1656.1 465.7 1661 457.2 1665.1C448.8 1669.2 440.8 1671.9 429.1 1676C417.4 1680.1 398.7 1685.6 387 1689.7C375.3 1693.8 368.2 1697.1 358.9 1700.8C349.5 1704.6 340.1 1708.9 330.8 1712.2C321.4 1715.6 312.1 1717.9 302.7 1720.8C293.3 1723.6 284 1726.4 274.6 1729.3C265.2 1732.1 254.9 1734.5 246.5 1737.8C238.1 1741.2 231 1748.4 224 1749.5C217 1750.7 210 1745.3 204.3 1744.7C198.7 1744 197.3 1744.1 190.3 1745.9C183.3 1747.6 170.6 1751.5 162.2 1755.1C153.8 1758.7 146.3 1763.5 139.7 1767.5C133.2 1771.5 125.7 1777.2 122.9 1779.1" stroke="#0000ff" stroke-width="3.0" stroke-dasharray="10 4.7" fill="none"/><path d="M252.1 1657.3C252.1 1652.6 266.2 1634.5 274.6 1625.4C283 1616.4 293.3 1609.1 302.7 1602.8C312.1 1596.5 321.4 1590.2 330.8 1587.6C340.1 1584.9 349.5 1586.3 358.9 1586.9C368.2 1587.5 378.5 1588.8 387 1591C395.4 1593.3 404.8 1597 409.5 1600.5C414.1 1604.1 415.1 1607.9 415.1 1612.3C415.1 1616.6 414.1 1622.4 409.5 1626.6C404.8 1630.8 395.4 1634.8 387 1637.5C378.5 1640.1 368.2 1640.2 358.9 1642.4C349.5 1644.6 340.1 1648.9 330.8 1650.6C321.4 1652.4 312.1 1652.4 302.7 1652.9C293.3 1653.4 283 1652.9 274.6 1653.6C266.2 1654.3 252.1 1662 252.1 1657.3Z" stroke="#0000ff" stroke-width="3.0" stroke-dasharray="10 4.7" fill="none"/><path d="M328 1609.5C331.3 1608.4 339.7 1608.3 344.8 1608.5C350 1608.6 356.1 1609 358.9 1610.3C361.7 1611.5 363.1 1614.3 361.7 1616.2C360.3 1618.1 355.6 1620.9 350.5 1621.8C345.3 1622.6 335 1622.4 330.8 1621.3C326.6 1620.2 325.6 1617.3 325.2 1615.3C324.7 1613.3 324.7 1610.6 328 1609.5Z" stroke="#0000ff" stroke-width="3.0" stroke-dasharray="10 4.7" fill="none"/></g><rect x="116.2" y="1300" width="184.2" height="113.1" rx="3.5" fill="#fff" fill-opacity="0.8" stroke="#cccccc" stroke-width="1.6"/><circle cx="139" cy="1315.6" r="8.2" fill="#800080"/><circle cx="139" cy="1341.1" r="8.2" fill="#ff0000"/><circle cx="139" cy="1366.6" r="8.2" fill="#ff8000"/><circle cx="139" cy="1392.1" r="8.2" fill="#0000ff"/><g font-family="'DejaVu Sans', 'Liberation Sans', sans-serif" font-size="18.4" fill="#000"><text x="174.5" y="1320.9" font-style="italic">R</text><text x="187.5" y="1324.9" font-style="italic" font-size="13">e</text><text x="199.8" y="1320.9">=</text><text x="217.4" y="1320.9">0.01</text><text x="174.5" y="1346.4" font-style="italic">R</text><text x="187.5" y="1350.4" font-style="italic" font-size="13">e</text><text x="199.8" y="1346.4">=</text><text x="217.4" y="1346.4">0.001</text><text x="174.5" y="1371.9" font-style="italic">R</text><text x="187.5" y="1375.9" font-style="italic" font-size="13">e</text><text x="199.8" y="1371.9">=</text><text x="217.4" y="1371.9">0.0001</text><text x="174.5" y="1397.4" font-style="italic">R</text><text x="187.5" y="1401.4" font-style="italic" font-size="13">e</text><text x="199.8" y="1397.4">=</text><text x="217.4" y="1397.4">0.00001</text></g><rect x="106.5" y="1290.4" width="655.2" height="487.8" fill="none" stroke="#000" stroke-width="2"/><path d="M106.5 1778.2v6.5M215.7 1778.2v6.5M324.9 1778.2v6.5M434.1 1778.2v6.5M543.3 1778.2v6.5M652.5 1778.2v6.5M761.7 1778.2v6.5M100 1778.2h6.5M100 1680.6h6.5M100 1583.1h6.5M100 1485.5h6.5M100 1388h6.5M100 1290.4h6.5" stroke="#000" stroke-width="1.8"/><g font-family="'Liberation Serif', 'Times New Roman', serif" font-size="19.4" fill="#000"><text x="106.5" y="1804.7" text-anchor="middle">−2</text><text x="215.7" y="1804.7" text-anchor="middle">−1</text><text x="324.9" y="1804.7" text-anchor="middle">0</text><text x="434.1" y="1804.7" text-anchor="middle">1</text><text x="543.3" y="1804.7" text-anchor="middle">2</text><text x="652.5" y="1804.7" text-anchor="middle">3</text><text x="761.7" y="1804.7" text-anchor="middle">4</text><text x="93.5" y="1784.8" text-anchor="end">−2</text><text x="93.5" y="1687.2" text-anchor="end">−1</text><text x="93.5" y="1589.7" text-anchor="end">0</text><text x="93.5" y="1492.1" text-anchor="end">1</text><text x="93.5" y="1394.6" text-anchor="end">2</text><text x="93.5" y="1297" text-anchor="end">3</text></g><text x="1.2" y="1804.5" font-family="'Liberation Serif', 'Times New Roman', serif" font-size="40.5" letter-spacing="1.3" fill="#000">(e)</text><text x="435.4" y="1831" font-family="'DejaVu Sans', 'Liberation Sans', sans-serif" font-size="19" text-anchor="middle"><tspan font-style="italic">log</tspan><tspan font-size="13.3" dy="4">10</tspan><tspan dy="-4">(1/|</tspan><tspan font-style="italic">J</tspan>|)</text><text transform="translate(60.3,1534.3) rotate(-90)" font-family="'DejaVu Sans', 'Liberation Sans', sans-serif" font-size="19"><tspan x="-43.3" y="0" font-style="italic">log</tspan><tspan font-size="13.3" dy="4">10</tspan><tspan dy="-4">(</tspan><tspan font-style="italic">n&#770;</tspan><tspan font-style="italic" font-size="13.3" dy="4.5">d</tspan><tspan font-size="13.3" dx="-8.2" dy="-12.5">R</tspan><tspan font-size="9.5" dy="-2">e</tspan><tspan dy="10" dx="1">)</tspan></text><path d="M1075.2 1290.4V1778.2M1184.4 1290.4V1778.2M1293.6 1290.4V1778.2M1402.8 1290.4V1778.2M1512 1290.4V1778.2M966 1680.6H1621.2M966 1583.1H1621.2M966 1485.5H1621.2M966 1388H1621.2" stroke="#b0b0b0" stroke-width="1.6" fill="none"/><clipPath id="clip-f"><rect x="966" y="1290.4" width="655.2" height="487.8"/></clipPath><g clip-path="url(#clip-f)"><g filter="url(#soft)"><path d="M972.2 1801.8C978.4 1803.3 988.4 1788.4 997.1 1780.7C1005.9 1773 1035.4 1746.1 1047 1735.9C1058.6 1725.7 1084.9 1702.8 1096.5 1693C1108.1 1683.1 1134.7 1661.4 1146.4 1651.3C1158.1 1641.2 1186.7 1615 1196.4 1606.4C1206.1 1597.7 1229 1584.8 1229.4 1577.6C1229.9 1570.4 1207.8 1544.9 1200.6 1544.4C1193.3 1543.9 1176.9 1564.9 1167.2 1573.4C1157.5 1582 1129.2 1608 1117.6 1618.1C1106 1628.1 1079.6 1649.5 1067.9 1659.4C1056.3 1669.3 1029.5 1692.6 1017.8 1702.9C1006.2 1713.2 976.7 1740.1 968.1 1747.7C959.4 1755.3 943.3 1761.9 943.8 1768.2C944.3 1774.5 966 1800.3 972.2 1801.8Z" fill="#c6def0"/><path d="M960 1762C961.4 1756.6 983.5 1742 990 1736C996.5 1730 1010.2 1717.2 1016 1711C1021.8 1704.8 1034.2 1689 1040 1683C1045.8 1677 1060 1665.5 1066 1660C1072 1654.5 1085 1641.7 1091 1636C1097 1630.3 1111 1616.2 1117 1611C1123 1605.8 1136 1595.4 1142 1591C1148 1586.6 1162.8 1576.3 1168 1573C1173.2 1569.7 1182.7 1564.8 1187 1563C1191.3 1561.2 1199.6 1558 1205 1557.7C1210.4 1557.4 1226.5 1558.2 1233 1560.5C1239.5 1562.8 1254.5 1574 1261 1577.3C1267.5 1580.6 1284.7 1586 1289 1588.6C1293.3 1591.2 1297.5 1596.8 1297.5 1599.8C1297.5 1602.8 1293.3 1610.6 1289 1613.9C1284.7 1617.2 1267 1625.1 1261 1627.9C1255 1630.7 1244.4 1635.2 1238 1638C1231.6 1640.8 1214.2 1649 1206 1652C1197.8 1655 1177 1661.3 1168 1664C1159 1666.7 1138 1671.6 1129 1675C1120 1678.4 1099 1688.6 1091 1693C1083 1697.4 1066.9 1708.1 1060 1713C1053.1 1717.9 1039 1729.3 1032 1735C1025 1740.7 1006.3 1756.5 1000 1762C993.7 1767.5 982.7 1782 978 1782C973.3 1782 958.6 1767.4 960 1762Z" fill="#c2daef"/><path d="M966 1754.4C972.6 1745.3 1005.8 1716.4 1022.2 1701C1038.6 1685.6 1086.8 1638.7 1106.5 1622.3C1126.2 1605.9 1174.4 1569.3 1190.8 1560.5C1207.2 1551.6 1233.9 1544.5 1247 1546.4C1260.1 1548.4 1292.4 1571.1 1303.2 1577.3C1314 1583.6 1336.4 1595.9 1339.7 1599.8C1343 1603.8 1337.2 1607.1 1331.3 1611.1C1325.4 1615 1299 1629 1289.1 1633.5C1279.3 1638.1 1258.5 1646.5 1247 1650.4C1235.5 1654.3 1203.9 1663 1190.8 1667.3C1177.7 1671.5 1147.7 1682 1134.6 1686.9C1121.5 1691.8 1089.9 1702.9 1078.4 1709.4C1066.9 1716 1046.1 1735 1036.2 1743.1C1026.4 1751.3 1002.3 1774.9 994.1 1779.1C985.9 1783.3 969.3 1782 966 1779.1C962.7 1776.2 959.4 1763.5 966 1754.4Z" fill="#c2dcef"/><path d="M1123.3 1633.5C1123.3 1630.6 1151.5 1605.4 1162.7 1594.2C1173.8 1583.1 1205.8 1550.5 1218.9 1538C1232 1525.6 1265.2 1493.8 1275.1 1487.4C1284.9 1481 1297.8 1479.6 1303.2 1483.2C1308.6 1486.8 1319.6 1509.7 1321.4 1518.3C1323.2 1527 1322.1 1550.5 1318.6 1557.7C1315.2 1564.9 1300.3 1576.6 1291.9 1580.2C1283.6 1583.8 1257.1 1586 1247 1588.6C1236.8 1591.2 1214.7 1599 1204.8 1602.6C1195 1606.2 1172.2 1615.9 1162.7 1619.5C1153.2 1623.1 1123.3 1636.5 1123.3 1633.5Z" fill="#f4bc9e"/><path d="M1261 1493.1C1262.7 1488.5 1283.6 1469.5 1289.1 1465C1294.7 1460.4 1305.5 1453.7 1308.8 1453.7C1312.1 1453.7 1318.5 1460.4 1317.2 1465C1315.9 1469.5 1302.5 1488.5 1297.6 1493.1C1292.6 1497.6 1279.3 1504.3 1275.1 1504.3C1270.8 1504.3 1259.4 1497.6 1261 1493.1Z" fill="#d4c4e4"/><path d="M965.7 1794.2C970.4 1793.9 981.8 1780.9 990.5 1773.2C999.2 1765.5 1028.7 1738.6 1040.3 1728.4C1051.9 1718.1 1078.4 1695.2 1090 1685.3C1101.6 1675.5 1128.2 1653.9 1139.9 1643.8C1151.5 1633.7 1180.1 1607.5 1189.8 1598.9C1199.5 1590.3 1215.6 1576.5 1223 1570C1230.3 1563.4 1246.9 1548.6 1253.1 1542.8C1259.4 1537.1 1275.5 1525.3 1276.3 1520.7C1277.1 1516.1 1264.3 1502.8 1259.7 1503.3C1255.1 1503.9 1243 1519.5 1236.9 1525.2C1230.7 1530.9 1214.4 1545.5 1207 1552C1199.7 1558.5 1183.5 1572.3 1173.8 1580.9C1164.2 1589.5 1135.7 1615.6 1124.1 1625.6C1112.5 1635.7 1086.1 1657.2 1074.4 1667.1C1062.8 1676.9 1036.1 1700.1 1024.5 1710.4C1012.8 1720.7 983.3 1747.6 974.7 1755.2C966 1762.8 951.3 1771.3 950.3 1775.8C949.2 1780.4 961 1794.5 965.7 1794.2Z" fill="#ee9c78"/><path d="M962.2 1790C966.1 1788.7 978.2 1776.7 986.9 1769.1C995.6 1761.4 1025.1 1734.5 1036.7 1724.3C1048.3 1714 1074.8 1691 1086.4 1681.2C1098 1671.3 1124.6 1649.7 1136.3 1639.6C1147.9 1629.5 1176.4 1603.4 1186.1 1594.8C1195.8 1586.2 1211.9 1572.4 1219.3 1565.9C1226.7 1559.3 1243.9 1543.8 1249.4 1538.8C1254.9 1533.8 1265.5 1525.7 1266.5 1522.7C1267.4 1519.8 1260.6 1512.5 1257.5 1513.3C1254.5 1514 1246.1 1524.2 1240.6 1529.2C1235.1 1534.2 1218.1 1549.6 1210.7 1556.1C1203.3 1562.6 1187.2 1576.4 1177.5 1585C1167.8 1593.6 1139.4 1619.7 1127.7 1629.8C1116.1 1639.8 1089.6 1661.4 1078 1671.2C1066.4 1681.1 1039.7 1704.3 1028.1 1714.5C1016.5 1724.8 987 1751.7 978.3 1759.3C969.6 1767 955.7 1776.5 953.8 1780C951.9 1783.6 958.3 1791.2 962.2 1790Z" fill="#8a2c78"/></g><path d="M966 1754.4C972.6 1745.3 1005.8 1716.4 1022.2 1701C1038.6 1685.6 1086.8 1638.7 1106.5 1622.3C1126.2 1605.9 1174.4 1569.3 1190.8 1560.5C1207.2 1551.6 1233.9 1544.5 1247 1546.4C1260.1 1548.4 1292.4 1571.1 1303.2 1577.3C1314 1583.6 1336.4 1595.9 1339.7 1599.8C1343 1603.8 1337.2 1607.1 1331.3 1611.1C1325.4 1615 1299 1629 1289.1 1633.5C1279.3 1638.1 1258.5 1646.5 1247 1650.4C1235.5 1654.3 1203.9 1663 1190.8 1667.3C1177.7 1671.5 1147.7 1682 1134.6 1686.9C1121.5 1691.8 1089.9 1702.9 1078.4 1709.4C1066.9 1716 1046.1 1735 1036.2 1743.1C1026.4 1751.3 1002.3 1774.9 994.1 1779.1C985.9 1783.3 969.3 1782 966 1779.1C962.7 1776.2 959.4 1763.5 966 1754.4Z" fill="url(#tb)"/><path d="M1123.3 1633.5C1123.3 1630.6 1151.5 1605.4 1162.7 1594.2C1173.8 1583.1 1205.8 1550.5 1218.9 1538C1232 1525.6 1265.2 1493.8 1275.1 1487.4C1284.9 1481 1297.8 1479.6 1303.2 1483.2C1308.6 1486.8 1319.6 1509.7 1321.4 1518.3C1323.2 1527 1322.1 1550.5 1318.6 1557.7C1315.2 1564.9 1300.3 1576.6 1291.9 1580.2C1283.6 1583.8 1257.1 1586 1247 1588.6C1236.8 1591.2 1214.7 1599 1204.8 1602.6C1195 1606.2 1172.2 1615.9 1162.7 1619.5C1153.2 1623.1 1123.3 1636.5 1123.3 1633.5Z" fill="url(#tr)"/><path d="M1497.5 1386.5h0m-145.5 52.5h0m9-8.5h0m0.5 3h0m0.5-8.5h0m0 9h0m2-6.5h0m0 5h0m1-8h0m2-1.5h0m3.5 9.5h0m0 5h0m0.5-3.5h0m1-15.5h0m0.5-2.5h0m0 17h0m1.5-18.5h0m0.5 5.5h0m0 9h0m0-10h0m1 6.5h0m0.5-12.5h0m0 11h0m1-1.5h0m0 9h0m0.5-19.5h0m0.5 21.5h0m2-9h0m0-9.5h0m0.5-3h0m1.5 6.5h0m0 11h0m1-19.5h0m3 21.5h0m0.5-6.5h0m1.5 3.5h0m0-21h0m0.5 7.5h0m1.5-6.5h0m1 3.5h0m0.5 11h0m2-15.5h0m1 28.5h0m0.5-24.5h0m0.5 14h0m1.5-3.5h0m1-9h0m0 0.5h0m0.5 10h0m0.5 2h0m1.5-8.5h0m1 15h0m1 3.5h0m0.5-16.5h0m0.5 9.5h0m0.5-21.5h0m1 2.5h0m0-1.5h0m0.5 17h0m0.5-22h0m0.5 0.5h0m3 26h0m0-4.5h0m1 12h0m1-17.5h0m1-11h0m0.5 0h0m2 17h0m1.5-0.5h0m1.5-23h0m0 27h0m0-3.5h0m4-11h0m1-9.5h0m0 6h0m1.5-2h0m1 8.5h0m0-7h0m2.5 16.5h0m1 7.5h0m0.5-28h0m0 20.5h0m1.5-16.5h0m0 0h0m2-3h0m8 5h0m0.5 7.5h0m0 7.5h0m1.5-13h0m1.5 12.5h0m4.5 5.5h0m0 6h0m4-15h0m1.5-5.5h0m1-9h0m1 8.5h0m0.5-5.5h0m0-8.5h0m1.5 1h0m1 0h0m2 9.5h0m2.5-3.5h0m2.5 21.5h0m0-3.5h0m1.5-28h0m3 9h0m4.5 20h0m3.5-1.5h0m5 7.5h0m6-26h0m0.5 22.5h0m4 2.5h0m7.5-6.5h0m3-9h0m23.5-9.5h0m-226 68h0m2.5-2.5h0m3.5 0.5h0m0 0h0m0.5 3.5h0m0 0h0m1.5-5.5h0m3-1h0m0-0.5h0m0.5 6h0m1.5-10.5h0m1.5 1h0m0.5 3h0m1-2.5h0m0.5 7.5h0m1.5-15h0m1 10h0m1-11.5h0m0.5 15h0m0.5-13h0m0.5-1.5h0m0 0h0m1 14h0m0-9.5h0m1.5 2h0m0-2h0m1 0.5h0m0-1h0m0.5-3.5h0m0.5-3.5h0m1 16.5h0m1-4h0m1-10.5h0m0 13.5h0m0.5-16.5h0m0-3.5h0m0 10.5h0m0.5 2.5h0m0.5 0h0m0 11.5h0m1-22.5h0m1.5 3h0m0.5 16.5h0m0-6h0m0 6.5h0m0 3h0m0.5-16.5h0m0.5 3.5h0m3 0.5h0m0-16.5h0m0 6.5h0m0 5.5h0m0.5 16h0m0.5-3.5h0m1-22h0m0.5-3h0m0 13.5h0m0.5-14h0m0 5.5h0m0 4h0m1.5 9.5h0m0.5-6h0m0.5-2h0m0.5 7h0m0-11.5h0m0 9h0m1 5h0m1-3.5h0m0 4h0m0.5 2.5h0m1-18.5h0m1 22h0m0.5 3h0m0-34h0m1.5 26.5h0m0.5-23h0m0.5 15h0m0-13.5h0m0 15h0m0.5 7.5h0m1.5-21.5h0m0 24.5h0m0.5-23.5h0m1.5 11.5h0m0.5 4h0m0-12h0m0-11.5h0m1.5 25h0m0.5-19.5h0m1 16h0m1 0h0m1-13h0m1.5-3h0m0 18.5h0m1.5 7h0m0.5-7h0m1.5-17.5h0m1 22h0m0.5-8.5h0m1-1h0m5-22h0m2 11h0m1.5 6.5h0m0.5-10.5h0m1-3h0m3.5 33.5h0m0.5-19.5h0m1-2.5h0m0-6h0m3.5 4h0m0.5 5.5h0m2.5 6.5h0m0.5-10.5h0m0.5 5h0m1-16h0m1.5-2.5h0m0.5 25.5h0m0.5-25h0m0 9h0m1.5-5.5h0m3 20h0m1.5-3h0m0.5 8.5h0m5-30.5h0m1 3h0m0.5 9h0m4.5 26.5h0m0-1h0m1-4h0m4.5-8.5h0m0.5-17.5h0m0 3h0m0 3.5h0m0.5 10h0m7-21h0m3 31h0m0-24.5h0m6.5 7h0m0.5 8h0m3-13.5h0m1-1h0m0.5-4.5h0m0 17.5h0m0.5 8.5h0m1.5-0.5h0m3.5-9.5h0m2 7.5h0m1.5-21h0m1 29h0m4.5-34.5h0m0.5 32.5h0m0.5-31h0m9-3.5h0m6 22h0m19.5 8.5h0m0.5-11h0m7-4.5h0m3.5-7h0m17.5 20.5h0m21.5-24h0m22 3h0m-293 57h0m4 1h0m2.5 2.5h0m0 0h0m0-2h0m0.5-1h0m0.5-7.5h0m1 9h0m0.5-7h0m2-2h0m0-1.5h0m1 4h0m0.5-6h0m0.5 15h0m0-3h0m1-9.5h0m0 1h0m2 10.5h0m0-9h0m0 8h0m1-0.5h0m1-5.5h0m0.5-11.5h0m0.5-2.5h0m0 17h0m0 2h0m0.5-0.5h0m0.5 0h0m1-10h0m1-9.5h0m0.5 9.5h0m0-3.5h0m0-6h0m1-2.5h0m0.5 5h0m0 6h0m0-10.5h0m0.5 6h0m0.5-3.5h0m0 3.5h0m0.5 0.5h0m0-4h0m0.5 4.5h0m0-8.5h0m1 5.5h0m0 20h0m0-27.5h0m1 10.5h0m0.5-2.5h0m0-4.5h0m0.5 11.5h0m1.5 11h0m0-25.5h0m0.5 22.5h0m0-18.5h0m0-2.5h0m1 18h0m0.5-13.5h0m0.5 18.5h0m0-22.5h0m0 2h0m0.5 3.5h0m1-6.5h0m0 2.5h0m0.5 3.5h0m0 14.5h0m1-8.5h0m0 10.5h0m1.5 1h0m0-10h0m2-13h0m0.5 21.5h0m0-15h0m0 20h0m0-24.5h0m1-4.5h0m0 19.5h0m0.5-16.5h0m0.5 21.5h0m0.5-5h0m0.5-18h0m0.5 20h0m0 6h0m0 2h0m0-28h0m1-2.5h0m0.5 20.5h0m0.5-16.5h0m1-2.5h0m2 22.5h0m0.5 6.5h0m0-30h0m0 13.5h0m0.5-9h0m0-0.5h0m0 22h0m0-19h0m0.5-1h0m0.5 11h0m0 0h0m0.5-2.5h0m1 7h0m0.5-19h0m2.5 6.5h0m0 15.5h0m0-4h0m0.5-4h0m3 4.5h0m2.5 9h0m0.5-25.5h0m0 15.5h0m0.5-4.5h0m2-14h0m3-1.5h0m1 13h0m1.5-6h0m3.5 1h0m0.5 20.5h0m2-19.5h0m0.5 4h0m0-4.5h0m1-1.5h0m1.5 5.5h0m2-12h0m1 6.5h0m0.5 14.5h0m0 4.5h0m1.5-8.5h0m0.5 0.5h0m0 12h0m1-10.5h0m1 3.5h0m1 5h0m1.5-27h0m4 9.5h0m3.5-5.5h0m1 3h0m1 10h0m0.5-18.5h0m7 7.5h0m3.5 19.5h0m1-9.5h0m3-10.5h0m10.5-4h0m4-1.5h0m6 8h0m6.5 18h0m18-22h0m12.5 20h0m18.5-24h0m4.5 13h0m1-1h0m23.5-6.5h0m15.5 16.5h0m33.5 4.5h0m0-26.5h0" stroke="#800080" stroke-width="2.1" stroke-linecap="round" fill="none"/><path d="M1313 1478h0m5-1h0m0.5 1h0m1-10h0m0 3h0m1 5.5h0m0-8.5h0m1-2.5h0m2.5 6h0m0.5-0.5h0m0.5 7.5h0m2.5-6h0m0.5 0.5h0m0-9.5h0m0.5 15.5h0m0-3h0m1-13h0m2 8h0m1 0h0m1.5 4.5h0m0-6h0m2.5-5.5h0m5 11h0m2-6.5h0m0-3.5h0m1 9.5h0m0-12h0m1 16.5h0m0.5-14.5h0m9-1h0m1.5-1.5h0m1.5 2h0m1 7h0m4-9h0m0 16.5h0m0-6.5h0m2 2h0m3-11h0m2 9.5h0m1-8.5h0m6.5 8.5h0m4-3h0m1.5-0.5h0m1.5-2.5h0m0.5 5h0m2-7.5h0m5 1.5h0m2.5 10.5h0m0.5-14.5h0m2.5 2h0m2.5 6h0m5.5 7.5h0m0-4.5h0m1-5.5h0m1 6h0m5.5-10h0m1.5-2.5h0m3 19h0m0.5-12h0m1.5 2.5h0m1.5-7h0m7 2h0m4.5 7.5h0m1.5-9h0m13.5 3.5h0m7.5 3h0m4.5 2h0m5.5 4.5h0m2.5 2h0m7.5-11.5h0m4-0.5h0m8 11h0m9-13.5h0m5 14.5h0m4-15h0m5 6h0m2.5-5h0m8.5-3h0m0.5 10h0m-248 40.5h0m1-2.5h0m1 8h0m0.5-10.5h0m1 12h0m1.5-9.5h0m0 7h0m2-10.5h0m0 1.5h0m0-1h0m0.5 0h0m0.5-5h0m0 1h0m1 4.5h0m0-6h0m0.5 18.5h0m1.5-21h0m2 1.5h0m1 7h0m1.5 3.5h0m0.5-12h0m0.5 14h0m0.5-6h0m0.5-12h0m1.5-1.5h0m0.5 20h0m0.5 5h0m0-22h0m0 9h0m0.5-12.5h0m0.5 8h0m0 13.5h0m0.5-8.5h0m1 13h0m0-2h0m0.5 1h0m0.5-27.5h0m0 20h0m0-8h0m0-1h0m0.5-6h0m1 3.5h0m0.5 17h0m0-9.5h0m0.5-3h0m0-3.5h0m0.5 18h0m0.5-14.5h0m1 1.5h0m1-10h0m0.5-12h0m0 6.5h0m1 0.5h0m0 22.5h0m0.5-7.5h0m1-7h0m0.5-10h0m1 2h0m0 22.5h0m1-24.5h0m0.5-1h0m1-2h0m0 25h0m0.5-20h0m0 4h0m1-0.5h0m0.5 9.5h0m1 1h0m0.5 4h0m0-25.5h0m0 7h0m0.5-3.5h0m1.5-2h0m1 14.5h0m1 11h0m0 0.5h0m0.5 0h0m0.5-15.5h0m0.5 12h0m0-4h0m0.5 3.5h0m0.5 11.5h0m0-15.5h0m0.5-12.5h0m0.5-8h0m0 21h0m0.5-2.5h0m0 17.5h0m0-3h0m3.5 3h0m0.5-34h0m0 31h0m0.5-27h0m1.5 8h0m0-4h0m0.5 12.5h0m1 10.5h0m0-20h0m0 15h0m2.5 3.5h0m0-14h0m0.5-18h0m0 2.5h0m1 7.5h0m0 1.5h0m0.5-11.5h0m0 35.5h0m0-22.5h0m0.5 23h0m0-22h0m1.5-10.5h0m0 2.5h0m1 27.5h0m1-26h0m0.5 25.5h0m1-33h0m0.5 14.5h0m1-5h0m1 29.5h0m0.5 0h0m0-23h0m0-7h0m0.5 1.5h0m0 15.5h0m0-8.5h0m1-14h0m0-3h0m1 2.5h0m2.5 18h0m0-18.5h0m0.5 32.5h0m0-31.5h0m0.5 9h0m0.5 6h0m0.5-12h0m3 28h0m5-6.5h0m0.5-9h0m0 0.5h0m2-15.5h0m3 11.5h0m2.5 23.5h0m0-35h0m2 11.5h0m1 4h0m0.5-16.5h0m3.5-2.5h0m1 1.5h0m1 13.5h0m0.5-9.5h0m5 3h0m0 2h0m1.5 1h0m0.5-10.5h0m0.5 35h0m5-21h0m1 9.5h0m1.5-10.5h0m0.5 23.5h0m3-29h0m1 1h0m2-8h0m0.5 7.5h0m0.5 21.5h0m0-25.5h0m3.5 26.5h0m1-26.5h0m1 33h0m6-21h0m2.5-16.5h0m2 6h0m8.5-2.5h0m1-2h0m1 19.5h0m0.5-22.5h0m4.5 36h0m4.5-26h0m1.5 8h0m9 9.5h0m0.5 4h0m1.5-22.5h0m0 10h0m1-2h0m21.5 11.5h0m1-3.5h0m2-14h0m2.5 19h0m11-13h0m11-14.5h0m0.5 34.5h0m19-25h0m28.5 4.5h0m3 4.5h0m-274 39.5h0m0 7h0m0.5-5h0m0 3h0m0-12.5h0m1.5 7h0m0 0.5h0m0.5-4.5h0m0-11.5h0m0 7h0m0.5-4.5h0m1 0.5h0m0-0.5h0m3 14h0m1.5-11.5h0m1 4.5h0m0 17h0m0-6h0m0.5-8.5h0m0-16h0m0 16h0m1.5-12.5h0m1 15.5h0m0.5-2.5h0m0-11h0m1 5.5h0m1 11.5h0m1-11.5h0m1 3h0m0.5-14.5h0m1 21h0m1 10.5h0m0.5-13.5h0m0 6.5h0m1-4.5h0m0.5-14h0m0 6.5h0m0-8h0m1 25h0m0-22.5h0m1 7h0m3 1.5h0m1.5 7h0m2-4h0m0.5-17.5h0m0 19h0m0.5 5.5h0m0.5-20.5h0m0 13h0m0.5-5.5h0m3 0.5h0m0 13.5h0m1.5-3h0m3 4.5h0m0.5-22h0m1.5 18h0m1-14h0m0 21.5h0m1 2h0m1-14.5h0m0 1.5h0m2.5-3.5h0m0.5 1h0m2 4h0m0.5 3.5h0m2.5-19h0m1 24h0m2.5-29h0m0 27.5h0m3-25.5h0m1.5 6.5h0m0.5-2.5h0m1.5 15h0m0.5-15.5h0m2 10h0m2 6h0m4.5-20h0m4.5 13.5h0m1-14.5h0m0.5 14.5h0m2-7.5h0m1-2.5h0m2 21h0m2.5-17.5h0m2.5 14h0m0.5-6.5h0m1.5 13.5h0m0.5-16.5h0m4-10h0m0.5 20.5h0m1.5-6h0m4.5-4h0m4.5-0.5h0m0-14.5h0m1 1.5h0m3 19.5h0m1 8h0m2-18.5h0m4-5.5h0m13.5 0h0m0.5 26.5h0m8-13h0m11-12.5h0m16.5 10.5h0m5-6h0m11.5 4h0m12-7.5h0m13 8.5h0" stroke="#ff0000" stroke-width="2.1" stroke-linecap="round" fill="none"/><path d="M1272 1519.5h0m2.5-1.5h0m1-0.5h0m1.5 2h0m2-0.5h0m3 0h0m1-5.5h0m0 4.5h0m2-4h0m0 0.5h0m1.5 0.5h0m1 3h0m0.5-11h0m3 10h0m0-3h0m2-9.5h0m1.5 13h0m1-10h0m1 8.5h0m2 0h0m0.5-9.5h0m1 1.5h0m0.5-2h0m2 10.5h0m1.5-11.5h0m1 7.5h0m0.5-2.5h0m0.5-2.5h0m0-1.5h0m1 6.5h0m1.5 5.5h0m0.5-10.5h0m3 3h0m0.5-1h0m0.5 8.5h0m0.5-1h0m1-7.5h0m1 6h0m1 0h0m3 2h0m1.5 1h0m2.5-5.5h0m0.5-1.5h0m0-5h0m3 2h0m1 7h0m2.5-4h0m1-0.5h0m1.5 0h0m2-4h0m4 11.5h0m0 1h0m0.5-11.5h0m2 2.5h0m7 4.5h0m0.5-4h0m5-4h0m0.5 12.5h0m2.5-4h0m0.5-10h0m4.5 1.5h0m3-0.5h0m2 8.5h0m6-0.5h0m0.5 0.5h0m4 0.5h0m0.5-4.5h0m2.5 3h0m8.5-7h0m13 11h0m1-8.5h0m2 8.5h0m2.5-3.5h0m17-1h0m14 3.5h0m15.5-7h0m11 5h0m1-9h0m12.5 12h0m0-2h0m11-4h0m3-6h0m9.5 4.5h0m27 1.5h0m-255.5 13h0m0-3h0m0 5.5h0m0.5 16.5h0m0-7h0m0.5 1h0m2-3.5h0m0.5 19.5h0m0-34h0m0.5 1.5h0m2 4.5h0m0 26.5h0m0-27h0m2 18h0m0-22.5h0m0 17h0m0.5 11.5h0m1-3.5h0m0.5-25h0m1.5 20.5h0m1-2h0m0-8.5h0m0.5 8.5h0m0-17h0m0.5 19h0m1 14.5h0m2 0.5h0m2-27.5h0m0-4h0m0.5 23h0m0-22.5h0m1.5 4h0m1 29h0m0-31.5h0m0 32h0m0.5-34h0m0 14h0m0.5 4.5h0m0-13.5h0m0.5-10h0m0.5 22.5h0m0.5 4h0m0.5 6h0m0.5 7h0m0-39h0m1 3.5h0m0 28.5h0m0-19.5h0m1.5-3h0m0 10.5h0m0.5-4h0m0-3h0m0.5 10h0m0-15.5h0m0.5 4h0m0 4.5h0m0.5 13.5h0m1-13h0m0.5-11h0m0 8.5h0m0.5 24.5h0m0.5-12h0m0.5-23.5h0m0.5 15.5h0m0.5-2.5h0m0.5-2.5h0m1.5-2.5h0m0 13.5h0m0-5.5h0m0.5-4h0m0-1.5h0m1.5-13h0m2.5 27h0m0-27.5h0m1.5 12.5h0m0 23h0m0.5-7.5h0m0-3h0m0-20h0m1.5-2h0m1 18.5h0m0-18.5h0m2 6h0m1-2.5h0m1 16.5h0m2-17h0m0.5 1.5h0m0.5-4.5h0m1.5-3h0m1 15.5h0m0-15.5h0m0.5 23h0m0.5 13h0m0.5-29h0m1 16.5h0m0.5-13.5h0m0.5-8h0m1-2.5h0m2 10h0m3 10h0m0-17.5h0m0.5 6h0m0.5 10.5h0m6 17h0m0.5-8.5h0m1.5-26.5h0m1 2h0m0.5 10.5h0m2-5.5h0m1 22.5h0m5-11h0m3-15h0m1 7.5h0m0 25h0m1-32h0m1.5 2h0m0 31.5h0m0.5-19.5h0m1 19h0m0.5-18.5h0m1-10h0m1.5 25h0m0.5-20h0m3 3h0m2 21h0m2-29.5h0m2 29.5h0m0-36.5h0m0.5 26.5h0m7-20h0m0.5 30h0m0.5-35h0m6 4h0m1.5 0.5h0m0.5-3h0m0.5 32.5h0m0.5-16.5h0m6.5 2h0m2 15.5h0m1-36.5h0m3 3.5h0m0.5 3h0m0.5 30.5h0m2-3.5h0m1.5-18h0m2.5 16h0m1-21.5h0m6.5 12.5h0m8 8.5h0m5-17.5h0m1 0h0m0 19h0m1-24h0m5 2.5h0m3 16h0m3-20.5h0m12 8h0m17.5-13.5h0m5 15h0m9 12h0m8-13h0m3 16h0m10-4h0m23.5-23h0m3 31h0m10.5-21h0m6 20h0m-282.5 30h0m3.5-4.5h0m1.5 17h0m1.5-19.5h0m0.5-12h0m0 6h0m1 22h0m0.5-29.5h0m2-3h0m1.5 3h0m0.5 21h0m0-26.5h0m1 9h0m5 18.5h0m0-11.5h0m3 7h0m0.5 7h0m0 4h0m3 1.5h0m0-35.5h0m4.5 7h0m0 19.5h0m1 0.5h0m1-15h0m0.5-9h0m1-2.5h0m1.5 36.5h0m0.5-4.5h0m0.5-2h0m1 7.5h0m5.5-0.5h0m0.5 0h0m1-9h0m0.5 4.5h0m2.5-29h0m1 13.5h0m4.5-8.5h0m1 3.5h0m4 9h0m2 15h0m1-30.5h0m3 11.5h0m2.5 5.5h0m1.5-7.5h0m4.5 23.5h0m3-32.5h0m5.5 7.5h0m1 3h0m2-9.5h0m3.5 8.5h0m0.5 5h0m0-2.5h0m1.5 6h0m0.5-21h0m0.5 0.5h0m6.5-3.5h0m1.5 33.5h0m0.5-23h0m7 8.5h0m0.5-10.5h0m2.5 21.5h0m2.5-22.5h0m2.5-1.5h0m4 1h0m3 13.5h0m6 18.5h0m2.5-4.5h0m3-35h0m0.5 8h0m5-1.5h0m2 24.5h0m0.5-26.5h0m1.5 15h0m4-2h0m10 10.5h0m13.5-27h0m4 11h0m14.5-8.5h0m4.5 12h0m0-11.5h0m93 18.5h0m-380 49.5h0m29 6.5h0m14-2h0m1-3h0m2-0.5h0m4 6h0m7-12h0m9.5 4.5h0m0.5 3h0m68.5 1.5h0m6.5-34h0m11 16h0m3 9h0m27-26h0m18.5 32.5h0m11-32.5h0m13.5 0.5h0m29 1h0m4.5-1h0m42-1.5h0m40.5 1h0m-387.5 76.5h0m3.5-6h0m1.5 8h0m2.5-4h0m5.5-4h0m16.5-8.5h0m0.5-19h0m3-3.5h0m6.5 17.5h0m1.5 2h0m7.5 0h0m0-19.5h0m2-0.5h0m3 21h0m15-11.5h0m0-8h0m4.5 9.5h0m12 11.5h0m25.5-6.5h0m19.5 5.5h0m25.5 3h0m9-23.5h0m17.5 6h0m34.5 2h0m-265.5 60.5h0m0.5 4h0m23-12h0m11 8h0m3 9.5h0m10-32h0m0.5 5h0m0.5 23.5h0m23-21.5h0m2-1.5h0m36 10.5h0m16.5 1.5h0m30.5 11h0m3.5-9h0m7-2h0m86.5-23.5h0m47.5 25h0m-337.5 49h0m5 3.5h0m8.5-33h0m3 33.5h0m0.5-35h0m4 8.5h0m2 14h0m1-17h0m2.5 9.5h0m0.5-4h0m14.5-5h0m3 2h0m1 4.5h0m0 18h0m9-14.5h0m0.5 2h0m12.5 7h0m3-25h0m6.5 10.5h0m75.5 23h0m32.5-12.5h0m18 3.5h0m14.5-6h0m-258.5 32h0m12.5-6.5h0m34.5 3h0m13.5 1.5h0m10-3h0m2.5-7h0m6 10.5h0m1.5-10h0m6.5-2.5h0m11.5 6h0m75 6.5h0m25 1.5h0m136.5-11h0" stroke="#ffa500" stroke-width="2.1" stroke-linecap="round" fill="none"/><path d="M1195.5 1597.5h0m2.5 0h0m3-1h0m1 1.5h0m6.5-10h0m2 11.5h0m5.5-4.5h0m1-15h0m2.5 2h0m3 0h0m0 1.5h0m2.5-1.5h0m1-3h0m0.5 17.5h0m0-20.5h0m1 4.5h0m1.5 5.5h0m1-0.5h0m0.5-3.5h0m0.5-7.5h0m1 21h0m1.5-10h0m1-11h0m1 10.5h0m0.5 12.5h0m0.5-2.5h0m1-10h0m0 3h0m1 0.5h0m1.5 3h0m0.5 2h0m1.5-17h0m0 9h0m3 5h0m1.5 4.5h0m2-18.5h0m2 17h0m0.5-17h0m1 18h0m4.5 3.5h0m1-14.5h0m1 2.5h0m0.5 8.5h0m0.5-17h0m1.5 16.5h0m3-17.5h0m1.5 4h0m2-5h0m0.5 16h0m1.5 8h0m12-17.5h0m2 1h0m6.5-8.5h0m2 7.5h0m1-7.5h0m2 12.5h0m2.5 5.5h0m4-17h0m6-2h0m5 8.5h0m1-3h0m9.5 8h0m1-9.5h0m1 2h0m5-2h0m4.5 14.5h0m0.5-13h0m3 16.5h0m2 2h0m0.5 2h0m7.5-15.5h0m6-5.5h0m4.5 13h0m7 1.5h0m8.5-18.5h0m1.5 8h0m6.5-5.5h0m2.5 20.5h0m14-5.5h0m1-11h0m6.5 13.5h0m1-20h0m28 22h0m2-20.5h0m6 7h0m6 1h0m106-0.5h0m-400 54.5h0m4-0.5h0m1-2.5h0m6-2h0m1.5-10h0m1 11h0m1 5h0m0.5-1h0m0-16h0m1 8.5h0m0-11.5h0m2-0.5h0m0.5 13.5h0m0-9h0m0.5 6h0m1 2h0m0.5-8.5h0m0.5-6.5h0m2 7h0m1-1h0m0.5-0.5h0m1 10.5h0m0-17.5h0m1.5-2.5h0m0.5 1h0m0.5-2.5h0m0 14h0m0.5-8.5h0m0.5 8.5h0m0.5 10.5h0m0.5-15.5h0m0 1h0m2 7h0m0.5 1.5h0m2-5.5h0m0-12h0m0.5 20h0m1-2h0m0.5-11.5h0m0.5-1.5h0m0-7h0m0.5 29.5h0m0.5-32.5h0m0 20.5h0m1.5-20.5h0m0 29h0m1-16.5h0m0.5-7h0m1-1.5h0m0.5 18.5h0m1-28.5h0m0.5 6h0m0 7h0m2 5h0m0.5 14h0m0-6.5h0m0.5-9.5h0m1 15.5h0m1 4h0m0-34.5h0m1-0.5h0m0.5 3h0m1.5 6h0m1-1.5h0m2.5 11.5h0m0.5 4.5h0m2-0.5h0m0.5-12.5h0m0-8h0m1 6h0m0 27.5h0m1-21.5h0m0-14h0m0 0.5h0m1.5 17h0m1.5-7h0m0.5 22h0m0.5-2h0m1-19.5h0m0 23h0m0.5-23.5h0m1.5 19.5h0m1-28h0m1.5 13h0m1-16h0m0 35.5h0m1.5-7h0m0.5-3h0m0-7h0m0-7h0m1.5-1h0m2 26.5h0m5.5-11.5h0m2-1h0m0 7.5h0m6.5-24.5h0m1-4h0m1 22h0m1 6.5h0m1.5 0.5h0m0.5-5h0m2-11.5h0m4-1h0m1.5 3h0m1 4h0m0-15.5h0m1 11h0m0.5 20h0m3.5 1.5h0m1-0.5h0m8-20.5h0m0.5 8h0m0.5-12.5h0m0.5 6h0m6.5-15h0m5.5 4.5h0m2.5-6.5h0m0.5 0.5h0m1.5 36h0m1-3h0m2.5-11.5h0m1-19h0m4.5 15.5h0m0.5 8h0m2-3.5h0m3.5-0.5h0m0.5-3h0m0.5-16h0m0 28.5h0m0.5-22.5h0m2 0h0m3.5 15h0m3-19h0m4.5 0h0m2.5 1.5h0m1-6.5h0m2 29.5h0m8-26h0m2.5-2.5h0m1 4.5h0m0.5 20.5h0m1-16.5h0m1.5 15h0m8.5-27.5h0m5.5 37.5h0m1-6.5h0m2-22h0m3-3h0m3.5 3h0m2 4h0m6-6.5h0m3.5 18h0m6-10.5h0m1.5 2.5h0m11.5 11.5h0m6.5 4.5h0m4-31.5h0m1 21h0m11.5-7h0m15 20.5h0m0-1h0m10-18h0m0.5-8.5h0m8.5 24.5h0m2-29h0m8.5 24h0m4-27h0m21 15h0m17.5-13.5h0m27-1h0m-418 75.5h0m0.5 2h0m1.5-4h0m2 1h0m0.5 3.5h0m1.5-3.5h0m1-7h0m0 3h0m0-4.5h0m1.5 10h0m1 2h0m1.5-18h0m0.5 9h0m0.5 8h0m0.5-7h0m0.5 0h0m0.5 5.5h0m0-16h0m2 5.5h0m0.5 4.5h0m0 2.5h0m0.5 1.5h0m0 3.5h0m0.5-7h0m0-6.5h0m2 3h0m0-7.5h0m1 12h0m0-3.5h0m1-1.5h0m0.5-6h0m0-2h0m1.5 14.5h0m0 5h0m0.5-20.5h0m0 11h0m0 5h0m0.5-22.5h0m0 0h0m0.5 20.5h0m0-9h0m0.5 3h0m1.5 8.5h0m1.5-29h0m0 21h0m0.5-10.5h0m0 19.5h0m1-24h0m0 5h0m0-12.5h0m0 1h0m2-1.5h0m1 13h0m0.5-11h0m0.5 6.5h0m0.5 18h0m0 5.5h0m1-22.5h0m0 17.5h0m0 4h0m0.5 0.5h0m1 2.5h0m0-7.5h0m1.5 5h0m1-6h0m0.5-4.5h0m0.5-0.5h0m0-1h0m0.5-18h0m1 30.5h0m0-14h0m0-13h0m0.5-9h0m1.5 16h0m0 23.5h0m0.5-3.5h0m1.5-13h0m1 9.5h0m1-6h0m2.5-15.5h0m0 20h0m0.5-31h0m0 28.5h0m0-5h0m2 15.5h0m1-38h0m0 26.5h0m1-2.5h0m0 4.5h0m0.5 10h0m0.5-14h0m0.5 8h0m0.5 1h0m1-8.5h0m1-4.5h0m0 15h0m0.5-4h0m2-23.5h0m0.5 15h0m0.5 0h0m0-7.5h0m0.5 7.5h0m0-12.5h0m0 12.5h0m0.5-0.5h0m0 11.5h0m1.5-31.5h0m1.5 5h0m0-5.5h0m0.5-2.5h0m0 21.5h0m0.5-4.5h0m0 6.5h0m0 2h0m1-22.5h0m2 20.5h0m0 2.5h0m0.5-11.5h0m0.5 15h0m0 4h0m0.5-25h0m1.5 26h0m1.5-16.5h0m0.5 2.5h0m0.5-15h0m1 0.5h0m0.5 18h0m0-8.5h0m1 20.5h0m1-4h0m3.5-14h0m1-3.5h0m0.5 17.5h0m0.5-7.5h0m2 11.5h0m1.5-2.5h0m1-10h0m0.5 3h0m0-22h0m0-3h0m3.5 11h0m0.5 22.5h0m3-8h0m3.5-3.5h0m2 2.5h0m1.5-2.5h0m3 8h0m0.5 2h0m1-27h0m0.5 15h0m0.5-20h0m3.5 33h0m0-30h0m1 5.5h0m4.5-9h0m1 37.5h0m0.5-25h0m0.5 13.5h0m5.5-8.5h0m0.5 2h0m0.5-2h0m0-14h0m1 23.5h0m1-12.5h0m0.5 20h0m0.5-23h0m1.5 5.5h0m0.5-9.5h0m0 22h0m4.5 0.5h0m2 4.5h0m2-19.5h0m1 6.5h0m0 10.5h0m3.5-22h0m8.5 4.5h0m0.5 16h0m0.5-25.5h0m3 0h0m2.5 24h0m2.5 5.5h0m3-11h0m0.5 2h0m0.5-26.5h0m0.5 30.5h0m1 6.5h0m2-37h0m2 27h0m1.5 8.5h0m0-9.5h0m3.5 6.5h0m2-4.5h0m1.5 3h0m1.5 6h0m2.5-28.5h0m3.5 17.5h0m8.5-15.5h0m0.5 22.5h0m1.5-12h0m4.5-4.5h0m1 6h0m1 0h0m6 9h0m1.5-7.5h0m1 3.5h0m4.5-6.5h0m7-5.5h0m2.5 14.5h0m2-11.5h0m17-1.5h0m1 10h0m27-5h0m4.5 8.5h0m2 8h0m5-24h0m6-15h0m1.5 20h0m0.5 1h0m1-1h0m57-4.5h0m-386 60h0m1.5 2h0m0.5-7.5h0m0 0.5h0m2.5 4.5h0m1.5-8h0m0 10h0m2.5-4h0m1-0.5h0m2 6h0m0.5-5h0m0.5 3.5h0m1.5-11h0m0.5 8.5h0m0 0h0m0.5-5h0m0.5-5.5h0m0.5-4h0m0 4.5h0m0 3.5h0m1-4h0m0.5 2.5h0m0.5-7h0m0 7.5h0m0.5 11h0m2.5-12.5h0m1-11h0m0.5-1.5h0m1 17.5h0m0 4h0m0.5-3.5h0m0-11h0m0.5-7h0m1-2h0m0 5.5h0m0.5 20h0m0.5-9h0m0.5-2.5h0m0.5-5.5h0m1 0h0m1-4h0m0 3.5h0m1 17h0m1-27.5h0m1 17.5h0m0-20h0m0.5 3h0m0.5 15h0m0.5-8h0m0 20.5h0m0.5-11.5h0m0.5-4h0m1-16.5h0m0 6.5h0m1 12.5h0m0.5-10h0m0.5 16.5h0m0-3h0m0-23.5h0m0.5 2h0m0 14h0m1-19.5h0m0 0.5h0m1.5 19.5h0m0.5-5h0m2 23h0m0.5-8h0m1.5-28.5h0m0 9h0m0.5 29h0m1-32.5h0m0 7h0m3 7h0m0.5 3h0m1-20.5h0m2 29h0m0-3.5h0m1-23.5h0m0.5 8h0m0-8h0m1 5.5h0m0.5 1h0m0 13h0m1.5 10.5h0m0.5-16.5h0m0.5 11.5h0m0.5-6h0m0.5 6h0m0.5-15.5h0m0 6.5h0m0.5-12.5h0m0.5 29.5h0m0-17h0m0 3.5h0m0.5-2.5h0m1 10.5h0m2-12h0m0-6h0m0.5 5.5h0m0.5-8h0m0.5-5h0m1 14.5h0m0.5-15.5h0m1 12h0m0.5-5.5h0m3-4.5h0m0.5 27.5h0m0-20.5h0m1-15h0m1 3h0m0 19h0m0.5 7.5h0m0-30h0m2 7.5h0m0.5-1h0m1.5 16h0m1-18h0m0.5-2h0m3.5 7.5h0m1.5 11h0m0 2.5h0m1 12h0m0.5-3.5h0m1.5-28h0m1.5 15h0m0-15.5h0m1.5 0h0m0.5 24h0m0.5-27h0m0 25.5h0m2-12h0m2.5 6h0m0.5 19.5h0m0.5-21.5h0m1.5-8h0m0.5 29h0m0-18h0m3-15.5h0m0.5 33h0m0.5-7.5h0m0-16.5h0m2 21.5h0m1-30.5h0m4 25.5h0m1-5.5h0m1-7.5h0m1 3h0m1.5-20.5h0m1 10h0m1 20h0m1.5-30h0m0 37h0m1-25.5h0m6.5 3h0m2-11.5h0m0.5 6.5h0m1.5-7.5h0m4 23.5h0m3-8.5h0m1 12.5h0m1.5-13.5h0m0.5-9h0m8-4.5h0m0 12h0m1.5 13h0m3-10h0m1-15h0m3 1h0m6 21h0m5.5-8.5h0m3.5 7.5h0m1 10.5h0m2-13h0m1.5-16.5h0m0 13h0m3.5 7h0m3.5 1.5h0m6-14.5h0m1-1h0m0.5-6.5h0m1.5 31.5h0m1.5-20.5h0m4.5 16h0m4-30h0m4 11.5h0m10.5 7h0m32-14h0m7 32h0m5.5-37h0m2.5 25.5h0m1.5-7h0m0 6.5h0m10.5-16h0m4.5-5.5h0m21 22.5h0m49-23.5h0m-400 72.5h0m2.5-2h0m0.5 0.5h0m1.5-1h0m0 2h0m3.5 3h0m0.5 0h0m2-2.5h0m0 1.5h0m0.5-7.5h0m0-1.5h0m0 10h0m1.5-4.5h0m3.5-2h0m0.5-8.5h0m2.5 11h0m2-14h0m0.5 7.5h0m1-4h0m0 15.5h0m0-2h0m0-4.5h0m0.5-4.5h0m1-12.5h0m0.5 0.5h0m2-4.5h0m2 15h0m1.5 3h0m1-19.5h0m0.5 19.5h0m0-4.5h0m1.5 14h0m1-24h0m0 7.5h0m0.5-15.5h0m0 0h0m0 11.5h0m3.5 10.5h0m0 0.5h0m0-8.5h0m0.5 2h0m0.5-1.5h0m1-11h0m0-10h0m0.5 7h0m0.5-0.5h0m0-4.5h0m0.5 26h0m0.5 0h0m1-2.5h0m0.5-13.5h0m0.5 16h0m1.5-27h0m0.5 6h0m0.5 23h0m2.5-18h0m0.5 3h0m0.5-1h0m0.5 16h0m0.5-0.5h0m1-26.5h0m0.5 15h0m2-2.5h0m0-8h0m0.5-6.5h0m1 13h0m0.5-11.5h0m1 22h0m0.5-24h0m0 8h0m1 10h0m0.5-0.5h0m0.5 16h0m0.5-22.5h0m1-10h0m0.5 3h0m0.5 4h0m0.5 9.5h0m1.5 12h0m1-6.5h0m0-22.5h0m1 2h0m1 28h0m0.5-22h0m0-7.5h0m1 31.5h0m0.5-1h0m1-10.5h0m1.5 6h0m1.5-17h0m1 15.5h0m0.5 8h0m0.5 4.5h0m0.5-38h0m1.5 7h0m0 7h0m0.5 4.5h0m1-5.5h0m0.5 4h0m0 8h0m2.5 6.5h0m0.5-20.5h0m0-12h0m4.5 5h0m3.5 10h0m2 20h0m2.5-24h0m1.5 6.5h0m2 19.5h0m4-19h0m2.5 3h0m0.5 15.5h0m2.5-35.5h0m0.5 15.5h0m0.5 11h0m0.5-10.5h0m0.5-12h0m0.5-1h0m1-1.5h0m2 4.5h0m0.5 15.5h0m0.5 4h0m1-17h0m2.5-6.5h0m1-1.5h0m1 13.5h0m0-0.5h0m1.5-5h0m3.5 24.5h0m0.5-17h0m1 10.5h0m1 3h0m3.5 5h0m1.5-3h0m0-30h0m0 11.5h0m3.5 4h0m2.5-13h0m3-5.5h0m2.5 8h0m9 17.5h0m2-19h0m3.5 28.5h0m1.5-7.5h0m4.5-25.5h0m1.5 11h0m1 13.5h0m3.5 8h0m2-11.5h0m2 6h0m0-21.5h0m1.5 4.5h0m5 10.5h0m1-2.5h0m9 17h0m1-35.5h0m3 16h0m0.5-14h0m2.5 23.5h0m2.5-19.5h0m5.5 1.5h0m1 28h0m5.5-34.5h0m5-1.5h0m1 8.5h0m5.5-8h0m2.5 5h0m1 32h0m10-35.5h0m11 33.5h0m6-23h0m9.5-12.5h0m36.5 11.5h0m6.5 25h0m7.5-11.5h0m23.5-11h0m0-3h0m13.5 19.5h0m9.5 0h0m-377 25h0m9.5-4h0m0-1h0m0.5-2.5h0m2.5-2.5h0m0 0.5h0m0-6.5h0m1.5 2h0m1.5 6.5h0m0.5 7h0m2 1.5h0m0.5-4.5h0m0.5-2.5h0m0.5-0.5h0m0-7h0m1.5 2h0m0 3.5h0m0.5 7h0m0.5-7h0m0.5-5h0m1 5h0m0.5-6h0m1.5 3h0m0.5 3h0m2.5-7h0m0 10h0m3.5 0h0m1-6h0m2-2.5h0m0.5 10.5h0m1.5-8.5h0m1.5 1.5h0m2 10h0m0.5 0h0m1-15h0m0 3.5h0m0.5 3h0m2-3h0m0 9h0m0.5-3.5h0m0.5-3.5h0m0.5-3h0m1.5 9h0m1-1.5h0m1-6h0m0.5 0.5h0m1.5-4h0m0 12h0m4-7.5h0m3.5-6h0m7 4.5h0m1.5-3.5h0m2 2h0m2 10.5h0m0-8.5h0m1 5h0m7 7h0m5.5-4h0m0 2h0m3-14h0m3.5 4.5h0m3.5-2.5h0m2 10h0m6-3h0m1.5 2h0m3 1h0m0.5-6h0m0.5-5.5h0m0-1h0m2.5 10.5h0m1-9.5h0m1 12.5h0m4.5-1.5h0m4.5-6h0m4-2.5h0m8 2.5h0m2.5-1.5h0m3.5 3.5h0m0-2.5h0m12-5.5h0m10 16h0m5.5-4.5h0m10 2h0m66-13h0m1.5 0.5h0m10.5 4h0m2.5 11h0m49.5-16h0" stroke="#0000ff" stroke-width="2.1" stroke-linecap="round" fill="none"/><path d="M960 1762C965 1757.7 980.7 1744.5 990 1736C999.3 1727.5 1007.7 1719.8 1016 1711C1024.3 1702.2 1031.7 1691.5 1040 1683C1048.3 1674.5 1057.5 1667.8 1066 1660C1074.5 1652.2 1082.5 1644.2 1091 1636C1099.5 1627.8 1108.5 1618.5 1117 1611C1125.5 1603.5 1133.5 1597.3 1142 1591C1150.5 1584.7 1160.5 1577.7 1168 1573C1175.5 1568.3 1180.8 1565.5 1187 1563C1193.2 1560.5 1197.3 1558.1 1205 1557.7C1212.7 1557.3 1223.7 1557.2 1233 1560.5C1242.3 1563.8 1251.7 1572.6 1261 1577.3C1270.3 1582 1282.9 1584.8 1289 1588.6C1295.1 1592.3 1297.5 1595.6 1297.5 1599.8C1297.5 1604 1295.1 1609.2 1289 1613.9C1282.9 1618.6 1269.5 1623.9 1261 1627.9C1252.5 1631.9 1247.2 1634 1238 1638C1228.8 1642 1217.7 1647.7 1206 1652C1194.3 1656.3 1180.8 1660.2 1168 1664C1155.2 1667.8 1141.8 1670.2 1129 1675C1116.2 1679.8 1102.5 1686.7 1091 1693C1079.5 1699.3 1069.8 1706 1060 1713C1050.2 1720 1042 1726.8 1032 1735C1022 1743.2 1009 1754.2 1000 1762C991 1769.8 981.7 1778.7 978 1782" stroke="#0000ff" stroke-width="3.0" stroke-dasharray="10 4.7" fill="none"/><path d="M1190.8 1566.1C1195.5 1562.4 1209.5 1549.2 1218.9 1543.6C1228.2 1538 1237.6 1533.3 1247 1532.4C1256.3 1531.5 1269.5 1534.3 1275.1 1538C1280.7 1541.8 1282.6 1549.2 1280.7 1554.9C1278.8 1560.5 1271.3 1567 1263.8 1571.7C1256.3 1576.4 1245.6 1579.2 1235.7 1583C1225.9 1586.7 1214.7 1590.5 1204.8 1594.2C1195 1598 1186.1 1601.7 1176.7 1605.4C1167.4 1609.2 1158 1611.1 1148.6 1616.7C1139.3 1622.3 1129.9 1631.2 1120.5 1639.2C1111.2 1647.1 1097.1 1660.2 1092.4 1664.5" stroke="#ffa500" stroke-width="3.0" stroke-dasharray="10 4.7" fill="none"/><path d="M965.1 1793.4C969.2 1789.9 977.4 1783.4 989.9 1772.5C1002.3 1761.5 1023.1 1742.3 1039.7 1727.6C1056.3 1713 1072.7 1698.7 1089.3 1684.6C1105.9 1670.5 1122.6 1657.4 1139.2 1643C1155.8 1628.6 1175.3 1610.4 1189.1 1598.1C1203 1585.8 1211.7 1578.6 1222.3 1569.2C1232.8 1559.9 1243.6 1550.3 1252.5 1542.1C1261.4 1533.9 1271.7 1523.6 1275.6 1519.9" stroke="#ffa500" stroke-width="3.0" stroke-dasharray="10 4.7" fill="none"/><path d="M950.9 1776.6C955 1773.2 963 1766.9 975.3 1755.9C987.7 1745 1008.5 1725.8 1025.1 1711.2C1041.7 1696.5 1058.5 1681.9 1075.1 1667.8C1091.7 1653.7 1108.2 1640.7 1124.8 1626.4C1141.4 1612 1160.7 1593.9 1174.5 1581.7C1188.3 1569.4 1197.2 1562.1 1207.7 1552.8C1218.2 1543.5 1228.8 1534 1237.5 1525.9C1246.3 1517.8 1256.6 1507.7 1260.4 1504.1" stroke="#ffa500" stroke-width="3.0" stroke-dasharray="10 4.7" fill="none"/><path d="M961.9 1789.6C966 1786.1 974.2 1779.6 986.6 1768.7C999 1757.8 1019.8 1738.6 1036.4 1723.9C1053 1709.2 1069.5 1694.9 1086.1 1680.8C1102.7 1666.7 1119.3 1653.6 1135.9 1639.2C1152.5 1624.8 1171.9 1606.7 1185.8 1594.4C1199.6 1582.1 1208.4 1574.8 1219 1565.5C1229.5 1556.2 1240.2 1546.6 1249.1 1538.4C1257.9 1530.2 1268.3 1520 1272.1 1516.3" stroke="#ff0000" stroke-width="3.0" stroke-dasharray="10 4.7" fill="none"/><path d="M954.1 1780.4C958.2 1777 966.2 1770.6 978.6 1759.7C991 1748.8 1011.8 1729.6 1028.4 1714.9C1045 1700.2 1061.7 1685.8 1078.3 1671.6C1094.9 1657.5 1111.5 1644.5 1128.1 1630.2C1144.7 1615.8 1164 1597.7 1177.8 1585.4C1191.6 1573.1 1200.5 1565.8 1211 1556.5C1221.5 1547.2 1232.1 1537.7 1240.9 1529.6C1249.7 1521.5 1260 1511.3 1263.9 1507.7" stroke="#ff0000" stroke-width="3.0" stroke-dasharray="10 4.7" fill="none"/><path d="M958 1785C962.1 1781.5 970.2 1775.1 982.6 1764.2C995 1753.3 1015.8 1734.1 1032.4 1719.4C1049 1704.7 1065.6 1690.3 1082.2 1676.2C1098.8 1662.1 1115.4 1649.1 1132 1634.7C1148.6 1620.3 1168 1602.2 1181.8 1589.9C1195.6 1577.6 1204.5 1570.3 1215 1561C1225.5 1551.7 1237.2 1541.2 1245 1534C1252.8 1526.8 1259.2 1520.7 1262 1518" stroke="#800080" stroke-width="5.5" stroke-dasharray="10 3" fill="none"/></g><rect x="975.7" y="1300" width="184.2" height="113.1" rx="3.5" fill="#fff" fill-opacity="0.8" stroke="#cccccc" stroke-width="1.6"/><circle cx="998.5" cy="1315.6" r="8.2" fill="#800080"/><circle cx="998.5" cy="1341.1" r="8.2" fill="#ff0000"/><circle cx="998.5" cy="1366.6" r="8.2" fill="#ff8000"/><circle cx="998.5" cy="1392.1" r="8.2" fill="#0000ff"/><g font-family="'DejaVu Sans', 'Liberation Sans', sans-serif" font-size="18.4" fill="#000"><text x="1034" y="1320.9" font-style="italic">R</text><text x="1047" y="1324.9" font-style="italic" font-size="13">e</text><text x="1059.3" y="1320.9">=</text><text x="1076.9" y="1320.9">0.01</text><text x="1034" y="1346.4" font-style="italic">R</text><text x="1047" y="1350.4" font-style="italic" font-size="13">e</text><text x="1059.3" y="1346.4">=</text><text x="1076.9" y="1346.4">0.001</text><text x="1034" y="1371.9" font-style="italic">R</text><text x="1047" y="1375.9" font-style="italic" font-size="13">e</text><text x="1059.3" y="1371.9">=</text><text x="1076.9" y="1371.9">0.0001</text><text x="1034" y="1397.4" font-style="italic">R</text><text x="1047" y="1401.4" font-style="italic" font-size="13">e</text><text x="1059.3" y="1397.4">=</text><text x="1076.9" y="1397.4">0.00001</text></g><rect x="966" y="1290.4" width="655.2" height="487.8" fill="none" stroke="#000" stroke-width="2"/><path d="M966 1778.2v6.5M1075.2 1778.2v6.5M1184.4 1778.2v6.5M1293.6 1778.2v6.5M1402.8 1778.2v6.5M1512 1778.2v6.5M1621.2 1778.2v6.5M959.5 1778.2h6.5M959.5 1680.6h6.5M959.5 1583.1h6.5M959.5 1485.5h6.5M959.5 1388h6.5M959.5 1290.4h6.5" stroke="#000" stroke-width="1.8"/><g font-family="'Liberation Serif', 'Times New Roman', serif" font-size="19.4" fill="#000"><text x="966" y="1804.7" text-anchor="middle">−2</text><text x="1075.2" y="1804.7" text-anchor="middle">−1</text><text x="1184.4" y="1804.7" text-anchor="middle">0</text><text x="1293.6" y="1804.7" text-anchor="middle">1</text><text x="1402.8" y="1804.7" text-anchor="middle">2</text><text x="1512" y="1804.7" text-anchor="middle">3</text><text x="1621.2" y="1804.7" text-anchor="middle">4</text><text x="953" y="1784.8" text-anchor="end">−2</text><text x="953" y="1687.2" text-anchor="end">−1</text><text x="953" y="1589.7" text-anchor="end">0</text><text x="953" y="1492.1" text-anchor="end">1</text><text x="953" y="1394.6" text-anchor="end">2</text><text x="953" y="1297" text-anchor="end">3</text></g><text x="860.7" y="1804.5" font-family="'Liberation Serif', 'Times New Roman', serif" font-size="40.5" letter-spacing="1.3" fill="#000">(f)</text><text x="1294.9" y="1831" font-family="'DejaVu Sans', 'Liberation Sans', sans-serif" font-size="19" text-anchor="middle"><tspan font-style="italic">log</tspan><tspan font-size="13.3" dy="4">10</tspan><tspan dy="-4">(1/|</tspan><tspan font-style="italic">J</tspan>|)</text><text transform="translate(919.8,1534.3) rotate(-90)" font-family="'DejaVu Sans', 'Liberation Sans', sans-serif" font-size="19"><tspan x="-43.3" y="0" font-style="italic">log</tspan><tspan font-size="13.3" dy="4">10</tspan><tspan dy="-4">(</tspan><tspan font-style="italic">n&#770;</tspan><tspan font-style="italic" font-size="13.3" dy="4.5">d</tspan><tspan font-size="13.3" dx="-8.2" dy="-12.5">R</tspan><tspan font-size="9.5" dy="-2">e</tspan><tspan dy="10" dx="1">)</tspan></text><path d="M215.7 1931V2418.8M324.9 1931V2418.8M434.1 1931V2418.8M543.3 1931V2418.8M652.5 1931V2418.8M106.5 2321.2H761.7M106.5 2223.7H761.7M106.5 2126.1H761.7M106.5 2028.6H761.7" stroke="#b0b0b0" stroke-width="1.6" fill="none"/><clipPath id="clip-g"><rect x="106.5" y="1931" width="655.2" height="487.8"/></clipPath><g clip-path="url(#clip-g)"><g filter="url(#soft)"><path d="M104 2406C107.2 2403.7 121.5 2389.1 127 2384C132.5 2378.9 146 2366.6 151 2362C156 2357.4 165.8 2348.6 170 2345C174.2 2341.4 183.5 2334.2 187 2331C190.5 2327.8 197 2321.3 200 2318C203 2314.7 209.7 2306.4 213 2303C216.3 2299.6 223.6 2293.1 228 2289C232.4 2284.9 246.4 2271.7 251 2267.5C255.6 2263.3 262.4 2256.9 267 2253C271.6 2249.1 285.8 2237.5 290 2234C294.2 2230.5 298.9 2225.4 303 2223C307.1 2220.6 320.8 2214.3 325 2213C329.2 2211.7 335.7 2211.5 339 2212C342.3 2212.5 349.7 2215.4 353 2217C356.3 2218.6 364.7 2223.7 367 2226C369.3 2228.3 372.6 2234.8 373 2237C373.4 2239.2 371.6 2243 370 2245C368.4 2247 363.6 2252.1 359 2254C354.4 2255.9 337.5 2259.7 331 2261C324.5 2262.3 307.9 2263.9 303 2265C298.1 2266.1 291.9 2268.2 289 2270C286.1 2271.8 281.5 2277.2 278 2280C274.5 2282.8 263 2290.5 259 2294C255 2297.5 248.9 2305.7 244 2310C239.1 2314.3 221.9 2326.3 217 2331C212.1 2335.7 206.8 2345.3 202 2350C197.2 2354.7 181.2 2366.7 176 2371C170.8 2375.3 161.4 2383.3 157 2387C152.6 2390.7 142.1 2399.2 138 2403C133.9 2406.8 126.4 2417.4 122 2420C117.6 2422.6 102.6 2426.9 100 2425C97.4 2423.1 99.5 2406.2 100 2404C100.5 2401.8 100.8 2408.3 104 2406Z" fill="#c6def0"/><path d="M232.4 2279.2C232.4 2273.9 254 2259.1 260.5 2253.9C267.1 2248.6 282.1 2238.1 288.6 2234.2C295.2 2230.3 310.2 2222.6 316.7 2220.2C323.3 2217.7 336.6 2214.1 344.8 2213.1C353 2212.1 378.8 2210.6 387 2211.7C395.2 2212.9 411.5 2219.7 415.1 2223C418.7 2226.2 419.5 2235.9 417.9 2239.8C416.2 2243.8 407.9 2253.4 401 2256.7C394.1 2260 368.7 2265.6 358.9 2267.9C349 2270.2 324.9 2274.4 316.7 2276.4C308.5 2278.3 295.2 2282.2 288.6 2284.8C282.1 2287.4 267.1 2299.5 260.5 2298.8C254 2298.2 232.4 2284.4 232.4 2279.2Z" fill="#c4ddf0"/><path d="M302.7 2239.8C304 2235.9 324.2 2213 330.8 2206.1C337.3 2199.2 352.3 2184.3 358.9 2180.8C365.4 2177.4 381.7 2176 387 2176.6C392.2 2177.3 402.2 2184 403.8 2186.4C405.5 2188.9 404.6 2194.6 401 2197.7C397.4 2200.8 379.5 2210.2 372.9 2213.1C366.4 2216.1 351.1 2219.9 344.8 2223C338.6 2226.1 324.5 2237.9 319.5 2239.8C314.6 2241.8 301.4 2243.8 302.7 2239.8Z" fill="#f8c69a"/><path d="M105.9 2431.8C113.2 2428.2 144.3 2398.2 156 2387.7C167.7 2377.2 193.8 2352.7 206 2341.7C218.2 2330.7 248.7 2304.5 260.9 2293.8C273.2 2283 301 2258.5 311 2249.7C320.9 2241 338 2226 346.1 2218.6C354.1 2211.3 377.6 2191.8 380.2 2186.6C382.7 2181.3 373.2 2171.3 367.8 2173.4C362.4 2175.6 342 2198 333.9 2205.4C325.9 2212.7 308.9 2227.5 299 2236.3C289.1 2245 261.3 2269.5 249.1 2280.2C236.8 2291 206.3 2317.3 194 2328.3C181.7 2339.3 155.6 2363.8 144 2374.3C132.3 2384.8 98.5 2411.5 94.1 2418.2C89.6 2424.9 98.7 2435.3 105.9 2431.8Z" fill="#f0a060"/><path d="M104.3 2429.9C111.1 2425.9 142.7 2396.3 154.3 2385.8C166 2375.3 192.1 2350.8 204.3 2339.8C216.6 2328.9 247 2302.6 259.3 2291.9C271.5 2281.2 299.4 2256.6 309.3 2247.9C319.2 2239.1 337.3 2223.3 344.4 2216.8C351.5 2210.2 368.5 2195.7 370.5 2191.7C372.5 2187.7 365.6 2180.5 361.5 2182.3C357.4 2184.1 342.7 2200.7 335.6 2207.2C328.5 2213.7 310.6 2229.4 300.7 2238.1C290.8 2246.9 263 2271.4 250.7 2282.1C238.5 2292.8 207.9 2319.2 195.7 2330.2C183.4 2341.1 157.3 2365.7 145.7 2376.2C134 2386.7 100.5 2413.9 95.7 2420.1C90.9 2426.4 97.5 2433.9 104.3 2429.9Z" fill="#862e80"/></g><path d="M232.4 2279.2C232.4 2273.9 254 2259.1 260.5 2253.9C267.1 2248.6 282.1 2238.1 288.6 2234.2C295.2 2230.3 310.2 2222.6 316.7 2220.2C323.3 2217.7 336.6 2214.1 344.8 2213.1C353 2212.1 378.8 2210.6 387 2211.7C395.2 2212.9 411.5 2219.7 415.1 2223C418.7 2226.2 419.5 2235.9 417.9 2239.8C416.2 2243.8 407.9 2253.4 401 2256.7C394.1 2260 368.7 2265.6 358.9 2267.9C349 2270.2 324.9 2274.4 316.7 2276.4C308.5 2278.3 295.2 2282.2 288.6 2284.8C282.1 2287.4 267.1 2299.5 260.5 2298.8C254 2298.2 232.4 2284.4 232.4 2279.2Z" fill="url(#tb)"/><path d="M104 2406C107.2 2403.7 121.5 2389.1 127 2384C132.5 2378.9 146 2366.6 151 2362C156 2357.4 165.8 2348.6 170 2345C174.2 2341.4 183.5 2334.2 187 2331C190.5 2327.8 197 2321.3 200 2318C203 2314.7 209.7 2306.4 213 2303C216.3 2299.6 223.6 2293.1 228 2289C232.4 2284.9 246.4 2271.7 251 2267.5C255.6 2263.3 262.4 2256.9 267 2253C271.6 2249.1 285.8 2237.5 290 2234C294.2 2230.5 298.9 2225.4 303 2223C307.1 2220.6 320.8 2214.3 325 2213C329.2 2211.7 335.7 2211.5 339 2212C342.3 2212.5 349.7 2215.4 353 2217C356.3 2218.6 364.7 2223.7 367 2226C369.3 2228.3 372.6 2234.8 373 2237C373.4 2239.2 371.6 2243 370 2245C368.4 2247 363.6 2252.1 359 2254C354.4 2255.9 337.5 2259.7 331 2261C324.5 2262.3 307.9 2263.9 303 2265C298.1 2266.1 291.9 2268.2 289 2270C286.1 2271.8 281.5 2277.2 278 2280C274.5 2282.8 263 2290.5 259 2294C255 2297.5 248.9 2305.7 244 2310C239.1 2314.3 221.9 2326.3 217 2331C212.1 2335.7 206.8 2345.3 202 2350C197.2 2354.7 181.2 2366.7 176 2371C170.8 2375.3 161.4 2383.3 157 2387C152.6 2390.7 142.1 2399.2 138 2403C133.9 2406.8 126.4 2417.4 122 2420C117.6 2422.6 102.6 2426.9 100 2425C97.4 2423.1 99.5 2406.2 100 2404C100.5 2401.8 100.8 2408.3 104 2406Z" fill="url(#tb)" fill-opacity="0.6"/><path d="M490.5 2077h0m0.5 0h0m1.5 2.5h0m3-0.5h0m1.5 0h0m2-5.5h0m0-1h0m0.5-2h0m0.5 2.5h0m1-4.5h0m1 11h0m1.5-2.5h0m1-8.5h0m0 1.5h0m0.5 9.5h0m1.5-9.5h0m0-1.5h0m5 2h0m0.5 2.5h0m1.5 2h0m1.5 1.5h0m0.5-8.5h0m1 7.5h0m1-3.5h0m1 7.5h0m0-12h0m0 10h0m1.5-4h0m7-1h0m1 5.5h0m3-8h0m3 6.5h0m3-1.5h0m0-5h0m6 3h0m2-2.5h0m7.5 8h0m10.5-9h0m0.5 9h0m5.5-5h0m1.5-3h0m0.5 6.5h0m16.5-5.5h0m9.5 3.5h0m3.5-6.5h0m32.5 5h0m68.5 4.5h0m-255 39.5h0m1-0.5h0m3.5-1.5h0m0.5-0.5h0m1 1h0m2-3.5h0m0.5 4h0m2.5-1.5h0m1 4.5h0m0-14h0m1.5 2h0m1 1.5h0m2.5-4.5h0m0.5 6h0m1 5.5h0m0.5-3h0m1-10.5h0m1 1h0m1 2h0m1.5 1h0m0.5 4.5h0m1-9.5h0m2 17.5h0m4-28h0m1-0.5h0m0 10h0m0-6.5h0m0 2h0m0.5 16.5h0m0-25.5h0m0.5 4h0m0.5 5.5h0m0.5 11h0m0-10h0m1 4h0m2.5-4.5h0m0 15.5h0m1-28h0m0.5 1.5h0m0.5 3h0m0.5 2.5h0m0.5-6.5h0m0 33.5h0m2-32.5h0m1 2h0m0.5 19.5h0m1-17.5h0m0-6h0m0.5 33.5h0m1-37.5h0m0.5 13.5h0m1-1.5h0m1 4h0m0.5 4h0m0-13h0m1 5.5h0m1-7h0m0 31h0m0.5-18.5h0m0.5-13.5h0m0 1h0m0.5 18h0m1.5-12h0m0.5 7.5h0m0.5 17h0m1-24.5h0m1 2.5h0m1 19h0m2.5-9h0m0-18h0m0.5 10h0m0.5 20h0m0.5-25.5h0m0.5 13h0m0.5-20.5h0m2.5 34.5h0m5.5-11.5h0m0.5-16.5h0m0.5 2.5h0m1-10h0m0 20h0m1-4.5h0m0-11.5h0m0.5 26h0m1 7.5h0m1.5-23h0m5.5 18h0m1-30h0m0-0.5h0m1 26h0m0-26.5h0m4.5 26.5h0m2.5 4.5h0m1.5-3h0m0.5 4.5h0m0.5-22h0m1-2.5h0m1-4.5h0m0 3.5h0m0.5 20.5h0m3-25h0m1.5 25.5h0m1.5-28h0m1.5 29.5h0m2.5-17h0m2.5 1.5h0m0-15.5h0m0.5 2h0m6 13h0m2.5-5.5h0m2-11h0m3.5 1.5h0m2.5 15.5h0m0-13.5h0m6 12h0m11.5-9.5h0m2.5-6.5h0m1 28h0m0.5 3h0m11.5-19h0m0 11.5h0m1-22h0m26.5 35h0m0.5-31h0m20.5-5h0m10 4.5h0m0.5 19.5h0m-245.5 35.5h0m3 0.5h0m3.5-4h0m1.5-4.5h0m0.5 6.5h0m3-10h0m2-0.5h0m1.5 9.5h0m2.5-9h0m0.5 8h0m0 3h0m1-9.5h0m0.5 8h0m0-5.5h0m0.5-3h0m1.5 7h0m0.5-3.5h0m1-3h0m1.5 9.5h0m0.5-3h0m5-14h0m0 12h0m0.5-2.5h0m2.5 0.5h0m1 0.5h0m0.5 1.5h0m1-2h0m0.5-3h0m0.5-2.5h0m0 3.5h0m2 9h0m3-13.5h0m0.5-2h0m0.5-1.5h0m1.5-0.5h0m0 1h0m1.5-2.5h0m2 12h0m1-11h0m1 1h0m1.5 17.5h0m5.5-17h0m1.5 14h0m2.5-12.5h0m5-4h0m11.5 16.5h0m6.5-1h0m0.5-2.5h0m0.5-13h0m0.5 13.5h0m0-3.5h0m2-1h0m8 3.5h0m1-7.5h0m5-1.5h0m1.5-3h0m0.5 2.5h0m6.5-1.5h0m6 8h0m3 7.5h0m0.5-13h0m5.5-3.5h0m22 18h0m19.5-10h0m15 1.5h0m2-6h0" stroke="#800080" stroke-width="2.1" stroke-linecap="round" fill="none"/><path d="M404 2158.5h0m3-1h0m1 0.5h0m1.5-0.5h0m1.5-5h0m0.5 1.5h0m1.5-4h0m0.5 6h0m0.5-5h0m1 3h0m0-0.5h0m1-3.5h0m0 8h0m0.5-6h0m0.5-6.5h0m0.5 10.5h0m2-10.5h0m0 14h0m0.5-3h0m0-2.5h0m2-8.5h0m2.5-1.5h0m0.5 11h0m0.5-11h0m1-3.5h0m2.5 12.5h0m0.5-10.5h0m0.5-5.5h0m1.5 20.5h0m0.5-7h0m0-9h0m0 2.5h0m2-12.5h0m0 1.5h0m1 10h0m0 13.5h0m0.5-19h0m1 3h0m1-2h0m1-3h0m0-2.5h0m0.5 25h0m0-3h0m1-29.5h0m0 7.5h0m0 15h0m0.5 11.5h0m0.5-22h0m0 2h0m0.5-1.5h0m0.5-11.5h0m0.5 21h0m0.5 9.5h0m0.5-4.5h0m0.5-19.5h0m1.5 14h0m0-23.5h0m1 1h0m1 20h0m0.5-3h0m1.5 1h0m0.5-5.5h0m0 22.5h0m0.5-29h0m0 9h0m0.5 17.5h0m0-2.5h0m0-24.5h0m0.5 14.5h0m0.5-22h0m0.5 12h0m0.5-9.5h0m0.5 23h0m2 2.5h0m0.5-20.5h0m0.5 9h0m0.5-10h0m1 15.5h0m0.5 0h0m2-23h0m2 30h0m0.5-14.5h0m0.5-2.5h0m0.5-12h0m0.5 4.5h0m0.5-2h0m0.5 13.5h0m1-6.5h0m0.5 11.5h0m0.5-11.5h0m0.5-5h0m0-1h0m0.5 13h0m0.5 7.5h0m0-19h0m0 19h0m1 8.5h0m0-24.5h0m1.5 26.5h0m1-18.5h0m0-17h0m0.5 37h0m0-15h0m0-21h0m0 28.5h0m0-4h0m0.5-6.5h0m2.5-15h0m0.5-3h0m0 20h0m1 4h0m0.5-23h0m1 10.5h0m0.5 10h0m2.5-12h0m0.5 19h0m0.5-10.5h0m1 13h0m1.5-23h0m0.5-6.5h0m0.5 26h0m2.5 9h0m0.5-32h0m0.5 11h0m0 6.5h0m0-19h0m0.5 15.5h0m1.5-4.5h0m0.5-3h0m0.5 2.5h0m0.5 0h0m3-8.5h0m1 26h0m1-24h0m0 5h0m3 20h0m1.5-3.5h0m0.5-24h0m6-2h0m1.5 4h0m1.5 0.5h0m0.5 28h0m1.5 1.5h0m6.5-32h0m3.5-0.5h0m1-4h0m3.5 27h0m9-3.5h0m1.5-14h0m1 14h0m2.5-18h0m4 11.5h0m0.5 19.5h0m4-12h0m7-24.5h0m5 22.5h0m6-9h0m9.5 13.5h0m16.5-4h0m3-11.5h0m6.5 25h0m1.5-12.5h0m8.5 0h0m7 2.5h0m2-24h0m5.5 0h0m1-3h0m5.5 19h0m1 9h0m41-27h0m-294 60.5h0m2-6.5h0m0.5 1.5h0m5.5-6.5h0m1.5 5.5h0m0.5-8h0m0 12.5h0m0.5-15h0m0 3h0m1 9h0m0-8h0m0.5-6h0m7 5h0m1.5 3.5h0m0.5-5h0m0.5 11h0m0.5-18.5h0m1 12.5h0m0.5-2h0m0-9.5h0m0.5 9h0m0-1.5h0m0.5 1.5h0m0 7h0m0.5-3.5h0m0.5 2.5h0m1 1h0m0-6.5h0m1 0h0m1.5-5.5h0m0-3h0m0.5-1.5h0m1 19h0m0-14h0m1 4h0m5 14.5h0m1-17.5h0m1 3h0m0.5 4h0m1.5-4.5h0m1.5-0.5h0m2 14.5h0m0.5-14.5h0m3-9.5h0m0 19h0m0.5-19h0m0 24.5h0m0-13h0m0.5-9.5h0m1.5 6.5h0m0.5-2h0m0.5 18h0m1-8h0m1.5-8h0m1 4.5h0m1.5-5h0m0 17h0m0.5-4.5h0m0.5-4.5h0m2-10.5h0m1 14.5h0m0.5-2.5h0m2-8.5h0m0.5 14h0m4 2h0m1.5-6.5h0m0-3.5h0m1-12h0m10 2h0m2-2.5h0m2 20h0m1-2.5h0m1-14.5h0m7-1h0m1 16h0m1.5-18.5h0m2.5 0.5h0m3 10.5h0m3.5 11.5h0m2.5-18h0m3 4h0m0.5 11h0m1-8h0m0-11.5h0m8.5 18.5h0m5.5-10h0m1.5-10.5h0m3.5 17h0m7.5-5.5h0m4.5 11h0m2.5-2h0m0.5-19h0m6.5 8h0m8.5 5.5h0m0.5-0.5h0m22.5-9h0m9.5 11.5h0m5.5-2h0m55-14h0m41.5 21h0" stroke="#ff0000" stroke-width="2.1" stroke-linecap="round" fill="none"/><path d="M381 2195h0m3.5-2h0m0.5-4.5h0m0.5 9h0m0.5-11.5h0m2 1.5h0m0 8h0m2.5-3.5h0m0-9.5h0m0 10h0m1.5-12h0m1-1.5h0m0 3.5h0m2 5h0m0.5 7h0m0-7.5h0m0.5 6.5h0m0.5-17.5h0m2.5 3.5h0m1.5 16h0m0.5-5h0m1-18h0m0.5 21h0m0-2h0m0 7h0m0-27.5h0m0.5-0.5h0m0 21h0m0-9.5h0m0.5-13h0m1 3h0m0 0h0m1 25h0m0.5-27h0m0.5 1.5h0m1 7h0m0.5-12.5h0m0.5 2h0m0.5-3.5h0m0 12.5h0m0-10.5h0m0.5 3.5h0m0-4.5h0m1 16h0m0-19.5h0m0 21.5h0m1.5 9.5h0m1-6.5h0m0.5-10.5h0m1 4h0m1.5-17h0m0-0.5h0m0.5 9.5h0m0.5 7h0m0-14.5h0m0.5 2.5h0m0.5 2.5h0m0-0.5h0m0-3.5h0m0 6.5h0m2-2.5h0m0-8h0m0.5 2.5h0m1.5 32.5h0m1-7.5h0m0.5-21.5h0m0.5-3h0m0.5 7h0m0-5.5h0m1.5-4h0m0 11.5h0m1.5 0.5h0m0 8h0m0-19h0m0 4h0m1-2h0m0.5 0h0m0.5 7.5h0m1.5 27h0m1-2h0m0.5-3h0m0-12.5h0m1 7.5h0m0.5-23h0m0.5 3.5h0m1 21h0m0.5-26.5h0m3 29.5h0m0.5-7.5h0m0.5-18.5h0m0 18h0m0.5-25h0m2 4.5h0m0.5 14h0m0.5-5.5h0m0 15.5h0m0.5 1h0m1-22h0m0 4.5h0m1 11.5h0m0 2.5h0m1-8.5h0m0-8h0m0 3h0m0.5 8h0m0.5 12h0m0 2h0m0.5-16h0m1-9.5h0m2 15h0m2.5-18.5h0m1 24h0m2-21.5h0m1.5 8h0m1-11h0m0.5 12h0m0.5-4.5h0m2.5 25.5h0m0-26.5h0m0 21.5h0m0.5-31.5h0m2 11h0m1.5-6h0m2 31h0m0.5-11.5h0m1 12h0m1-8.5h0m0.5 8h0m0.5-1h0m0 2h0m1-37.5h0m0.5 23h0m3-4.5h0m2-18h0m0.5 4h0m2.5 6h0m3.5 8.5h0m1 16h0m1-13.5h0m0-18.5h0m1.5-1.5h0m0 4h0m0 4h0m0-8.5h0m0.5 3.5h0m0.5 22h0m0-19.5h0m3-9h0m0.5 28h0m1.5-16.5h0m1 1.5h0m2 10.5h0m0 0h0m8.5-3h0m6 6h0m1.5-9h0m2 20h0m3-19.5h0m8.5-4.5h0m1-11.5h0m3.5 7h0m2.5 1.5h0m0.5 0.5h0m3.5-11h0m1.5 6h0m1.5 27h0m0.5 4h0m1.5-34.5h0m1.5 31.5h0m1-16h0m2 9.5h0m11.5-16h0m4 2.5h0m5.5 6.5h0m0.5-7.5h0m2.5-4h0m3-5h0m15.5 11h0m4 8h0m22-5h0m13-8.5h0m8-6.5h0m7 12h0m-266 26h0m2 7h0m0 8h0m0 5h0m2-6.5h0m0-9.5h0m0-5h0m0.5 4.5h0m0 16.5h0m0.5-14h0m0-6h0m0.5 7.5h0m2 13.5h0m0-8h0m0.5 9h0m0-22h0m1.5 1.5h0m0 6h0m0.5 8h0m0-12.5h0m1.5 12h0m0.5-9.5h0m0-6.5h0m3 0.5h0m0.5 17.5h0m0.5-1.5h0m0.5 3.5h0m1-7.5h0m1.5-4.5h0m0.5 9.5h0m0.5-7.5h0m3.5 12.5h0m0-15.5h0m0.5 3h0m1 6h0m0.5 5h0m0-3.5h0m0-7h0m0.5-6h0m1 12h0m0-14h0m2 9h0m1.5-4h0m0.5-3h0m0-3.5h0m0.5 13.5h0m1-2.5h0m2-3h0m0.5 5h0m0.5-13.5h0m4-0.5h0m0 15h0m5-14.5h0m0 4h0m1 2.5h0m0.5 0h0m0.5 14.5h0m1-19h0m0.5 6.5h0m2-6h0m1 15.5h0m0.5-0.5h0m0.5 0h0m0.5-1h0m5-2h0m0.5 4h0m5-4h0m5-4.5h0m0.5-7.5h0m6 1.5h0m1.5 13.5h0m3-12.5h0m2 0h0m3.5 11h0m0.5 5h0m2.5-21h0m0.5-0.5h0m1 0.5h0m0.5 2h0m3 6.5h0m3.5 0h0m3 2.5h0m0-9.5h0m6 11.5h0m4.5-9.5h0m0.5 3.5h0m6-7h0m4 10.5h0m8.5-6.5h0m0 4h0m1 10.5h0m6.5-19h0m1 8.5h0m3.5 2.5h0m53 12h0m1-10h0m49 0h0m-291.5 65.5h0m3-8h0m11 4.5h0m2.5-8.5h0m5.5 7h0m25.5-14h0m135.5 13.5h0m-247 42.5h0m4.5-0.5h0m24.5 3.5h0m11-31h0m1 3h0m28-5.5h0m27 10.5h0m21 9h0m25 7.5h0m2.5-8h0m6-5h0m21-2.5h0m8.5-14.5h0m60.5 13h0m-278 54.5h0m6 5.5h0m30.5-25h0m22.5 18h0m1.5-16h0m2.5 23h0m4.5 0h0m36-17.5h0m-134 59h0m8-19h0m4 14h0m14.5-7h0m11.5 11.5h0m11.5-22.5h0m15.5 12.5h0m4-19.5h0m2.5 16.5h0m29.5-1.5h0m43.5 0.5h0m-182.5 34.5h0m9.5-4h0m8 5h0m24.5-10h0m44.5 7h0m14.5-5.5h0m2-6h0m21 11.5h0m39.5-13h0m24 7.5h0" stroke="#ffa500" stroke-width="2.1" stroke-linecap="round" fill="none"/><path d="M349.5 2235.5h0m0.5-3.5h0m0 0h0m1.5 3.5h0m0-2h0m2.5 2.5h0m0.5 0.5h0m1.5-4h0m1 1.5h0m0 0h0m0.5-6h0m0-2.5h0m3.5-1h0m0 10.5h0m0.5-12.5h0m0.5-1h0m0 0h0m0 6h0m0.5-4.5h0m0-3h0m0.5 1.5h0m0-1h0m0 17.5h0m0.5-19h0m0 19h0m0-21h0m0.5 4h0m0 13h0m0-9.5h0m1-4.5h0m2 17.5h0m2-4h0m0-11.5h0m0.5-3h0m1-4.5h0m0.5 8.5h0m0.5-10h0m0 25.5h0m1.5-0.5h0m0.5-20.5h0m0.5-1.5h0m0.5-2.5h0m0 2.5h0m3.5 14h0m0.5 2h0m2-9h0m1 8.5h0m1-8.5h0m0 5h0m1-15h0m3 12.5h0m3.5 11h0m1-23h0m1.5 3h0m0.5 0.5h0m0.5 0.5h0m2.5 9.5h0m0-12.5h0m0.5 3h0m0.5 13.5h0m1.5 1.5h0m0.5-6.5h0m0.5 3.5h0m1.5-7.5h0m0-8.5h0m2.5 9.5h0m1-6.5h0m0 0.5h0m0.5 13.5h0m0.5-3h0m1.5-2h0m1 5h0m2.5-2h0m1.5 0h0m1 0.5h0m0.5-14.5h0m0.5 16.5h0m0.5-13.5h0m2 0h0m0.5 6.5h0m0.5-7h0m1 13h0m1.5-11h0m0.5-7h0m1.5 4h0m0 21h0m1-20.5h0m1.5-4h0m0 3h0m0.5 20h0m1.5-22.5h0m3 17h0m1-15h0m2 16.5h0m0.5-19h0m3.5 12h0m0.5-6.5h0m0.5 16.5h0m1-8.5h0m0-1.5h0m2 4.5h0m0.5-1h0m1-5h0m1-7.5h0m1 7h0m0.5 14.5h0m0.5-19.5h0m0 0.5h0m0-2.5h0m0.5 3.5h0m0.5 1.5h0m2 6h0m0.5 8h0m0.5-5h0m1.5-7h0m4-9h0m4 12h0m1-2.5h0m10 0.5h0m1.5-5h0m1 15h0m3.5-19.5h0m5 23.5h0m2-22.5h0m1.5 7.5h0m10.5 11h0m6-1.5h0m10 1h0m4.5-7h0m10 13h0m0.5-24.5h0m0.5 0.5h0m6.5 8.5h0m14.5 8h0m9 4.5h0m0.5-21h0m8 7h0m10.5 10h0m2 5h0m1.5-16h0m23.5 15h0m-276.5 28h0m0-4h0m1.5-7.5h0m1 25h0m1.5-4.5h0m0 5h0m0.5-6.5h0m0.5 7.5h0m0.5-11.5h0m0 9.5h0m2-20h0m0.5-4h0m0.5 22.5h0m1-29.5h0m0 6.5h0m1 9h0m0.5-1h0m0-12.5h0m0.5-2.5h0m0 17h0m0-7h0m1-7h0m0.5 23.5h0m0.5-23h0m1.5 8h0m0.5 4h0m0-10h0m1 11.5h0m0 5.5h0m0-26.5h0m0 14h0m0.5 11.5h0m0 5h0m2-21h0m0.5 2h0m0-7.5h0m1 26.5h0m1 1h0m0-24.5h0m0.5 19.5h0m0 4.5h0m0.5-13h0m0 7h0m0-1h0m0.5 2.5h0m0.5-8h0m0-1h0m1.5-3h0m0.5-13h0m0 20h0m0.5-10.5h0m0.5 2.5h0m1-14h0m0 6h0m0.5 20h0m0.5-16h0m1.5 3.5h0m1 25h0m0-20h0m0.5-17.5h0m0 1h0m0.5 18h0m0.5-15.5h0m0.5 7.5h0m0.5 14h0m0 4h0m0-14h0m2-3.5h0m0-11h0m0.5 10.5h0m0.5-7h0m0 11.5h0m0.5-12.5h0m0.5 19.5h0m1.5-21h0m1 28.5h0m0-17.5h0m0.5 0h0m0-13h0m0 23.5h0m0.5 3h0m1-26.5h0m0.5 26.5h0m1-23h0m0.5-4h0m0.5 0.5h0m0 25.5h0m0 4.5h0m0.5-24.5h0m0 24h0m0.5 8.5h0m1-24h0m0 4h0m1-14h0m0 7.5h0m0 16.5h0m2-27h0m0.5 22.5h0m0.5-19.5h0m3 7.5h0m0-10h0m0.5-3h0m1.5 9h0m0 12h0m1.5 15.5h0m1-19.5h0m0.5 10.5h0m0.5-13h0m0 12h0m1.5-21h0m0.5-5.5h0m1 24.5h0m1 12.5h0m0.5-23.5h0m0 22h0m1-8.5h0m0.5-13.5h0m0.5 7.5h0m2 11h0m0.5-31h0m6.5 4h0m1 19.5h0m1-10.5h0m0.5-14h0m0 9h0m0.5-0.5h0m1.5 0.5h0m4 19.5h0m3.5-12h0m0.5-10.5h0m1 1h0m2.5 0.5h0m1 4.5h0m2-0.5h0m0 9.5h0m2 5.5h0m0-2h0m0.5 10.5h0m1.5-21h0m2-2.5h0m3-8.5h0m17.5 26.5h0m1-13.5h0m2.5 17.5h0m1.5-6h0m0.5-4h0m2-17h0m1 8h0m3-10.5h0m4 27.5h0m5-9.5h0m6.5 13h0m2.5 2.5h0m1-35.5h0m0 7h0m7.5 14.5h0m1 10h0m1-27h0m1.5 9.5h0m5.5-5h0m0.5 0.5h0m1-11.5h0m14.5 11h0m3 0.5h0m30 11h0m37.5 12.5h0m5-14.5h0m16 7h0m24.5-0.5h0m31-24.5h0m9 34h0m24-9h0m-401 46h0m14.5-24.5h0m18-2h0m2-5.5h0m3 31.5h0m2-27.5h0m0 13.5h0m0.5-19h0m0.5 28.5h0m2.5-9h0m1-17h0m3 25h0m1-22h0m0.5-4.5h0m0-0.5h0m1 38.5h0m1.5-36h0m1 11h0m2-8.5h0m2.5 16h0m7-17.5h0m4.5 2.5h0m14.5 25.5h0m12.5-32h0m2 5h0m2.5 15h0m3-20h0m1.5 18h0m1.5-3.5h0m5.5-9h0m3.5-1.5h0m7.5 34h0m10-20.5h0m13.5-12.5h0m22.5-4h0m61.5 5.5h0m125-3h0m-408 70h0m8.5-9h0m5.5 1.5h0m0 7h0m4.5-7.5h0m4 2.5h0m9.5-11.5h0m2.5-8.5h0m15 17.5h0m4 2h0m0.5-11.5h0m3-4.5h0m3 21.5h0m0.5-18.5h0m2 1.5h0m0.5-14h0m2 4h0m5 26.5h0m7.5-3.5h0m11 7h0m3.5-20.5h0m1 4.5h0m2 4h0m11 1.5h0m37.5-14.5h0m15-3.5h0m45.5-7h0m16.5 24h0m62 11h0m-329 44h0m6-1.5h0m2-11h0m1 9h0m2 1.5h0m0.5-11h0m7.5-9.5h0m2 14h0m1.5-11h0m1 16.5h0m0.5-19.5h0m9-7.5h0m1.5-7h0m2 24.5h0m1-17.5h0m5 20h0m3.5 6h0m4.5-35h0m3.5 8.5h0m1.5 5h0m12-12.5h0m1 30h0m17-6.5h0m2-3.5h0m12-17h0m1.5 26h0m5.5-3.5h0m8.5-24.5h0m5.5-1h0m6 25.5h0m0-20.5h0m19 17h0m25 0h0m3-17h0m10.5 2h0m15.5-8h0m30 11.5h0m10 11.5h0m5.5 8.5h0m27.5-22h0m-291.5 43.5h0m17-10h0m1 0.5h0m6.5 4.5h0m7 6h0m17 2h0m82.5-7h0m4 2.5h0m31-8.5h0m13 2h0m1.5-5h0" stroke="#0000ff" stroke-width="2.1" stroke-linecap="round" fill="none"/><path d="M104 2406C107.8 2402.3 119.2 2391.3 127 2384C134.8 2376.7 143.8 2368.5 151 2362C158.2 2355.5 164 2350.2 170 2345C176 2339.8 182 2335.5 187 2331C192 2326.5 195.7 2322.7 200 2318C204.3 2313.3 208.3 2307.8 213 2303C217.7 2298.2 221.7 2294.9 228 2289C234.3 2283.1 244.5 2273.5 251 2267.5C257.5 2261.5 260.5 2258.6 267 2253C273.5 2247.4 284 2239 290 2234C296 2229 297.2 2226.5 303 2223C308.8 2219.5 319 2214.8 325 2213C331 2211.2 334.3 2211.3 339 2212C343.7 2212.7 348.3 2214.7 353 2217C357.7 2219.3 363.7 2222.7 367 2226C370.3 2229.3 372.5 2233.8 373 2237C373.5 2240.2 372.3 2242.2 370 2245C367.7 2247.8 365.5 2251.3 359 2254C352.5 2256.7 340.3 2259.2 331 2261C321.7 2262.8 310 2263.5 303 2265C296 2266.5 293.2 2267.5 289 2270C284.8 2272.5 283 2276 278 2280C273 2284 264.7 2289 259 2294C253.3 2299 251 2303.8 244 2310C237 2316.2 224 2324.3 217 2331C210 2337.7 208.8 2343.3 202 2350C195.2 2356.7 183.5 2364.8 176 2371C168.5 2377.2 163.3 2381.7 157 2387C150.7 2392.3 143.8 2397.5 138 2403C132.2 2408.5 124.7 2417.2 122 2420" stroke="#0000ff" stroke-width="3.0" stroke-dasharray="10 4.7" fill="none"/><path d="M105.6 2431.4C114 2424 139 2402.3 155.7 2387.3C172.4 2372.3 188.2 2357 205.7 2341.3C223.2 2325.7 243.1 2308.7 260.6 2293.4C278.1 2278.1 296.4 2261.9 310.6 2249.4C324.8 2236.9 334.2 2228.8 345.7 2218.3C357.3 2207.7 374.1 2191.5 379.8 2186.2" stroke="#ffa500" stroke-width="3.0" stroke-dasharray="10 4.7" fill="none"/><path d="M94.4 2418.6C102.7 2411.3 127.7 2389.7 144.3 2374.7C161 2359.7 176.8 2344.3 194.3 2328.7C211.8 2313 231.9 2295.9 249.4 2280.6C266.9 2265.3 285.2 2249.1 299.4 2236.6C313.5 2224.1 322.8 2216.2 334.3 2205.7C345.7 2195.3 362.5 2179.1 368.2 2173.8" stroke="#ffa500" stroke-width="3.0" stroke-dasharray="10 4.7" fill="none"/><path d="M103 2428.4C111.3 2421 136.3 2399.3 153 2384.3C169.7 2369.3 185.5 2354 203 2338.4C220.5 2322.7 240.5 2305.7 258 2290.4C275.5 2275.1 293.8 2258.9 308 2246.4C322.2 2233.9 331.5 2225.8 343 2215.3C354.6 2204.8 371.4 2188.6 377.1 2183.3" stroke="#ff0000" stroke-width="3.0" stroke-dasharray="10 4.7" fill="none"/><path d="M97 2421.6C105.4 2414.3 130.3 2392.7 147 2377.7C163.7 2362.7 179.5 2347.3 197 2331.6C214.5 2316 234.5 2299 252 2283.6C269.5 2268.3 287.9 2252.1 302 2239.6C316.2 2227.1 325.5 2219.2 337 2208.7C348.4 2198.2 365.3 2182 370.9 2176.7" stroke="#ff0000" stroke-width="3.0" stroke-dasharray="10 4.7" fill="none"/><path d="M100 2425C108.3 2417.7 133.3 2396 150 2381C166.7 2366 182.5 2350.7 200 2335C217.5 2319.3 237.5 2302.3 255 2287C272.5 2271.7 290.8 2255.5 305 2243C319.2 2230.5 329.8 2221.3 340 2212C350.2 2202.7 361.7 2191.2 366 2187" stroke="#800080" stroke-width="5.5" stroke-dasharray="10 3" fill="none"/><path d="M366 2187C372.5 2181.2 391.8 2164.3 405 2152C418.2 2139.7 438.3 2119.5 445 2113" stroke="#800080" stroke-width="1.5" fill="none"/></g><rect x="116.2" y="1940.6" width="184.2" height="113.1" rx="3.5" fill="#fff" fill-opacity="0.8" stroke="#cccccc" stroke-width="1.6"/><circle cx="139" cy="1956.2" r="8.2" fill="#800080"/><circle cx="139" cy="1981.7" r="8.2" fill="#ff0000"/><circle cx="139" cy="2007.2" r="8.2" fill="#ff8000"/><circle cx="139" cy="2032.7" r="8.2" fill="#0000ff"/><g font-family="'DejaVu Sans', 'Liberation Sans', sans-serif" font-size="18.4" fill="#000"><text x="174.5" y="1961.5" font-style="italic">R</text><text x="187.5" y="1965.5" font-style="italic" font-size="13">e</text><text x="199.8" y="1961.5">=</text><text x="217.4" y="1961.5">0.01</text><text x="174.5" y="1987" font-style="italic">R</text><text x="187.5" y="1991" font-style="italic" font-size="13">e</text><text x="199.8" y="1987">=</text><text x="217.4" y="1987">0.001</text><text x="174.5" y="2012.5" font-style="italic">R</text><text x="187.5" y="2016.5" font-style="italic" font-size="13">e</text><text x="199.8" y="2012.5">=</text><text x="217.4" y="2012.5">0.0001</text><text x="174.5" y="2038" font-style="italic">R</text><text x="187.5" y="2042" font-style="italic" font-size="13">e</text><text x="199.8" y="2038">=</text><text x="217.4" y="2038">0.00001</text></g><rect x="106.5" y="1931" width="655.2" height="487.8" fill="none" stroke="#000" stroke-width="2"/><path d="M106.5 2418.8v6.5M215.7 2418.8v6.5M324.9 2418.8v6.5M434.1 2418.8v6.5M543.3 2418.8v6.5M652.5 2418.8v6.5M761.7 2418.8v6.5M100 2418.8h6.5M100 2321.2h6.5M100 2223.7h6.5M100 2126.1h6.5M100 2028.6h6.5M100 1931h6.5" stroke="#000" stroke-width="1.8"/><g font-family="'Liberation Serif', 'Times New Roman', serif" font-size="19.4" fill="#000"><text x="106.5" y="2445.3" text-anchor="middle">−2</text><text x="215.7" y="2445.3" text-anchor="middle">−1</text><text x="324.9" y="2445.3" text-anchor="middle">0</text><text x="434.1" y="2445.3" text-anchor="middle">1</text><text x="543.3" y="2445.3" text-anchor="middle">2</text><text x="652.5" y="2445.3" text-anchor="middle">3</text><text x="761.7" y="2445.3" text-anchor="middle">4</text><text x="93.5" y="2425.4" text-anchor="end">−2</text><text x="93.5" y="2327.8" text-anchor="end">−1</text><text x="93.5" y="2230.3" text-anchor="end">0</text><text x="93.5" y="2132.7" text-anchor="end">1</text><text x="93.5" y="2035.2" text-anchor="end">2</text><text x="93.5" y="1937.6" text-anchor="end">3</text></g><text x="1.2" y="2445.1" font-family="'Liberation Serif', 'Times New Roman', serif" font-size="40.5" letter-spacing="1.3" fill="#000">(g)</text><text x="435.4" y="2471.6" font-family="'DejaVu Sans', 'Liberation Sans', sans-serif" font-size="19" text-anchor="middle"><tspan font-style="italic">log</tspan><tspan font-size="13.3" dy="4">10</tspan><tspan dy="-4">(1/|</tspan><tspan font-style="italic">J</tspan>|)</text><text transform="translate(60.3,2174.9) rotate(-90)" font-family="'DejaVu Sans', 'Liberation Sans', sans-serif" font-size="19"><tspan x="-43.3" y="0" font-style="italic">log</tspan><tspan font-size="13.3" dy="4">10</tspan><tspan dy="-4">(</tspan><tspan font-style="italic">n&#770;</tspan><tspan font-style="italic" font-size="13.3" dy="4.5">d</tspan><tspan font-size="13.3" dx="-8.2" dy="-12.5">R</tspan><tspan font-size="9.5" dy="-2">e</tspan><tspan dy="10" dx="1">)</tspan></text><path d="M1075.2 1931V2418.8M1184.4 1931V2418.8M1293.6 1931V2418.8M1402.8 1931V2418.8M1512 1931V2418.8M966 2321.2H1621.2M966 2223.7H1621.2M966 2126.1H1621.2M966 2028.6H1621.2" stroke="#b0b0b0" stroke-width="1.6" fill="none"/><clipPath id="clip-h"><rect x="966" y="1931" width="655.2" height="487.8"/></clipPath><g clip-path="url(#clip-h)"><g filter="url(#soft)"><path d="M964 2406C967.1 2403.7 981.5 2389.1 987 2384C992.5 2378.9 1006 2366.6 1011 2362C1016 2357.4 1025.5 2349.2 1030 2345C1034.5 2340.8 1044 2331.6 1050 2326C1056 2320.4 1075.2 2302.9 1081 2297C1086.8 2291.1 1095.6 2280 1100 2275C1104.4 2270 1114.1 2258.9 1119 2254.5C1123.9 2250.1 1137.1 2240.6 1142 2237C1146.9 2233.4 1156 2226.8 1161 2224C1166 2221.2 1180.6 2214.4 1185 2213C1189.4 2211.6 1196.3 2211.2 1199 2212C1201.7 2212.8 1205.7 2218.1 1208 2220C1210.3 2221.9 1216.8 2227.3 1219 2228.6C1221.2 2229.9 1225.8 2230.1 1227 2231.4C1228.2 2232.7 1229.9 2237.7 1229 2240C1228.1 2242.3 1223.4 2248.4 1219 2251C1214.6 2253.6 1196.7 2260.2 1191 2262C1185.3 2263.8 1174 2265.1 1170 2266C1166 2266.9 1161.2 2268.2 1157 2270C1152.8 2271.8 1138.4 2278.3 1134 2281C1129.6 2283.7 1123.4 2288.9 1119 2293C1114.6 2297.1 1101.4 2310.9 1096 2316C1090.6 2321.1 1078.4 2332.3 1073 2337C1067.6 2341.7 1056.2 2351 1050 2356C1043.8 2361 1026.4 2374.9 1020 2380C1013.6 2385.1 999.9 2395.3 995 2400C990.1 2404.7 982.1 2417.1 978 2420C973.9 2422.9 962.1 2426.9 960 2425C957.9 2423.1 959.5 2406.2 960 2404C960.5 2401.8 960.9 2408.3 964 2406Z" fill="#c6def0"/><path d="M1098.1 2282C1099.7 2276.4 1127 2257.3 1134.6 2251.1C1142.1 2244.8 1156.8 2233 1162.7 2228.6C1168.6 2224.2 1180.2 2215.3 1185.2 2213.1C1190.1 2211 1197.6 2210.5 1204.8 2210.3C1212 2210.2 1238.8 2209.3 1247 2211.7C1255.2 2214.2 1271.1 2228.1 1275.1 2231.4C1279 2234.7 1282.3 2237.2 1280.7 2239.8C1279.1 2242.4 1268.2 2250.9 1261 2253.9C1253.8 2256.8 1228.7 2262.5 1218.9 2265.1C1209 2267.7 1184.9 2274.1 1176.7 2276.4C1168.5 2278.6 1155.2 2282.2 1148.6 2284.8C1142.1 2287.4 1126.4 2299.2 1120.5 2298.8C1114.6 2298.5 1096.4 2287.5 1098.1 2282Z" fill="#c4ddf0"/><path d="M1162.7 2239.8C1164 2235.9 1184.2 2213 1190.8 2206.1C1197.3 2199.2 1212.3 2184.8 1218.9 2180.8C1225.4 2176.9 1242.7 2172.4 1247 2172.4C1251.2 2172.4 1255.4 2178.2 1255.4 2180.8C1255.4 2183.4 1251.2 2191.1 1247 2194.9C1242.7 2198.6 1224.5 2209.9 1218.9 2213.1C1213.3 2216.4 1203.8 2219.9 1199.2 2223C1194.6 2226.1 1183.8 2237.9 1179.5 2239.8C1175.3 2241.8 1161.4 2243.8 1162.7 2239.8Z" fill="#f8c69a"/><path d="M965.9 2431.8C973.2 2428.2 1004.3 2398.2 1016 2387.7C1027.7 2377.2 1053.7 2352.8 1066 2341.7C1078.4 2330.6 1109.5 2303.5 1121.9 2292.8C1134.3 2282.1 1162.1 2258.4 1171.9 2249.8C1181.8 2241.1 1198.2 2226 1206.1 2218.6C1214.1 2211.2 1237.6 2191.8 1240.2 2186.6C1242.7 2181.3 1233.2 2171.2 1227.8 2173.4C1222.4 2175.6 1201.8 2198.1 1193.9 2205.4C1186 2212.7 1169.8 2227.6 1160.1 2236.2C1150.3 2244.9 1122.5 2268.5 1110.1 2279.2C1097.7 2289.9 1066.4 2317.2 1054 2328.3C1041.6 2339.4 1015.6 2363.8 1004 2374.3C992.3 2384.8 958.5 2411.5 954.1 2418.2C949.6 2424.9 958.7 2435.3 965.9 2431.8Z" fill="#f0a060"/><path d="M964.3 2429.9C971.1 2425.9 1002.7 2396.3 1014.3 2385.8C1026 2375.3 1052 2350.9 1064.3 2339.8C1076.7 2328.8 1107.9 2301.6 1120.3 2290.9C1132.6 2280.2 1160.5 2256.5 1170.3 2247.9C1180.1 2239.2 1197.4 2223.3 1204.4 2216.8C1211.5 2210.2 1228.5 2195.7 1230.5 2191.7C1232.5 2187.7 1225.6 2180.5 1221.5 2182.3C1217.4 2184.1 1202.5 2200.7 1195.6 2207.2C1188.6 2213.8 1171.5 2229.5 1161.7 2238.1C1151.9 2246.7 1124.1 2270.4 1111.7 2281.1C1099.4 2291.8 1068 2319.1 1055.7 2330.2C1043.3 2341.3 1017.3 2365.7 1005.7 2376.2C994 2386.7 960.5 2413.9 955.7 2420.1C950.9 2426.4 957.5 2433.9 964.3 2429.9Z" fill="#862e80"/></g><path d="M1098.1 2282C1099.7 2276.4 1127 2257.3 1134.6 2251.1C1142.1 2244.8 1156.8 2233 1162.7 2228.6C1168.6 2224.2 1180.2 2215.3 1185.2 2213.1C1190.1 2211 1197.6 2210.5 1204.8 2210.3C1212 2210.2 1238.8 2209.3 1247 2211.7C1255.2 2214.2 1271.1 2228.1 1275.1 2231.4C1279 2234.7 1282.3 2237.2 1280.7 2239.8C1279.1 2242.4 1268.2 2250.9 1261 2253.9C1253.8 2256.8 1228.7 2262.5 1218.9 2265.1C1209 2267.7 1184.9 2274.1 1176.7 2276.4C1168.5 2278.6 1155.2 2282.2 1148.6 2284.8C1142.1 2287.4 1126.4 2299.2 1120.5 2298.8C1114.6 2298.5 1096.4 2287.5 1098.1 2282Z" fill="url(#tb)"/><path d="M964 2406C967.1 2403.7 981.5 2389.1 987 2384C992.5 2378.9 1006 2366.6 1011 2362C1016 2357.4 1025.5 2349.2 1030 2345C1034.5 2340.8 1044 2331.6 1050 2326C1056 2320.4 1075.2 2302.9 1081 2297C1086.8 2291.1 1095.6 2280 1100 2275C1104.4 2270 1114.1 2258.9 1119 2254.5C1123.9 2250.1 1137.1 2240.6 1142 2237C1146.9 2233.4 1156 2226.8 1161 2224C1166 2221.2 1180.6 2214.4 1185 2213C1189.4 2211.6 1196.3 2211.2 1199 2212C1201.7 2212.8 1205.7 2218.1 1208 2220C1210.3 2221.9 1216.8 2227.3 1219 2228.6C1221.2 2229.9 1225.8 2230.1 1227 2231.4C1228.2 2232.7 1229.9 2237.7 1229 2240C1228.1 2242.3 1223.4 2248.4 1219 2251C1214.6 2253.6 1196.7 2260.2 1191 2262C1185.3 2263.8 1174 2265.1 1170 2266C1166 2266.9 1161.2 2268.2 1157 2270C1152.8 2271.8 1138.4 2278.3 1134 2281C1129.6 2283.7 1123.4 2288.9 1119 2293C1114.6 2297.1 1101.4 2310.9 1096 2316C1090.6 2321.1 1078.4 2332.3 1073 2337C1067.6 2341.7 1056.2 2351 1050 2356C1043.8 2361 1026.4 2374.9 1020 2380C1013.6 2385.1 999.9 2395.3 995 2400C990.1 2404.7 982.1 2417.1 978 2420C973.9 2422.9 962.1 2426.9 960 2425C957.9 2423.1 959.5 2406.2 960 2404C960.5 2401.8 960.9 2408.3 964 2406Z" fill="url(#tb)" fill-opacity="0.6"/><path d="M1349 2078.5h0m1 1h0m3.5-5h0m4 1.5h0m0.5-7h0m1.5 4.5h0m0-0.5h0m0.5-0.5h0m0-3.5h0m0 6h0m1-5h0m1 9h0m1-11.5h0m6.5 9.5h0m1.5-10h0m0.5 9h0m0.5-9h0m0 10h0m2.5-9h0m3 1h0m2 7h0m4 0h0m2.5-9.5h0m2 1.5h0m1-4.5h0m0.5 15h0m2.5-2.5h0m1.5-11.5h0m0-0.5h0m2.5 1h0m1.5-0.5h0m1 4h0m0.5 1h0m0 5.5h0m8.5-7h0m1.5 4.5h0m4.5 3.5h0m0-2h0m5.5-3.5h0m2.5-2h0m2.5 11h0m10.5-5.5h0m2-4h0m5.5 1.5h0m1-1h0m0.5-1.5h0m1.5 4h0m12-9h0m3.5 9h0m4 2.5h0m0.5-12h0m4 8h0m18.5-6h0m-183.5 52.5h0m5-4.5h0m4 3h0m0-6.5h0m0 8.5h0m4-3h0m0-2.5h0m1-4h0m0.5-2h0m2 6h0m0.5-2h0m0.5-2.5h0m1 3h0m1-6h0m0-2h0m1 10.5h0m0 3.5h0m1-11.5h0m1-0.5h0m1-7.5h0m0-1h0m0.5 9.5h0m0.5 6h0m0.5-12h0m0.5-0.5h0m0-1h0m1.5-3.5h0m0.5 8.5h0m0 0.5h0m2-1.5h0m1-3h0m0 9h0m0.5-8.5h0m0 9.5h0m0.5-6h0m0.5 12.5h0m0.5-10.5h0m0.5 3h0m1-2h0m1-6.5h0m0-2.5h0m1-2.5h0m0.5 1.5h0m0-7.5h0m0 17h0m3 3.5h0m0.5-25.5h0m0.5 21h0m0.5-13h0m0.5 23h0m0.5-33.5h0m0.5 20.5h0m1.5-1h0m0.5-12.5h0m0.5 10h0m0-16.5h0m0 8.5h0m0.5 13.5h0m0-21.5h0m1 13.5h0m0-9h0m1 11.5h0m0 0h0m0.5-12h0m1-6.5h0m0 5.5h0m2 5h0m2 3.5h0m0.5-14.5h0m0.5 17h0m0.5-17h0m1 2h0m0-0.5h0m0-0.5h0m0.5 33h0m2.5-20h0m0.5-7h0m2.5-3h0m1 18h0m0.5-21.5h0m1 31.5h0m0-8h0m1 9h0m0-17h0m0 15h0m1.5-27h0m3.5 13h0m0.5 1h0m4.5 3h0m3.5-17.5h0m0.5 15h0m2.5 8.5h0m1-23h0m0 3.5h0m3 26.5h0m0-30h0m11 10h0m0.5 8.5h0m0.5 0h0m1.5 16h0m9.5-22.5h0m7 11h0m1.5-25.5h0m1.5 7.5h0m1.5 5.5h0m2.5 15h0m10.5-16h0m2.5 11h0m4-1.5h0m10 10h0m19 4h0m36.5-13h0m21-0.5h0m-252 36.5h0m12 0.5h0m0.5-5.5h0m2-2.5h0m1 1.5h0m1-5.5h0m0.5 9.5h0m3-11.5h0m0.5 11.5h0m0-5h0m2.5-5.5h0m1.5-5h0m0 1h0m0.5 15.5h0m1.5-11h0m0 3.5h0m1.5 5.5h0m1-5h0m1.5-11.5h0m1.5 8.5h0m1.5 1h0m0.5-4.5h0m2.5-0.5h0m0.5-5h0m1.5 6h0m0.5 7h0m0.5 7h0m5.5-19h0m1.5 17.5h0m2-18.5h0m2 18h0m0.5-9.5h0m1-3h0m2 7.5h0m1.5-11h0m1-1.5h0m3 5h0m0.5 2.5h0m3 2h0m3-10h0m2 0h0m0 12.5h0m2.5 4h0m1.5-8.5h0m1.5 8.5h0m4.5 4.5h0m1.5-15h0m0.5 13h0m0.5-13h0m1-5.5h0m4.5 15h0m0-10h0m2 6h0m5-11h0m2.5 16.5h0m0.5-4h0m7-8h0m0.5-2h0m5 11h0m4-9.5h0m5.5 13.5h0m5-11.5h0m1.5 1.5h0m22.5 6.5h0" stroke="#800080" stroke-width="2.1" stroke-linecap="round" fill="none"/><path d="M1269.5 2155.5h0m4-6h0m1-2h0m0.5 5h0m1.5-5.5h0m1 6h0m0.5 4h0m0.5-2.5h0m0.5-4.5h0m1 7h0m0.5-6.5h0m0.5 6.5h0m2 0h0m2.5-2h0m1 1h0m1-7.5h0m1-9h0m0 18h0m0-7h0m0-7.5h0m2-1h0m1 10h0m0.5-11h0m1.5 10.5h0m0.5-7h0m0-13h0m0.5 24h0m2-18.5h0m0.5 20h0m0.5-13h0m0.5-8h0m1 1.5h0m1-6.5h0m0-2.5h0m0.5 22h0m0-13.5h0m0.5-2.5h0m0 14h0m0.5-20.5h0m0 31.5h0m0.5-8h0m0.5-11h0m1-10.5h0m1 28h0m0.5-23h0m0-4h0m0 21h0m1-6h0m0.5-19.5h0m1 20h0m0.5 1.5h0m1.5-6h0m2 0.5h0m1-16h0m0.5 6.5h0m0.5 0.5h0m1 5h0m0-15.5h0m1.5 23.5h0m0 13h0m1-2.5h0m1.5-26.5h0m0.5 27.5h0m0.5-15.5h0m0-2h0m0-15.5h0m0.5 2.5h0m1.5 30.5h0m0-23h0m1 1h0m0.5 14h0m0.5-0.5h0m0.5-3h0m0-19h0m0 13.5h0m1.5-10h0m0 21h0m0.5-11h0m0.5 7.5h0m2-13.5h0m0 1.5h0m0.5 20h0m0.5-0.5h0m1-9h0m0.5-10.5h0m1-13h0m3 0h0m1 32h0m0-29.5h0m0 4.5h0m0.5-8.5h0m1 4h0m0 17h0m1.5-0.5h0m0-18h0m2 2.5h0m2 2.5h0m2-5h0m0.5 3h0m1.5 24h0m0-16h0m0.5-5h0m1 23.5h0m0-11.5h0m0.5 4.5h0m1-24h0m1 26.5h0m0 4.5h0m0.5-8h0m0.5-23h0m1.5 16h0m0 3h0m1-18h0m2 12h0m1.5 11.5h0m0.5-3.5h0m1.5-6h0m0.5-15.5h0m0.5 22h0m1-12h0m1-7h0m1 17h0m1-4h0m3 20.5h0m2-13.5h0m1 9h0m1-18h0m1-8.5h0m0.5 25.5h0m1.5-22h0m0 26h0m1-29h0m3.5 9h0m6-10h0m0.5 18h0m0.5 10h0m2-7.5h0m2.5-8.5h0m2-12h0m1 14h0m4.5-1.5h0m5-8.5h0m7-6.5h0m0.5 12.5h0m7-6.5h0m1 13h0m13.5 9.5h0m5.5 2h0m28-34.5h0m2 21h0m13-11h0m8.5-6h0m22 14h0m-275 43h0m3-0.5h0m0.5-1h0m0.5 3h0m4-3h0m0.5-2h0m0.5-1.5h0m0-2.5h0m0.5 2.5h0m1.5 2h0m1-4.5h0m0-2.5h0m1 7.5h0m1-8h0m1.5 10h0m0.5-9.5h0m0.5 11h0m0.5-8.5h0m0 7h0m0-3h0m0.5-8.5h0m0 5h0m1.5-9h0m0.5 9.5h0m0.5 6h0m2-18.5h0m0.5 9.5h0m0-0.5h0m1.5-4h0m1 13.5h0m0-1.5h0m1 1h0m0-6h0m1-15h0m2 2.5h0m2.5 5.5h0m0.5 15h0m0-6h0m9-5.5h0m2.5 7h0m0.5-6h0m0.5 1.5h0m3 4h0m0.5 0h0m1-18h0m0 13.5h0m1 2.5h0m2-3h0m1 2.5h0m1 2h0m1.5-10.5h0m1 11h0m1.5-9h0m0 14h0m0.5-13.5h0m0.5 14h0m1-22h0m0.5 1h0m1 9h0m0.5-5.5h0m0-2h0m0.5 11.5h0m0 1h0m1.5-15h0m1.5 2h0m0.5 3h0m1.5-4.5h0m0.5 10.5h0m0.5-2h0m0.5 0.5h0m0.5-10h0m3.5 1h0m3 11h0m2-2.5h0m0.5-9h0m3 1.5h0m0.5 18.5h0m0.5-3.5h0m7-2h0m0.5-6.5h0m0 12h0m0.5-5h0m5.5-12.5h0m5.5 12h0m3.5-2.5h0m23-9.5h0m0 20.5h0m9-3.5h0m1-5h0m1-7.5h0m22.5 12.5h0m1-14.5h0m0-3h0m2 11.5h0m2-2h0m4.5-1h0m87-3.5h0" stroke="#ff0000" stroke-width="2.1" stroke-linecap="round" fill="none"/><path d="M1283 2159.5h0m-55 40h0m2 0h0m8 0h0m1-3h0m0.5 2.5h0m1-11.5h0m0 9.5h0m1-1h0m2-1.5h0m1.5-5h0m3.5 7h0m1-9h0m0-6h0m0 1.5h0m0.5 2h0m1 0.5h0m0 9.5h0m0.5-14h0m1 13.5h0m0.5-6h0m0-9.5h0m1 11.5h0m0-2.5h0m0.5-9.5h0m1.5 21h0m0-1.5h0m0 1h0m0.5-7h0m1-15.5h0m0 1h0m1 6.5h0m2 12.5h0m0.5-6h0m2-9h0m1-9.5h0m2 24h0m0.5-5.5h0m0.5-26h0m0 7.5h0m0-4.5h0m1.5 26h0m1.5-11h0m0 5.5h0m0-7h0m1 0.5h0m0 1h0m1.5 11h0m0.5-9.5h0m1 3h0m1-12.5h0m0 24h0m1-24.5h0m0-5h0m0-7.5h0m0 29.5h0m1.5-11h0m0 6h0m1-14.5h0m1-5h0m0-1h0m0 25.5h0m1 3.5h0m0-26.5h0m1 30h0m0-1h0m0.5-32.5h0m1 18.5h0m0-10h0m0.5 10h0m0.5-21.5h0m0 8h0m0 19h0m1-2h0m0-10.5h0m1.5-2.5h0m0.5 12h0m0.5-23h0m0.5 1.5h0m0.5 15.5h0m0.5 8.5h0m1 4h0m0.5-14.5h0m0-17h0m1.5 12h0m0 9h0m0.5 2.5h0m0-16h0m0.5 11.5h0m0.5 15.5h0m1.5-1.5h0m3-24.5h0m0.5 6h0m1.5 18h0m0 1h0m1.5-4h0m1.5-7.5h0m1.5-16.5h0m1.5 30.5h0m1.5-17h0m0 1h0m0-15h0m1.5-0.5h0m0 26.5h0m0.5-16h0m2.5 6.5h0m0.5-9h0m2 3h0m2.5-9.5h0m1 23h0m0.5 2.5h0m0-12h0m2-8.5h0m2 12.5h0m1-14.5h0m1.5 26.5h0m1.5-16h0m0.5-8h0m3-11h0m0 33h0m0-9h0m1.5-13h0m0-4.5h0m0 25h0m0.5-21h0m1.5 14.5h0m1 0.5h0m6-15h0m1.5-0.5h0m0 22.5h0m3-10h0m0.5 14.5h0m2.5-1.5h0m1.5 1.5h0m0.5-14h0m1-15h0m0.5 3.5h0m1-6h0m1 10.5h0m0.5-1h0m0.5 7h0m2.5 1h0m2.5 7.5h0m0.5-6h0m0 2.5h0m1 4h0m1 6.5h0m5-19h0m0.5-13h0m3 0h0m0.5 14.5h0m5.5-16.5h0m6 6h0m0 5.5h0m0-10h0m3.5 17.5h0m1.5-20.5h0m1.5 12.5h0m7.5-12.5h0m1.5 12.5h0m5.5 4.5h0m3.5-4h0m2 8.5h0m1.5 11.5h0m3.5-32h0m3.5 31h0m3.5-24h0m0.5 5.5h0m3-2h0m8-8h0m4 4h0m3 29h0m4.5-36.5h0m6-0.5h0m7.5 28h0m1.5-25.5h0m9.5 27h0m8.5-16.5h0m21-9h0m8.5 16.5h0m-277.5 21.5h0m1 11.5h0m0.5 0.5h0m0.5-11h0m0.5-2h0m0.5 8.5h0m1.5 0.5h0m1-5h0m2.5 4.5h0m1-1.5h0m0.5-1h0m0.5 0.5h0m1.5-7.5h0m0.5 4h0m0 2.5h0m0.5 13h0m0.5-8.5h0m2 2h0m3.5-10h0m1.5 10h0m4.5-11.5h0m1 16h0m1.5-3.5h0m0.5-14.5h0m0.5-1h0m0.5 6.5h0m0.5 2h0m1 11h0m2.5-4.5h0m1-14.5h0m0.5 3.5h0m0.5 0h0m0 4h0m0.5-3.5h0m3-1h0m1.5-3h0m3.5 7.5h0m1 13h0m2.5-16.5h0m4.5-1h0m0.5 3h0m0.5 8h0m3-11.5h0m1.5 0h0m4-2h0m2 9.5h0m7 7h0m4-13h0m0 1.5h0m5.5 8h0m0.5-15h0m1.5 8h0m1-1.5h0m5.5 5h0m1.5-2h0m10-6.5h0m8-2.5h0m2 10.5h0m3.5-1.5h0m1.5-1.5h0m6 7.5h0m2.5 6h0m5-6.5h0m0.5-14h0m3 7.5h0m1.5-8h0m8 11h0m1.5 0h0m17-9h0m0.5 14.5h0m1 1h0m1.5 5h0m15-18h0m3 10h0m6 6.5h0m31-21.5h0m18 23h0m1-10.5h0m26.5-8.5h0m23.5 8.5h0m-318 60h0m4 1.5h0m9.5 3h0m37.5-9h0m14-10.5h0m14.5 7.5h0m0 7h0m1 6.5h0m28.5-2.5h0m-156 19h0m11.5 19.5h0m0-4.5h0m6-28.5h0m30.5 1h0m3 17.5h0m20.5 13.5h0m0.5-23h0m19 25h0m67.5-19.5h0m-134.5 43.5h0m2.5-7.5h0m10.5 1.5h0m1.5 19.5h0m4.5-28h0m44.5 24.5h0m32-5.5h0m104 4.5h0m-319 40h0m11.5-2h0m2 4.5h0m13-19h0m5 23h0m0.5-14h0m31 15h0m22.5-18h0m54.5 11h0m18.5 3h0m35.5-16.5h0m31 7.5h0m-236 33.5h0m3 2h0m10-5h0m46.5-3h0m84.5-2h0m7.5 10.5h0" stroke="#ffa500" stroke-width="2.1" stroke-linecap="round" fill="none"/><path d="M1203 2238.5h0m7-1.5h0m0.5 0h0m2 2h0m1.5-1.5h0m0 1h0m0.5-8.5h0m0 4.5h0m0-6h0m1-3.5h0m2.5 2.5h0m0.5-3.5h0m0.5 14h0m2-9.5h0m0.5 7h0m1-9.5h0m0-0.5h0m1 2.5h0m0 8h0m1-17h0m0-1h0m0.5 6h0m0-5.5h0m0 4.5h0m1.5-0.5h0m0 7.5h0m1-6h0m0-3.5h0m0-1h0m0 8.5h0m1.5-12.5h0m0.5 2h0m0.5 7h0m0-2h0m3 10h0m0.5-19.5h0m1.5 6h0m4 6h0m0-0.5h0m0.5 14.5h0m1-6h0m1-16h0m0.5 11h0m1-8.5h0m2 17.5h0m0-2h0m0.5-16h0m0 4.5h0m0 5.5h0m0-13h0m0 20h0m2-23h0m1 23.5h0m2-10h0m1 7h0m2.5-20.5h0m1.5 0h0m0.5 0.5h0m1-1h0m2.5 5h0m0 4.5h0m0.5 3.5h0m2.5 11.5h0m0.5-20.5h0m1-3h0m3 7h0m0.5-1.5h0m3-5.5h0m0.5 4.5h0m0 19h0m1.5 0.5h0m2-17h0m2 6h0m1-8h0m0.5 12.5h0m0.5 0h0m4.5-10.5h0m0.5 8.5h0m0.5-15.5h0m1.5 25.5h0m1.5-1h0m3.5-6h0m1 0h0m0-12.5h0m1 1h0m0.5 13h0m0-19h0m0.5 3.5h0m3-5.5h0m1.5 20.5h0m2-15h0m1.5 13h0m0-12.5h0m1.5 19h0m4-14h0m0.5 2h0m0.5 4h0m1 7h0m0 2h0m2-17.5h0m6-7.5h0m1.5 8h0m2.5 2.5h0m1 7h0m2.5 3h0m0.5-15h0m1-1h0m6.5 15h0m2-4.5h0m0-1.5h0m1.5 3.5h0m1 7h0m1-23.5h0m1.5 24h0m0.5-14.5h0m2.5-9.5h0m4.5 2.5h0m3-3h0m3 13h0m1.5 7.5h0m12.5 3.5h0m3-4h0m6-2.5h0m6-3h0m5.5 4.5h0m7-14.5h0m2 17h0m3.5-7h0m2.5-7h0m13.5-4h0m7.5 8.5h0m14.5 6h0m-253.5 42.5h0m1 4.5h0m0-12.5h0m1-12h0m0-3.5h0m1 15h0m0.5-15h0m0 28.5h0m0.5-18.5h0m0.5 4h0m0-8h0m1-1.5h0m0 0.5h0m1 8h0m0.5 9.5h0m1 6.5h0m0.5-35.5h0m0 17.5h0m0 10.5h0m0-12h0m0-8h0m0.5-3h0m0.5 0.5h0m0 18.5h0m0.5-11.5h0m0.5 14.5h0m1.5 2.5h0m0-18.5h0m1-9.5h0m0 27.5h0m1 5.5h0m0.5-38h0m0 9h0m0.5 16h0m0.5-21h0m0 23h0m1-17h0m0 15.5h0m1-12.5h0m1.5 23h0m1-27.5h0m0.5-1h0m0.5-2h0m0.5 9h0m0 5h0m1 6h0m0 13h0m1.5-36.5h0m0 7.5h0m1 14.5h0m0-2h0m1.5 6h0m0.5-26.5h0m1.5 30.5h0m2.5-17.5h0m0 11.5h0m0-25.5h0m1.5 25h0m0-15.5h0m1 11.5h0m0-14.5h0m2-1h0m0.5 14.5h0m0.5-8h0m1.5 3h0m0.5 23h0m1.5-2h0m2-28h0m4.5 9h0m0 20h0m0-24h0m0.5 0h0m2 0.5h0m0.5 15.5h0m2.5-10.5h0m0 1h0m0 5.5h0m0 4.5h0m0-18h0m1 8.5h0m1.5-9.5h0m2 18h0m0.5-18.5h0m1 5h0m1-6h0m0.5 16.5h0m0 13h0m0.5-19h0m0.5-5h0m0.5-10h0m2-4.5h0m0.5 30h0m0.5-2h0m2-2.5h0m3-26h0m1 11.5h0m0.5 5h0m0.5-12.5h0m0 8.5h0m1.5 9.5h0m1.5 12h0m1.5-15.5h0m2.5 16h0m1 2.5h0m7-9h0m1-25.5h0m0 27h0m4.5-26h0m4.5 13h0m0 0.5h0m0.5 14.5h0m2-14.5h0m0 15.5h0m1-27.5h0m0 11.5h0m0.5-7h0m1.5 12h0m3 6h0m2-27h0m0.5 22h0m2-3.5h0m0.5-11h0m2.5 20h0m1-5.5h0m1-5h0m0-1h0m0 14.5h0m2-29.5h0m10.5 19h0m4-7.5h0m2.5 11.5h0m5.5-24.5h0m2 12h0m5 0.5h0m0 0h0m3-3h0m2.5 2h0m0 19h0m11.5-22.5h0m0 1.5h0m0.5-10h0m2.5 16h0m0-15.5h0m3 37.5h0m1.5-2.5h0m0-35.5h0m3.5 6h0m20 31h0m2-15h0m11 1.5h0m1.5 15.5h0m1.5-31.5h0m2-0.5h0m39 4.5h0m54 18h0m-328 31h0m3.5-2h0m3 10.5h0m16-27h0m4 1.5h0m2 1h0m1-0.5h0m0 13.5h0m3.5-16.5h0m4 3.5h0m2 29h0m1-31h0m4 23h0m1-21h0m4.5-1.5h0m0.5 2h0m1.5 21.5h0m2.5-25h0m0 36h0m2.5-35.5h0m1.5-2h0m6.5 6.5h0m3.5-1.5h0m2.5 1.5h0m0.5-3h0m1 1h0m3.5-3h0m2.5 7h0m3 16h0m0.5-7h0m0 0.5h0m8-13.5h0m7-4.5h0m3.5 1.5h0m1.5 32.5h0m1.5-21h0m4-11.5h0m7 4h0m5 1.5h0m1.5-3h0m3-0.5h0m18 0.5h0m5 2.5h0m14 12.5h0m24.5-16h0m21.5-1.5h0m7.5 4h0m-277 64h0m4 8.5h0m2-7h0m4.5 2h0m7.5-5.5h0m13.5-23h0m3 14.5h0m1 11h0m1.5 2h0m3-25h0m3 7h0m13.5 9h0m1 1.5h0m2.5-9h0m6-8h0m7.5 2.5h0m2 1.5h0m6-4h0m3 28h0m7.5-17.5h0m1 15.5h0m15-32h0m13 7h0m48.5-4h0m12 34h0m30.5-30h0m15 27.5h0m93.5-18.5h0m-373 58.5h0m5.5-9.5h0m4.5 7h0m4-2h0m0.5-5.5h0m13-17h0m12.5-9h0m2 26h0m3.5-2.5h0m8.5-16.5h0m10 25h0m3-20h0m9-1.5h0m1 15h0m12 8.5h0m22.5-22.5h0m6.5 23h0m4 3h0m13.5-18h0m0.5-17.5h0m20 21h0m19.5-3h0m27 7h0m74.5 0.5h0m-292.5 31h0m1-12.5h0m32-4.5h0m1 13h0m21-14.5h0m0 0.5h0m5.5 17.5h0m34-15h0m26 3h0m8 2.5h0m21.5 5.5h0m54-14h0m88.5 16.5h0m41-1h0" stroke="#0000ff" stroke-width="2.1" stroke-linecap="round" fill="none"/><path d="M964 2406C967.8 2402.3 979.2 2391.3 987 2384C994.8 2376.7 1003.8 2368.5 1011 2362C1018.2 2355.5 1023.5 2351 1030 2345C1036.5 2339 1041.5 2334 1050 2326C1058.5 2318 1072.7 2305.5 1081 2297C1089.3 2288.5 1093.7 2282.1 1100 2275C1106.3 2267.9 1112 2260.8 1119 2254.5C1126 2248.2 1135 2242.1 1142 2237C1149 2231.9 1153.8 2228 1161 2224C1168.2 2220 1178.7 2215 1185 2213C1191.3 2211 1195.2 2210.8 1199 2212C1202.8 2213.2 1204.7 2217.2 1208 2220C1211.3 2222.8 1215.8 2226.7 1219 2228.6C1222.2 2230.5 1225.3 2229.5 1227 2231.4C1228.7 2233.3 1230.3 2236.7 1229 2240C1227.7 2243.3 1225.3 2247.3 1219 2251C1212.7 2254.7 1199.2 2259.5 1191 2262C1182.8 2264.5 1175.7 2264.7 1170 2266C1164.3 2267.3 1163 2267.5 1157 2270C1151 2272.5 1140.3 2277.2 1134 2281C1127.7 2284.8 1125.3 2287.2 1119 2293C1112.7 2298.8 1103.7 2308.7 1096 2316C1088.3 2323.3 1080.7 2330.3 1073 2337C1065.3 2343.7 1058.8 2348.8 1050 2356C1041.2 2363.2 1029.2 2372.7 1020 2380C1010.8 2387.3 1002 2393.3 995 2400C988 2406.7 980.8 2416.7 978 2420" stroke="#0000ff" stroke-width="3.0" stroke-dasharray="10 4.7" fill="none"/><path d="M965.6 2431.4C974 2424 999 2402.3 1015.7 2387.3C1032.4 2372.3 1048 2357.1 1065.7 2341.3C1083.3 2325.5 1103.9 2307.7 1121.6 2292.4C1139.2 2277.1 1157.6 2261.7 1171.6 2249.4C1185.7 2237 1194.4 2228.8 1205.8 2218.2C1217.1 2207.7 1234.2 2191.5 1239.8 2186.2" stroke="#ffa500" stroke-width="3.0" stroke-dasharray="10 4.7" fill="none"/><path d="M954.4 2418.6C962.7 2411.3 987.7 2389.7 1004.3 2374.7C1021 2359.7 1036.6 2344.5 1054.3 2328.7C1072 2312.8 1092.8 2294.9 1110.4 2279.6C1128.1 2264.2 1146.4 2248.9 1160.4 2236.6C1174.3 2224.3 1182.9 2216.2 1194.2 2205.8C1205.5 2195.3 1222.5 2179.1 1228.2 2173.8" stroke="#ffa500" stroke-width="3.0" stroke-dasharray="10 4.7" fill="none"/><path d="M963 2428.4C971.3 2421 996.3 2399.3 1013 2384.3C1029.7 2369.3 1045.3 2354.2 1063 2338.4C1080.7 2322.5 1101.3 2304.7 1118.9 2289.4C1136.6 2274.1 1155 2258.7 1169 2246.4C1183 2234 1191.7 2225.8 1203.1 2215.3C1214.4 2204.8 1231.4 2188.6 1237.1 2183.3" stroke="#ff0000" stroke-width="3.0" stroke-dasharray="10 4.7" fill="none"/><path d="M957 2421.6C965.4 2414.3 990.3 2392.7 1007 2377.7C1023.7 2362.7 1039.3 2347.5 1057 2331.6C1074.7 2315.8 1095.4 2297.9 1113.1 2282.6C1130.7 2267.3 1149 2251.9 1163 2239.6C1177 2227.3 1185.6 2219.2 1196.9 2208.7C1208.3 2198.2 1225.3 2182.1 1230.9 2176.7" stroke="#ff0000" stroke-width="3.0" stroke-dasharray="10 4.7" fill="none"/><path d="M960 2425C968.3 2417.7 993.3 2396 1010 2381C1026.7 2366 1042.3 2350.8 1060 2335C1077.7 2319.2 1098.3 2301.3 1116 2286C1133.7 2270.7 1152 2255.3 1166 2243C1180 2230.7 1190 2221.3 1200 2212C1210 2202.7 1221.7 2191.2 1226 2187" stroke="#800080" stroke-width="5.5" stroke-dasharray="10 3" fill="none"/><path d="M1226 2187C1232.5 2181.2 1252.7 2163.5 1265 2152C1277.3 2140.5 1294.2 2123.7 1300 2118" stroke="#800080" stroke-width="1.5" fill="none"/></g><rect x="975.7" y="1940.6" width="184.2" height="113.1" rx="3.5" fill="#fff" fill-opacity="0.8" stroke="#cccccc" stroke-width="1.6"/><circle cx="998.5" cy="1956.2" r="8.2" fill="#800080"/><circle cx="998.5" cy="1981.7" r="8.2" fill="#ff0000"/><circle cx="998.5" cy="2007.2" r="8.2" fill="#ff8000"/><circle cx="998.5" cy="2032.7" r="8.2" fill="#0000ff"/><g font-family="'DejaVu Sans', 'Liberation Sans', sans-serif" font-size="18.4" fill="#000"><text x="1034" y="1961.5" font-style="italic">R</text><text x="1047" y="1965.5" font-style="italic" font-size="13">e</text><text x="1059.3" y="1961.5">=</text><text x="1076.9" y="1961.5">0.01</text><text x="1034" y="1987" font-style="italic">R</text><text x="1047" y="1991" font-style="italic" font-size="13">e</text><text x="1059.3" y="1987">=</text><text x="1076.9" y="1987">0.001</text><text x="1034" y="2012.5" font-style="italic">R</text><text x="1047" y="2016.5" font-style="italic" font-size="13">e</text><text x="1059.3" y="2012.5">=</text><text x="1076.9" y="2012.5">0.0001</text><text x="1034" y="2038" font-style="italic">R</text><text x="1047" y="2042" font-style="italic" font-size="13">e</text><text x="1059.3" y="2038">=</text><text x="1076.9" y="2038">0.00001</text></g><rect x="966" y="1931" width="655.2" height="487.8" fill="none" stroke="#000" stroke-width="2"/><path d="M966 2418.8v6.5M1075.2 2418.8v6.5M1184.4 2418.8v6.5M1293.6 2418.8v6.5M1402.8 2418.8v6.5M1512 2418.8v6.5M1621.2 2418.8v6.5M959.5 2418.8h6.5M959.5 2321.2h6.5M959.5 2223.7h6.5M959.5 2126.1h6.5M959.5 2028.6h6.5M959.5 1931h6.5" stroke="#000" stroke-width="1.8"/><g font-family="'Liberation Serif', 'Times New Roman', serif" font-size="19.4" fill="#000"><text x="966" y="2445.3" text-anchor="middle">−2</text><text x="1075.2" y="2445.3" text-anchor="middle">−1</text><text x="1184.4" y="2445.3" text-anchor="middle">0</text><text x="1293.6" y="2445.3" text-anchor="middle">1</text><text x="1402.8" y="2445.3" text-anchor="middle">2</text><text x="1512" y="2445.3" text-anchor="middle">3</text><text x="1621.2" y="2445.3" text-anchor="middle">4</text><text x="953" y="2425.4" text-anchor="end">−2</text><text x="953" y="2327.8" text-anchor="end">−1</text><text x="953" y="2230.3" text-anchor="end">0</text><text x="953" y="2132.7" text-anchor="end">1</text><text x="953" y="2035.2" text-anchor="end">2</text><text x="953" y="1937.6" text-anchor="end">3</text></g><text x="860.7" y="2445.1" font-family="'Liberation Serif', 'Times New Roman', serif" font-size="40.5" letter-spacing="1.3" fill="#000">(h)</text><text x="1294.9" y="2471.6" font-family="'DejaVu Sans', 'Liberation Sans', sans-serif" font-size="19" text-anchor="middle"><tspan font-style="italic">log</tspan><tspan font-size="13.3" dy="4">10</tspan><tspan dy="-4">(1/|</tspan><tspan font-style="italic">J</tspan>|)</text><text transform="translate(919.8,2174.9) rotate(-90)" font-family="'DejaVu Sans', 'Liberation Sans', sans-serif" font-size="19"><tspan x="-43.3" y="0" font-style="italic">log</tspan><tspan font-size="13.3" dy="4">10</tspan><tspan dy="-4">(</tspan><tspan font-style="italic">n&#770;</tspan><tspan font-style="italic" font-size="13.3" dy="4.5">d</tspan><tspan font-size="13.3" dx="-8.2" dy="-12.5">R</tspan><tspan font-size="9.5" dy="-2">e</tspan><tspan dy="10" dx="1">)</tspan></text></svg></body></html>
